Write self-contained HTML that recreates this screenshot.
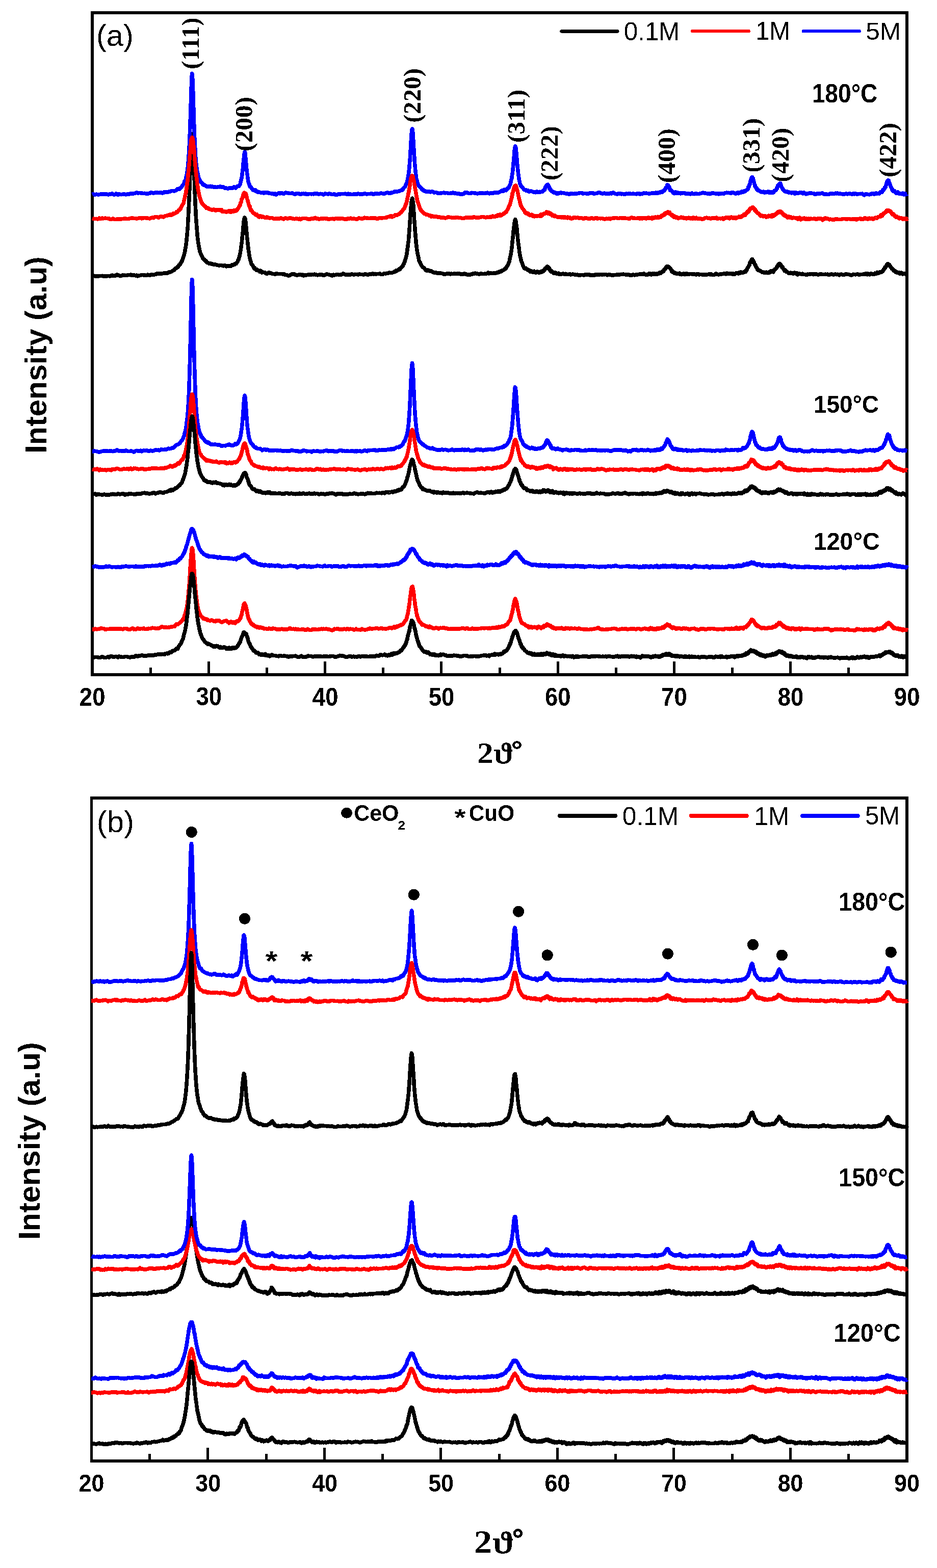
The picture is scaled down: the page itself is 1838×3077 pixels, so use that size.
<!DOCTYPE html>
<html><head><meta charset="utf-8"><title>XRD</title>
<style>html,body{margin:0;padding:0;background:#fff;}svg{display:block;}</style>
</head><body>
<svg width="1838" height="3077" viewBox="0 0 1838 3077" shape-rendering="crispEdges">
<defs><filter id="bin" x="0" y="0" width="100%" height="100%" filterUnits="userSpaceOnUse"><feComponentTransfer><feFuncA type="discrete" tableValues="0 1"/></feComponentTransfer></filter></defs>
<rect width="1838" height="3077" fill="#fff"/>
<rect x="181.0" y="25.0" width="1598.0" height="1298.5" fill="none" stroke="#000" stroke-width="6.0"/>
<line x1="181.0" y1="1323.5" x2="181.0" y2="1297.5" stroke="#000" stroke-width="5"/>
<line x1="295.1" y1="1323.5" x2="295.1" y2="1309.5" stroke="#000" stroke-width="5"/>
<line x1="409.3" y1="1323.5" x2="409.3" y2="1297.5" stroke="#000" stroke-width="5"/>
<line x1="523.4" y1="1323.5" x2="523.4" y2="1309.5" stroke="#000" stroke-width="5"/>
<line x1="637.6" y1="1323.5" x2="637.6" y2="1297.5" stroke="#000" stroke-width="5"/>
<line x1="751.7" y1="1323.5" x2="751.7" y2="1309.5" stroke="#000" stroke-width="5"/>
<line x1="865.9" y1="1323.5" x2="865.9" y2="1297.5" stroke="#000" stroke-width="5"/>
<line x1="980.0" y1="1323.5" x2="980.0" y2="1309.5" stroke="#000" stroke-width="5"/>
<line x1="1094.1" y1="1323.5" x2="1094.1" y2="1297.5" stroke="#000" stroke-width="5"/>
<line x1="1208.3" y1="1323.5" x2="1208.3" y2="1309.5" stroke="#000" stroke-width="5"/>
<line x1="1322.4" y1="1323.5" x2="1322.4" y2="1297.5" stroke="#000" stroke-width="5"/>
<line x1="1436.6" y1="1323.5" x2="1436.6" y2="1309.5" stroke="#000" stroke-width="5"/>
<line x1="1550.7" y1="1323.5" x2="1550.7" y2="1297.5" stroke="#000" stroke-width="5"/>
<line x1="1664.9" y1="1323.5" x2="1664.9" y2="1309.5" stroke="#000" stroke-width="5"/>
<line x1="1779.0" y1="1323.5" x2="1779.0" y2="1297.5" stroke="#000" stroke-width="5"/>
<rect x="179.3" y="1565.8" width="1599.6" height="1301.0" fill="none" stroke="#000" stroke-width="5.6"/>
<line x1="179.3" y1="2866.8" x2="179.3" y2="2840.8" stroke="#000" stroke-width="5"/>
<line x1="293.6" y1="2866.8" x2="293.6" y2="2852.8" stroke="#000" stroke-width="5"/>
<line x1="407.8" y1="2866.8" x2="407.8" y2="2840.8" stroke="#000" stroke-width="5"/>
<line x1="522.1" y1="2866.8" x2="522.1" y2="2852.8" stroke="#000" stroke-width="5"/>
<line x1="636.3" y1="2866.8" x2="636.3" y2="2840.8" stroke="#000" stroke-width="5"/>
<line x1="750.6" y1="2866.8" x2="750.6" y2="2852.8" stroke="#000" stroke-width="5"/>
<line x1="864.8" y1="2866.8" x2="864.8" y2="2840.8" stroke="#000" stroke-width="5"/>
<line x1="979.1" y1="2866.8" x2="979.1" y2="2852.8" stroke="#000" stroke-width="5"/>
<line x1="1093.4" y1="2866.8" x2="1093.4" y2="2840.8" stroke="#000" stroke-width="5"/>
<line x1="1207.6" y1="2866.8" x2="1207.6" y2="2852.8" stroke="#000" stroke-width="5"/>
<line x1="1321.9" y1="2866.8" x2="1321.9" y2="2840.8" stroke="#000" stroke-width="5"/>
<line x1="1436.1" y1="2866.8" x2="1436.1" y2="2852.8" stroke="#000" stroke-width="5"/>
<line x1="1550.4" y1="2866.8" x2="1550.4" y2="2840.8" stroke="#000" stroke-width="5"/>
<line x1="1664.6" y1="2866.8" x2="1664.6" y2="2852.8" stroke="#000" stroke-width="5"/>
<line x1="1778.9" y1="2866.8" x2="1778.9" y2="2840.8" stroke="#000" stroke-width="5"/>
<polyline fill="none" stroke="#000000" stroke-width="7.6" stroke-linejoin="round" stroke-linecap="butt" points="365.2,478.6 366,470.8 366.8,462.6 367.6,453.4 368,449 368.4,444.3 368.7,436.7 369.1,429.9 369.4,424.2 369.8,417.1 370.2,409.4 370.5,400.9 370.9,392.3 371.3,385.5 371.6,376.4 372,367.2 372.4,357.1 372.7,344.7 373.1,335.8 373.5,325.8 373.8,316.6 374.2,307.4 374.6,296.9 374.9,287.3 375.3,279.5 375.7,272.2 376,268.1 376.4,264.4 376.8,263.2 377.1,262.9 377.5,264.4 377.9,268.9 378.2,275.2 378.6,281.3 378.9,289.7 379.3,297.1 379.7,306.4 380,316.7 380.4,328.6 380.8,338.9 381.1,348.7 381.5,358.1 381.9,369.1 382.2,378.5 382.6,387.1 383,395.9 383.3,403.7 383.7,411 384.1,419.4 384.4,425.1 384.8,430.8 385.2,435.6 385.5,441.2 385.9,445.2 386.3,450.4 386.6,454.8 387.4,464.8 388.2,470.9 389,476.9 389.8,481.8"/>
<polyline fill="none" stroke="#0000ff" stroke-width="7.6" stroke-linejoin="round" stroke-linecap="butt" points="181,381.9 182.9,380.9 184.9,381.8 186.8,382.1 188.8,381.1 190.7,381.6 192.6,381.9 194.6,381.7 196.5,381.4 198.5,380.9 200.4,380.8 202.3,381.2 204.3,381.1 206.2,380.8 208.2,380.9 210.1,381.2 212,382 214,381.5 215.9,380.3 217.9,381 219.8,379.8 221.7,381.1 223.7,382.2 225.6,381.7 227.6,380.1 229.5,380.7 231.5,382.4 233.4,380.9 235.3,381.2 237.3,381.8 239.2,381.4 241.2,381.1 243.1,381.2 245,381.1 247,381.9 248.9,381.2 250.9,380.3 252.8,381.3 254.7,380.2 256.7,379.9 258.6,379.7 260.6,380.3 262.5,379.7 264.4,379.3 266.4,378.4 268.3,378 270.3,379.1 272.2,378.9 274.1,378.4 276.1,379 278,379 280,379.7 281.9,379.5 283.8,379.3 285.8,379.7 287.7,380.1 289.7,380 291.6,379.7 293.5,379.6 295.5,377.8 297.4,378 299.4,378.6 301.3,379.3 303.2,378.3 305.2,377.8 307.1,378 309.1,377.8 311,378.4 312.9,378.3 314.9,377.4 316.8,378 318.8,379.1 320.7,378.3 322.7,376.5 324.6,377.2 326.5,376.8 328.5,377.6 330.4,376.3 332.4,375.6 334.3,375.9 336.2,374.8 338.2,374.4 340.1,374.7 342.1,374.8 344,374.5 345.9,373.1 347.9,370.9 349.8,371.3 351.8,371.4 352.6,369.8 353.4,370.1 354.2,369 355,367.9 355.8,367.3 356.6,366.2 357.4,364.7 358.1,363.9 358.9,363 359.7,361.6 360.5,360.5 361.3,358.4 362.1,355.6 362.9,354.6 363.7,353.2 364.5,350.8 365.3,346.7 366.1,343.3 366.9,339.4 367.7,333.5 368.5,326.2 369.3,317.2 370.1,306.5 370.5,301.4 370.9,295.7 371.2,288.8 371.6,280.3 372,271.6 372.3,263.2 372.7,253.7 373.1,241.8 373.4,230.1 373.8,219.5 374.2,208.6 374.5,195.6 374.9,185 375.2,172.8 375.6,162.9 376,153.8 376.3,148.4 376.7,144.3 377.1,145.4 377.4,148.6 377.8,155.2 378.2,162.9 378.5,172.8 378.9,184.7 379.3,197.1 379.6,207.9 380,220.5 380.4,233.3 380.7,243.8 381.1,254.1 381.5,264.4 381.8,272.5 382.2,280.6 382.6,287.7 382.9,293.2 383.3,299.7 383.6,306.8 384.4,318.2 385.2,324.7 386,330.4 386.8,335.4 387.6,338.9 388.4,343.3 389.2,347.1 390,349.2 390.8,351.4 391.6,352.4 392.4,355.4 393.2,356.9 394,357.2 394.8,357.8 395.6,358.5 396.4,359.3 397.2,361.1 398,361.2 398.8,362.8 399.6,363.1 400.4,362.5 401.2,362.7 402,363.6 402.8,364.1 404.8,365.9 406.7,365.9 408.6,366.3 410.6,366.2 412.5,365.3 414.5,366.7 416.4,366 418.3,367 420.3,367.7 422.2,366.8 424.2,367.4 426.1,367.2 428.1,366.5 430,366.8 431.9,365.9 433.9,367.4 435.8,366.8 437.8,366.5 439.7,368.1 441.6,369.4 443.6,368.9 445.5,369.8 447.5,370 449.4,369.1 451.3,369.1 453.3,368.4 455.2,369.6 456,369 456.8,368.4 457.6,368.3 458.4,367.6 459.2,366.8 460,368.2 460.8,367.9 461.6,368.2 462.4,368.8 463.2,367.4 464,367 464.8,365.8 465.6,366.1 466.4,365.7 467.2,365.2 468,365.7 468.8,365.4 469.6,363.7 470.4,362 471.2,361.7 472,356.6 472.8,354.1 473.6,350.2 474,350.1 474.3,347.2 474.7,344.8 475.1,341.2 475.4,338.5 475.8,335.3 476.2,332.3 476.5,328.9 476.9,324.6 477.2,320.2 477.6,316.8 478,313.8 478.3,309.9 478.7,306.3 479.1,303.9 479.4,300.8 479.8,299.6 480.2,297.6 480.5,299.5 480.9,300.2 481.3,304.1 481.6,308.4 482,311.3 482.4,316.2 482.7,320.7 483.1,323.9 483.5,327.2 483.8,332.1 484.2,336 484.6,338.9 484.9,342 485.3,343.4 485.6,346.8 486,349.8 486.4,352.5 486.7,354.3 487.1,356.7 487.9,359.2 488.7,360.8 489.5,364 490.3,366.4 491.1,366.4 491.9,366.6 492.7,368.2 493.5,369.3 494.3,370.2 495.1,370.6 495.9,372.7 496.7,373.2 497.5,372.8 498.3,373.2 499.1,373.1 499.9,373.6 500.7,374.6 501.5,373.1 502.3,373.8 503.1,375.7 503.9,376.4 504.7,376 505.5,377 506.3,376.3 508.2,376.7 510.2,377.6 512.1,378.4 514,378.4 516,377.8 517.9,379 519.9,378 521.8,378.1 523.7,378 525.7,377.9 527.6,379.4 529.6,379.3 531.5,379.8 533.5,379.8 535.4,379.9 537.3,380.9 539.3,379.9 541.2,382 543.2,381 545.1,379.3 547,378.9 549,379.8 550.9,378.9 552.9,378.7 554.8,379.3 556.7,380.6 558.7,378.8 560.6,378 562.6,378.8 564.5,378.4 566.4,379.5 568.4,379.3 570.3,379.7 572.3,379.2 574.2,379.2 576.1,380.4 578.1,381.5 580,380.7 582,379.4 583.9,379.7 585.8,379.9 587.8,380.6 589.7,381.6 591.7,380.2 593.6,380.7 595.5,380.1 597.5,380.7 599.4,380 601.4,381.6 603.3,381 605.2,380.8 607.2,380.4 609.1,380.3 611.1,380.8 613,380.4 614.9,380.9 616.9,380 618.8,380.3 620.8,380.1 622.7,380.1 624.7,381.2 626.6,380.8 628.5,380.3 630.5,380.4 632.4,380.9 634.4,382 636.3,381.4 638.2,379.8 640.2,380.5 642.1,380.7 644.1,381 646,379.6 647.9,380.5 649.9,381.4 651.8,381.6 653.8,381.5 655.7,380.5 657.6,382.2 659.6,382.7 661.5,382 663.5,381 665.4,380.7 667.3,380.8 669.3,380.7 671.2,380.4 673.2,380.6 675.1,380.5 677,380.2 679,380.5 680.9,381.6 682.9,380.2 684.8,381.5 686.7,380.5 688.7,381.4 690.6,381.6 692.6,381.2 694.5,381.4 696.4,380.9 698.4,380.4 700.3,381.4 702.3,379.9 704.2,380.4 706.1,381.2 708.1,381 710,380.7 712,380.8 713.9,380.4 715.9,379.6 717.8,380.4 719.7,381.1 721.7,380.3 723.6,380.4 725.6,380.7 727.5,379.9 729.4,379.7 731.4,380.9 733.3,381.2 735.3,380.2 737.2,379.9 739.1,379.6 741.1,380.2 743,380.5 745,379.8 746.9,379.1 748.8,379.3 750.8,379.8 752.7,380.2 754.7,380 756.6,379 758.5,378.2 760.5,378.1 762.4,379 764.4,378.9 766.3,379 768.2,377.4 770.2,377.8 772.1,377.3 774.1,375.7 776,376.3 777.9,376.3 779.9,375.9 781.8,375.2 782.6,375.3 783.4,374.9 784.2,374.4 785,374.5 785.8,373.7 786.6,373.4 787.4,373.6 788.2,372.8 789,372.4 789.8,372.9 790.6,370.5 791.4,370.4 792.2,368.2 793,367.4 793.8,367 794.6,366.1 795.4,364.2 796.2,361.7 797,360.4 797.8,359.4 798.6,356.1 799.4,353 800.2,349.4 801,344.5 801.8,338.9 802.2,336.1 802.5,332.3 802.9,328.9 803.3,323.1 803.6,318.7 804,314.1 804.4,310.4 804.7,304.3 805.1,297.3 805.5,292.1 805.8,284.6 806.2,278.6 806.5,272.5 806.9,265.2 807.3,261.2 807.6,256.9 808,253.8 808.4,253.7 808.7,252.9 809.1,254.3 809.5,256 809.8,259.8 810.2,265.5 810.6,271 810.9,278.6 811.3,284.8 811.7,291.1 812,296.9 812.4,303 812.8,308 813.1,314 813.5,320 813.9,323.3 814.2,326.8 814.6,331.7 814.9,336 815.3,339.1 815.7,341.9 816,345.2 816.8,351.2 817.6,353 818.4,356.8 819.2,358.5 820,361.8 820.8,363.5 821.6,364.7 822.4,365.2 823.2,365.7 824,367 824.8,368 825.6,369.1 826.4,369.5 827.2,370.9 828,372.4 828.8,372.8 829.6,371.8 830.4,373 831.2,374.2 832,374.9 832.8,375.1 833.6,374.7 834.4,375.6 835.2,375.9 836,375.6 838,376.5 839.9,375.6 841.8,375.8 843.8,376.9 845.7,376.2 847.7,376.2 849.6,376.3 851.5,378 853.5,377.4 855.4,377.7 857.4,378.7 859.3,379.1 861.2,379.6 863.2,379.2 865.1,379 867.1,378.7 869,378.3 870.9,378.1 872.9,378.8 874.8,378.5 876.8,378.3 878.7,379 880.7,379.7 882.6,379.4 884.5,378.4 886.5,379.3 888.4,378 890.4,378.6 892.3,379.8 894.2,379.2 896.2,379.9 898.1,379.8 900.1,380 902,381 903.9,381.5 905.9,380.9 907.8,380.9 909.8,380.3 911.7,377.7 913.6,378.4 915.6,377.7 917.5,378.5 919.5,379.6 921.4,379.4 923.3,379.4 925.3,378.3 927.2,378.6 929.2,378.6 931.1,379.4 933,379.2 935,379.7 936.9,379.9 938.9,379.6 940.8,378.7 942.7,378.7 944.7,378.9 946.6,378.8 948.6,379.6 950.5,379.2 952.4,379.3 954.4,378.8 956.3,378.2 958.3,379.6 960.2,379.8 962.1,378.9 964.1,379.2 966,379.7 968,378.4 969.9,378 971.9,377.8 973.8,377.8 975.7,377.8 977.7,377.9 979.6,376.9 981.6,375.8 983.5,374.3 984.3,374.6 985.1,374.1 985.9,375.2 986.7,373.7 987.5,375.3 988.3,374.4 989.1,372.3 989.9,373 990.7,372.9 991.5,372.9 992.3,373 993.1,373.6 993.9,372.4 994.7,370 995.5,369.7 996.3,369.6 997.1,369.5 997.9,368.6 998.7,366.6 999.5,364.4 1000.3,363.2 1001.1,361.1 1001.9,358.2 1002.7,353.5 1003.5,351.8 1003.8,349.9 1004.2,346.2 1004.6,344 1004.9,341.7 1005.3,339.4 1005.7,336 1006,332.4 1006.4,327.9 1006.8,324 1007.1,319.9 1007.5,317 1007.9,312 1008.2,308.3 1008.6,304.1 1008.9,299.1 1009.3,294 1009.7,292 1010,290 1010.4,288.5 1010.8,286.8 1011.1,287.6 1011.5,289.5 1011.9,289.9 1012.2,293.3 1012.6,297.4 1013,301.7 1013.3,307 1013.7,310.5 1014.1,315.4 1014.4,319.1 1014.8,323.5 1015.2,327.6 1015.5,330.1 1015.9,333.4 1016.3,338 1016.6,340.4 1017,343.1 1017.3,346.1 1017.7,348.7 1018.1,351.2 1018.4,354.1 1019.2,356.3 1020,360.5 1020.8,361.7 1021.6,364.6 1022.4,366.1 1023.2,365.9 1024,366.8 1024.8,367.7 1025.6,368.7 1026.4,369.8 1027.2,371.3 1028,372.5 1028.8,372.3 1029.6,372.7 1030.4,372.8 1031.2,372.6 1032,373 1032.8,374.5 1033.6,374.2 1034.4,374.6 1035.2,374.8 1036,373.9 1036.8,374.8 1037.6,376.3 1038.4,376.3 1039.2,375.5 1041.2,375.1 1043.1,375.5 1045,376.3 1047,377.4 1047.8,377.3 1048.6,377.4 1049.4,376.6 1050.2,377.8 1051,377.7 1051.8,377.4 1052.6,377.1 1053.4,375.8 1054.2,376.3 1055,377.1 1055.8,377.4 1056.6,377.4 1057.4,376.9 1058.2,376.3 1059,376.9 1059.8,377.1 1060.6,376.7 1061.4,376.5 1062.2,376.5 1063,375.5 1063.8,375.7 1064.6,376 1065.4,374.6 1066.2,373.9 1067,372.9 1067.3,373.5 1067.7,372.1 1068,371.6 1068.4,372.5 1068.8,370.9 1069.1,369.5 1069.5,368.7 1069.9,367 1070.2,366.7 1070.6,366.2 1071,366.3 1071.3,365.2 1071.7,364.3 1072.1,364.8 1072.4,363.3 1072.8,363.5 1073.2,363 1073.5,363.2 1073.9,363.1 1074.3,362.6 1074.6,362.3 1075,364.2 1075.4,364.6 1075.7,364 1076.1,364.6 1076.5,365.7 1076.8,366.6 1077.2,368.6 1077.5,369.3 1077.9,368.1 1078.3,370.2 1078.6,370.1 1079,370.7 1079.4,371.5 1079.7,373 1080.1,372.5 1080.5,372.7 1080.8,373.8 1081.2,373.6 1081.6,374.8 1082.4,375.5 1083.2,375.3 1084,376.3 1084.8,377.2 1085.6,376.6 1086.4,377.8 1087.2,378.1 1088,377.5 1088.8,377.5 1089.6,377.9 1090.4,378.2 1091.2,379.6 1092,380.2 1092.8,379.9 1093.5,378.7 1094.3,380.4 1095.1,378.5 1095.9,378.8 1096.7,379.5 1097.5,378.9 1098.3,378.3 1099.1,378.2 1099.9,378.2 1100.7,378.1 1101.5,378.9 1102.3,378.7 1104.3,378.6 1106.2,378.9 1108.2,379.4 1110.1,380 1112,380.3 1114,380 1115.9,381.3 1117.9,380.9 1119.8,379.5 1121.7,379.6 1123.7,380.4 1125.6,380.3 1127.6,380.1 1129.5,379.6 1131.4,380 1133.4,379.6 1135.3,379 1137.3,378.9 1139.2,378.3 1141.1,378.4 1143.1,379.9 1145,379.7 1147,379.5 1148.9,379.3 1150.8,380 1152.8,379.9 1154.7,379.9 1156.7,379.1 1158.6,378.5 1160.6,378.8 1162.5,378.6 1164.4,379.9 1166.4,379.7 1168.3,379.7 1170.3,379.3 1172.2,378.9 1174.1,377.9 1176.1,377.9 1178,378.8 1180,379.4 1181.9,380.4 1183.8,379.7 1185.8,378.9 1187.7,380.1 1189.7,380.3 1191.6,380.2 1193.5,380.2 1195.5,380 1197.4,378.9 1199.4,379.9 1201.3,378.7 1203.2,377.7 1205.2,379.4 1207.1,380.4 1209.1,380.7 1211,380.9 1212.9,380 1214.9,379.9 1216.8,379.9 1218.8,380.8 1220.7,380.3 1222.6,380.6 1224.6,381.3 1226.5,381 1228.5,380.1 1230.4,380.6 1232.3,380 1234.3,380.1 1236.2,379.7 1238.2,380.5 1240.1,380.3 1242,380.2 1244,380.3 1245.9,380.3 1247.9,380.9 1249.8,379.8 1251.8,380.6 1253.7,379.8 1255.6,381.2 1257.6,380.2 1259.5,380.8 1261.5,379.2 1263.4,378.9 1265.3,379.5 1267.3,379.1 1269.2,379.4 1271.2,379.7 1273.1,379.9 1275,379.9 1277,379.3 1278.9,378.8 1280.9,378.3 1281.7,379.3 1282.5,378.8 1283.3,378.5 1284.1,379.4 1284.9,379.5 1285.7,378.8 1286.5,378.2 1287.2,379.4 1288,378.9 1288.8,378.6 1289.6,378.3 1290.4,379 1291.2,377.9 1292,378 1292.8,377.6 1293.6,378 1294.4,377.9 1295.2,377.7 1296,376.3 1296.8,376.2 1297.6,376.8 1298.4,377.5 1299.2,377.5 1300,376.6 1300.8,375.5 1301.6,374.1 1302.4,373.4 1302.8,374.3 1303.2,373.1 1303.5,372.8 1303.9,372.9 1304.3,371.8 1304.6,372 1305,370.6 1305.4,369.6 1305.7,370.5 1306.1,368.3 1306.4,369.2 1306.8,368.5 1307.2,367.8 1307.5,368 1307.9,366.6 1308.3,365.5 1308.6,363.6 1309,362.8 1309.4,363.2 1309.7,363.5 1310.1,364.4 1310.5,363.6 1310.8,364.1 1311.2,365.9 1311.6,366.1 1311.9,366.3 1312.3,367.5 1312.7,366.9 1313,367.8 1313.4,368.2 1313.8,370.1 1314.1,371.3 1314.5,373.3 1314.8,372.9 1315.2,372.2 1315.6,373.7 1315.9,373.9 1316.3,373.9 1316.7,373.2 1317,374.2 1317.4,374.7 1317.8,375.2 1318.6,375.1 1319.4,375.8 1320.2,378.5 1321,378.7 1321.8,378.6 1322.6,379.7 1323.4,378.7 1324.2,378.1 1325,376.6 1325.8,377.3 1326.6,379 1327.4,378.8 1328.2,378.1 1329,377.7 1329.8,379.5 1330.6,378.8 1331.4,379.5 1332.2,379.2 1333,378.7 1333.8,378.4 1334.6,378.6 1335.3,379.9 1336.1,378.7 1336.9,378.9 1337.7,379.3 1338.5,378.4 1339.3,378.4 1340.1,378.4 1342.1,378.4 1344,379.8 1346,380.1 1347.9,379.9 1349.8,380 1351.8,379.9 1353.7,380.9 1355.7,379.7 1357.6,379.1 1359.5,380.5 1361.5,380.8 1363.4,379.9 1365.4,379.9 1367.3,380.2 1369.2,380.6 1371.2,380.5 1373.1,379.5 1375.1,379.3 1377,378.8 1379,378.2 1380.9,378.9 1382.8,378.7 1384.8,379.4 1386.7,379.8 1388.7,380.2 1390.6,379.8 1392.5,380.8 1394.5,380.1 1396.4,378.9 1398.4,378.5 1400.3,379.7 1402.2,379.4 1404.2,380.5 1406.1,379.9 1408.1,379.5 1410,380.8 1411.9,379.9 1413.9,380.2 1415.8,379.5 1417.8,379.4 1419.7,380.6 1421.6,378.8 1423.6,378.5 1425.5,377.9 1427.5,378.5 1429.4,378.3 1431.3,378.6 1433.3,379.6 1435.2,377.4 1437.2,377.3 1439.1,378.5 1441,379.5 1443,380.1 1444.9,378.8 1445.7,379.2 1446.5,379.1 1447.3,377.7 1448.1,378.6 1448.9,379.6 1449.7,377.7 1450.5,377.4 1451.3,378 1452.1,378 1452.9,378.3 1453.7,377.1 1454.5,377 1455.3,375.6 1456.1,375.8 1456.9,377.1 1457.7,376.1 1458.5,375.6 1459.3,375.2 1460.1,376.1 1460.9,376 1461.7,374.7 1462.5,374.5 1463.3,373.7 1464.1,373.3 1464.9,372.9 1465.7,372.6 1466.5,372.1 1467.3,370.8 1467.7,369.5 1468,366.7 1468.4,367.1 1468.8,367.2 1469.1,366.1 1469.5,365.2 1469.9,363.1 1470.2,363.1 1470.6,362.5 1471,361.2 1471.3,359.5 1471.7,358 1472,356.7 1472.4,353.9 1472.8,353.4 1473.1,353.4 1473.5,352.5 1473.9,350 1474.2,349.6 1474.6,348.1 1475,348 1475.3,348.1 1475.7,347.9 1476.1,348.9 1476.4,350.5 1476.8,349.2 1477.2,349.9 1477.5,351.4 1477.9,352.8 1478.3,355.8 1478.6,356.9 1479,357.4 1479.4,358.4 1479.7,360.1 1480.1,361.4 1480.4,362.8 1480.8,364.8 1481.2,364.2 1481.5,366.5 1481.9,367.3 1482.3,367.6 1482.6,367.8 1483,368.7 1483.4,369.3 1483.7,370.3 1484.5,369.6 1485.3,371.8 1486.1,373.2 1486.9,372.6 1487.7,374.2 1488.5,373.9 1489.3,374 1490.1,375.1 1490.9,375.2 1491.7,375.6 1492.5,376.4 1493.3,376.8 1494.1,376.4 1494.9,376.5 1495.7,376.9 1496.5,376.2 1497.3,376 1498.1,376.5 1498.9,377.9 1499.7,378.1 1500.5,377 1501.3,376.9 1502.1,377.8 1502.9,377.7 1503.7,376.7 1504.5,377.3 1505.3,376.3 1506.1,376 1506.9,376.6 1507.7,377.4 1508.5,378.3 1509.3,378 1510.1,376.4 1510.9,377 1511.7,377.8 1512.5,377.5 1513.3,376.8 1514.1,378 1514.9,377.2 1515.7,378.1 1516.5,377.2 1517.3,377.6 1518.1,375.7 1518.9,374.4 1519.7,375 1520.5,374 1521.3,373.6 1521.7,373.4 1522,373 1522.4,372.8 1522.7,372.6 1523.1,370.9 1523.5,370.3 1523.8,369.2 1524.2,370.3 1524.6,367.4 1524.9,367.6 1525.3,365.9 1525.7,365.9 1526,363.9 1526.4,364.3 1526.8,363.3 1527.1,362.7 1527.5,363.3 1527.9,361.6 1528.2,361.3 1528.6,361.1 1529,360.9 1529.3,361.3 1529.7,360.1 1530.1,359.5 1530.4,360.3 1530.8,360 1531.2,361 1531.5,362.7 1531.9,362.8 1532.2,364.4 1532.6,364.9 1533,367 1533.3,367.6 1533.7,367.7 1534.1,369 1534.4,370 1534.8,370.5 1535.2,371 1535.5,371.4 1535.9,371.1 1536.3,372.4 1536.6,372.7 1537,373.7 1537.4,373.7 1537.7,374.4 1538.1,374.5 1538.9,375.5 1539.7,375 1540.5,375.4 1541.3,376.3 1542.1,375.8 1542.9,375.9 1543.7,375.8 1544.5,377.1 1545.3,376.5 1546.1,376.3 1546.9,377.1 1547.7,377.9 1548.5,377.4 1549.3,377.5 1550.1,377.6 1550.9,377.8 1551.7,377.9 1552.5,379.1 1553.3,378.5 1554.1,377.8 1554.9,377.4 1555.7,377.4 1556.5,378.5 1557.3,378.2 1558.1,379.4 1558.9,380 1559.7,377.9 1560.5,378.1 1561.3,377.9 1563.2,378.9 1565.1,379.7 1567.1,378.7 1569,378 1571,378.1 1572.9,378.1 1574.8,379.8 1576.8,377.8 1578.7,379 1580.7,380.8 1582.6,379.8 1584.5,379.9 1586.5,379.2 1588.4,379.3 1590.4,378.7 1592.3,379.4 1594.2,379.6 1596.2,379.3 1598.1,381.2 1600.1,381.2 1602,380.5 1604,379.3 1605.9,380 1607.8,380.1 1609.8,379.7 1611.7,379.3 1613.7,379.1 1615.6,380.9 1617.5,380.9 1619.5,381 1621.4,381.1 1623.4,381.5 1625.3,381.6 1627.2,380.5 1629.2,379.7 1631.1,380.1 1633.1,379.8 1635,380.4 1636.9,380.6 1638.9,379.2 1640.8,379.9 1642.8,379 1644.7,380.3 1646.6,380.3 1648.6,380 1650.5,380.5 1652.5,381 1654.4,381 1656.3,380.9 1658.3,380.5 1660.2,379.7 1662.2,380.9 1664.1,380.5 1666,379.5 1668,380.3 1669.9,380.6 1671.9,381.5 1673.8,379.6 1675.7,380.8 1677.7,379.8 1679.6,380.7 1681.6,381.3 1683.5,380.5 1685.4,380.4 1687.4,380.3 1689.3,380.7 1691.3,380 1693.2,381.3 1695.2,382.9 1697.1,381.1 1699,380.3 1701,381.1 1702.9,381.6 1704.9,381.8 1706.8,381.1 1708.7,380.9 1709.5,380.2 1710.3,379.8 1711.1,380.2 1711.9,379.9 1712.7,379.8 1713.5,380.7 1714.3,379.8 1715.1,381 1715.9,380.1 1716.7,379.6 1717.5,379.2 1718.3,379.1 1719.1,379.1 1719.9,380.1 1720.7,379.5 1721.5,379.6 1722.3,379.4 1723.1,379.7 1723.9,379.3 1724.7,380.1 1725.5,378.9 1726.3,377.4 1727.1,377.1 1727.9,376.4 1728.7,376.5 1729.5,376 1730.3,376.8 1731.1,375.1 1731.9,372.4 1732.7,372.2 1733.5,372.1 1733.9,372.3 1734.2,370.3 1734.6,370.1 1735,370.6 1735.3,368.3 1735.7,368.4 1736.1,367.7 1736.4,368.2 1736.8,367.5 1737.2,366.6 1737.5,365.2 1737.9,363.9 1738.3,362.5 1738.6,360.6 1739,359.5 1739.3,359.1 1739.7,357.2 1740.1,356.8 1740.4,356.8 1740.8,356.1 1741.2,354.3 1741.5,354.2 1741.9,354 1742.3,354 1742.6,355.5 1743,355.7 1743.4,354.4 1743.7,357 1744.1,357.3 1744.5,358.2 1744.8,359.3 1745.2,359.9 1745.6,360.3 1745.9,361.9 1746.3,363 1746.7,364 1747,365.5 1747.4,367 1747.7,366.8 1748.1,367.8 1748.5,368.7 1748.8,369.2 1749.2,370.5 1749.6,371.1 1749.9,372.3 1750.3,372.6 1750.7,371.8 1751,374.1 1751.4,374.6 1752.2,375.3 1753,375.1 1753.8,375.6 1754.6,374.6 1755.4,376.1 1756.2,377.4 1757,378.6 1757.8,379 1758.6,379 1759.4,377.7 1760.2,377.7 1761,377 1761.8,378.1 1762.6,379.8 1763.4,380 1764.2,380.1 1765,380.7 1765.8,380.6 1766.6,379.8 1767.4,380.3 1768.2,380.7 1769,380.1 1769.8,379.5 1770.6,379.2 1771.4,380.8 1772.2,380.1 1773,381.8 1773.8,380.6 1774.6,380.8 1775.4,380.2 1776.2,381.8 1777,381.1 1778.9,381.1 1779,380.9"/>
<polyline fill="none" stroke="#ff0000" stroke-width="7.6" stroke-linejoin="round" stroke-linecap="butt" points="181,428.5 182.9,429.1 184.9,429.4 186.8,429.6 188.8,429.3 190.7,429.8 192.6,429.8 194.6,427.8 196.5,429.1 198.5,429.2 200.4,428 202.3,428.8 204.3,428.4 206.2,428.2 208.2,428.3 210.1,428.5 212,428.8 214,428.3 215.9,430.4 217.9,430.6 219.8,429.6 221.7,429 223.7,430 225.6,430.6 227.6,430.4 229.5,430.2 231.5,429.5 233.4,430.1 235.3,429.9 237.3,430 239.2,429.4 241.2,429.4 243.1,429.2 245,428.5 247,429.5 248.9,429.3 250.9,429.4 252.8,429.2 254.7,428.3 256.7,428.3 258.6,427.8 260.6,428.1 262.5,428.6 264.4,428.4 266.4,428.8 268.3,429 270.3,428.5 272.2,428 274.1,427.3 276.1,427.9 278,428.8 280,427.8 281.9,427.8 283.8,427.3 285.8,427.3 287.7,428.4 289.7,428.2 291.6,428.6 293.5,428.9 295.5,428.2 297.4,427.3 299.4,426.7 301.3,427.7 303.2,426.2 305.2,425.4 307.1,425.3 309.1,426.5 311,427.4 312.9,425.7 314.9,424.8 316.8,424.5 318.8,425.4 320.7,426 322.7,424.5 324.6,423.6 326.5,423.3 328.5,423.1 330.4,422.1 331.2,421.8 332,421.5 332.8,422.3 333.6,420.8 334.4,421 335.2,421.2 336,422 336.8,420.9 337.6,420.4 338.4,419.9 339.2,420.6 340,418.9 340.8,418.7 341.6,418.8 342.4,419.3 343.2,418.9 344,418.1 344.8,417.9 345.6,416.9 346.4,415.6 347.2,415.8 348,416.2 348.8,415.2 349.6,414 350.4,412.4 351.2,412.5 352,412.1 352.8,410.4 353.6,410.2 354.4,409.5 355.2,407.4 356,405.8 356.8,404.1 357.6,401.6 358.4,401.3 359.2,399.9 360,398.6 360.8,394.6 361.6,390.8 362.4,387.8 363.2,384.4 364,380.6 364.8,377.9 365.1,374.9 365.5,372.8 365.9,370.2 366.2,366.8 366.6,364.9 367,362.2 367.3,358.8 367.7,356.6 368.1,352.9 368.4,351.4 368.8,346.7 369.2,341.6 369.5,338.3 369.9,335.1 370.2,332.1 370.6,327.6 371,322.9 371.3,319.7 371.7,313.8 372.1,308.5 372.4,305 372.8,300.6 373.2,296.8 373.5,292.2 373.9,287.3 374.3,283.4 374.6,279.1 375,275.5 375.4,273 375.7,272.3 376.1,272.2 376.5,270.8 376.8,269.6 377.2,271.5 377.6,270.8 377.9,272.2 378.3,273.8 378.6,276.6 379,278 379.4,282.5 379.7,284.9 380.1,287.6 380.5,292.6 380.8,295.8 381.2,301.7 381.6,306.9 381.9,311.4 382.3,315.4 382.7,318.7 383,323 383.4,328.1 383.8,333 384.1,336.1 384.5,339.2 384.9,341.3 385.2,345.6 385.6,349.4 386,351.2 386.3,354.4 386.7,358.6 387.1,362.3 387.4,364.9 387.8,366 388.1,369.2 388.5,371.3 388.9,373.1 389.2,375.5 389.6,376.9 390,378.5 390.8,383.2 391.6,386.8 392.4,388.9 393.2,390.7 394,393.1 394.8,395.7 395.6,397.7 396.4,399.3 397.2,399.5 398,401 398.8,401.8 399.6,402.8 400.4,404 401.2,404.2 402,404.9 402.8,404.9 403.6,406.3 404.4,408.1 405.2,407.6 406,407.8 406.8,408.4 407.6,407.9 408.3,408.2 409.1,409.8 409.9,410.6 410.7,410.5 411.5,410.4 412.3,410.5 413.1,411.7 413.9,411.5 414.7,411.6 415.5,412.1 416.3,412.2 417.1,411.7 417.9,411.2 418.7,411.4 419.5,410.9 420.3,411.5 421.1,412.7 421.9,412.9 422.7,412.5 423.5,413.2 424.3,412.2 425.1,412.5 427.1,411.8 429,411.9 431,412.2 432.9,412.2 433.7,413.6 434.5,411.5 435.3,412.8 436.1,415.1 436.9,414.6 437.7,415.1 438.5,414.8 439.3,414.5 440.1,414.8 440.9,415.1 441.7,415 442.5,415.7 443.3,415.7 444.1,416.3 444.9,415.5 445.7,414.9 446.5,414.7 447.3,414.4 448.1,415.3 448.9,415.1 449.7,413.7 450.5,414.3 451.3,415.8 452.1,413.7 452.9,414.6 453.7,415.9 454.5,415.1 455.3,415.2 456.1,413.8 456.9,414.5 457.7,413.9 458.5,415.2 459.3,412.9 460.1,414.2 460.9,414.1 461.7,413.4 462.5,413.7 463.3,413.8 464.1,411.5 464.9,411.2 465.6,411.3 466.4,409.8 467.2,409.2 467.6,408.3 468,407.9 468.3,407.3 468.7,405.9 469.1,405.6 469.4,404.2 469.8,404.8 470.2,403.7 470.5,402.4 470.9,402.5 471.3,400.2 471.6,398.6 472,397.7 472.4,397.3 472.7,397.1 473.1,396.1 473.5,393.9 473.8,391.5 474.2,391.5 474.6,390.5 474.9,390.1 475.3,389.4 475.6,388.7 476,386.8 476.4,384.6 476.7,384.7 477.1,382.6 477.5,380.6 477.8,380.2 478.2,380 478.6,379.3 478.9,378.2 479.3,378.8 479.7,378.7 480,379.6 480.4,378.9 480.8,379.8 481.1,380.4 481.5,381.3 481.9,380.4 482.2,380.1 482.6,381.2 483,382.5 483.3,384.8 483.7,385.3 484,387 484.4,389 484.8,390.5 485.1,391.2 485.5,392.1 485.9,393.5 486.2,395.5 486.6,396.1 487,397.5 487.3,397.9 487.7,400.7 488.1,402.2 488.4,402.4 488.8,404.2 489.2,404.6 489.5,405 489.9,404.3 490.3,407.3 490.6,409.1 491,409.7 491.4,410.8 491.7,411.2 492.1,412.7 492.5,411.6 492.8,412.8 493.2,413.5 494,414.1 494.8,415.2 495.6,417 496.4,417 497.2,418.4 498,418.3 498.8,418.5 499.6,419.3 500.4,420.5 501.2,420.4 502,421.9 502.8,421.5 503.6,420.8 504.4,421.8 505.2,423.5 506,424.2 506.8,425 507.6,423.9 508.4,425.9 509.2,424.2 510,424.4 510.8,424.1 511.6,424.1 512.4,425.1 513.2,425.9 514,424.8 514.8,425.6 515.6,425 516.4,425.8 517.2,425.9 517.9,426.4 518.7,426.5 519.5,427.3 520.3,427 521.1,427.3 521.9,426.7 522.7,427.2 523.5,426.1 524.3,426.4 525.1,426.8 525.9,427.4 526.7,427.1 527.5,427.8 528.3,427.9 529.1,428 531.1,427.7 533,427.3 535,428.5 536.9,429 538.8,429.7 540.8,428.8 542.7,429 544.7,429.3 546.6,428.7 548.5,429 550.5,427.9 552.4,428.2 554.4,429.3 556.3,430.1 558.2,428.6 560.2,427.9 562.1,428.6 564.1,429.4 566,428.6 567.9,428 569.9,427.7 571.8,428.7 573.8,428.7 575.7,429.3 577.6,429.8 579.6,429.2 581.5,428.8 583.5,429.3 585.4,430.1 587.3,429 589.3,430.7 591.2,429.3 593.2,428.8 595.1,428.6 597.1,428.3 599,428.3 600.9,428.7 602.9,429.6 604.8,430 606.8,429.6 608.7,429.9 610.6,428.7 612.6,428.5 614.5,429.5 616.5,428.1 618.4,427.3 620.3,428.9 622.3,428.7 624.2,429.4 626.2,430.4 628.1,429.4 630,428.8 632,428.5 633.9,429.6 635.9,428.3 637.8,428.5 639.7,429.6 641.7,429 643.6,430.3 645.6,430.1 647.5,429.7 649.4,429.3 651.4,429.6 653.3,429.2 655.3,430 657.2,429.1 659.1,428.4 661.1,428.3 663,429.7 665,429.3 666.9,428.6 668.8,428.9 670.8,428.4 672.7,429 674.7,429.6 676.6,430.2 678.5,429.6 680.5,430 682.4,428.5 684.4,429 686.3,428.8 688.3,428.2 690.2,429.2 692.1,429.5 694.1,428.8 696,429.3 698,429.8 699.9,430 701.8,429.6 703.8,427.9 705.7,428.6 707.7,428.8 709.6,429.6 711.5,429 713.5,428.3 715.4,427.2 717.4,427.8 719.3,428.2 721.2,427.9 723.2,428.4 725.1,428.5 727.1,427.9 729,427.7 730.9,428.1 732.9,427.9 734.8,428 736.8,428 738.7,429.2 740.6,429.4 742.6,428.4 744.5,427.4 746.5,427.6 748.4,428.3 750.3,427.8 752.3,427.4 754.2,427.7 756.2,427.2 758.1,427.4 758.9,426.4 759.7,426 760.5,425.8 761.3,425.4 762.1,425.6 762.9,425.3 763.7,424.9 764.5,425.3 765.3,424.1 766.1,424.8 766.9,424.3 767.7,423.9 768.5,424.1 769.3,425.9 770.1,425.1 770.9,424.9 771.7,424.3 772.5,424.5 773.3,423.8 774.1,423.3 774.9,422.8 775.7,421.5 776.5,421.7 777.3,422.1 778.1,422.6 778.9,422.4 779.7,421.5 780.5,420.9 781.3,420.7 782.1,420.7 782.9,420 783.7,419.2 784.5,418.9 785.3,417.8 786.1,416.9 786.9,417 787.7,415.4 788.5,414.7 789.3,413.8 790.1,411.9 790.9,410.9 791.7,410.6 792.5,410.1 793.3,408.8 794.1,406.4 794.9,404.4 795.7,401 796,400.5 796.4,400.6 796.8,400 797.1,398.3 797.5,396.7 797.9,396 798.2,393.9 798.6,392.7 798.9,390.2 799.3,388.8 799.7,386.9 800,385.8 800.4,383.8 800.8,381.2 801.1,379.6 801.5,377.5 801.9,376.4 802.2,373.7 802.6,371.2 803,370.4 803.3,368 803.7,365.5 804.1,362.8 804.4,359.8 804.8,357.6 805.2,355.1 805.5,353.5 805.9,350.9 806.3,349.7 806.6,348.1 807,347.3 807.3,346.6 807.7,346.7 808.1,345.4 808.4,344.8 808.8,345.8 809.2,345.4 809.5,345.4 809.9,346 810.3,348.5 810.6,350.1 811,351.7 811.4,353.1 811.7,354.4 812.1,356.3 812.5,357.7 812.8,361.3 813.2,363.3 813.6,364.5 813.9,368.3 814.3,369.9 814.7,371.4 815,373.1 815.4,374.9 815.7,376.9 816.1,379.5 816.5,382.5 816.8,383.4 817.2,385.7 817.6,387.6 817.9,389.6 818.3,392.4 818.7,393.8 819,395.4 819.4,396.2 819.8,396.6 820.1,397.4 820.5,398.7 820.9,400.2 821.2,401.2 821.6,402.6 822,402.8 822.3,404.8 823.1,406.3 823.9,409.3 824.7,410.8 825.5,411.6 826.3,414 827.1,414 827.9,414.6 828.7,415.9 829.5,416.7 830.3,416.7 831.1,418.1 831.9,418.7 832.7,419.5 833.5,419.6 834.3,419.9 835.1,420.5 835.9,421.3 836.7,421.1 837.5,421.3 838.3,421.2 839.1,421.6 839.9,421.6 840.7,422.2 841.5,422.9 842.3,423.5 843.1,423 843.9,422.6 844.7,424 845.5,424 846.3,425.2 847.1,423.8 847.9,424.6 848.7,424.1 849.5,424.5 850.3,424.6 851.1,425.1 851.9,425.4 852.7,425.7 853.5,425 854.3,424.4 855.1,424.3 855.9,425 856.7,425.5 857.5,425.4 858.3,425.6 859.1,426.2 859.9,426.1 861.8,425.5 863.8,426.8 865.7,426.7 867.6,427 869.6,426.5 871.5,427.5 873.5,428.1 875.4,427.4 877.3,426.4 879.3,425.8 881.2,426.2 883.2,426.5 885.1,426.9 887,427.5 889,427.2 890.9,427.5 892.9,427.1 894.8,426.8 896.7,426.6 898.7,426.9 900.6,427.6 902.6,427.3 904.5,427.7 906.4,428.4 908.4,428.5 910.3,428.2 912.3,427.6 914.2,426.9 916.1,427 918.1,426.7 920,427 922,427.7 923.9,426.3 925.9,427 927.8,427 929.7,425.6 931.7,426.5 933.6,427.2 935.6,426.8 937.5,426.9 939.4,427 941.4,426.6 943.3,425.9 945.3,425.4 947.2,425.4 949.1,426 951.1,426.3 953,426.9 955,426.1 956.9,426.4 958.8,426.6 959.6,425.8 960.4,426.4 961.2,425.4 962,426.3 962.8,426.4 963.6,426 964.4,424.9 965.2,424.7 966,424.1 966.8,424.2 967.6,424.9 968.4,425.3 969.2,424.9 970,425.3 970.8,424.7 971.6,425 972.4,424.3 973.2,424.3 974,423.2 974.8,422.8 975.6,424.1 976.4,423.1 977.2,422 978,423.3 978.8,422.5 979.6,422 980.4,422.5 981.2,420.9 982,423.6 982.8,422.9 983.6,422.4 984.4,421.9 985.2,421.3 986,420.8 986.8,419.7 987.6,419.6 988.4,418.6 989.2,419.2 990,417.6 990.8,416.7 991.6,417.2 992.4,416.5 993.2,415.7 994,413.5 994.8,412.5 995.6,411.7 996.4,409.9 997.2,408.1 997.6,407 997.9,405.7 998.3,405.3 998.7,404.5 999,403.4 999.4,402.7 999.7,401.9 1000.1,402.1 1000.5,401 1000.8,399.1 1001.2,398.1 1001.6,397.1 1001.9,394.2 1002.3,393.7 1002.7,392 1003,391 1003.4,388.7 1003.8,388.5 1004.1,385.6 1004.5,384.5 1004.9,382.5 1005.2,379.3 1005.6,378.5 1006,377.9 1006.3,376.7 1006.7,375.7 1007.1,373.4 1007.4,371.1 1007.8,370.9 1008.1,369 1008.5,368.3 1008.9,367 1009.2,365.7 1009.6,365.7 1010,364.6 1010.3,364.4 1010.7,364.6 1011.1,365.7 1011.4,364.9 1011.8,363.9 1012.2,366.2 1012.5,367.7 1012.9,368.4 1013.3,368.3 1013.6,371.4 1014,371.4 1014.4,372.4 1014.7,373.6 1015.1,374.7 1015.5,376.5 1015.8,378.6 1016.2,380.4 1016.5,382 1016.9,383.8 1017.3,384.9 1017.6,386.8 1018,389 1018.4,390.5 1018.7,392.2 1019.1,392.7 1019.5,393.4 1019.8,396.8 1020.2,396.8 1020.6,398.2 1020.9,400.1 1021.3,402.1 1021.7,403.5 1022,403.7 1022.4,404.2 1022.8,405.2 1023.1,405.1 1023.5,406.9 1023.9,407.6 1024.2,408.3 1024.6,408.7 1024.9,409.2 1025.7,410.3 1026.5,410.7 1027.3,412.4 1028.1,412.5 1028.9,414.4 1029.7,416.6 1030.5,417.1 1031.3,418.2 1032.1,418.9 1032.9,417.8 1033.7,418.8 1034.5,419.6 1035.3,419.8 1036.1,419.1 1036.9,420.1 1037.7,421.8 1038.5,421.3 1039.3,422.6 1040.1,422.1 1040.9,421.8 1041.7,421.5 1042.5,422.2 1043.3,421.3 1044.1,422.8 1044.9,424.1 1045.7,423.4 1046.5,423 1047.3,423.8 1048.1,424.9 1048.9,424.4 1049.7,423.5 1050.5,423.9 1051.3,423.7 1052.1,423.8 1052.9,424.2 1053.7,423.8 1054.5,423.9 1055.3,423.8 1056.1,423.5 1056.9,423.5 1057.7,423.3 1058.5,423.9 1059.3,424.3 1060.1,423 1060.5,421.9 1060.8,421.1 1061.2,422.2 1061.6,422.1 1061.9,424 1062.3,422.9 1062.7,423.2 1063,421.5 1063.4,422.4 1063.8,421.4 1064.1,421 1064.5,421.8 1064.9,421.7 1065.2,421.4 1065.6,420.7 1065.9,420.3 1066.3,420.3 1066.7,419.2 1067,419.5 1067.4,419.5 1067.8,419.2 1068.1,418.5 1068.5,419.2 1068.9,418.9 1069.2,419.5 1069.6,418.4 1070,418.2 1070.3,418.6 1070.7,418.7 1071.1,417.5 1071.4,417.1 1071.8,417.5 1072.2,415.9 1072.5,416.5 1072.9,417.3 1073.3,416.9 1073.6,417.9 1074,417.3 1074.4,417.3 1074.7,416.6 1075.1,417.4 1075.4,419.1 1075.8,417.6 1076.2,417 1076.5,417.2 1076.9,418 1077.3,417.6 1077.6,417.6 1078,419.1 1078.4,419.8 1078.7,419.8 1079.1,419.4 1079.5,418.6 1079.8,418.7 1080.2,419.9 1080.6,421.3 1080.9,421.5 1081.3,420.8 1081.7,421.8 1082,421.6 1082.4,420.6 1082.8,420.8 1083.1,421.1 1083.5,422.7 1083.8,423.6 1084.2,423.3 1084.6,422.8 1084.9,422.8 1085.3,422.6 1085.7,422.7 1086,423.5 1086.4,422.6 1086.8,423.8 1087.1,424.1 1087.5,424.5 1087.9,424 1088.2,423.6 1089,423.3 1089.8,424.6 1090.6,424.7 1091.4,425.1 1092.2,425.6 1093,425.6 1093.8,425.8 1094.6,426.6 1095.4,426.6 1096.2,425.7 1097,425.6 1097.8,426.5 1098.6,426.4 1099.4,425.7 1100.2,426.2 1101,426.8 1101.8,425.5 1102.6,426.2 1103.4,426.1 1104.2,426.8 1105,427.2 1105.8,425.5 1106.6,426 1107.4,425.5 1108.2,425.8 1109,427.1 1109.8,427.3 1110.6,427.5 1111.4,427.3 1112.2,426.7 1113,427.7 1113.8,426 1114.6,426.8 1115.4,427.2 1116.2,427.1 1117,427.7 1117.8,426.7 1118.6,427.6 1119.4,428.6 1120.2,428.4 1121,429.5 1121.8,428.3 1122.6,428.3 1123.4,428.3 1124.2,428.2 1125,426.8 1125.8,427.4 1126.6,427.3 1127.4,426.6 1129.3,427.8 1131.3,427.5 1133.2,426.9 1135.1,428 1137.1,428 1139,427.4 1141,427.7 1142.9,428.8 1144.8,429.6 1146.8,427.9 1148.7,428.1 1150.7,428.2 1152.6,428.5 1154.5,429.2 1156.5,429.3 1158.4,428.4 1160.4,427.5 1162.3,428.4 1164.2,429.5 1166.2,428.9 1168.1,427.9 1170.1,427.3 1172,429.1 1174,428.7 1175.9,428.5 1177.8,428.9 1179.8,428.6 1181.7,428.4 1183.7,429.6 1185.6,429.8 1187.5,429.8 1189.5,428.9 1191.4,429.6 1193.4,428.9 1195.3,428.6 1197.2,429.8 1199.2,428.5 1201.1,428.6 1203.1,427.4 1205,428.1 1206.9,427.3 1208.9,427.5 1210.8,428.3 1212.8,428.6 1214.7,428.4 1216.6,427.8 1218.6,427.5 1220.5,428.6 1222.5,427.7 1224.4,428.5 1226.3,427.8 1228.3,428.5 1230.2,428.7 1232.2,428.6 1234.1,429.7 1236,428.2 1238,427.2 1239.9,427.2 1241.9,428.3 1243.8,427.8 1245.7,428.6 1247.7,428.6 1249.6,428.3 1251.6,427.6 1253.5,427.9 1254.3,428.7 1255.1,429.4 1255.9,429.1 1256.7,427.8 1257.5,427.9 1258.3,428.1 1259.1,428.7 1259.9,427.7 1260.7,428.7 1261.5,428.2 1262.3,427.4 1263.1,427.4 1263.9,428 1264.7,427.7 1265.5,428.4 1266.3,428.3 1267.1,428.9 1267.9,428 1268.7,428.5 1269.5,428.4 1270.3,428.3 1271.1,427.7 1271.9,427 1272.7,427.2 1273.5,428.1 1274.3,427.7 1275.1,428 1275.9,427.5 1276.7,428.1 1277.5,427.8 1278.3,427.3 1279.1,429.2 1279.9,427.3 1280.7,428 1281.5,427.2 1282.3,428.1 1283.1,427.6 1283.9,427 1284.7,426.6 1285.5,426.1 1286.3,426.6 1287.1,427.6 1287.9,427.6 1288.7,426.6 1289.5,426.7 1290.3,425.4 1291.1,426.7 1291.9,426.1 1292.7,426.8 1293.5,425.9 1294.3,425.9 1295.1,426.2 1295.4,425.6 1295.8,425.1 1296.2,424.5 1296.5,425.9 1296.9,425.4 1297.2,424.8 1297.6,423 1298,423.3 1298.3,422.9 1298.7,423.4 1299.1,423.6 1299.4,422.7 1299.8,422.6 1300.2,423.5 1300.5,422.7 1300.9,422.8 1301.3,422.6 1301.6,422.1 1302,422.1 1302.4,421.2 1302.7,420.3 1303.1,420.9 1303.5,421.6 1303.8,420.8 1304.2,419.8 1304.6,419.7 1304.9,418.3 1305.3,419.8 1305.6,418.4 1306,419.6 1306.4,419 1306.7,417.9 1307.1,418.3 1307.5,417.7 1307.8,417.2 1308.2,418.1 1308.6,417.4 1308.9,417.4 1309.3,418.1 1309.7,417.2 1310,415.9 1310.4,416.5 1310.8,417.7 1311.1,417.6 1311.5,417.1 1311.9,418.1 1312.2,418.7 1312.6,417 1313,416.9 1313.3,416.5 1313.7,418 1314.1,419.4 1314.4,419.3 1314.8,420.2 1315.1,419.9 1315.5,420.9 1315.9,420.6 1316.2,420.1 1316.6,420.6 1317,421 1317.3,420.8 1317.7,420.9 1318.1,422.2 1318.4,423.3 1318.8,423.9 1319.2,424 1319.5,422.9 1319.9,423.8 1320.3,423.5 1320.6,423.5 1321,423.1 1321.4,423.8 1321.7,424.1 1322.1,424.5 1322.5,426.1 1322.8,425.9 1323.2,425.3 1323.5,425.7 1323.9,425.1 1324.3,425 1324.6,425.9 1325,425.7 1325.8,427.2 1326.6,425.7 1327.4,426.6 1328.2,426.7 1329,426.6 1329.8,428 1330.6,428.6 1331.4,427.7 1332.2,427.6 1333,427.5 1333.8,427.1 1334.6,427.3 1335.4,427.6 1336.2,426.1 1337,426.9 1337.8,427.1 1338.6,426.7 1339.4,426.4 1340.2,428 1341,428.1 1341.8,428.6 1342.6,427.9 1343.4,427.5 1344.2,427.6 1345,427.9 1345.8,428.5 1346.6,429 1347.4,428.6 1348.2,428.6 1349,427.5 1349.8,427.8 1350.6,427.2 1351.4,427.4 1352.2,427.5 1353,427.8 1353.8,428.8 1354.6,428.8 1355.4,428.5 1356.2,427.8 1357,428.4 1357.8,429.1 1358.6,429.3 1359.4,427.8 1360.2,426.7 1361,428.2 1361.8,428.5 1362.6,428.2 1363.4,428.9 1364.2,428.6 1365,427.7 1365.8,427.3 1366.6,428.9 1368.5,428.9 1370.4,429.2 1372.4,428.7 1374.3,428.7 1376.3,429.9 1378.2,430.1 1380.1,429.6 1382.1,428.1 1384,427.4 1386,427.2 1387.9,427.8 1389.8,428.6 1391.8,428.1 1393.7,429.2 1395.7,428.3 1397.6,428.1 1399.5,428.4 1401.5,427.7 1403.4,428.1 1405.4,427.1 1407.3,429.4 1409.2,428.5 1411.2,428.4 1413.1,429 1415.1,428.7 1417,428.2 1417.8,427.9 1418.6,428.3 1419.4,430.2 1420.2,429 1421,428.9 1421.8,428.3 1422.6,428.4 1423.4,426.8 1424.2,426.4 1425,427.5 1425.8,426.9 1426.6,427.2 1427.4,426.6 1428.2,427.7 1429,426.9 1429.8,428 1430.6,428.8 1431.4,428.7 1432.2,428.3 1433,426.4 1433.8,426.7 1434.6,426.1 1435.4,427.3 1436.2,427.2 1437,426.7 1437.8,428 1438.6,426.9 1439.4,427.3 1440.2,428 1441,427.2 1441.8,427.1 1442.6,427.7 1443.4,428.6 1444.2,427.9 1445,426.9 1445.8,426.8 1446.6,427.1 1447.4,426.4 1448.2,426.3 1449,425.8 1449.8,425.1 1450.6,426.4 1451.4,425.7 1452.2,425.6 1453,426.2 1453.8,426 1454.6,425.1 1455.4,423.8 1456.2,423.3 1457,423.6 1457.8,423.1 1458.6,422 1459.4,420.7 1460.2,421.2 1460.5,421.2 1460.9,421.6 1461.2,422.2 1461.6,420.7 1462,422.2 1462.3,420.4 1462.7,420.7 1463.1,420.4 1463.4,419.4 1463.8,418.1 1464.2,418 1464.5,418.2 1464.9,418.8 1465.3,417.7 1465.6,417.4 1466,415.6 1466.4,416.4 1466.7,416.7 1467.1,415.2 1467.5,415.4 1467.8,415.5 1468.2,415.5 1468.6,414.1 1468.9,414.2 1469.3,414.4 1469.7,411.9 1470,412 1470.4,411.6 1470.7,410.4 1471.1,411 1471.5,410.6 1471.8,409.8 1472.2,408.8 1472.6,408.6 1472.9,408.6 1473.3,408.4 1473.7,409.2 1474,408.1 1474.4,408.2 1474.8,408.2 1475.1,408.2 1475.5,407.9 1475.9,406.9 1476.2,406.4 1476.6,407.6 1477,406.9 1477.3,408.1 1477.7,407.7 1478.1,408.1 1478.4,409 1478.8,409.1 1479.1,409.2 1479.5,410.3 1479.9,410.2 1480.2,411.5 1480.6,412.1 1481,413.1 1481.3,412.3 1481.7,411.3 1482.1,412.4 1482.4,413.1 1482.8,413.4 1483.2,414.1 1483.5,415.6 1483.9,415.9 1484.3,415.6 1484.6,416.2 1485,416.7 1485.4,417.5 1485.7,417.2 1486.1,418 1486.5,418.6 1486.8,418.5 1487.2,418.2 1487.5,418.5 1487.9,418.6 1488.3,419.4 1488.6,420.1 1489,420.6 1489.4,420.5 1489.7,420.4 1490.1,421.9 1490.5,421.5 1490.8,421.4 1491.2,422.4 1492,423.7 1492.8,422.5 1493.6,422.6 1494.4,423.3 1495.2,424 1496,423.9 1496.8,424.9 1497.6,424.7 1498.4,424.1 1499.2,423.7 1500,424.5 1500.8,423.9 1501.6,425.1 1502.4,425.8 1503.2,426.2 1504,425 1504.8,425.6 1505.6,425.3 1506.4,425.5 1507.2,424.9 1508,423.2 1508.8,424.7 1509.6,424.6 1510.4,424.6 1511.2,424.5 1512,424.8 1512.8,424.8 1513.6,424.4 1513.9,422.2 1514.3,423.6 1514.7,425.2 1515,424.5 1515.4,423.3 1515.8,423 1516.1,422.9 1516.5,423 1516.9,421.9 1517.2,423.2 1517.6,424 1518,422.8 1518.3,423.1 1518.7,422.2 1519.1,421.5 1519.4,422.3 1519.8,422.4 1520.1,420.4 1520.5,420.3 1520.9,420.8 1521.2,421.2 1521.6,420 1522,419.9 1522.3,419.8 1522.7,419.4 1523.1,419.3 1523.4,419.8 1523.8,418.6 1524.2,417.8 1524.5,418.4 1524.9,418.1 1525.3,417.8 1525.6,416.4 1526,415.6 1526.4,416.3 1526.7,417.3 1527.1,416 1527.5,416.2 1527.8,415.6 1528.2,415.2 1528.5,414.8 1528.9,414.6 1529.3,415.4 1529.6,415.9 1530,415.7 1530.4,416.7 1530.7,415.3 1531.1,414.8 1531.5,416.4 1531.8,416.7 1532.2,416.3 1532.6,417.6 1532.9,417.1 1533.3,417.2 1533.7,416.7 1534,417.2 1534.4,418.6 1534.8,419.1 1535.1,419.7 1535.5,420.1 1535.9,420.7 1536.2,421.3 1536.6,421.3 1536.9,421.4 1537.3,420.1 1537.7,420.1 1538,420.7 1538.4,421.6 1538.8,423 1539.1,422.9 1539.5,423.1 1539.9,422.7 1540.2,423 1540.6,422.8 1541,424.1 1541.3,424.5 1541.7,424 1542.1,424.1 1542.4,424.5 1542.8,424.6 1543.2,425.1 1543.5,424.5 1543.9,424.4 1544.3,425.2 1544.6,424.8 1545,425.7 1545.3,427.1 1546.1,425.9 1546.9,424.6 1547.7,425.8 1548.5,426.3 1549.3,427 1550.1,426.9 1550.9,425.6 1551.7,426.8 1552.5,426.8 1553.3,428 1554.1,428.5 1554.9,427.4 1555.7,427.7 1556.5,427 1557.3,427.3 1558.1,427.3 1558.9,427.3 1559.7,427.5 1560.5,427.9 1561.3,427.5 1562.1,427.8 1562.9,428.1 1563.7,428.3 1564.5,427.8 1565.3,430.2 1566.1,429.3 1566.9,429.1 1567.7,428.3 1568.5,427.1 1569.3,428.2 1570.1,429.3 1570.9,430.9 1571.7,430.4 1572.5,429.1 1573.3,428.9 1574.1,428.6 1574.9,428.9 1575.7,428.9 1576.5,428.4 1577.3,427.9 1578.1,429.1 1578.9,429.6 1579.7,430.2 1580.5,429.7 1581.3,429.1 1582.1,429 1582.9,429.4 1583.7,429.9 1584.5,430.3 1585.3,430 1586.1,429.1 1586.9,429.9 1587.7,430.2 1588.5,430.1 1589.3,429.5 1590.1,429.2 1592,429.3 1594,429.7 1595.9,429.3 1597.9,428.7 1599.8,430 1601.7,430.3 1603.7,428.7 1605.6,428.7 1607.6,429.4 1609.5,428.5 1611.4,429.3 1613.4,431.9 1615.3,430.6 1617.3,428.2 1619.2,427.9 1621.1,429.5 1623.1,429 1625,429.9 1627,431 1628.9,430.2 1630.8,430.6 1632.8,431.2 1634.7,431 1636.7,430.8 1638.6,430.1 1640.5,430 1642.5,430.1 1644.4,430.4 1646.4,430.7 1648.3,430.4 1650.2,430.3 1652.2,429.8 1654.1,429.4 1656.1,429.4 1658,429.3 1659.9,430.2 1661.9,430.3 1663.8,429.5 1665.8,429.7 1667.7,430 1669.7,430.5 1671.6,430.1 1673.5,430.3 1675.5,430.1 1677.4,429.7 1679.4,429.8 1680.2,431.2 1681,430 1681.8,430.4 1682.5,430.1 1683.3,429.8 1684.1,429.5 1684.9,429.6 1685.7,429.3 1686.5,429.2 1687.3,429 1688.1,429.8 1688.9,429.2 1689.7,430.3 1690.5,430.7 1691.3,430.4 1692.1,429.6 1692.9,430.5 1693.7,429.9 1694.5,429.5 1695.3,428.2 1696.1,427.7 1696.9,428.8 1697.7,428.4 1698.5,428.2 1699.3,428.9 1700.1,429.6 1700.9,429.5 1701.7,430.2 1702.5,428.8 1703.3,429.2 1704.1,428.4 1704.9,428.2 1705.7,429.2 1706.5,429.1 1707.3,428.8 1708.1,429.1 1708.9,429.3 1709.7,428.7 1710.5,428.3 1711.3,429.6 1712.1,428.6 1712.9,429.9 1713.7,429.4 1714.5,429.3 1715.3,427.9 1716.1,427.5 1716.9,427.1 1717.7,427.4 1718.5,427.5 1719.3,427.5 1720.1,428.5 1720.9,427.5 1721.7,426.3 1722.5,425.3 1723.3,425.3 1724.1,425.4 1724.9,425.2 1725.7,425.1 1726.1,425.2 1726.4,425.5 1726.8,425.4 1727.2,424.8 1727.5,423 1727.9,422.1 1728.3,422.8 1728.6,422.5 1729,424.3 1729.3,422.9 1729.7,422.7 1730.1,422.9 1730.4,423.7 1730.8,421.9 1731.2,420.2 1731.5,420 1731.9,420.8 1732.3,420.6 1732.6,419.6 1733,419.4 1733.4,418.8 1733.7,419.3 1734.1,419.4 1734.5,418.9 1734.8,418.6 1735.2,417.7 1735.6,417.3 1735.9,416.7 1736.3,416.5 1736.7,416.6 1737,415.6 1737.4,416.7 1737.7,415.2 1738.1,415.4 1738.5,413.8 1738.8,413.5 1739.2,413 1739.6,413.1 1739.9,413.1 1740.3,414.1 1740.7,413.4 1741,412.6 1741.4,412.3 1741.8,412.3 1742.1,413.4 1742.5,413.1 1742.9,414.1 1743.2,413.5 1743.6,413.8 1744,413.1 1744.3,413.8 1744.7,413.8 1745.1,413.9 1745.4,414.9 1745.8,414.8 1746.1,414.7 1746.5,414.9 1746.9,414.6 1747.2,414.7 1747.6,415 1748,416 1748.3,417.7 1748.7,417.8 1749.1,418.5 1749.4,418.9 1749.8,419.7 1750.2,420.5 1750.5,419.5 1750.9,420.7 1751.3,421 1751.6,421.5 1752,421.1 1752.4,420.7 1752.7,419.9 1753.1,420.5 1753.5,421.6 1753.8,422.2 1754.2,422.3 1754.6,422.1 1754.9,422.5 1755.3,423.5 1755.6,424.4 1756,424.7 1756.4,424.7 1756.7,425.2 1757.1,424.4 1757.5,424.9 1757.8,426.3 1758.2,425.7 1758.6,425.6 1758.9,425 1759.3,425.7 1759.7,425.1 1760.5,426.1 1761.3,427.1 1762.1,427.3 1762.9,427 1763.7,428.8 1764.5,428.7 1765.3,428.6 1766.1,428.1 1766.9,428.3 1767.7,427.8 1768.5,428.2 1769.3,428.7 1770.1,429.7 1770.9,429.2 1771.6,429.7 1772.4,429.8 1773.2,428.4 1774,429.4 1774.8,429.2 1775.6,429 1776.4,430.4 1777.2,429.8 1778,428.9 1778.8,430.3 1779,429.5"/>
<polyline fill="none" stroke="#000000" stroke-width="7.6" stroke-linejoin="round" stroke-linecap="butt" points="181,541.8 182.9,540.8 184.9,541.7 186.8,541.9 188.8,541.7 190.7,542.2 192.6,542.2 194.6,541.7 196.5,541.4 198.5,541.7 200.4,541.3 202.3,542 204.3,541.7 206.2,542.2 208.2,541.9 210.1,541.8 212,541.5 214,541.6 215.9,542 217.9,541 219.8,540.1 221.7,541.5 223.7,541.2 225.6,541.2 227.6,540.4 229.5,539 231.5,540.4 233.4,540.2 235.3,541.8 237.3,541.4 239.2,540.4 241.2,540 243.1,540.4 245,540.2 247,540.4 248.9,540.2 250.9,539.8 252.8,539.6 254.7,539.8 256.7,539.1 258.6,540.7 260.6,540.2 262.5,540.2 264.4,540.3 266.4,541.1 268.3,540.2 270.3,541.8 272.2,540.9 274.1,540.7 276.1,540 278,539.3 280,539.3 281.9,540.5 283.8,539.9 285.8,540.5 287.7,540.6 289.7,539.1 291.6,539.8 293.5,540.2 295.5,539.8 297.4,538.6 299.4,539.3 301.3,539.6 303.2,538.4 305.2,538.6 307.1,537 309.1,537.6 311,536.7 312.9,536.8 314.9,537.2 316.8,536.8 318.8,536.7 320.7,536.4 322.7,535.7 324.6,535.7 326.5,535.7 328.5,536.3 330.4,534.5 332.4,533.9 334.3,533.8 336.2,533.2 338.2,531.4 340.1,530.8 342.1,529.7 342.9,527.4 343.7,527.1 344.5,526.9 345.3,526.2 346.1,526.1 346.8,525.7 347.6,524.2 348.4,524.7 349.2,524.1 350,522.9 350.8,520.4 351.6,520.2 352.4,519.5 353.2,518.8 354,516.9 354.8,516.4 355.6,514.3 356.4,512.1 357.2,512.5 358,509.2 358.8,507.2 359.6,505.1 360.4,502.3 361.2,499.6 362,496.4 362.8,492.9 363.6,488 364.4,483.8 365.2,478.6"/>
<polyline fill="none" stroke="#000000" stroke-width="7.6" stroke-linejoin="round" stroke-linecap="butt" points="389.8,481.8 390.6,485.9 391.4,489.8 392.2,493.8 393,496 393.8,497.8 394.6,499.6 395.4,501.1 396.2,503 397,504.7 397.8,506.8 398.6,507.7 399.4,508.1 400.2,509 401,509 401.8,510.9 402.6,511.9 403.4,512.3 404.2,511.9 405,513.7 405.8,515 406.6,515.3 407.4,515.4 408.2,516.1 409,516.2 409.8,517.3 410.6,516.7 411.4,516.9 412.2,516.4 413,516.7 414.9,518.3 416.9,518.1 418.8,519.4 420.7,519.1 422.7,519.2 424.6,519.8 426.6,520.4 428.5,520.7 430.4,521 432.4,520.3 434.3,520.3 436.3,521.6 438.2,521.8 440.1,520.7 442.1,521 444,522.9 446,521.6 446.8,522.5 447.6,522.4 448.4,522.6 449.2,522.3 450,521.8 450.8,521.5 451.6,521.9 452.4,522.4 453.2,521.3 454,521.1 454.8,520.5 455.6,519.6 456.4,520 457.2,520.3 458,519.3 458.8,519 459.6,519.3 460.4,518 461.2,518.2 462,517.9 462.8,517.3 463.5,517.3 464.3,515.7 465.1,514.5 465.9,513.4 466.7,511.6 467.5,509.8 468.3,509 469.1,504.8 469.9,503 470.7,498.8 471.1,497.6 471.5,494.8 471.8,492.5 472.2,490.7 472.6,487.5 472.9,486 473.3,482.6 473.7,479.2 474,477.6 474.4,474.3 474.8,470 475.1,465.5 475.5,463 475.9,459.4 476.2,455.9 476.6,451.8 476.9,448.3 477.3,443.6 477.7,439.7 478,434.9 478.4,433.2 478.8,429.5 479.1,428.8 479.5,427.9 479.9,427.1 480.2,427.8 480.6,428.4 481,429.2 481.3,431.4 481.7,434 482.1,436.6 482.4,440.3 482.8,445 483.2,448.4 483.5,453.2 483.9,457.1 484.3,461.4 484.6,465.9 485,467 485.4,471.4 485.7,475.2 486.1,479.1 486.4,481.9 486.8,485.1 487.2,489.1 487.5,491.5 487.9,493.5 488.3,495.7 488.6,498.7 489,501.8 489.4,503.2 489.7,505.3 490.5,508.7 491.3,511.6 492.1,514.1 492.9,516.9 493.7,518.8 494.5,519 495.3,520.4 496.1,522.1 496.9,522.9 497.7,524.5 498.5,526.8 499.3,525.1 500.1,526.5 500.9,527.6 501.7,529 502.5,529.9 503.3,528.5 504.1,528.7 504.9,529.4 505.7,529.9 506.5,531 507.3,531.5 508.1,531.7 508.9,531.8 509.7,533.5 510.5,532.6 511.3,531.3 512.1,532.8 512.9,533.8 513.7,535.1 514.5,534.4 515.3,533.9 516.1,534.5 518,534.4 520,534.9 521.9,537 523.9,537.4 525.8,536 527.7,534.5 529.7,536.2 531.6,536 533.6,537.1 535.5,537.7 537.4,537.6 539.4,538.6 541.3,537.2 543.3,536.8 545.2,537.4 547.1,537.6 549.1,537.5 551,537.3 553,537.4 554.9,538.3 556.8,537.7 558.8,539 560.7,539.3 562.7,539.4 564.6,540.7 566.6,541 568.5,540.4 570.4,539 572.4,537.9 574.3,538.7 576.3,537.6 578.2,538.5 580.1,539.7 582.1,540.2 584,539.9 586,539.2 587.9,539 589.8,538.8 591.8,539.9 593.7,539.2 595.7,540.9 597.6,539.5 599.5,540.3 601.5,539.6 603.4,539.6 605.4,538.7 607.3,539.1 609.2,538.7 611.2,539.3 613.1,538.4 615.1,538.8 617,538.1 618.9,539.5 620.9,539.2 622.8,539.8 624.8,539.5 626.7,538.8 628.6,539.7 630.6,538.9 632.5,539.3 634.5,540.4 636.4,540 638.3,539 640.3,538.1 642.2,538.1 644.2,538.7 646.1,539.3 648,539.8 650,539.7 651.9,541 653.9,539.2 655.8,539.8 657.8,539.6 659.7,538.8 661.6,538.4 663.6,539.2 665.5,539.6 667.5,538.9 669.4,538.9 671.3,538.2 673.3,536.7 675.2,537.8 677.2,538.9 679.1,539 681,539.3 683,539.1 684.9,539 686.9,539.5 688.8,538.2 690.7,538.2 692.7,538.9 694.6,539 696.6,538.3 698.5,538.7 700.4,538.2 702.4,539 704.3,538.1 706.3,538.3 708.2,538.6 710.1,538.3 712.1,538.9 714,538.8 716,537.9 717.9,538.2 719.8,538.4 721.8,539.5 723.7,538.3 725.7,537.7 727.6,538.5 729.5,537.3 731.5,537 733.4,538.3 735.4,537.3 737.3,538.1 739.2,537.3 741.2,537.4 743.1,537.4 745.1,536.9 747,538.1 749,538.5 750.9,538.6 752.8,536.9 754.8,536.4 756.7,536.9 758.7,536.3 760.6,536.6 762.5,535.2 764.5,535 766.4,535.7 768.4,535.4 770.3,534.8 772.2,534.3 773,533.5 773.8,532.7 774.6,532.8 775.4,533.3 776.2,532.2 777,531.1 777.8,531.9 778.6,531.7 779.4,530.6 780.2,530.3 781,529.6 781.8,529 782.6,528 783.4,528 784.2,528.7 785,527 785.8,526.7 786.6,525.7 787.4,524.6 788.2,523.5 789,522.6 789.8,522.8 790.6,521.2 791.4,518.8 792.2,518.3 793,515.4 793.8,513.9 794.6,510.9 795.4,509 796.2,505.8 797,502.7 797.8,498.8 798.6,492.8 799,491.1 799.3,487.8 799.7,485.5 800.1,482.2 800.4,479.3 800.8,476.5 801.2,474.4 801.5,470.4 801.9,465.9 802.3,460.4 802.6,455.2 803,452.2 803.4,445.8 803.7,440.5 804.1,436.2 804.4,430.9 804.8,424.6 805.2,419.3 805.5,413.1 805.9,408.9 806.3,404.9 806.6,400.8 807,396.9 807.4,394.7 807.7,392.9 808.1,391.6 808.5,389.4 808.8,389.2 809.2,391.2 809.6,393.4 809.9,394.9 810.3,399.2 810.7,401.4 811,406.2 811.4,411.7 811.8,416.9 812.1,423 812.5,427.9 812.8,433.7 813.2,437.8 813.6,442.3 813.9,449.2 814.3,454 814.7,458 815,461.4 815.4,466.9 815.8,471.1 816.1,476.1 816.5,478.4 816.9,481.3 817.2,485.4 817.6,488.4 818,490.5 818.3,492.3 818.7,495.5 819.5,499.5 820.3,502.5 821.1,506.3 821.9,511.1 822.7,513 823.5,514.6 824.3,515.5 825.1,517.4 825.9,518.9 826.7,520.6 827.5,522.1 828.3,523.4 829.1,524.1 829.9,524.6 830.7,525 831.5,525.9 832.3,526.3 833.1,527.4 833.9,528.4 834.7,529.8 835.5,529.3 836.3,530 837.1,531.5 837.9,530.2 838.7,530.2 839.5,531 840.3,530.3 841.1,531.1 841.9,530.5 842.7,531.2 843.5,531.6 844.3,532.4 845.1,531.6 845.9,531.8 846.7,532.7 848.6,534 850.5,534.2 852.5,535.5 854.4,534.6 856.4,535.8 858.3,536 860.2,535.9 862.2,536.1 864.1,535.9 866.1,536.6 868,536.6 869.9,537.7 871.9,538.3 873.8,538 875.8,537.1 877.7,536.9 879.6,537.2 881.6,536.8 883.5,537.9 885.5,537.1 887.4,537.6 889.3,537.5 891.3,536.5 893.2,537.3 895.2,537.7 897.1,536.4 899,537.1 901,536.6 902.9,537.9 904.9,538 906.8,537.7 908.8,538 910.7,536.7 912.6,538.3 914.6,538.1 916.5,538.9 918.5,538.8 920.4,538.7 922.3,539 924.3,537.9 926.2,538.3 928.2,536.5 930.1,537.2 932,536 934,536.8 935.9,537 937.9,537.4 939.8,538.4 941.7,537.3 943.7,537 945.6,537.3 947.6,537.3 949.5,537.5 951.4,537.2 953.4,537.6 955.3,536.9 957.3,535.2 959.2,536.8 961.1,536 963.1,535.8 965,536.6 967,536.2 968.9,535.7 970.8,535.9 972.8,536.1 973.6,535.7 974.4,535.1 975.2,535.7 976,535.5 976.8,534.8 977.6,534 978.4,533.3 979.2,533.9 980,532.5 980.8,532.8 981.6,533.3 982.4,533.2 983.2,532.7 984,531.2 984.8,531.5 985.6,530.4 986.4,530.3 987.2,530.4 988,529.8 988.8,529.4 989.6,528 990.4,527.5 991.2,526.5 992,527.2 992.8,526.3 993.6,524.4 994.4,522.5 995.2,521.2 996,521 996.8,518.8 997.6,516.6 998.4,514.9 999.2,512.7 1000,508.4 1000.8,504.1 1001.1,503 1001.5,501.4 1001.8,499.9 1002.2,497.8 1002.6,496.1 1002.9,493.8 1003.3,491.2 1003.7,487.9 1004,485.4 1004.4,482.3 1004.8,476.3 1005.1,473.6 1005.5,470.6 1005.9,467.8 1006.2,464.2 1006.6,460.8 1007,456.6 1007.3,452.6 1007.7,449.1 1008.1,446 1008.4,443.1 1008.8,439.4 1009.2,437 1009.5,435.2 1009.9,432.3 1010.2,431.7 1010.6,430.7 1011,430.8 1011.3,432 1011.7,433 1012.1,434.7 1012.4,438.2 1012.8,440.8 1013.2,443.3 1013.5,445.8 1013.9,449.1 1014.3,453.8 1014.6,456.9 1015,461.3 1015.4,464.9 1015.7,469.3 1016.1,471.6 1016.5,474.9 1016.8,477.8 1017.2,480.6 1017.6,483.4 1017.9,486.1 1018.3,488.7 1018.6,492.5 1019,495.2 1019.4,497.7 1019.7,498.8 1020.1,501.4 1020.5,503.4 1020.8,505.3 1021.2,506.4 1021.6,508.4 1022.4,511.7 1023.2,514.1 1024,515.9 1024.8,518.4 1025.6,520.7 1026.4,522.2 1027.2,524.4 1028,525.7 1028.8,526.9 1029.6,526.9 1030.4,527.1 1031.2,527 1032,526.4 1032.8,528.2 1033.6,528.6 1034.4,528.9 1035.2,529.9 1036,530 1036.8,529.3 1037.6,529.9 1038.3,530.5 1039.1,531.7 1039.9,533 1040.7,532.6 1041.5,533.1 1042.3,532.9 1043.1,532.3 1043.9,533.4 1044.7,534 1045.5,533.7 1046.3,534.4 1047.1,532.9 1047.9,532.3 1048.7,533.7 1049.5,534.1 1050.3,534.5 1051.1,535.1 1051.9,534.1 1052.7,533.3 1053.5,533.6 1054.3,533.2 1055.1,533.1 1055.9,533.8 1056.7,534.9 1057.5,535.2 1058.3,535 1059.1,534.8 1059.9,533.3 1060.7,534.4 1061.5,533.3 1062.3,534.1 1063.1,533.8 1063.9,532.7 1064.3,532.3 1064.6,531.6 1065,532.5 1065.4,531.3 1065.7,531.2 1066.1,531.8 1066.5,532 1066.8,530.1 1067.2,529.7 1067.6,530.3 1067.9,529.7 1068.3,529.7 1068.7,529.3 1069,528.6 1069.4,526.8 1069.8,527.5 1070.1,527.6 1070.5,526.9 1070.9,525.5 1071.2,525.4 1071.6,525.4 1072,525.2 1072.3,524.5 1072.7,524.6 1073,523.2 1073.4,523.1 1073.8,523.2 1074.1,524.3 1074.5,523.8 1074.9,524.5 1075.2,524.6 1075.6,525.4 1076,526.4 1076.3,527.5 1076.7,527.1 1077.1,525.4 1077.4,527 1077.8,528 1078.2,529 1078.5,528.6 1078.9,529.3 1079.3,530.9 1079.6,532.1 1080,531.2 1080.4,531.9 1080.7,532.9 1081.1,531.3 1081.5,531.9 1081.8,532.3 1082.2,531.7 1082.5,532 1082.9,532.7 1083.3,532.9 1083.6,533.4 1084,534.5 1084.4,535 1084.7,534.5 1085.5,534.3 1086.3,536.5 1087.1,534.6 1087.9,534.5 1088.7,535.7 1089.5,535.1 1090.3,536.3 1091.1,536.9 1091.9,537.4 1092.7,536.4 1093.5,537.2 1094.3,536.8 1095.1,536.5 1095.9,536.2 1096.7,537.3 1097.5,538.4 1098.3,538.5 1099.1,538.7 1099.9,537.7 1100.7,537.5 1101.5,537.7 1102.3,537.8 1103.1,537.6 1103.9,537.4 1104.7,537.1 1105.5,537.7 1106.3,538.1 1107.1,538.3 1107.9,537.8 1108.7,537.8 1109.5,537.3 1110.3,537.5 1111.1,538.5 1111.9,538.1 1112.7,538.4 1113.5,538.4 1115.4,538.3 1117.4,537.6 1119.3,538.9 1121.3,538.4 1123.2,538.1 1125.1,538.4 1127.1,538.9 1129,539.2 1131,539.5 1132.9,539 1134.8,540.2 1136.8,540.4 1138.7,539.8 1140.7,539.5 1142.6,539.5 1144.5,540 1146.5,539.7 1148.4,538.7 1150.4,538.7 1152.3,538.9 1154.3,539.4 1156.2,538.8 1158.1,540.5 1160.1,539.7 1162,540.1 1164,540.4 1165.9,540.1 1167.8,539 1169.8,538.9 1171.7,538.8 1173.7,539.1 1175.6,539.6 1177.5,538.5 1179.5,538.8 1181.4,538.9 1183.4,538.6 1185.3,538.8 1187.2,538.6 1189.2,538.9 1191.1,539.9 1193.1,539.3 1195,538.5 1196.9,539.1 1198.9,539.9 1200.8,540.1 1202.8,540 1204.7,539.6 1206.6,539.6 1208.6,539.5 1210.5,538.4 1212.5,539.4 1214.4,539.1 1216.3,538.8 1218.3,538.3 1220.2,538.5 1222.2,538.1 1224.1,538.5 1226,538.3 1228,539.5 1229.9,538.8 1231.9,539.2 1233.8,539 1235.7,540.1 1237.7,539.5 1239.6,540 1241.6,538.8 1243.5,539.6 1245.5,539.8 1247.4,539 1249.3,538.7 1251.3,538.8 1253.2,538.3 1255.2,538.2 1257.1,538 1259,538.2 1261,538.5 1262.9,536.9 1264.9,538.6 1266.8,539.3 1268.7,538.5 1269.5,539.1 1270.3,539.3 1271.1,538.1 1271.9,537.7 1272.7,536.7 1273.5,537.4 1274.3,538.4 1275.1,538 1275.9,537.2 1276.7,538.3 1277.5,539 1278.3,538.7 1279.1,537.8 1279.9,536.6 1280.7,536.9 1281.5,538 1282.3,537.2 1283.1,538.5 1283.9,537.1 1284.7,537 1285.5,537.8 1286.3,537.6 1287.1,538.1 1287.9,537.9 1288.7,538.3 1289.5,536.8 1290.3,537.5 1291.1,537.3 1291.9,537.2 1292.7,536.9 1293.5,535.1 1294.3,536.2 1295.1,534.8 1295.9,536.3 1296.7,535.9 1297.5,535.2 1298.3,533.9 1299.1,533.7 1299.5,533.7 1299.8,532.3 1300.2,532.4 1300.6,532.3 1300.9,532.8 1301.3,531.8 1301.7,532.4 1302,532 1302.4,530.1 1302.8,529.2 1303.1,529.9 1303.5,528.9 1303.8,528.3 1304.2,527.3 1304.6,527.9 1304.9,528 1305.3,527.1 1305.7,527.6 1306,525.3 1306.4,525.4 1306.8,525.4 1307.1,524.8 1307.5,524.7 1307.9,522.9 1308.2,523.2 1308.6,523.1 1309,522.8 1309.3,522.6 1309.7,522.8 1310.1,522.7 1310.4,523.6 1310.8,523 1311.2,523.6 1311.5,524.4 1311.9,524.4 1312.2,523.5 1312.6,524.6 1313,525.3 1313.3,525.9 1313.7,526.1 1314.1,526.5 1314.4,526.7 1314.8,526.3 1315.2,527.3 1315.5,527.8 1315.9,528.4 1316.3,529.2 1316.6,529.7 1317,530.7 1317.4,530.3 1317.7,532.6 1318.1,533.6 1318.5,533.4 1318.8,533 1319.2,533.5 1319.6,532.5 1319.9,533.6 1320.3,534.5 1320.6,534.5 1321,533.8 1321.8,534.3 1322.6,536.1 1323.4,535 1324.2,536 1325,535.8 1325.8,536.3 1326.6,537.3 1327.4,536.9 1328.2,536.9 1329,537.2 1329.8,537 1330.6,537.4 1331.4,537 1332.2,537.6 1333,536.3 1333.8,537.3 1334.6,538 1335.4,538.1 1336.2,538.7 1337,538.2 1337.8,537.9 1338.6,537.9 1339.4,538 1340.2,537.2 1341,536.9 1341.8,537.6 1342.6,538.5 1343.4,538.8 1344.2,538.1 1345,537.3 1345.8,537.5 1346.6,536.6 1347.4,537.8 1348.2,538.3 1349,538.6 1349.8,538.2 1350.6,538.6 1351.4,538.4 1352.2,537.7 1354.1,537.5 1356.1,537.7 1358,538.2 1359.9,538.3 1361.9,537.9 1363.8,538.7 1365.8,538.9 1367.7,537.5 1369.6,537.4 1371.6,538.9 1373.5,538.5 1375.5,538.7 1377.4,538.7 1379.3,538.8 1381.3,539.1 1383.2,538.9 1385.2,539 1387.1,538.9 1389,538.4 1391,537.7 1392.9,538.8 1394.9,537.8 1396.8,539.1 1398.7,539.5 1400.7,539.7 1402.6,538.2 1404.6,537 1406.5,538.2 1408.4,538.7 1410.4,538.8 1412.3,537.9 1414.3,538.2 1416.2,537.8 1418.1,537.3 1420.1,537.1 1422,537.1 1424,537.8 1425.9,536.1 1427.9,537.1 1429.8,537 1431.7,537.4 1432.5,537.2 1433.3,536.6 1434.1,536.9 1434.9,537.5 1435.7,537 1436.5,538.2 1437.3,538 1438.1,537.6 1438.9,537.1 1439.7,537.7 1440.5,538.2 1441.3,538.1 1442.1,537.2 1442.9,536.6 1443.7,536 1444.5,536.5 1445.3,536 1446.1,536.1 1446.9,536.1 1447.7,536.5 1448.5,537.1 1449.3,536.2 1450.1,535.1 1450.9,536.1 1451.7,536.1 1452.5,534.8 1453.3,533.6 1454.1,534.5 1454.9,535.4 1455.7,535 1456.5,535.4 1457.3,534.7 1458.1,534.6 1458.9,534.4 1459.7,533.5 1460.5,532.8 1461.3,533.7 1462.1,532.6 1462.9,533 1463.7,530.1 1464.1,529.6 1464.4,530.2 1464.8,530.5 1465.2,529.2 1465.5,527.4 1465.9,526.1 1466.2,526.4 1466.6,525.9 1467,525.4 1467.3,524.4 1467.7,523.5 1468.1,523.4 1468.4,522.5 1468.8,521.6 1469.2,521.2 1469.5,520.5 1469.9,520.2 1470.3,519.5 1470.6,516.8 1471,515.2 1471.4,514.1 1471.7,514.7 1472.1,514.1 1472.5,514.3 1472.8,512.6 1473.2,511.5 1473.6,512.1 1473.9,512.2 1474.3,510.7 1474.6,509.4 1475,509 1475.4,508.5 1475.7,509.5 1476.1,510.2 1476.5,510.8 1476.8,511.9 1477.2,510.5 1477.6,511.6 1477.9,512.4 1478.3,515 1478.7,513.6 1479,514.8 1479.4,515.7 1479.8,516.7 1480.1,517.5 1480.5,518.2 1480.9,518.7 1481.2,519.2 1481.6,520.6 1482,520.9 1482.3,521 1482.7,522.9 1483.1,523.6 1483.4,523.7 1483.8,524.7 1484.1,525.2 1484.5,525.7 1484.9,526.3 1485.2,526.9 1485.6,528.2 1486,529.4 1486.3,528.5 1486.7,529.4 1487.1,530.2 1487.4,530 1488.2,529.7 1489,530.8 1489.8,531 1490.6,530.9 1491.4,531.2 1492.2,531.6 1493,532.8 1493.8,533.3 1494.6,534.1 1495.4,533.7 1496.2,533.5 1497,534.7 1497.8,534.8 1498.6,535.1 1499.4,534.2 1500.2,534.4 1501,535.2 1501.8,535.3 1502.6,534.2 1503.4,534.2 1504.2,534.9 1505,534.7 1505.8,535.2 1506.6,535.8 1507.4,535.4 1508.2,534.4 1509,534.7 1509.8,533.2 1510.6,534.7 1511.4,533.1 1512.2,531.7 1513,533.6 1513.8,533.1 1514.6,532.3 1515.4,533.4 1516.2,533.3 1517,533.8 1517.8,532 1518.2,530.3 1518.5,531 1518.9,529.6 1519.3,529.4 1519.6,528.7 1520,529.4 1520.4,528.6 1520.7,528.4 1521.1,528.1 1521.4,527.9 1521.8,527.2 1522.2,527.4 1522.5,526.7 1522.9,526.5 1523.3,524.9 1523.6,523.8 1524,523.6 1524.4,522.7 1524.7,521.9 1525.1,522.6 1525.5,521.6 1525.8,522.5 1526.2,521.7 1526.6,519.1 1526.9,519.7 1527.3,518.8 1527.7,518.9 1528,518 1528.4,517.6 1528.8,518.3 1529.1,517.7 1529.5,517.4 1529.8,518.6 1530.2,517.9 1530.6,518.9 1530.9,519.3 1531.3,519.4 1531.7,519.7 1532,519.9 1532.4,521.2 1532.8,521.6 1533.1,522.6 1533.5,523.9 1533.9,523.6 1534.2,524.8 1534.6,524.9 1535,523.4 1535.3,524.4 1535.7,525.9 1536.1,526.5 1536.4,527.8 1536.8,527.5 1537.2,528.7 1537.5,528.4 1537.9,529.6 1538.2,529.5 1538.6,530.2 1539,531.5 1539.3,531.4 1539.7,529.5 1540.1,530 1540.4,530.9 1540.8,532.3 1541.2,532.9 1541.5,532.7 1542.3,532.4 1543.1,533.4 1543.9,533.8 1544.7,534.4 1545.5,534.4 1546.3,535.6 1547.1,536.4 1547.9,536 1548.7,535.5 1549.5,535.9 1550.3,535.8 1551.1,535.3 1551.9,536.4 1552.7,535.8 1553.5,535.7 1554.3,535.9 1555.1,536.3 1555.9,537.2 1556.7,536 1557.5,535.5 1558.3,534.9 1559.1,535.2 1559.9,535.9 1560.7,536.1 1561.5,537.2 1562.3,537.9 1563.1,535.9 1563.9,536.9 1564.7,539 1565.5,538.2 1566.3,537.8 1567.1,537.1 1567.9,536.4 1568.7,537 1569.5,537.5 1570.3,537.8 1571.1,537.5 1571.9,537.5 1572.7,538.3 1573.5,538.5 1574.3,537.2 1576.2,538.4 1578.2,538.5 1580.1,538.5 1582.1,539.6 1584,538.1 1585.9,538.7 1587.9,537.9 1589.8,537.8 1591.8,537.3 1593.7,538.2 1595.6,538.8 1597.6,537.5 1599.5,537.9 1601.5,537.8 1603.4,538.6 1605.3,539.1 1607.3,538.6 1609.2,537.9 1611.2,537.8 1613.1,538.5 1615,538.5 1617,538.6 1618.9,538.2 1620.9,538.6 1622.8,538.2 1624.7,539.3 1626.7,539.4 1628.6,538.8 1630.6,537.8 1632.5,538.6 1634.4,539 1636.4,538.7 1638.3,538.1 1640.3,538.8 1642.2,538.3 1644.2,538.7 1646.1,540 1648,538.5 1650,538.1 1651.9,538.9 1653.9,539.4 1655.8,539.6 1657.7,538.1 1659.7,537.6 1661.6,538.5 1663.6,538.3 1665.5,538.5 1667.4,539.2 1669.4,540 1671.3,539.8 1673.3,538.3 1675.2,538.6 1677.1,538.7 1679.1,538.7 1681,538.1 1683,538 1684.9,539.5 1686.8,538.9 1688.8,538.4 1690.7,538.7 1692.7,538.3 1694.6,537.4 1695.4,537.8 1696.2,538.4 1697,538.3 1697.8,536.8 1698.6,536.5 1699.4,538.1 1700.2,538.7 1701,538 1701.8,536.7 1702.6,538.8 1703.4,538.4 1704.2,537.8 1705,537.9 1705.8,538.7 1706.6,537.5 1707.4,537.1 1708.2,537.8 1709,537.7 1709.8,537.2 1710.6,537.5 1711.4,538 1712.2,538.2 1713,537.6 1713.8,537.3 1714.6,537.5 1715.4,538 1716.2,536.2 1717,536.8 1717.8,536.4 1718.6,536.5 1719.4,536.9 1720.2,536.3 1721,534.4 1721.8,535.9 1722.6,535.6 1723.4,536.2 1724.2,536 1725,534.2 1725.8,535 1726.6,533.9 1727.4,533.8 1728.2,534.2 1729,534.2 1729.8,533.3 1730.1,533.6 1730.5,532.6 1730.9,532.1 1731.2,532.6 1731.6,532.4 1732,531.2 1732.3,530.4 1732.7,529.7 1733,530.3 1733.4,529.2 1733.8,528.3 1734.1,527.7 1734.5,527.6 1734.9,527 1735.2,526.1 1735.6,526.4 1736,524.6 1736.3,525.3 1736.7,525.3 1737.1,524.3 1737.4,523.8 1737.8,523.6 1738.2,522.3 1738.5,522.7 1738.9,521 1739.3,519.9 1739.6,519.2 1740,519.7 1740.4,518.3 1740.7,518.2 1741.1,518.7 1741.4,517.6 1741.8,517.6 1742.2,518.1 1742.5,518.1 1742.9,519.6 1743.3,518.8 1743.6,519.7 1744,519.4 1744.4,520 1744.7,519.6 1745.1,520.7 1745.5,521.1 1745.8,522.3 1746.2,522.9 1746.6,522.3 1746.9,523.9 1747.3,523.8 1747.7,524.1 1748,524.4 1748.4,525.3 1748.8,526.6 1749.1,526.1 1749.5,526.8 1749.8,527.1 1750.2,528.1 1750.6,528.1 1750.9,527.5 1751.3,528.3 1751.7,529.2 1752,529.4 1752.4,529.8 1752.8,531 1753.1,530.5 1753.5,530.6 1753.9,531.4 1754.2,532 1754.6,532.1 1755,531.2 1755.3,532.1 1756.1,533.6 1756.9,534.3 1757.7,533.3 1758.5,534.6 1759.3,535 1760.1,534.3 1760.9,534.5 1761.7,534.5 1762.5,534.6 1763.3,534.5 1764.1,536.2 1764.9,537.1 1765.7,536.9 1766.5,536.2 1767.3,536.4 1768.1,535.2 1768.9,536.7 1769.7,537.4 1770.5,537.9 1771.3,537.6 1772.1,537.2 1772.9,537.2 1773.7,536.4 1774.5,536.7 1775.3,536.7 1776.1,537.5 1776.9,538.4 1777.7,537.6 1778.5,537.8 1779,537.4"/>
<polyline fill="none" stroke="#0000ff" stroke-width="7.6" stroke-linejoin="round" stroke-linecap="butt" points="181,886 182.9,885.9 184.9,884.9 186.8,885.4 188.8,885.5 190.7,886.2 192.6,886.8 194.6,886.8 196.5,886.8 198.5,885.8 200.4,885.5 202.3,885.2 204.3,884.7 206.2,885.3 208.2,884.9 210.1,884.7 212,885.6 214,885.1 215.9,884.7 217.9,885 219.8,885.5 221.7,885.8 223.7,884.9 225.6,885 227.6,884.5 229.5,882.8 231.5,884.1 233.4,885 235.3,884.4 237.3,885.1 239.2,885.5 241.2,884.6 243.1,885.1 245,885.1 247,883.8 248.9,884.8 250.9,885.6 252.8,885.4 254.7,885.5 256.7,885 258.6,885.4 260.6,885.9 262.5,886.9 264.4,886.1 266.4,884.4 268.3,884.3 270.3,884.8 272.2,884.8 274.1,885 276.1,884.2 278,885.8 280,885 281.9,883.9 283.8,884.7 285.8,884.3 287.7,883.4 289.7,884.5 291.6,885.5 293.5,884.9 295.5,884.1 297.4,884.8 299.4,884.9 301.3,884.6 303.2,883.6 305.2,882.6 307.1,883.2 309.1,883.7 311,883 312.9,884 314.9,883 316.8,881.5 318.8,882.7 320.7,882.6 322.7,881.9 324.6,881.7 326.5,881.9 328.5,880.8 330.4,879.9 332.4,880.8 334.3,880.3 336.2,879.8 338.2,878.6 340.1,878.8 342.1,876.8 344,875.2 345.9,873.3 347.9,872.4 349.8,871.9 351.8,870.4 352.6,870.2 353.4,868.7 354.2,867.5 355,866.3 355.8,865.7 356.6,864.2 357.4,863.5 358.1,862.2 358.9,860.9 359.7,858.2 360.5,857 361.3,854.3 362.1,850.6 362.9,847.7 363.7,845.4 364.5,841.2 365.3,836 366.1,829.3 366.9,823.4 367.7,816.6 368.5,807 369.3,794.7 370.1,780 370.5,771.7 370.9,763.5 371.2,751.9 371.6,740.5 372,728.6 372.3,715.5 372.7,702.1 373.1,688 373.4,670.1 373.8,654.4 374.2,635.8 374.5,618.8 374.9,601.7 375.2,584.7 375.6,570.8 376,560.9 376.3,552.7 376.7,548.7 377.1,550.1 377.4,554.4 377.8,562.6 378.2,574.9 378.5,588.2 378.9,603.7 379.3,620.8 379.6,637.5 380,655.3 380.4,671.7 380.7,687.1 381.1,702.9 381.5,716.8 381.8,729.3 382.2,740.5 382.6,753.1 382.9,762.4 383.3,770.4 383.6,778.2 384,786.7 384.8,799.9 385.6,811.1 386.4,819.5 387.2,827.5 388,832.1 388.8,836.1 389.6,840.6 390.4,844.4 391.2,847 392,849.4 392.8,851 393.6,852.8 394.4,855.2 395.2,857.6 396,857.7 396.8,858 397.6,860.4 398.4,860.7 399.2,861.8 400,862.5 400.8,862.9 401.6,864.7 402.4,865.4 403.2,866.9 405.1,867 407.1,868.9 409,868.2 411,870.2 412.9,871.8 414.8,872.1 416.8,872.1 418.7,872.4 420.7,872 422.6,872 424.5,872.4 426.5,873.2 428.4,873.3 430.4,873 432.3,873.7 434.2,875.4 436.2,875.1 438.1,874.7 440.1,874.3 442,874.8 443.9,873.9 445.9,873.1 447.8,873.1 449.8,871.9 451.7,873.5 453.6,873.9 455.6,873.8 456.4,873.7 457.2,874.3 458,873.8 458.8,873.2 459.6,872.7 460.4,872.4 461.2,871 462,872 462.8,872.6 463.6,872.2 464.4,871.8 465.2,871 466,870 466.8,869.2 467.6,867 468.4,866.1 469.2,863.8 470,862.6 470.8,860.2 471.6,857.5 472.4,853.1 473.2,846.7 473.5,844.8 473.9,843.1 474.3,840 474.6,837.1 475,832.8 475.4,830.1 475.7,824.9 476.1,820.9 476.4,817.1 476.8,810.9 477.2,805.5 477.5,801.1 477.9,795.3 478.3,790 478.6,785.5 479,781.5 479.4,778.5 479.7,776.6 480.1,776.2 480.5,777.3 480.8,779.2 481.2,783.2 481.6,786.8 481.9,791.3 482.3,796.4 482.7,802 483,807.2 483.4,812.8 483.8,818 484.1,822.4 484.5,827 484.8,831.9 485.2,835.7 485.6,840.4 485.9,841.8 486.3,843.3 486.7,847.2 487,850.3 487.4,851.7 488.2,857.3 489,860.6 489.8,863.4 490.6,865.4 491.4,867 492.2,868.7 493,870 493.8,871.3 494.6,872.1 495.4,872.3 496.2,873.1 497,875.3 497.8,875.7 498.6,876 499.4,877.7 500.2,877.4 501,878 501.8,877.8 502.6,879.5 503.4,879.7 504.2,879.6 505,880.6 505.8,880.3 506.6,880.3 508.5,880.5 510.5,880.3 512.4,882 514.3,883.8 516.3,882.7 518.2,881.7 520.2,881.9 522.1,883.3 524,882.2 526,882.4 527.9,884.1 529.9,884.1 531.8,884 533.7,883.7 535.7,883.8 537.6,884.1 539.6,883.4 541.5,883.4 543.4,884.6 545.4,884.1 547.3,884.7 549.3,883.9 551.2,884.1 553.2,885.1 555.1,884.8 557,885.2 559,884.6 560.9,884.8 562.9,885.3 564.8,885.1 566.7,884.5 568.7,885 570.6,884.1 572.6,883.3 574.5,883.9 576.4,884.5 578.4,884.8 580.3,885.1 582.3,884.9 584.2,884.8 586.1,886.6 588.1,885.9 590,886.1 592,885.7 593.9,884.4 595.8,883.5 597.8,884.4 599.7,884.5 601.7,885.9 603.6,885.2 605.5,885.7 607.5,885.6 609.4,885.6 611.4,887 613.3,885.3 615.2,884.8 617.2,885.7 619.1,885.6 621.1,885.1 623,884.9 624.9,885.6 626.9,886.3 628.8,886.4 630.8,885.6 632.7,885.6 634.6,885.8 636.6,884.4 638.5,884.4 640.5,883.5 642.4,884.9 644.4,885.8 646.3,884.8 648.2,884.7 650.2,885 652.1,884.8 654.1,884.9 656,886.2 657.9,886 659.9,885.6 661.8,885.9 663.8,885.1 665.7,883.6 667.6,883.4 669.6,883.7 671.5,885 673.5,884.4 675.4,885 677.3,885.4 679.3,885.2 681.2,884.3 683.2,885.4 685.1,885.4 687,885.3 689,885 690.9,884.5 692.9,885.2 694.8,885.8 696.7,884.8 698.7,886.4 700.6,884.8 702.6,885.3 704.5,885.3 706.4,885.1 708.4,886.2 710.3,885.9 712.3,885.2 714.2,884.1 716.1,883.9 718.1,884.6 720,885.7 722,883.7 723.9,884.6 725.8,883.5 727.8,883.3 729.7,883.7 731.7,883.2 733.6,883.4 735.6,883 737.5,884.5 739.4,884 741.4,884.3 743.3,882.9 745.3,883.3 747.2,883.4 749.1,883.1 751.1,883 753,883.3 755,883.2 756.9,883.1 758.8,882.6 760.8,881.9 762.7,882 764.7,882.7 766.6,881.1 768.5,881.9 770.5,880.5 772.4,881.7 774.4,879.5 776.3,879.2 778.2,877.6 780.2,877.6 782.1,877.8 782.9,877.8 783.7,877 784.5,875.7 785.3,876.2 786.1,875.5 786.9,875.1 787.7,875 788.5,873.4 789.3,873.2 790.1,872 790.9,870.1 791.7,868.3 792.5,866.5 793.3,866.3 794.1,865.6 794.9,863.3 795.7,860.4 796.5,858 797.3,855.9 798.1,853.5 798.9,850.1 799.7,845.6 800.5,839.7 801.3,833.5 801.7,829.6 802,822.7 802.4,819.2 802.8,815.1 803.1,809.6 803.5,803.8 803.9,796.6 804.2,789.2 804.6,781.1 805,773.3 805.3,765.5 805.7,756.6 806,749.8 806.4,740.8 806.8,732.8 807.1,726.8 807.5,720.4 807.9,716.5 808.2,714.6 808.6,712.6 809,715.2 809.3,718.4 809.7,722.5 810.1,728.7 810.4,735.3 810.8,744.3 811.2,751.7 811.5,760.8 811.9,767.8 812.3,776.9 812.6,784.1 813,791.3 813.4,797.1 813.7,805.3 814.1,810.8 814.4,815.9 814.8,820.2 815.2,825.6 815.5,829.8 815.9,831.9 816.7,840.6 817.5,847.1 818.3,850.5 819.1,854.3 819.9,857.8 820.7,861 821.5,863.1 822.3,865 823.1,865.7 823.9,867.2 824.7,867.7 825.5,868.4 826.3,869.1 827.1,869.9 827.9,871.4 828.7,872.1 829.5,872.4 830.3,872 831.1,873.4 831.9,873.9 832.7,874.9 833.5,874.9 834.3,875.4 835.1,875.6 835.9,876.5 836.7,877.1 838.6,878.4 840.6,878.7 842.5,879.3 844.4,880.7 846.4,880.3 848.3,878.9 850.3,880.8 852.2,881.2 854.1,882 856.1,882.5 858,883.3 860,882.6 861.9,883 863.8,883 865.8,882.1 867.7,882 869.7,883.1 871.6,882.4 873.6,882.3 875.5,882.6 877.4,883.3 879.4,883.9 881.3,883.5 883.3,883.4 885.2,882.9 887.1,881.7 889.1,883.2 891,883.8 893,882.5 894.9,883.1 896.8,883 898.8,882.6 900.7,883.3 902.7,883.1 904.6,883.5 906.5,881.7 908.5,882.3 910.4,883.7 912.4,882.2 914.3,882.9 916.2,883 918.2,882 920.1,882.6 922.1,884.5 924,884.3 925.9,883.8 927.9,883.8 929.8,884.6 931.8,883.1 933.7,882.1 935.6,882 937.6,882.3 939.5,882.1 941.5,883.1 943.4,881.9 945.3,882.9 947.3,884.1 949.2,883.2 951.2,883.1 953.1,882.1 955,882.8 957,882 958.9,881.9 960.9,881.5 962.8,881.9 964.8,881.4 966.7,882.6 968.6,882.3 970.6,881.4 972.5,880.7 974.5,880.1 976.4,879.8 978.3,879.8 980.3,878.6 982.2,878.7 983,878 983.8,877.7 984.6,878.4 985.4,876.8 986.2,876.7 987,876.8 987.8,877.4 988.6,876 989.4,874.6 990.2,875.5 991,875 991.8,873.9 992.6,873.5 993.4,873.2 994.2,872.6 995,871.2 995.8,869.9 996.6,868.5 997.4,868.2 998.2,866.1 999,863.6 999.8,861.6 1000.6,861.1 1001.4,858.2 1002.2,854.3 1003,847.6 1003.8,842.1 1004.2,839.1 1004.5,835.8 1004.9,833 1005.2,828.5 1005.6,824.8 1006,819.4 1006.3,814.3 1006.7,810 1007.1,803.6 1007.4,798.8 1007.8,793.4 1008.2,786.6 1008.5,781.1 1008.9,775.2 1009.3,770.5 1009.6,766.3 1010,762.6 1010.4,759.7 1010.7,760.6 1011.1,760.7 1011.5,761.8 1011.8,766 1012.2,770.3 1012.6,774.6 1012.9,779.6 1013.3,784.8 1013.6,790.8 1014,795.9 1014.4,801.6 1014.7,806.5 1015.1,812 1015.5,816.7 1015.8,820.9 1016.2,825.8 1016.6,830.6 1016.9,833.8 1017.3,837.1 1017.7,841.1 1018,844.2 1018.4,846.9 1018.8,849.7 1019.6,854.9 1020.4,857.8 1021.2,861.3 1022,862.3 1022.8,863.8 1023.6,864.5 1024.4,866.1 1025.2,868.4 1026,870.1 1026.8,871.7 1027.6,872.3 1028.4,873.9 1029.1,873.2 1029.9,873.9 1030.7,875.4 1031.5,874.9 1032.3,876.7 1033.1,875.5 1033.9,876.3 1034.7,877.6 1035.5,878.2 1036.3,877.9 1037.1,878.6 1037.9,878.6 1038.7,879.6 1039.5,879.9 1041.5,879.7 1043.4,878.2 1045.4,879.2 1046.2,880.1 1047,879.6 1047.8,880.7 1048.6,881.1 1049.4,880.1 1050.2,880.9 1051,880.9 1051.8,880.7 1052.5,881.5 1053.3,881.2 1054.1,880.7 1054.9,880.3 1055.7,879.6 1056.5,879.4 1057.3,880 1058.1,879.7 1058.9,880.4 1059.7,879.5 1060.5,878.8 1061.3,879 1062.1,879.5 1062.9,878.6 1063.7,878.3 1064.5,877.7 1065.3,878 1066.1,876.6 1066.5,877 1066.9,874.7 1067.2,874.7 1067.6,874.6 1068,873.7 1068.3,873.7 1068.7,873 1069.1,872.1 1069.4,872.1 1069.8,872.2 1070.2,870.9 1070.5,869.2 1070.9,868.7 1071.2,867.4 1071.6,866 1072,865.7 1072.3,864.6 1072.7,864.1 1073.1,863.6 1073.4,863.8 1073.8,863.9 1074.2,864.1 1074.5,865.1 1074.9,865.4 1075.3,865.5 1075.6,867.1 1076,867.6 1076.4,868 1076.7,868.2 1077.1,868.4 1077.5,870.5 1077.8,870.8 1078.2,871.2 1078.6,872.3 1078.9,873.4 1079.3,873.4 1079.6,874.5 1080,874.6 1080.4,874.6 1080.7,877.1 1081.1,878.4 1081.5,878.9 1081.8,877.9 1082.6,879 1083.4,880.4 1084.2,880.3 1085,879.7 1085.8,879.8 1086.6,879.5 1087.4,880.2 1088.2,880.8 1089,881 1089.8,881.7 1090.6,880.9 1091.4,881.1 1092.2,880.8 1093,880.1 1093.8,879.9 1094.6,880.9 1095.4,881.4 1096.2,881.4 1097,881.3 1097.8,882.3 1098.6,881.6 1099.4,882.4 1100.2,882.5 1101,882.5 1101.8,883.5 1102.6,882.9 1103.4,883.9 1105.4,882.4 1107.3,882.5 1109.2,882.7 1111.2,881.8 1113.1,882.5 1115.1,883.6 1117,884.4 1118.9,884.5 1120.9,882.9 1122.8,883.6 1124.8,883.4 1126.7,882.9 1128.6,882.6 1130.6,882.6 1132.5,883.2 1134.5,883 1136.4,882.8 1138.3,884.4 1140.3,884.2 1142.2,884.6 1144.2,884.7 1146.1,884.2 1148,883 1150,884.1 1151.9,883.5 1153.9,883.2 1155.8,882.9 1157.7,883.4 1159.7,883.3 1161.6,883.1 1163.6,883 1165.5,883.4 1167.4,883.2 1169.4,882.9 1171.3,883.9 1173.3,883.8 1175.2,883.6 1177.1,884.2 1179.1,883.5 1181,884.5 1183,883.4 1184.9,883.4 1186.8,884.6 1188.8,883.3 1190.7,883.3 1192.7,884.1 1194.6,884.2 1196.6,885.2 1198.5,885.7 1200.4,884.6 1202.4,883.5 1204.3,883.1 1206.3,882.6 1208.2,883 1210.1,883.2 1212.1,883.2 1214,883.3 1216,883.1 1217.9,882.9 1219.8,883.5 1221.8,884.1 1223.7,883.5 1225.7,884.4 1227.6,883.3 1229.5,884.6 1231.5,885.9 1233.4,885.5 1235.4,884.5 1237.3,886.3 1239.2,884.2 1241.2,882.8 1243.1,882.8 1245.1,882.4 1247,883 1248.9,882.3 1250.9,884.5 1252.8,884.3 1254.8,883.5 1256.7,882.8 1258.6,882.6 1260.6,883.2 1262.5,884 1264.5,883.2 1266.4,883.8 1268.3,883.6 1270.3,882.3 1272.2,882.9 1274.2,883.6 1276.1,885 1278,883.9 1280,884.6 1280.8,884 1281.6,884.2 1282.4,883.9 1283.2,884.2 1284,882.6 1284.8,882.7 1285.6,883 1286.4,883.9 1287.2,883.6 1288,883.1 1288.8,881.7 1289.6,882.1 1290.4,882.7 1291.2,881.5 1292,883.2 1292.8,882.3 1293.6,883 1294.4,883.2 1295.2,882.5 1296,881.2 1296.8,879.6 1297.6,879.4 1298.4,879.9 1299.2,880.9 1300,879.9 1300.8,877.8 1301.6,877 1301.9,877.2 1302.3,877 1302.7,876.7 1303,875.4 1303.4,875 1303.8,874.3 1304.1,873.8 1304.5,874 1304.9,872.4 1305.2,871.5 1305.6,869.6 1305.9,869.9 1306.3,868.1 1306.7,867.7 1307,867.2 1307.4,865.9 1307.8,864.5 1308.1,865.1 1308.5,864.9 1308.9,863.1 1309.2,862 1309.6,862.3 1310,863.1 1310.3,863.5 1310.7,864.2 1311.1,864.1 1311.4,864.1 1311.8,865.2 1312.2,865.7 1312.5,866.5 1312.9,867.1 1313.3,867.6 1313.6,868.7 1314,870.3 1314.3,871.3 1314.7,872.9 1315.1,874 1315.4,874 1315.8,875.1 1316.2,875.5 1316.5,875.5 1316.9,876.2 1317.3,876.2 1317.6,877.1 1318,878.1 1318.8,879.6 1319.6,879.6 1320.4,881.6 1321.2,881.4 1322,881.8 1322.8,881.2 1323.6,880.4 1324.4,880.3 1325.2,880.8 1326,881.8 1326.8,881.5 1327.6,880.9 1328.4,881.6 1329.2,883.1 1330,882.4 1330.8,881.9 1331.6,882.1 1332.4,883 1333.2,882.7 1334,883 1334.8,882.5 1335.6,882.2 1336.4,883.2 1337.2,883.1 1338,883.5 1338.8,883.2 1339.6,884.3 1340.4,884.6 1342.3,883.4 1344.3,883.4 1346.2,882.9 1348.1,885.1 1350.1,883.6 1352,883.8 1354,884.3 1355.9,884.9 1357.8,883.8 1359.8,884.2 1361.7,884.5 1363.7,884.6 1365.6,884.6 1367.5,883.7 1369.5,883.9 1371.4,883.7 1373.4,882.7 1375.3,883.3 1377.2,883.4 1379.2,883.5 1381.1,883.2 1383.1,883.8 1385,883.6 1386.9,884.1 1388.9,883.4 1390.8,883.9 1392.8,883.9 1394.7,884 1396.6,885 1398.6,884.3 1400.5,884.4 1402.5,885.2 1404.4,884.2 1406.3,883.4 1408.3,883.5 1410.2,883.9 1412.2,885 1414.1,884.1 1416,883.9 1418,883.8 1419.9,884.6 1421.9,884.3 1423.8,881.9 1425.8,882.9 1427.7,883.5 1429.6,883.3 1431.6,883.8 1433.5,883 1435.5,882.5 1437.4,883.5 1439.3,883.5 1441.3,882.4 1443.2,882.5 1445.2,882.5 1446,883.1 1446.8,884.4 1447.6,883.5 1448.4,882.4 1449.1,883.4 1449.9,883.2 1450.7,883.1 1451.5,883.2 1452.3,883 1453.1,882.8 1453.9,883 1454.7,881.7 1455.5,881.9 1456.3,881.2 1457.1,879 1457.9,880.5 1458.7,880.3 1459.5,879.5 1460.3,879.2 1461.1,879.6 1461.9,879.4 1462.7,878.3 1463.5,877.3 1464.3,877.4 1465.1,876.2 1465.9,874.9 1466.7,873.4 1467.5,871.6 1467.9,871 1468.3,870 1468.6,870.2 1469,869.4 1469.4,867.6 1469.7,866.8 1470.1,865.2 1470.4,863.6 1470.8,863.7 1471.2,862.4 1471.5,859.7 1471.9,857.5 1472.3,856 1472.6,854.4 1473,853.2 1473.4,852.1 1473.7,849.5 1474.1,849.4 1474.5,849.1 1474.8,847.8 1475.2,847.1 1475.6,847.9 1475.9,847.6 1476.3,847.9 1476.7,848.2 1477,849.6 1477.4,851.2 1477.8,852.5 1478.1,853.5 1478.5,855 1478.8,857.7 1479.2,859.6 1479.6,861.5 1479.9,862.4 1480.3,864.4 1480.7,865.8 1481,867.1 1481.4,866.9 1481.8,868.8 1482.1,869 1482.5,870.7 1482.9,872.4 1483.2,873.5 1483.6,872.5 1484,872.7 1484.8,874.3 1485.6,874.6 1486.4,876.9 1487.2,877.8 1488,877.1 1488.8,877.3 1489.6,877.5 1490.4,879.7 1491.2,879.9 1492,879.4 1492.8,880.5 1493.6,881 1494.4,880.6 1495.1,880.7 1495.9,880.8 1496.7,880.8 1497.5,881.6 1498.3,881.3 1499.1,881.5 1499.9,881.8 1500.7,881.8 1501.5,881.6 1502.3,881.6 1503.1,882 1503.9,881.4 1504.7,882.3 1505.5,880.9 1506.3,881.1 1507.1,880.5 1507.9,880.4 1508.7,880 1509.5,881.5 1510.3,880.9 1511.1,880.3 1511.9,880.7 1512.7,879.7 1513.5,881.6 1514.3,880.3 1515.1,878.6 1515.9,878.3 1516.7,880 1517.5,878.8 1518.3,879.4 1519.1,878.6 1519.9,877.2 1520.7,876.1 1521.1,875.9 1521.4,874.4 1521.8,873.9 1522.2,873.7 1522.5,874 1522.9,873.1 1523.3,872.4 1523.6,871 1524,871 1524.4,869.5 1524.7,868.9 1525.1,868.5 1525.5,866.7 1525.8,865.5 1526.2,864.7 1526.6,863 1526.9,861.5 1527.3,860.5 1527.7,859.5 1528,858.8 1528.4,859.1 1528.8,858.9 1529.1,858.4 1529.5,858.7 1529.8,858.2 1530.2,858.5 1530.6,858.4 1530.9,860.4 1531.3,861.3 1531.7,861.7 1532,863.8 1532.4,865.5 1532.8,866.4 1533.1,867.3 1533.5,868.4 1533.9,869.3 1534.2,870.8 1534.6,870.7 1535,871.3 1535.3,873.5 1535.7,874.8 1536.1,875.2 1536.4,875.7 1536.8,876.4 1537.2,875.8 1537.5,875.5 1537.9,877 1538.2,876.6 1539,877.6 1539.8,878.6 1540.6,878.8 1541.4,880.1 1542.2,880.4 1543,881.6 1543.8,881.5 1544.6,881.4 1545.4,881.3 1546.2,882.3 1547,882.2 1547.8,882.2 1548.6,882.7 1549.4,883.3 1550.2,882.3 1551,882.6 1551.8,882.6 1552.6,883.4 1553.4,883.4 1554.2,882.6 1555,882.8 1555.8,883.8 1556.6,884.7 1557.4,884 1558.2,884.3 1559,883.4 1559.8,882.5 1560.6,883.5 1561.4,884.2 1562.2,884.9 1564.2,884.5 1566.1,883.1 1568,882.7 1570,883.2 1571.9,883.8 1573.9,885.7 1575.8,885.6 1577.7,886.4 1579.7,885.4 1581.6,885.4 1583.6,886.1 1585.5,885.5 1587.4,885.9 1589.4,884.9 1591.3,884.3 1593.3,883.2 1595.2,883.8 1597.1,885 1599.1,884.7 1601,884.1 1603,884.6 1604.9,885.5 1606.8,884.8 1608.8,885.3 1610.7,884.3 1612.7,884.3 1614.6,886.1 1616.6,885.1 1618.5,885.2 1620.4,884.4 1622.4,884.2 1624.3,884.6 1626.3,884 1628.2,884.1 1630.1,885 1632.1,884.8 1634,885.1 1636,885.2 1637.9,884.8 1639.8,883.4 1641.8,884.1 1643.7,883.5 1645.7,883.4 1647.6,884.1 1649.5,884 1651.5,885.3 1653.4,886.3 1655.4,885.7 1657.3,885.9 1659.2,886.1 1661.2,885.5 1663.1,885.7 1665.1,884.3 1667,884.4 1668.9,883.3 1670.9,885.1 1672.8,884.9 1674.8,885.4 1676.7,885.2 1678.6,886.3 1680.6,886.2 1682.5,886.5 1684.5,887 1686.4,885.7 1688.3,886 1690.3,886 1692.2,885.9 1694.2,884.2 1696.1,884.2 1698,883.1 1700,883.8 1701.9,884 1703.9,883.4 1705.8,883.2 1707.8,882.9 1708.6,883.4 1709.4,884.1 1710.1,884.1 1710.9,883.9 1711.7,883.9 1712.5,883.7 1713.3,882.8 1714.1,883.8 1714.9,884.2 1715.7,885 1716.5,884.5 1717.3,884.4 1718.1,882.4 1718.9,883.1 1719.7,882.6 1720.5,883.6 1721.3,883.5 1722.1,883.6 1722.9,882 1723.7,881.8 1724.5,881.6 1725.3,879.9 1726.1,879.7 1726.9,879.2 1727.7,879.2 1728.5,879.4 1729.3,879.3 1730.1,878.9 1730.9,877.8 1731.7,876.7 1732.5,876.1 1733.3,873.7 1733.7,873.9 1734.1,873.2 1734.4,871.9 1734.8,871.9 1735.1,871.8 1735.5,870.2 1735.9,869 1736.2,868.2 1736.6,867.7 1737,866.1 1737.3,865.7 1737.7,864.3 1738.1,862.4 1738.4,862.1 1738.8,860.6 1739.2,859.6 1739.5,857.9 1739.9,856.6 1740.3,855.6 1740.6,855.2 1741,853.3 1741.4,852.5 1741.7,852.3 1742.1,853.2 1742.5,853.2 1742.8,853.3 1743.2,853.8 1743.5,853.9 1743.9,854.7 1744.3,854.4 1744.6,855.9 1745,856.1 1745.4,857.9 1745.7,860.9 1746.1,862.4 1746.5,863.3 1746.8,864.3 1747.2,865.5 1747.6,866.5 1747.9,866.8 1748.3,867.6 1748.7,869.6 1749,871 1749.4,870.9 1749.8,871.7 1750.1,872.9 1750.5,873.3 1750.9,874.4 1751.2,875 1751.6,874.7 1751.9,876 1752.7,877.7 1753.5,878.4 1754.3,877.6 1755.1,879.4 1755.9,881.3 1756.7,880.5 1757.5,880.6 1758.3,881.4 1759.1,881.3 1759.9,882 1760.7,883.5 1761.5,883.2 1762.3,883.5 1763.1,883.5 1763.9,883.8 1764.7,883.8 1765.5,883.2 1766.3,883.6 1767.1,883.7 1767.9,883.3 1768.7,883.6 1769.5,884.2 1770.3,884.7 1771.1,884.3 1771.9,883.8 1772.7,883.6 1773.5,884.5 1774.3,884.5 1775.1,883.1 1775.9,884.7 1776.7,884.7 1777.5,884.1 1779,885.2"/>
<polyline fill="none" stroke="#ff0000" stroke-width="7.6" stroke-linejoin="round" stroke-linecap="butt" points="181,921.2 182.9,921.6 184.9,921 186.8,921.3 188.8,921.2 190.7,919.9 192.6,921.1 194.6,923.2 196.5,921 198.5,922 200.4,921.4 202.3,922.5 204.3,922.4 206.2,922 208.2,923 210.1,922.2 212,921.3 214,922 215.9,921.9 217.9,922.9 219.8,920.7 221.7,921.1 223.7,920.4 225.6,921 227.6,919.8 229.5,919.3 231.5,919.8 233.4,920.6 235.3,921.4 237.3,921.6 239.2,921.1 241.2,920.4 243.1,919.8 245,920.7 247,920.5 248.9,919.9 250.9,919.9 252.8,921 254.7,920 256.7,919.1 258.6,920.9 260.6,920.4 262.5,919.1 264.4,919.6 266.4,919.2 268.3,919.9 270.3,920.3 272.2,920.8 274.1,920.5 276.1,920.1 278,919.5 280,919.9 281.9,920.3 283.8,921.5 285.8,921.3 287.7,920.7 289.7,920.5 291.6,920.1 293.5,920.1 295.5,919.8 297.4,918.9 299.4,919 301.3,919.1 303.2,918.9 305.2,918.8 307.1,919 309.1,919.5 311,919.4 312.9,919.3 314.9,919.2 316.8,919.1 318.8,918.7 320.7,919.1 322.7,919.1 324.6,917.6 326.5,918 328.5,916.8 330.4,916.7 332.4,915.7 334.3,913.8 336.2,914.9 337,915.8 337.8,916.2 338.6,915.8 339.4,915.7 340.2,914.5 341,913.8 341.8,913.3 342.6,914 343.4,913 344.2,913.7 345,913 345.8,911.9 346.6,911.5 347.4,910.5 348.2,910.6 349,909 349.8,910.3 350.6,910.3 351.4,908.9 352.2,909.1 353,907.4 353.8,905.6 354.6,904.8 355.4,903.4 356.2,902.2 357,902.7 357.8,902.7 358.6,900.9 359.4,899.3 360.2,897.3 361,894 361.8,892.8 362.6,890.7 363.4,889.7 364.2,884.7 365,881.5 365.8,877.2 366.6,873.1 367,870.7 367.3,868.2 367.7,865.8 368.1,862.3 368.4,859.8 368.8,855.9 369.2,852.5 369.5,848.5 369.9,845.9 370.2,842 370.6,836.5 371,831 371.3,827.7 371.7,823.3 372.1,818.8 372.4,814 372.8,810.3 373.2,805.4 373.5,800.5 373.9,794.9 374.3,789.7 374.6,784.2 375,781.8 375.4,779.1 375.7,777.6 376.1,775.8 376.5,774 376.8,774.1 377.2,773.9 377.6,775.2 377.9,775.9 378.3,779.7 378.6,781 379,783.6 379.4,788.6 379.7,792.4 380.1,796.5 380.5,802.3 380.8,805.9 381.2,809.7 381.6,815.7 381.9,820 382.3,824.8 382.7,830.3 383,834.2 383.4,838.6 383.8,842.7 384.1,846.6 384.5,849.6 384.9,852.9 385.2,855.6 385.6,859.2 386,861 386.3,864.6 386.7,865.2 387.1,869.2 387.4,871 387.8,872.1 388.1,874.1 388.9,877 389.7,881.7 390.5,884.5 391.3,887.4 392.1,889.5 392.9,890.5 393.7,891.3 394.5,893 395.3,894.8 396.1,895.5 396.9,896 397.7,897.4 398.5,897.9 399.3,898.2 400.1,899.2 400.9,900 401.7,900.1 402.5,901.5 403.3,901.2 404.1,901.7 404.9,904 405.7,903.2 406.5,902.7 407.3,903 408.1,904.1 408.9,903.7 409.7,904 410.5,903.6 411.3,904.2 412.1,904.3 412.9,905 413.7,904.8 414.5,904.5 415.3,905.3 416.1,905.7 416.9,906.2 417.7,906.6 418.5,906 420.4,906.3 422.4,906.6 424.3,905.2 426.3,907.1 428.2,907.6 430.2,908.4 432.1,906.4 434,907.1 436,907.2 437.9,907.6 439.9,906.9 440.7,907.8 441.5,908.4 442.3,908.1 443,907.3 443.8,908.4 444.6,909.7 445.4,909.5 446.2,909.4 447,909.4 447.8,908.5 448.6,908.5 449.4,908.3 450.2,907.2 451,907.5 451.8,908 452.6,909 453.4,909.1 454.2,907.9 455,907.9 455.8,908.8 456.6,908.2 457.4,907.8 458.2,907.1 459,906.5 459.8,907.1 460.6,907.2 461.4,907.5 462.2,907.9 463,907.5 463.8,905.9 464.6,906.7 465.4,906.3 466.2,904.3 467,903.2 467.8,902.8 468.6,901 469.4,899.8 469.8,900.4 470.1,898.9 470.5,897.7 470.9,897 471.2,895.9 471.6,896.1 472,895.1 472.3,893.5 472.7,892 473.1,892.3 473.4,890.3 473.8,889.1 474.2,887.3 474.5,885.8 474.9,884.9 475.3,883.9 475.6,882.4 476,879.8 476.4,878.3 476.7,876.8 477.1,875.6 477.5,873.7 477.8,873 478.2,873.1 478.5,871.4 478.9,871.2 479.3,870 479.6,870 480,869.7 480.4,870.4 480.7,870.2 481.1,871.1 481.5,871.9 481.8,874.7 482.2,874.4 482.6,875.5 482.9,878.1 483.3,878.1 483.7,878.9 484,880.3 484.4,883.1 484.8,884.1 485.1,886.5 485.5,887.4 485.9,890.7 486.2,891.9 486.6,892.7 486.9,893.5 487.3,894.7 487.7,896 488,896.8 488.4,898.4 488.8,899.7 489.1,900.2 489.5,900.7 489.9,902.3 490.2,903.4 490.6,904.1 491,904.2 491.3,904.1 492.1,905.1 492.9,907 493.7,908.3 494.5,910.2 495.3,910.9 496.1,911.1 496.9,912 497.7,912.9 498.5,912.6 499.3,913.6 500.1,914 500.9,914.7 501.7,914.3 502.5,914.5 503.3,915 504.1,915.3 504.9,915.7 505.7,916.2 506.5,916.3 507.3,916.1 508.1,915.8 508.9,917.1 509.7,917.3 510.5,917.7 511.3,917.3 512.1,917.4 512.9,918.3 513.7,918.7 514.5,918.5 515.3,918.9 516.1,917.2 516.9,918.7 517.7,919.1 518.5,918.7 519.3,918.5 520.1,918.7 520.9,918.8 521.7,918.8 523.6,918.3 525.6,919 527.5,920.9 529.5,919 531.4,920.2 533.3,920.8 535.3,920.5 537.2,921 539.2,919.8 541.1,918.7 543,920.4 545,920.7 546.9,920.8 548.9,920.1 550.8,920.9 552.7,921.1 554.7,921.4 556.6,920.9 558.6,920.6 560.5,920.6 562.4,919.7 564.4,919.2 566.3,920.8 568.3,922.3 570.2,920.8 572.1,920.7 574.1,921 576,920.5 578,921.2 579.9,921.4 581.8,922.5 583.8,922 585.7,921.7 587.7,921.2 589.6,920.8 591.5,921.9 593.5,921.8 595.4,921.7 597.4,921.5 599.3,921 601.3,920.9 603.2,921.4 605.1,922.1 607.1,920.5 609,921 611,921.4 612.9,922.6 614.8,922.5 616.8,922.4 618.7,921.7 620.7,920 622.6,919.8 624.5,920.7 626.5,921.2 628.4,920.3 630.4,922.1 632.3,921.8 634.2,921.2 636.2,922.3 638.1,921.7 640.1,922.1 642,921.3 643.9,921.9 645.9,921.1 647.8,921 649.8,920.8 651.7,920.5 653.6,920.7 655.6,919.6 657.5,920.7 659.5,921.1 661.4,921 663.3,920.8 665.3,920.6 667.2,921.2 669.2,921.3 671.1,921.5 673,921.2 675,921.4 676.9,921.3 678.9,922.2 680.8,920.7 682.7,919.5 684.7,920.3 686.6,920.6 688.6,920.9 690.5,921 692.5,921.7 694.4,921.6 696.3,922.5 698.3,921.9 700.2,921.3 702.2,921.2 704.1,922.1 706,922.9 708,923 709.9,921.5 711.9,921.7 713.8,921.1 715.7,920.8 717.7,921.8 719.6,922.7 721.6,921.7 723.5,920.9 725.4,921.5 727.4,921 729.3,921.3 731.3,920 733.2,920.5 735.1,921.2 737.1,920.9 739,920 741,919.9 742.9,920.4 744.8,921.1 746.8,919.7 748.7,919.9 750.7,920.8 752.6,921 754.5,919.9 756.5,918.3 758.4,918.9 760.4,918.2 762.3,918.9 764.2,918.1 766.2,917.9 767,917.6 767.8,919.5 768.6,917.2 769.4,917.2 770.2,918.5 771,918.3 771.8,918.7 772.6,917.9 773.4,917.7 774.2,917.1 775,917.6 775.8,918.2 776.6,917.8 777.4,917.4 778.2,916.2 779,915.8 779.8,915.6 780.6,914.9 781.4,914.7 782.2,914.8 783,914.4 783.8,914.8 784.6,914.4 785.4,914.8 786.2,913.9 787,914.2 787.8,913.4 788.6,911.7 789.4,910.5 790.2,909.8 791,908.7 791.8,907.4 792.6,907.2 793.4,905 794.2,903 795,902.8 795.8,901 796.5,898.8 797.3,896.6 797.7,897.2 798.1,896.4 798.4,894.4 798.8,892.6 799.2,890.6 799.5,889.4 799.9,888.2 800.3,886.6 800.6,883.6 801,882.3 801.4,881.7 801.7,879.4 802.1,876.7 802.5,875 802.8,872.1 803.2,869.7 803.6,866.9 803.9,865.1 804.3,862.6 804.7,858.7 805,856.8 805.4,854.7 805.7,852.5 806.1,850.8 806.5,848.1 806.8,847.4 807.2,845.9 807.6,845.1 807.9,844.8 808.3,844.8 808.7,843.3 809,844.5 809.4,844.9 809.8,845.9 810.1,847 810.5,847.8 810.9,849.9 811.2,851.1 811.6,853.9 812,856.3 812.3,858.2 812.7,861 813.1,864 813.4,866.9 813.8,869.4 814.2,870.1 814.5,872.8 814.9,875.6 815.2,877.2 815.6,879.1 816,881.9 816.3,884.6 816.7,886 817.1,887.5 817.4,887.7 817.8,890.3 818.2,891.6 818.5,892.4 818.9,893.6 819.3,895.5 819.6,897.6 820,897.9 820.4,898.8 821.2,901.1 822,902.9 822.8,904.4 823.6,906.7 824.4,907.2 825.2,908.4 826,909.1 826.8,910.1 827.6,911.1 828.3,911.8 829.1,912.5 829.9,912.9 830.7,911.5 831.5,911.6 832.3,913.2 833.1,913.3 833.9,913.6 834.7,914.5 835.5,913.6 836.3,914.7 837.1,915 837.9,914.6 838.7,915.1 839.5,915.8 840.3,916.5 841.1,915.4 841.9,915.2 842.7,916.1 843.5,915.7 844.3,916.1 845.1,917.1 845.9,917.1 846.7,917.4 847.5,917.6 848.3,918 849.1,917.2 849.9,918.8 850.7,919.3 851.5,919.4 852.3,918.9 854.3,919.2 856.2,919.2 858.1,918.8 860.1,918.4 862,919.7 864,919.2 865.9,920.3 867.8,919.7 869.8,919.4 871.7,918.5 873.7,919.2 875.6,919.3 877.5,920.3 879.5,920 881.4,920.6 883.4,920.8 885.3,921.1 887.2,921.6 889.2,921.7 891.1,920.7 893.1,921.1 895,921.8 896.9,921.1 898.9,920.4 900.8,921.1 902.8,920.4 904.7,920.3 906.7,921.3 908.6,921.1 910.5,921.8 912.5,920.7 914.4,921.2 916.4,920.8 918.3,921.1 920.2,921.5 922.2,921.4 924.1,921.6 926.1,920.3 928,921.3 929.9,921.7 931.9,920.4 933.8,921.7 935.8,920.4 937.7,920.2 939.6,919.9 941.6,919.9 943.5,918.8 945.5,919 947.4,920.4 949.3,920.4 951.3,920.8 953.2,919.5 955.2,918.3 957.1,919.5 959,918.6 961,919.6 962.9,919.7 964.9,920.1 966.8,919.8 967.6,919.4 968.4,917.5 969.2,918 970,918.2 970.8,918.2 971.6,918.5 972.4,917.9 973.2,918.8 974,918.6 974.8,918 975.6,916.9 976.4,917.5 977.2,917.5 978,917.7 978.8,917.2 979.6,917.6 980.4,917.8 981.2,917.7 982,916.6 982.8,915.2 983.6,916 984.4,916.4 985.2,916.3 986,915 986.8,914.5 987.6,914.7 988.4,914.5 989.2,914.2 990,913.6 990.8,913.4 991.6,911.8 992.4,910.9 993.2,910.4 994,909.8 994.8,909.9 995.6,908.3 996.4,907.4 997.2,906.8 998,905.5 998.8,904.5 999.6,902.9 999.9,901.6 1000.3,900.7 1000.7,898.9 1001,899.1 1001.4,898.1 1001.8,896.5 1002.1,894.9 1002.5,895.6 1002.9,893.7 1003.2,891.9 1003.6,890 1003.9,889.7 1004.3,886.9 1004.7,885.5 1005,883.5 1005.4,882.1 1005.8,880.4 1006.1,878.6 1006.5,876.6 1006.9,875 1007.2,874.2 1007.6,872.7 1008,870.6 1008.3,869.4 1008.7,866.8 1009.1,865.3 1009.4,866.1 1009.8,864.6 1010.2,863.4 1010.5,864.4 1010.9,864.4 1011.3,862.9 1011.6,864 1012,865.6 1012.3,865.8 1012.7,866.1 1013.1,869.5 1013.4,870.6 1013.8,871.6 1014.2,872.7 1014.5,873.9 1014.9,875.5 1015.3,877 1015.6,879.1 1016,881.2 1016.4,884.1 1016.7,885.1 1017.1,885.7 1017.5,888.5 1017.8,889.3 1018.2,890.4 1018.6,891.3 1018.9,893.4 1019.3,894.6 1019.7,896.6 1020,897.4 1020.4,899.1 1020.7,898.3 1021.1,901.1 1021.5,903.4 1021.8,903.2 1022.2,902.5 1022.6,903.1 1022.9,903.2 1023.7,905.8 1024.5,906.5 1025.3,908.2 1026.1,908.9 1026.9,909.1 1027.7,910.4 1028.5,911.7 1029.3,913.2 1030.1,913.8 1030.9,913.3 1031.7,914.7 1032.5,914.9 1033.3,916 1034.1,916.6 1034.9,916 1035.7,915.9 1036.5,914.8 1037.3,916.2 1038.1,917 1038.9,917.1 1039.7,917.6 1040.5,918.2 1041.3,917.2 1042.1,916 1042.9,915.5 1043.7,915.7 1044.5,916.5 1045.3,916.9 1046.1,917 1046.9,916.8 1047.7,917.8 1048.5,918 1049.3,917.6 1050.1,918.8 1050.9,918.2 1051.7,919.9 1052.5,918.8 1053.3,918.3 1054.1,920.1 1054.9,920 1055.7,919.7 1056.5,918.5 1057.3,918 1058.1,917.7 1058.9,919.3 1059.7,919.3 1060.5,918.4 1061.3,917.6 1062.1,917.1 1062.5,917.4 1062.8,916.7 1063.2,918.2 1063.6,917.5 1063.9,917.1 1064.3,917.1 1064.6,917.7 1065,917.6 1065.4,918.1 1065.7,917.5 1066.1,916.7 1066.5,916.9 1066.8,916 1067.2,916.9 1067.6,916.3 1067.9,915.9 1068.3,916.1 1068.7,916.3 1069,916.4 1069.4,916 1069.8,915.6 1070.1,914.5 1070.5,915.4 1070.9,915.7 1071.2,914.9 1071.6,915 1072,915.7 1072.3,915.2 1072.7,915.3 1073,914.3 1073.4,914.6 1073.8,915 1074.1,914.6 1074.5,914.5 1074.9,915.2 1075.2,913.6 1075.6,914.8 1076,914.4 1076.3,916.1 1076.7,916.4 1077.1,915.3 1077.4,914.5 1077.8,915.7 1078.2,916 1078.5,916 1078.9,916.2 1079.3,917.3 1079.6,916.4 1080,916.4 1080.4,915.2 1080.7,916.8 1081.1,916.5 1081.5,917.1 1081.8,917.4 1082.2,917.2 1082.5,917 1082.9,916.7 1083.3,917.2 1083.6,917.5 1084,918.2 1084.4,918.2 1084.7,917.7 1085.1,919.5 1085.5,921.3 1085.8,920.4 1086.2,918.9 1087,919.8 1087.8,919.7 1088.6,919.4 1089.4,919.5 1090.2,919.5 1091,918.3 1091.8,919.9 1092.6,919.7 1093.4,921.1 1094.2,921.3 1095,921.1 1095.8,922.2 1096.6,921.9 1097.4,921.8 1098.2,920.6 1099,920.2 1099.8,921.2 1100.6,920.8 1101.4,920.9 1102.2,920.9 1103,921.7 1103.8,922 1104.6,921.9 1105.4,920.5 1106.2,920.6 1107,919.7 1107.8,919.5 1108.6,919.7 1109.4,920.6 1110.2,921.4 1111,922.1 1111.8,921.7 1112.6,922 1113.4,920.4 1114.2,921.4 1115,922.2 1115.8,921.3 1116.6,920.5 1117.4,920.4 1118.2,920.6 1119,920.9 1119.8,920.8 1121.7,920.7 1123.6,920.9 1125.6,922 1127.5,922.3 1129.5,922.2 1131.4,921 1133.3,921.4 1135.3,921.3 1137.2,921.1 1139.2,922 1141.1,921.9 1143,921.7 1145,920.7 1146.9,920.5 1148.9,922.1 1150.8,920.5 1152.7,920.7 1154.7,921 1156.6,920.8 1158.6,920.3 1160.5,922.3 1162.4,922.1 1164.4,922.1 1166.3,922.1 1168.3,922.2 1170.2,921.1 1172.1,919.8 1174.1,920.8 1176,920.9 1178,920.6 1179.9,919.9 1181.9,920.5 1183.8,920.7 1185.7,921.8 1187.7,922.9 1189.6,922.9 1191.6,922 1193.5,922.3 1195.4,921.2 1197.4,921.4 1199.3,921.5 1201.3,921.5 1203.2,921.1 1205.1,922.1 1207.1,922.5 1209,921.7 1211,921.7 1212.9,921.7 1214.8,921.7 1216.8,920.8 1218.7,920.8 1220.7,921.7 1222.6,922.2 1224.5,920.8 1226.5,920.5 1228.4,920.8 1230.4,921.3 1232.3,921.8 1234.2,922.3 1236.2,921.2 1238.1,921.7 1240.1,920.9 1242,921.4 1243.9,921.5 1245.9,921.3 1247.8,922.1 1249.8,922.7 1251.7,922.6 1253.6,923 1255.6,922.7 1257.5,921.3 1259.5,921.4 1261.4,921.2 1262.2,921.6 1263,921.9 1263.8,921.6 1264.6,922.1 1265.4,920.6 1266.2,920.9 1267,922.1 1267.8,921.3 1268.6,922.3 1269.4,921.3 1270.2,920.4 1271,920.6 1271.8,922 1272.6,922.3 1273.4,922.6 1274.2,922.8 1275,922.6 1275.8,922.6 1276.6,921.6 1277.4,921.3 1278.2,921.7 1279,921.5 1279.8,921 1280.6,920.9 1281.4,921.8 1282.2,923.9 1283,922.7 1283.8,922.1 1284.6,922.5 1285.4,921.8 1286.2,923 1287,921.7 1287.8,920.5 1288.6,921.7 1289.4,920 1290.2,919.7 1291,920 1291.8,920.5 1292.6,920.7 1293.4,919.9 1294.2,920 1295,921.4 1295.8,919.5 1296.6,918.9 1297.4,920.1 1297.7,919.3 1298.1,919.1 1298.5,918.5 1298.8,917.9 1299.2,917.9 1299.6,918.4 1299.9,919 1300.3,918.5 1300.7,918.5 1301,917.4 1301.4,916.6 1301.7,917.1 1302.1,917.2 1302.5,918 1302.8,916.6 1303.2,916.8 1303.6,917.5 1303.9,916.9 1304.3,918 1304.7,916.6 1305,915.7 1305.4,915.6 1305.8,913.8 1306.1,913.9 1306.5,915.2 1306.9,915.7 1307.2,915.6 1307.6,915.4 1308,914.3 1308.3,914.5 1308.7,914.5 1309.1,913.7 1309.4,913.8 1309.8,913.7 1310.1,914.5 1310.5,913.9 1310.9,914.9 1311.2,913.6 1311.6,914 1312,914.3 1312.3,914.5 1312.7,914.8 1313.1,915 1313.4,916.6 1313.8,917.3 1314.2,917.5 1314.5,916.1 1314.9,916.3 1315.3,915.8 1315.6,916.1 1316,917 1316.4,918.8 1316.7,916.9 1317.1,917.6 1317.5,918.1 1317.8,918.9 1318.2,919.4 1318.5,919.5 1318.9,918 1319.3,918.6 1319.6,917.6 1320,918.8 1320.4,918.9 1320.7,919.2 1321.1,919.2 1321.5,919.9 1321.8,919.1 1322.2,919.3 1322.6,919.1 1323.4,919.8 1324.2,919.9 1325,920.1 1325.8,920 1326.6,920 1327.4,920 1328.2,919.1 1329,921.2 1329.8,920.5 1330.6,920.1 1331.4,920 1332.2,920.5 1333,921.9 1333.8,921.7 1334.6,922.2 1335.3,921.6 1336.1,921.4 1336.9,922.2 1337.7,922.3 1338.5,922.2 1339.3,921.8 1340.1,921.9 1340.9,921.4 1341.7,921.6 1342.5,921.1 1343.3,921.3 1344.1,922.2 1344.9,922.4 1345.7,922.2 1346.5,921.8 1347.3,921.1 1348.1,921.6 1348.9,920.8 1349.7,921.8 1350.5,922.5 1351.3,922.4 1352.1,922 1352.9,922.7 1353.7,922.9 1354.5,922.2 1355.3,922.8 1356.1,921.9 1356.9,921.8 1357.7,922.7 1358.5,922.3 1360.5,923 1362.4,922.5 1364.3,922.7 1366.3,921.9 1368.2,921.2 1370.2,921.9 1372.1,920.8 1374,920.9 1376,921.1 1377.9,922 1379.9,922.9 1381.8,922.4 1383.7,923 1385.7,922.9 1387.6,923.2 1389.6,922.5 1391.5,922.2 1393.4,921.9 1395.4,921.5 1397.3,922.1 1399.3,921.1 1401.2,921.4 1403.2,921 1405.1,922.2 1407,921.6 1409,921.6 1410.9,920.8 1412.9,921.2 1414.8,923.1 1416.7,921.9 1418.7,921.1 1420.6,921.6 1422.6,921.6 1424.5,921.4 1426.4,921.4 1427.2,920.2 1428,921.2 1428.8,919.8 1429.6,920.3 1430.4,920.7 1431.2,920.3 1432,921.6 1432.8,921.6 1433.6,921.7 1434.4,921.3 1435.2,921 1436,921.3 1436.8,921.2 1437.6,922 1438.4,921.2 1439.2,921 1440,920.9 1440.8,919.8 1441.6,920 1442.4,919.6 1443.2,920 1444,920.3 1444.8,919.5 1445.6,918.9 1446.4,919.5 1447.2,920.2 1448,919.2 1448.8,920 1449.6,919 1450.4,919.9 1451.2,919.8 1452,919 1452.8,919.3 1453.6,919.6 1454.4,918.9 1455.2,917.8 1456,917.8 1456.8,918.6 1457.6,918.3 1458.4,917.9 1459.2,917.9 1460,916.8 1460.8,915 1461.6,916.2 1462.4,915.2 1462.8,914.3 1463.1,914.2 1463.5,915.2 1463.9,914.7 1464.2,915.2 1464.6,915.1 1464.9,914.9 1465.3,915.9 1465.7,914.8 1466,914 1466.4,914.5 1466.8,913.1 1467.1,912.7 1467.5,911.8 1467.9,911.8 1468.2,910.4 1468.6,910.1 1469,908.2 1469.3,908.9 1469.7,908.6 1470.1,908.4 1470.4,907.5 1470.8,906.9 1471.2,906.3 1471.5,905.8 1471.9,905.8 1472.3,905.2 1472.6,904.9 1473,903.6 1473.3,902.8 1473.7,901.8 1474.1,902.5 1474.4,902.8 1474.8,903.2 1475.2,903.1 1475.5,903 1475.9,903.1 1476.3,903.6 1476.6,905.2 1477,904 1477.4,903.8 1477.7,904.5 1478.1,903.2 1478.5,904.9 1478.8,904.1 1479.2,905.9 1479.6,907.3 1479.9,906.8 1480.3,906.3 1480.7,908.3 1481,908.9 1481.4,908.8 1481.7,908.1 1482.1,908.8 1482.5,909.9 1482.8,911.8 1483.2,911 1483.6,911.4 1483.9,911 1484.3,911.6 1484.7,911.1 1485,912 1485.4,913.5 1485.8,913.5 1486.1,912.4 1486.5,913.3 1486.9,914.6 1487.2,913 1487.6,914.8 1488,915.2 1488.3,914.4 1488.7,914.7 1489.1,915.9 1489.9,915.3 1490.7,916.6 1491.5,916.1 1492.3,916.6 1493,916.9 1493.8,917.1 1494.6,918.6 1495.4,918.5 1496.2,919.3 1497,918.7 1497.8,918 1498.6,918.9 1499.4,918.4 1500.2,918.3 1501,918.5 1501.8,919.6 1502.6,919.9 1503.4,919.6 1504.2,919.8 1505,918.5 1505.8,919.1 1506.6,918.2 1507.4,919.1 1508.2,918.7 1509,918.9 1509.8,918.7 1510.6,919.4 1511.4,918.6 1512.2,918.4 1513,917.8 1513.8,918 1514.6,917.3 1515.4,917 1516.2,917.3 1516.6,917.5 1517,917 1517.3,916.4 1517.7,916.8 1518,915.9 1518.4,916.3 1518.8,916.2 1519.1,915.8 1519.5,914.9 1519.9,915.3 1520.2,914.7 1520.6,915.2 1521,916.2 1521.3,915.6 1521.7,914.7 1522.1,913 1522.4,913.2 1522.8,913.4 1523.2,913.4 1523.5,912.3 1523.9,911.4 1524.3,911 1524.6,909.4 1525,908.9 1525.4,910.2 1525.7,909.5 1526.1,909 1526.4,909.3 1526.8,908.8 1527.2,909 1527.5,909.2 1527.9,908.5 1528.3,907 1528.6,908 1529,908.6 1529.4,908.5 1529.7,908.5 1530.1,909.1 1530.5,907.9 1530.8,908.4 1531.2,908.1 1531.6,908.3 1531.9,909.2 1532.3,908.8 1532.7,908.7 1533,911.1 1533.4,911.6 1533.8,910.3 1534.1,911.7 1534.5,911.4 1534.8,911.5 1535.2,911.2 1535.6,911.4 1535.9,913.2 1536.3,914.5 1536.7,914.1 1537,914.7 1537.4,915.7 1537.8,915.7 1538.1,915.5 1538.5,917.1 1538.9,916.3 1539.2,916.5 1539.6,916.7 1540,916.1 1540.3,916.1 1540.7,917.1 1541.1,918.5 1541.4,918.5 1541.8,919.2 1542.2,918.9 1542.5,918.3 1542.9,918.8 1543.2,918.6 1544,919.1 1544.8,918.7 1545.6,919.8 1546.4,920.1 1547.2,919.1 1548,919 1548.8,918.8 1549.6,919.1 1550.4,919.3 1551.2,921.5 1552,921.6 1552.8,921.7 1553.6,920.5 1554.4,920.6 1555.2,921 1556,920.9 1556.8,921.3 1557.6,922 1558.4,921.2 1559.2,920.9 1560,921.7 1560.8,920.9 1561.6,921.3 1562.4,922 1563.2,922.4 1564,923.3 1564.8,922.7 1565.6,921.4 1566.4,922 1567.2,922.5 1568,923.1 1568.8,922.4 1569.6,921.9 1570.4,921.6 1571.2,922.3 1572,922 1572.8,921 1573.6,921.4 1574.4,922 1575.2,922.3 1576,922.1 1576.8,923 1577.6,923.1 1578.4,922 1579.2,921.7 1580,922.5 1580.8,922.5 1581.6,922.1 1583.5,923 1585.5,922.4 1587.4,923.4 1589.4,923.4 1591.3,923 1593.2,922.6 1595.2,922.5 1597.1,921.8 1599.1,922.2 1601,921.4 1602.9,922 1604.9,921.9 1606.8,922.2 1608.8,921.9 1610.7,922.1 1612.6,922.8 1614.6,922.2 1616.5,921.3 1618.5,921.4 1620.4,920.3 1622.4,920.9 1624.3,921 1626.2,922.1 1628.2,922.1 1630.1,921.9 1632.1,922.6 1634,922.2 1635.9,923 1637.9,922.3 1639.8,923.3 1641.8,923.2 1643.7,923.4 1645.6,923 1647.6,924.1 1649.5,922.5 1651.5,922.7 1653.4,922.9 1655.3,924.5 1657.3,923.6 1659.2,922.7 1661.2,922.4 1663.1,923 1665,922.4 1667,922.6 1668.9,922.8 1670.9,923.2 1672.8,921.5 1674.7,922.2 1676.7,924 1678.6,923.5 1680.6,922.4 1682.5,922.7 1684.4,923.7 1686.4,921.7 1688.3,922 1689.1,921.9 1689.9,922.3 1690.7,923.1 1691.5,922.5 1692.3,923 1693.1,922.3 1693.9,922.6 1694.7,923 1695.5,922.1 1696.3,922.9 1697.1,922.6 1697.9,922.8 1698.7,923.2 1699.5,923.3 1700.3,923.2 1701.1,922.8 1701.9,922.6 1702.7,922.2 1703.5,922.5 1704.3,923.3 1705.1,920.5 1705.9,921.2 1706.7,922.1 1707.5,922.3 1708.3,920.7 1709.1,921.5 1709.9,922.9 1710.7,922.7 1711.5,922.1 1712.3,922.1 1713.1,921.4 1713.9,921.5 1714.7,922.3 1715.5,921.3 1716.3,920.8 1717.1,920.2 1717.9,919.7 1718.7,921.2 1719.5,922.3 1720.3,922.5 1721.1,922.4 1721.9,921.4 1722.7,920.2 1723.5,919.5 1724.3,920.9 1725.1,920.4 1725.9,920 1726.7,919.6 1727.5,919.2 1727.8,918.3 1728.2,917.9 1728.6,917.9 1728.9,919.2 1729.3,918.8 1729.7,917.6 1730,916.7 1730.4,916.4 1730.8,916.6 1731.1,915.4 1731.5,915.2 1731.9,915.5 1732.2,914.8 1732.6,914.8 1733,914.6 1733.3,914.3 1733.7,913.7 1734.1,912.7 1734.4,911.8 1734.8,910.3 1735.1,911 1735.5,912.1 1735.9,910.2 1736.2,909.7 1736.6,908.2 1737,907.8 1737.3,907.9 1737.7,907.9 1738.1,906.8 1738.4,907 1738.8,908.1 1739.2,907.4 1739.5,907.3 1739.9,907.1 1740.3,906.1 1740.6,907.1 1741,905.7 1741.4,905.6 1741.7,906.1 1742.1,905.8 1742.5,905.5 1742.8,905.6 1743.2,905.3 1743.5,905.9 1743.9,906.2 1744.3,905.9 1744.6,905.4 1745,907.1 1745.4,907.6 1745.7,908.2 1746.1,908.1 1746.5,908.7 1746.8,909.7 1747.2,910.1 1747.6,910 1747.9,909.7 1748.3,910.7 1748.7,911.1 1749,913.2 1749.4,912.6 1749.8,912.8 1750.1,913.7 1750.5,912.7 1750.9,913.9 1751.2,914.5 1751.6,914.4 1751.9,915.3 1752.3,914.3 1752.7,914.7 1753,916 1753.4,916 1753.8,917.2 1754.1,917.9 1754.5,917.7 1754.9,915.9 1755.2,917.4 1755.6,918.2 1756,918 1756.3,918.1 1756.7,917 1757.1,916.5 1757.9,917.7 1758.7,918.1 1759.5,919.2 1760.3,920.1 1761.1,919.4 1761.9,919.7 1762.7,920.5 1763.5,919.6 1764.3,921.1 1765.1,921.4 1765.9,920.8 1766.6,922.1 1767.4,921.3 1768.2,921.7 1769,922.3 1769.8,922.1 1770.6,923.1 1771.4,922.7 1772.2,924 1773,923.2 1773.8,922.6 1774.6,923 1775.4,922.9 1776.2,922.3 1777,921.9 1777.8,921.7 1778.6,922.9 1779,922.8"/>
<polyline fill="none" stroke="#000000" stroke-width="7.6" stroke-linejoin="round" stroke-linecap="butt" points="181,969.9 182.9,969.4 184.9,969.4 186.8,969.1 188.8,971.5 190.7,970.1 192.6,970 194.6,970.1 196.5,970.4 198.5,970.6 200.4,971.2 202.3,970.8 204.3,970.1 206.2,970.4 208.2,971.1 210.1,971.4 212,970.8 214,971 215.9,970.6 217.9,969.7 219.8,970 221.7,969.3 223.7,969.9 225.6,970.2 227.6,970.5 229.5,970 231.5,968.7 233.4,969.8 235.3,970 237.3,969.6 239.2,969 241.2,968.3 243.1,969.5 245,971.2 247,969.8 248.9,970.2 250.9,970.7 252.8,969 254.7,968.8 256.7,968.7 258.6,969.4 260.6,969.4 262.5,969.9 264.4,970.3 266.4,970.2 268.3,968.8 270.3,969.3 272.2,968.8 274.1,968.7 276.1,969.1 278,968.5 280,967.5 281.9,967.4 283.8,966.9 285.8,968.3 287.7,968.2 289.7,967.9 291.6,968.7 293.5,969 295.5,968.5 297.4,968.2 299.4,967.7 301.3,966.5 303.2,968.1 305.2,968.8 307.1,967.7 309.1,967.6 311,966.4 312.9,965.8 314.9,966.1 316.8,966.4 318.8,967.2 320.7,967.4 322.7,966.1 324.6,965.4 326.5,965.3 328.5,964.3 330.4,963.4 331.2,963.1 332,963.1 332.8,961.7 333.6,962.9 334.4,963.1 335.2,961.8 336,962.8 336.8,960.6 337.6,961.3 338.4,961.6 339.2,962.1 340,960.6 340.8,960.9 341.6,960.6 342.4,960 343.2,959.2 344,957.8 344.8,958.1 345.6,958.1 346.4,957.7 347.2,957.1 348,955.7 348.8,955.3 349.6,954.9 350.4,952.9 351.2,953.1 352,953 352.8,952.1 353.6,950.4 354.4,949.3 355.2,949.4 356,948.3 356.8,947.1 357.6,944.4 358.4,941.8 359.2,941 360,938.5 360.8,936.1 361.6,933.9 362.4,932 363.2,928.9 364,924 364.8,919.6 365.1,918 365.5,915.6 365.9,913.3 366.2,911.2 366.6,907.9 367,905.5 367.3,902.9 367.7,900.2 368.1,896.6 368.4,892.2 368.8,887.6 369.2,885.3 369.5,882.8 369.9,879.3 370.2,874.6 370.6,870.7 371,867.8 371.3,862.5 371.7,858.5 372.1,854.6 372.4,849.5 372.8,846 373.2,843 373.5,838.3 373.9,833.2 374.3,831.8 374.6,828.3 375,824.9 375.4,822.8 375.7,820.2 376.1,818.9 376.5,817.9 376.8,817 377.2,817.1 377.6,818.4 377.9,818.9 378.3,820 378.6,822 379,826.9 379.4,830 379.7,832.2 380.1,834.9 380.5,839 380.8,843.1 381.2,846.8 381.6,849.6 381.9,854.7 382.3,858.8 382.7,862.9 383,867.3 383.4,871.4 383.8,875.5 384.1,878.7 384.5,882.4 384.9,885.6 385.2,889.8 385.6,892.9 386,894.5 386.3,897.6 386.7,900.6 387.1,902.7 387.4,906.4 387.8,907.3 388.1,909.4 388.5,912.2 388.9,914 389.2,915.9 389.6,917.3 390,919.4 390.8,922 391.6,925.3 392.4,928.4 393.2,930.1 394,931.4 394.8,933.3 395.6,935 396.4,935.7 397.2,937.3 398,937.9 398.8,938.7 399.6,940.6 400.4,942.7 401.2,942.1 402,942.4 402.8,942.4 403.6,943.3 404.4,944.6 405.2,943.8 406,945.3 406.8,946.4 407.6,945.3 408.3,946 409.1,945.4 409.9,946.1 410.7,945.7 411.5,946.3 412.3,946.7 413.1,946.2 413.9,947.6 414.7,947.6 415.5,947.5 416.3,948.2 417.1,947.9 417.9,947 418.7,946.6 419.5,946.3 420.3,947.4 421.1,946.9 421.9,947 422.7,947.2 423.5,946.2 424.3,947 425.1,947.8 427.1,948.2 429,948.3 431,948.9 432.9,949.5 433.7,949.5 434.5,949.8 435.3,950.5 436.1,951.1 436.9,951.9 437.7,950.9 438.5,951 439.3,951.8 440.1,952.9 440.9,951.9 441.7,952.1 442.5,950.4 443.3,950.5 444.1,950.7 444.9,951 445.7,952.1 446.5,951.4 447.3,951.4 448.1,951.1 448.9,951.8 449.7,950.4 450.5,951.4 451.3,951.5 452.1,950.9 452.9,952 453.7,951.2 454.5,952.5 455.3,952.5 456.1,953 456.9,953.4 457.7,952.3 458.5,953.4 459.3,952.7 460.1,953 460.9,953.1 461.7,951.6 462.5,952.2 463.3,952 464.1,951.6 464.9,951.4 465.6,950.3 466.4,950.2 467.2,949.7 467.6,948.8 468,947.9 468.3,947.8 468.7,947 469.1,946.9 469.4,945.7 469.8,946.9 470.2,945.3 470.5,945.4 470.9,945.4 471.3,943.3 471.6,942.6 472,941.6 472.4,941.7 472.7,940.8 473.1,940.5 473.5,939.7 473.8,938.6 474.2,937.5 474.6,936.2 474.9,935.6 475.3,935.5 475.6,935.2 476,933.3 476.4,933.3 476.7,932.7 477.1,931.9 477.5,931.3 477.8,930.6 478.2,929.2 478.6,929.5 478.9,929.7 479.3,929.4 479.7,928 480,928.8 480.4,928.8 480.8,929.1 481.1,927.9 481.5,928.5 481.9,929.2 482.2,929.6 482.6,930.9 483,931.1 483.3,932.6 483.7,935.1 484,936 484.4,937.2 484.8,937.8 485.1,939.1 485.5,939.8 485.9,939.8 486.2,941.1 486.6,942.8 487,943.4 487.3,945.3 487.7,945.5 488.1,947.7 488.4,949.8 488.8,949.7 489.2,950.6 489.5,950.7 489.9,951.9 490.3,952.8 490.6,953 491,953.1 491.4,954.1 491.7,954.1 492.1,954.4 492.5,954.3 492.8,955.1 493.2,955.9 494,957.1 494.8,959.4 495.6,959.5 496.4,960.1 497.2,959.5 498,959.6 498.8,959.5 499.6,960.4 500.4,961.9 501.2,962.8 502,962.6 502.8,963.9 503.6,963.4 504.4,963.9 505.2,963.2 506,964.4 506.8,964.8 507.6,964 508.4,965 509.2,964.4 510,963.7 510.8,964.3 511.6,964.7 512.4,965.7 513.2,966.5 514,966.3 514.8,966.2 515.6,967.6 516.4,967.3 517.2,966.4 517.9,966.6 518.7,967.5 519.5,967.4 520.3,966.6 521.1,967.9 521.9,967.5 522.7,967.1 523.5,967.4 524.3,966.9 525.1,965.7 525.9,966 526.7,967.4 527.5,966.7 528.3,967.5 529.1,965.8 531.1,968.1 533,967.7 535,967.8 536.9,968.1 538.8,968.2 540.8,968.1 542.7,968.4 544.7,968.4 546.6,968.1 548.5,967.6 550.5,968.2 552.4,969 554.4,969.2 556.3,969.2 558.2,969.1 560.2,967.7 562.1,967.4 564.1,967.9 566,969 567.9,969.3 569.9,968.3 571.8,968.2 573.8,968.9 575.7,968.4 577.6,969.4 579.6,969.8 581.5,968.5 583.5,969.5 585.4,968.9 587.3,968.1 589.3,969.5 591.2,969.1 593.2,968.8 595.1,967.8 597.1,969 599,969.7 600.9,969.1 602.9,969.4 604.8,968.3 606.8,968.1 608.7,969 610.6,968.7 612.6,969.4 614.5,969.2 616.5,968 618.4,969.2 620.3,968.5 622.3,968.7 624.2,969.5 626.2,970.3 628.1,969.6 630,968.6 632,969.5 633.9,969.2 635.9,969.6 637.8,970.5 639.7,969.7 641.7,968.5 643.6,969.3 645.6,968.2 647.5,968.5 649.4,968.1 651.4,967.8 653.3,968.2 655.3,969.1 657.2,970.1 659.1,970.8 661.1,969.1 663,969.4 665,969 666.9,969.2 668.8,968.8 670.8,968.7 672.7,970.1 674.7,970.3 676.6,969.4 678.5,970.2 680.5,969.9 682.4,970.3 684.4,969.2 686.3,969 688.3,969.5 690.2,969.7 692.1,969.4 694.1,968.1 696,968 698,969.4 699.9,969.2 701.8,969.9 703.8,969.7 705.7,969.6 707.7,969.1 709.6,969.1 711.5,968.8 713.5,969.3 715.4,970.2 717.4,969.2 719.3,968.7 721.2,967.3 723.2,967.9 725.1,968 727.1,967.4 729,968.3 730.9,968.3 732.9,968.7 734.8,968.6 736.8,967.9 738.7,967.1 740.6,967.4 742.6,967.6 744.5,967.3 746.5,967.6 748.4,968 750.3,966.7 752.3,967.1 754.2,968.1 756.2,966 758.1,966.6 758.9,966.4 759.7,965.5 760.5,965.7 761.3,966.3 762.1,966.5 762.9,966.8 763.7,965.9 764.5,966.5 765.3,966.1 766.1,965.8 766.9,965.6 767.7,965.6 768.5,965.7 769.3,964.8 770.1,966 770.9,965.9 771.7,965.7 772.5,964.2 773.3,964.4 774.1,964.6 774.9,963.7 775.7,964.6 776.5,964 777.3,964.1 778.1,963.1 778.9,963.3 779.7,962.2 780.5,963.3 781.3,962.1 782.1,961.2 782.9,961.6 783.7,960.9 784.5,961.7 785.3,960.7 786.1,961.1 786.9,960.4 787.7,960.5 788.5,958.6 789.3,957.4 790.1,955.8 790.9,955.5 791.7,955.2 792.5,954.4 793.3,952.7 794.1,951.1 794.9,949.4 795.7,947.6 796,946.6 796.4,945.6 796.8,944.8 797.1,943.4 797.5,942.5 797.9,941.2 798.2,940.9 798.6,938.8 798.9,937.7 799.3,935.9 799.7,935.1 800,934.5 800.4,934 800.8,930.7 801.1,930 801.5,928.9 801.9,927.2 802.2,925.4 802.6,923.2 803,922 803.3,919.3 803.7,916 804.1,915.8 804.4,914.5 804.8,913.1 805.2,911.1 805.5,910.3 805.9,908.4 806.3,907.6 806.6,905.9 807,905 807.3,904.2 807.7,902.6 808.1,902 808.4,901.7 808.8,902.1 809.2,903 809.5,903 809.9,903.5 810.3,904.9 810.6,906.6 811,907.7 811.4,908.8 811.7,911.3 812.1,912.5 812.5,913.7 812.8,915.1 813.2,916.2 813.6,918.6 813.9,921.2 814.3,922.1 814.7,923.1 815,925.6 815.4,927.2 815.7,928.5 816.1,930.2 816.5,931.6 816.8,933.3 817.2,934.9 817.6,936.7 817.9,938.9 818.3,939 818.7,941.3 819,941.2 819.4,942.5 819.8,943.4 820.1,944.7 820.5,946 820.9,946 821.2,946.7 821.6,947.5 822,948.5 822.3,949.6 823.1,952.3 823.9,953.3 824.7,953.8 825.5,955.2 826.3,956.4 827.1,956.8 827.9,958.1 828.7,957.8 829.5,960.4 830.3,960.2 831.1,960.1 831.9,960 832.7,961.2 833.5,960.9 834.3,961.8 835.1,961.8 835.9,962.1 836.7,962.3 837.5,962.7 838.3,963.4 839.1,963 839.9,962.6 840.7,963.6 841.5,963.5 842.3,963.5 843.1,962.9 843.9,963.6 844.7,964.3 845.5,964.7 846.3,965.1 847.1,964.5 847.9,964.3 848.7,964.7 849.5,964.4 850.3,965.8 851.1,966.9 851.9,965.8 852.7,965.3 853.5,966.2 854.3,965.8 855.1,966 855.9,966.7 856.7,967.2 857.5,967 858.3,966.1 859.1,965.7 859.9,966.6 861.8,967.3 863.8,967 865.7,966.4 867.6,967.9 869.6,966.1 871.5,966.9 873.5,967.1 875.4,967.2 877.3,967.1 879.3,966.7 881.2,967.9 883.2,967.7 885.1,967.7 887,968.1 889,967.2 890.9,968.6 892.9,968.4 894.8,967.5 896.7,967.8 898.7,967.5 900.6,967.9 902.6,968.3 904.5,967.9 906.4,967.6 908.4,966.6 910.3,968 912.3,967.6 914.2,967.6 916.1,966.9 918.1,967.5 920,967.7 922,968 923.9,968 925.9,968.6 927.8,968.6 929.7,968.9 931.7,967.1 933.6,966.7 935.6,966.1 937.5,966.3 939.4,967.6 941.4,967.4 943.3,966.7 945.3,967.6 947.2,967.3 949.1,967.9 951.1,968.5 953,967.4 955,966 956.9,966.7 958.8,966 959.6,966.7 960.4,967 961.2,966.1 962,966.4 962.8,966.3 963.6,965.2 964.4,966.6 965.2,966.5 966,967.1 966.8,965.6 967.6,966.3 968.4,966.4 969.2,966.3 970,966.4 970.8,965.4 971.6,964.8 972.4,964.3 973.2,965.2 974,964.5 974.8,964.8 975.6,965 976.4,964.6 977.2,963.8 978,964 978.8,965.3 979.6,964.5 980.4,964 981.2,964.9 982,964.1 982.8,963.1 983.6,963.3 984.4,963.5 985.2,962.7 986,961.9 986.8,962.1 987.6,960.7 988.4,960.5 989.2,960 990,961.2 990.8,960.4 991.6,959.2 992.4,959.6 993.2,959.6 994,958.5 994.8,957.5 995.6,956.7 996.4,955.2 997.2,953.1 997.6,952.1 997.9,952.5 998.3,952 998.7,951.1 999,950.3 999.4,949.1 999.7,948.8 1000.1,947.4 1000.5,947 1000.8,946.4 1001.2,946.1 1001.6,945.2 1001.9,943.9 1002.3,942 1002.7,942.1 1003,941.9 1003.4,939.1 1003.8,937.7 1004.1,937.2 1004.5,935.3 1004.9,934.6 1005.2,933.2 1005.6,932.6 1006,930.9 1006.3,929.7 1006.7,928.1 1007.1,927.5 1007.4,926.1 1007.8,926.3 1008.1,924 1008.5,922.5 1008.9,923.4 1009.2,923.5 1009.6,922.1 1010,921.2 1010.3,920.5 1010.7,919.5 1011.1,920.5 1011.4,921.2 1011.8,921.7 1012.2,921.2 1012.5,921.9 1012.9,922.7 1013.3,923.5 1013.6,925.9 1014,926.9 1014.4,928.5 1014.7,928.8 1015.1,930.4 1015.5,931.9 1015.8,931.7 1016.2,933.5 1016.5,934.3 1016.9,935 1017.3,936.3 1017.6,937.6 1018,939.3 1018.4,940.2 1018.7,942.5 1019.1,940.9 1019.5,943 1019.8,944.4 1020.2,946.1 1020.6,946.2 1020.9,946.8 1021.3,947.5 1021.7,948.2 1022,950.4 1022.4,951.1 1022.8,950.8 1023.1,951.8 1023.5,951.6 1023.9,952.6 1024.2,953.2 1024.6,953.9 1024.9,952.9 1025.7,954.3 1026.5,956.3 1027.3,957.5 1028.1,958.2 1028.9,958 1029.7,958.4 1030.5,958 1031.3,958.2 1032.1,958.3 1032.9,959.7 1033.7,961.9 1034.5,962.2 1035.3,961.8 1036.1,961.8 1036.9,962 1037.7,962.3 1038.5,962.7 1039.3,963 1040.1,964.1 1040.9,963.7 1041.7,963.8 1042.5,963.8 1043.3,963.2 1044.1,964.5 1044.9,964.8 1045.7,963.4 1046.5,964.5 1047.3,965.5 1048.1,965 1048.9,965.3 1049.7,965.7 1050.5,964.5 1051.3,964.1 1052.1,965.2 1052.9,964.9 1053.7,963.9 1054.5,964.3 1055.3,964.7 1056.1,965.9 1056.9,965 1057.7,965.3 1058.5,964.2 1059.3,964.6 1060.1,964.5 1060.5,966.3 1060.8,965.7 1061.2,965.2 1061.6,963.9 1061.9,964.1 1062.3,964.5 1062.7,964.4 1063,963.9 1063.4,965.2 1063.8,965.5 1064.1,964.8 1064.5,964.5 1064.9,964.7 1065.2,964.6 1065.6,963.4 1065.9,961.4 1066.3,963.5 1066.7,963.4 1067,963.9 1067.4,963.4 1067.8,962.2 1068.1,963.6 1068.5,963.4 1068.9,963.3 1069.2,963.6 1069.6,964.5 1070,964.8 1070.3,964.6 1070.7,964.8 1071.1,963.9 1071.4,964.8 1071.8,964.1 1072.2,962.8 1072.5,962.7 1072.9,963.1 1073.3,962.7 1073.6,964 1074,964.2 1074.4,962.3 1074.7,962.1 1075.1,961.9 1075.4,962.5 1075.8,962.7 1076.2,962.9 1076.5,964.4 1076.9,964.1 1077.3,963.6 1077.6,963.3 1078,965.2 1078.4,965.7 1078.7,964.8 1079.1,964 1079.5,963.7 1079.8,964.7 1080.2,965.2 1080.6,965 1080.9,964.9 1081.3,966.2 1081.7,964.9 1082,966.2 1082.4,964.8 1082.8,966.5 1083.1,966.5 1083.5,965 1083.8,963.3 1084.2,963.9 1084.6,965.4 1084.9,965 1085.3,966.9 1085.7,967.4 1086,967.4 1086.4,966.4 1086.8,966.2 1087.1,966.3 1087.5,966.6 1087.9,966.9 1088.2,966.6 1089,965.6 1089.8,965.8 1090.6,965.3 1091.4,966.4 1092.2,966.3 1093,967.1 1093.8,967 1094.6,966.5 1095.4,967.2 1096.2,967.8 1097,967.1 1097.8,967.6 1098.6,967.2 1099.4,966.4 1100.2,967 1101,967.3 1101.8,967 1102.6,966.9 1103.4,968.1 1104.2,968.8 1105,967.6 1105.8,966.4 1106.6,968.3 1107.4,969.8 1108.2,969.3 1109,968.8 1109.8,968.1 1110.6,967.2 1111.4,966.8 1112.2,968.2 1113,968.1 1113.8,967.7 1114.6,967.5 1115.4,968.3 1116.2,967.9 1117,967.9 1117.8,969 1118.6,968.5 1119.4,968.6 1120.2,968.2 1121,968.8 1121.8,968 1122.6,969.5 1123.4,968.4 1124.2,968.3 1125,967.8 1125.8,967.9 1126.6,967.6 1127.4,968.5 1129.3,968.4 1131.3,968.9 1133.2,969.2 1135.1,968.5 1137.1,967.7 1139,968.8 1141,968.4 1142.9,968.4 1144.8,969.5 1146.8,968.8 1148.7,968.9 1150.7,968.3 1152.6,967.6 1154.5,967.8 1156.5,968.4 1158.4,968 1160.4,969.3 1162.3,968.6 1164.2,968.9 1166.2,969.3 1168.1,968.4 1170.1,967 1172,968.3 1174,968.4 1175.9,968.9 1177.8,968.1 1179.8,968.5 1181.7,968.4 1183.7,968.3 1185.6,969 1187.5,970.1 1189.5,970 1191.4,970 1193.4,969.8 1195.3,969.8 1197.2,969.5 1199.2,969.2 1201.1,968.2 1203.1,968.2 1205,968.6 1206.9,969.1 1208.9,968.7 1210.8,968 1212.8,967.8 1214.7,969.3 1216.6,969.2 1218.6,968.7 1220.5,968.9 1222.5,967.9 1224.4,967.8 1226.3,966.8 1228.3,968.2 1230.2,968.4 1232.2,969.8 1234.1,969.9 1236,968.7 1238,968.9 1239.9,968.6 1241.9,969 1243.8,968.4 1245.7,968.4 1247.7,969.3 1249.6,969.4 1251.6,969.2 1253.5,969.7 1254.3,969.7 1255.1,969.3 1255.9,969.3 1256.7,968.5 1257.5,969.1 1258.3,969.2 1259.1,969.2 1259.9,969.7 1260.7,967.7 1261.5,968.5 1262.3,969.1 1263.1,968.1 1263.9,969.5 1264.7,968.9 1265.5,968.6 1266.3,968.8 1267.1,968.5 1267.9,969.2 1268.7,969.1 1269.5,968.1 1270.3,968 1271.1,967.9 1271.9,968.2 1272.7,968.6 1273.5,968.8 1274.3,969.4 1275.1,968.5 1275.9,969.3 1276.7,968.9 1277.5,969 1278.3,969.1 1279.1,968.8 1279.9,968.9 1280.7,969.3 1281.5,969.8 1282.3,969.2 1283.1,969 1283.9,968.5 1284.7,968.3 1285.5,968.1 1286.3,967.5 1287.1,969.5 1287.9,968.9 1288.7,968.8 1289.5,967.6 1290.3,968.3 1291.1,968.1 1291.9,968.5 1292.7,967.8 1293.5,966.8 1294.3,966.9 1295.1,967.4 1295.4,967.8 1295.8,967.8 1296.2,966.6 1296.5,966.7 1296.9,967.1 1297.2,967 1297.6,967.7 1298,966.9 1298.3,966.2 1298.7,966.4 1299.1,966.8 1299.4,966.4 1299.8,966.8 1300.2,965.8 1300.5,965.2 1300.9,965 1301.3,965.5 1301.6,965.1 1302,965.3 1302.4,964.3 1302.7,963.3 1303.1,965.4 1303.5,964.9 1303.8,965.1 1304.2,963.9 1304.6,964.2 1304.9,965.1 1305.3,965.2 1305.6,964.5 1306,965.1 1306.4,965 1306.7,964.5 1307.1,964.1 1307.5,963.6 1307.8,964 1308.2,962.6 1308.6,963.2 1308.9,964.5 1309.3,964.6 1309.7,963.7 1310,963.3 1310.4,964.6 1310.8,964.2 1311.1,963.7 1311.5,964.2 1311.9,964.6 1312.2,964.9 1312.6,964.9 1313,964.6 1313.3,964.7 1313.7,965.7 1314.1,966.1 1314.4,966 1314.8,965.8 1315.1,966.1 1315.5,965.4 1315.9,965.3 1316.2,965.2 1316.6,965.4 1317,964.8 1317.3,965.6 1317.7,965.9 1318.1,967 1318.4,967.1 1318.8,966.9 1319.2,967.1 1319.5,966.7 1319.9,967.1 1320.3,967.2 1320.6,967.8 1321,967.2 1321.4,967.6 1321.7,967.4 1322.1,967.3 1322.5,966.8 1322.8,967.3 1323.2,968 1323.5,968.9 1323.9,967.3 1324.3,968.1 1324.6,967.8 1325,967 1325.8,967.7 1326.6,968.9 1327.4,968.6 1328.2,967.9 1329,967.6 1329.8,968.5 1330.6,969 1331.4,969.5 1332.2,969.3 1333,970.4 1333.8,969.2 1334.6,969.8 1335.4,968.1 1336.2,967.9 1337,969.8 1337.8,968 1338.6,967.9 1339.4,967.9 1340.2,969.2 1341,969.5 1341.8,969.6 1342.6,969.8 1343.4,969.8 1344.2,969.9 1345,969.2 1345.8,969.5 1346.6,969.3 1347.4,968.9 1348.2,968.9 1349,968.2 1349.8,969.1 1350.6,968.6 1351.4,969.5 1352.2,971.6 1353,970.3 1353.8,968.5 1354.6,969 1355.4,968.4 1356.2,968.2 1357,968.7 1357.8,968 1358.6,969.8 1359.4,969.8 1360.2,969.7 1361,969.4 1361.8,968.5 1362.6,968.3 1363.4,969.5 1364.2,969.6 1365,970.3 1365.8,969.1 1366.6,969 1368.5,968.5 1370.4,968.6 1372.4,968.1 1374.3,968.4 1376.3,969.3 1378.2,969.6 1380.1,969.8 1382.1,970.3 1384,969.3 1386,969.5 1387.9,970.6 1389.8,970.9 1391.8,970.3 1393.7,970.7 1395.7,969.4 1397.6,969.7 1399.5,970.1 1401.5,971 1403.4,970.5 1405.4,970.7 1407.3,970.5 1409.2,970.1 1411.2,970.2 1413.1,969.7 1415.1,969 1417,969.2 1417.8,969 1418.6,969.3 1419.4,970.7 1420.2,969.8 1421,969.6 1421.8,969.8 1422.6,969 1423.4,968.5 1424.2,968.9 1425,968.8 1425.8,969.1 1426.6,967.9 1427.4,968.1 1428.2,968.6 1429,968.7 1429.8,969.2 1430.6,969 1431.4,968.8 1432.2,969.4 1433,968.9 1433.8,969.2 1434.6,970 1435.4,969.6 1436.2,968.4 1437,969 1437.8,968.3 1438.6,968.8 1439.4,969 1440.2,968.1 1441,969.2 1441.8,969.2 1442.6,968.8 1443.4,969.4 1444.2,969.2 1445,969.3 1445.8,968.8 1446.6,968.7 1447.4,968.2 1448.2,967.3 1449,967 1449.8,967.7 1450.6,967.8 1451.4,967.8 1452.2,967.3 1453,967.4 1453.8,967.4 1454.6,968.4 1455.4,966.4 1456.2,966.4 1457,966.3 1457.8,965.7 1458.6,966.5 1459.4,964.7 1460.2,965 1460.5,965.2 1460.9,963.3 1461.2,962.9 1461.6,962.3 1462,963.7 1462.3,964.3 1462.7,964 1463.1,964.6 1463.4,964.2 1463.8,963.6 1464.2,962.6 1464.5,962.1 1464.9,962.6 1465.3,962.7 1465.6,962.3 1466,962.7 1466.4,962.8 1466.7,962.9 1467.1,962.1 1467.5,961.1 1467.8,960.6 1468.2,960.7 1468.6,959.7 1468.9,959.9 1469.3,959.5 1469.7,959.5 1470,959 1470.4,958 1470.7,957 1471.1,957.2 1471.5,957.3 1471.8,956.7 1472.2,955.9 1472.6,956.3 1472.9,954.6 1473.3,954.8 1473.7,954.9 1474,955.4 1474.4,954.9 1474.8,954.3 1475.1,956 1475.5,956.2 1475.9,956.6 1476.2,956.6 1476.6,955.1 1477,955.3 1477.3,955.8 1477.7,956.3 1478.1,956.8 1478.4,955.9 1478.8,956 1479.1,957.7 1479.5,958.2 1479.9,956.7 1480.2,958 1480.6,956.8 1481,957.6 1481.3,958.5 1481.7,959.3 1482.1,959.3 1482.4,960.2 1482.8,960.8 1483.2,959.7 1483.5,959.7 1483.9,960.5 1484.3,962 1484.6,962.7 1485,963 1485.4,963.2 1485.7,962.8 1486.1,962.4 1486.5,963.6 1486.8,963 1487.2,962.7 1487.5,964 1487.9,964.5 1488.3,964.6 1488.6,964.2 1489,964.3 1489.4,964.5 1489.7,964.4 1490.1,963.8 1490.5,965.3 1490.8,965.2 1491.2,964.9 1492,966.7 1492.8,967.4 1493.6,967.7 1494.4,968.1 1495.2,967.3 1496,966.3 1496.8,967.3 1497.6,966.3 1498.4,966.8 1499.2,966.8 1500,966.6 1500.8,966.9 1501.6,965.6 1502.4,965.8 1503.2,967.6 1504,967.3 1504.8,966.5 1505.6,967.3 1506.4,967.4 1507.2,968.3 1508,968.4 1508.8,966.8 1509.6,966.9 1510.4,966.8 1511.2,966.6 1512,965.6 1512.8,965.8 1513.6,965.5 1513.9,965.9 1514.3,966.7 1514.7,965.9 1515,966.1 1515.4,966.4 1515.8,966.4 1516.1,965.9 1516.5,966.5 1516.9,966.4 1517.2,966.4 1517.6,967.2 1518,965 1518.3,965.2 1518.7,965.3 1519.1,965.7 1519.4,965 1519.8,964.7 1520.1,965.1 1520.5,964.4 1520.9,964.8 1521.2,964.8 1521.6,964.4 1522,964.2 1522.3,964.6 1522.7,963.9 1523.1,963.7 1523.4,964.4 1523.8,963.5 1524.2,963 1524.5,963.1 1524.9,961.6 1525.3,962.6 1525.6,961 1526,961.4 1526.4,961.1 1526.7,961.2 1527.1,960.2 1527.5,961 1527.8,961.7 1528.2,961.4 1528.5,961.2 1528.9,961.7 1529.3,960.7 1529.6,960.8 1530,960.8 1530.4,960.3 1530.7,960.4 1531.1,962.5 1531.5,962.4 1531.8,962.1 1532.2,962.1 1532.6,961.9 1532.9,962.2 1533.3,962.4 1533.7,962.4 1534,962.4 1534.4,963.3 1534.8,963 1535.1,963.6 1535.5,964.1 1535.9,963.5 1536.2,963.6 1536.6,964.3 1536.9,964.8 1537.3,964.3 1537.7,964.7 1538,964 1538.4,965.1 1538.8,965.4 1539.1,965.2 1539.5,966.2 1539.9,966.4 1540.2,967.1 1540.6,966 1541,965.3 1541.3,965.4 1541.7,966.5 1542.1,965.7 1542.4,965.7 1542.8,967.5 1543.2,965.5 1543.5,967 1543.9,967 1544.3,967.5 1544.6,967.3 1545,967.4 1545.3,968.2 1546.1,969.3 1546.9,969.2 1547.7,968.7 1548.5,969.1 1549.3,968.4 1550.1,968.6 1550.9,968.7 1551.7,968 1552.5,968.2 1553.3,968.3 1554.1,968.1 1554.9,969.3 1555.7,968.5 1556.5,970.2 1557.3,969.4 1558.1,968.7 1558.9,968.3 1559.7,968.5 1560.5,969.3 1561.3,969.9 1562.1,968.7 1562.9,968.5 1563.7,968.8 1564.5,970.1 1565.3,969.4 1566.1,969.1 1566.9,968.4 1567.7,968.6 1568.5,969.3 1569.3,968.6 1570.1,969.3 1570.9,969.1 1571.7,969.6 1572.5,969.5 1573.3,969.1 1574.1,969 1574.9,968.6 1575.7,968.8 1576.5,969.9 1577.3,969.2 1578.1,968.1 1578.9,969.6 1579.7,970 1580.5,970.4 1581.3,969.8 1582.1,970.7 1582.9,971 1583.7,971.1 1584.5,969.2 1585.3,971.2 1586.1,971.5 1586.9,970.1 1587.7,970 1588.5,970.2 1589.3,971.5 1590.1,970.2 1592,968.9 1594,969.8 1595.9,970.6 1597.9,969.7 1599.8,970.5 1601.7,970.8 1603.7,971 1605.6,971.4 1607.6,969.9 1609.5,969.1 1611.4,970.7 1613.4,969.9 1615.3,970.8 1617.3,970.4 1619.2,970.8 1621.1,969.8 1623.1,969.7 1625,970.1 1627,971 1628.9,971.2 1630.8,971.3 1632.8,970.7 1634.7,971.5 1636.7,970.4 1638.6,970.5 1640.5,969.3 1642.5,970.5 1644.4,971.5 1646.4,971.2 1648.3,970.4 1650.2,970.7 1652.2,970.5 1654.1,969.6 1656.1,970.3 1658,970.1 1659.9,969.9 1661.9,968.9 1663.8,970.4 1665.8,969.8 1667.7,971.5 1669.7,970.7 1671.6,969.6 1673.5,969.6 1675.5,969.5 1677.4,970 1679.4,971.4 1680.2,970.8 1681,970.9 1681.8,971 1682.5,969.9 1683.3,971.6 1684.1,970.4 1684.9,970.6 1685.7,969.9 1686.5,970.4 1687.3,970.2 1688.1,971.3 1688.9,970.1 1689.7,971 1690.5,970.8 1691.3,970.5 1692.1,969.8 1692.9,970.7 1693.7,970.4 1694.5,970.2 1695.3,970.1 1696.1,970.2 1696.9,969.4 1697.7,969.1 1698.5,970.3 1699.3,971.6 1700.1,970.5 1700.9,970.2 1701.7,969.9 1702.5,970.9 1703.3,970.9 1704.1,970.6 1704.9,970.9 1705.7,971.1 1706.5,970.7 1707.3,970.3 1708.1,970.2 1708.9,971.2 1709.7,971 1710.5,971 1711.3,971.6 1712.1,971.1 1712.9,970.4 1713.7,969.8 1714.5,970.2 1715.3,970 1716.1,969.5 1716.9,970.8 1717.7,970.6 1718.5,969.4 1719.3,968.5 1720.1,968.3 1720.9,970.9 1721.7,969.9 1722.5,968.8 1723.3,968.1 1724.1,967.8 1724.9,965.4 1725.7,967.4 1726.1,967.5 1726.4,967.4 1726.8,966.9 1727.2,966.6 1727.5,967 1727.9,966.3 1728.3,967 1728.6,965.8 1729,964.3 1729.3,965.8 1729.7,966.5 1730.1,965 1730.4,965.7 1730.8,965.1 1731.2,965.1 1731.5,964.6 1731.9,964.9 1732.3,964.9 1732.6,964.2 1733,963.1 1733.4,963.2 1733.7,962.6 1734.1,962.2 1734.5,962.8 1734.8,963.3 1735.2,963.4 1735.6,963.1 1735.9,962 1736.3,961.1 1736.7,961.9 1737,961.6 1737.4,961.6 1737.7,961.9 1738.1,960.7 1738.5,960.6 1738.8,959.5 1739.2,958.2 1739.6,958.9 1739.9,959.9 1740.3,959.2 1740.7,958.9 1741,958 1741.4,958.1 1741.8,959.2 1742.1,957.8 1742.5,958 1742.9,958.5 1743.2,958.2 1743.6,958.3 1744,959.9 1744.3,959.6 1744.7,961.3 1745.1,959.4 1745.4,958.5 1745.8,959.7 1746.1,958.9 1746.5,960.2 1746.9,960.4 1747.2,960.7 1747.6,961.8 1748,962 1748.3,962 1748.7,963.3 1749.1,963.5 1749.4,963 1749.8,962.5 1750.2,961.7 1750.5,962.3 1750.9,963.4 1751.3,963 1751.6,964.2 1752,964.2 1752.4,964.4 1752.7,965.1 1753.1,964.6 1753.5,966 1753.8,965.3 1754.2,966.7 1754.6,966.9 1754.9,965.4 1755.3,965.9 1755.6,967 1756,966.9 1756.4,966.4 1756.7,965.7 1757.1,965.7 1757.5,967 1757.8,967.5 1758.2,968.5 1758.6,969.5 1758.9,968.3 1759.3,967.7 1759.7,967.9 1760.5,969 1761.3,969.8 1762.1,970.3 1762.9,969.3 1763.7,969.1 1764.5,969 1765.3,969.8 1766.1,969.7 1766.9,970.3 1767.7,970.8 1768.5,970.2 1769.3,969.3 1770.1,968.9 1770.9,967.8 1771.6,968.9 1772.4,968.3 1773.2,968.6 1774,969.9 1774.8,970.1 1775.6,970.9 1776.4,971.8 1777.2,971.2 1778,971.4 1778.8,971.8 1779,971.4"/>
<polyline fill="none" stroke="#0000ff" stroke-width="7.6" stroke-linejoin="round" stroke-linecap="butt" points="181,1112.5 182.9,1112.1 184.9,1111.8 186.8,1110.9 188.8,1111.8 190.7,1111.4 192.6,1112.6 194.6,1113.5 196.5,1112.7 198.5,1113.5 200.4,1112.9 202.3,1113.6 204.3,1112.4 206.2,1112.5 208.2,1111.1 210.1,1111.7 212,1112.4 214,1111.2 215.9,1111.7 217.9,1112.3 219.8,1113.4 221.7,1112.4 223.7,1112.4 225.6,1112.6 227.6,1113.3 229.5,1112.9 231.5,1112.3 233.4,1113.1 235.3,1112.8 237.3,1113.2 239.2,1111.5 241.2,1112.4 243.1,1111.6 245,1111.5 247,1110.9 248.9,1111.4 250.9,1111.9 252.8,1111.9 254.7,1111.9 256.7,1111.5 258.6,1111.4 260.6,1111.5 262.5,1112 264.4,1112.1 266.4,1111 268.3,1112.4 270.3,1112 272.2,1111.3 274.1,1112.3 276.1,1112.2 278,1111.4 280,1112.6 281.9,1112.1 283.8,1111 285.8,1111.3 287.7,1110.4 289.7,1110.5 291.6,1111 293.5,1110.6 295.5,1111 297.4,1110.5 299.4,1109.8 301.3,1110.5 303.2,1110.3 305.2,1109.7 307.1,1110 309.1,1109.6 309.9,1109.8 310.7,1109.8 311.5,1109.1 312.3,1108.7 313.1,1109.1 313.9,1108.1 314.7,1109 315.5,1109.4 316.3,1110.1 317.1,1110.3 317.9,1109.4 318.7,1108.3 319.5,1108.5 320.3,1109.3 321.1,1109.3 321.9,1107.8 322.7,1107.7 323.5,1108 324.2,1108.3 325,1107.5 325.8,1107.4 326.6,1106 327.4,1107.1 328.2,1107.3 329,1106.8 329.8,1106.5 330.6,1105.9 331.4,1106.2 332.2,1106 333,1106.7 333.8,1105.9 334.6,1105.2 335.4,1104.6 336.2,1105.1 337,1105 337.8,1104.5 338.6,1104.7 339.4,1104.6 340.2,1104.2 341,1104.6 341.8,1103.9 342.6,1103.2 343.4,1102.9 344.2,1103.9 345,1104.2 345.8,1102.7 346.6,1102.8 347.4,1101.9 348.2,1099.8 349,1099.3 349.8,1099.2 350.6,1099.4 351.4,1098.3 352.2,1095.8 353,1095.6 353.8,1096.3 354.6,1095.1 355.4,1093.9 356.2,1093.5 357,1092.4 357.8,1091.5 358.6,1089.5 359.4,1087.5 359.8,1086.9 360.1,1086.2 360.5,1085.8 360.9,1086.2 361.2,1085.6 361.6,1084.7 362,1082.8 362.3,1083 362.7,1080.6 363.1,1080.7 363.4,1079.5 363.8,1078.2 364.2,1077.2 364.5,1075.9 364.9,1075.3 365.2,1073.3 365.6,1071.2 366,1071.1 366.3,1070.1 366.7,1068.9 367.1,1068.8 367.4,1067.2 367.8,1065 368.2,1064.8 368.5,1063.2 368.9,1060.5 369.3,1059.6 369.6,1059 370,1057 370.4,1055.4 370.7,1054 371.1,1053.2 371.5,1052.4 371.8,1050.4 372.2,1048.6 372.6,1046.8 372.9,1046.3 373.3,1045.5 373.7,1044.4 374,1043.7 374.4,1041.5 374.7,1041.4 375.1,1039.2 375.5,1038.4 375.8,1039.8 376.2,1038.4 376.6,1039.3 376.9,1037.6 377.3,1038 377.7,1038.2 378,1039.6 378.4,1038.8 378.8,1039.4 379.1,1039.8 379.5,1040.5 379.9,1042 380.2,1043.2 380.6,1043.4 381,1045.1 381.3,1046 381.7,1047.8 382.1,1048.4 382.4,1050.4 382.8,1052.2 383.1,1052.6 383.5,1054.5 383.9,1055.3 384.2,1056.8 384.6,1058.2 385,1059.1 385.3,1059.9 385.7,1060.3 386.1,1061.7 386.4,1062.7 386.8,1064.4 387.2,1065.3 387.5,1066.4 387.9,1067.7 388.3,1068.9 388.6,1070.7 389,1070.3 389.4,1071.4 389.7,1072.5 390.1,1073.7 390.5,1075.6 390.8,1075.9 391.2,1076.9 391.5,1077.5 391.9,1077.6 392.3,1078.2 392.6,1079 393,1079.4 393.4,1079.8 393.7,1080.1 394.1,1081.4 394.5,1081.5 394.8,1082.5 395.2,1083 396,1084.5 396.8,1084.1 397.6,1084.7 398.4,1085.7 399.2,1087.1 400,1087.6 400.8,1088 401.6,1088.7 402.4,1088.3 403.2,1088.5 404,1089.6 404.8,1090.5 405.6,1091 406.4,1091.5 407.2,1089.7 408,1090 408.8,1091.5 409.6,1092.7 410.4,1091.5 411.2,1092.2 412,1092.3 412.8,1092.3 413.6,1091.8 414.4,1091.8 415.2,1092.5 416,1092 416.8,1091.5 417.6,1092.2 418.4,1092.3 419.2,1093.2 420,1092.1 420.8,1092.5 421.6,1092.2 422.4,1093.3 423.2,1093.2 424,1092.9 424.8,1092.6 425.6,1093 426.4,1094.6 427.2,1095.1 428,1094.4 428.8,1093.9 429.6,1093.3 430.4,1093.6 431.2,1092.7 432,1094.2 432.8,1094.8 433.6,1094.2 434.4,1094.3 435.2,1094.6 435.9,1095.6 436.7,1095.3 437.5,1095.1 438.3,1094.9 439.1,1094.4 439.9,1095.1 440.7,1095.2 441.5,1095.3 442.3,1094.7 443.1,1095.6 443.9,1095 444.7,1095.6 445.5,1095.5 446.3,1095.1 447.1,1094.6 447.9,1096.3 448.7,1095.7 449.5,1095 450.3,1095.5 451.1,1096 451.9,1096.5 452.7,1096.5 453.5,1096.5 454.3,1096.3 455.1,1095.8 455.9,1096.1 456.7,1096.7 457.5,1097.2 458.3,1096.5 459.1,1096.8 459.9,1096.8 460.7,1095.7 461.5,1095.4 462.3,1096.3 462.7,1096 463,1097.3 463.4,1098 463.8,1097.2 464.1,1096.1 464.5,1095.4 464.9,1095.8 465.2,1094.5 465.6,1095.6 466,1094.4 466.3,1094.4 466.7,1094 467.1,1095 467.4,1095.1 467.8,1094.9 468.2,1094.2 468.5,1095.5 468.9,1095.3 469.3,1093.8 469.6,1094.5 470,1094.6 470.4,1094.7 470.7,1094.5 471.1,1093.9 471.4,1093.6 471.8,1093 472.2,1092.5 472.5,1092.2 472.9,1091.2 473.3,1091.4 473.6,1090.8 474,1090.4 474.4,1090.6 474.7,1092 475.1,1090.1 475.5,1091.3 475.8,1090.8 476.2,1090.4 476.6,1089.2 476.9,1089.1 477.3,1088.9 477.7,1089.4 478,1088.9 478.4,1088.3 478.8,1087.6 479.1,1088.2 479.5,1089.1 479.8,1088.2 480.2,1088.9 480.6,1089.1 480.9,1088.9 481.3,1089.4 481.7,1089.5 482,1090.7 482.4,1090.2 482.8,1090.2 483.1,1090.5 483.5,1090.3 483.9,1091.9 484.2,1091.3 484.6,1091.9 485,1091.8 485.3,1092.1 485.7,1092.5 486.1,1092.9 486.4,1092.4 486.8,1094.1 487.2,1094.7 487.5,1096.2 487.9,1096.6 488.2,1096.4 488.6,1096.9 489,1096.3 489.3,1097.7 489.7,1096.6 490.1,1098.5 490.4,1099 490.8,1099 491.2,1099.6 491.5,1099.7 491.9,1099.5 492.3,1099.7 492.6,1100.6 493,1101.3 493.4,1101.1 493.7,1100.4 494.1,1100.8 494.5,1100.8 494.8,1101 495.2,1103.2 495.6,1102.8 495.9,1102 496.3,1102.8 496.7,1103.3 497,1104.2 497.4,1102 497.7,1101.9 498.1,1103.8 498.5,1104.3 498.8,1103.6 499.6,1104 500.4,1104.1 501.2,1103.8 502,1103.9 502.8,1104.5 503.6,1105.5 504.4,1106.1 505.2,1107.1 506,1107.4 506.8,1106.9 507.6,1107.1 508.4,1107.8 509.2,1107.3 510,1106.9 510.8,1108.4 511.6,1108.8 512.4,1109.5 513.2,1109.3 514,1107.8 514.8,1107.9 515.6,1109 516.4,1108.6 517.2,1109.1 518,1110.1 518.8,1109.8 519.6,1109.9 520.4,1108.3 521.2,1109 522,1109.5 522.8,1109.1 523.6,1109.4 524.4,1109.4 525.2,1110.1 526,1109.8 526.8,1109.7 527.6,1108.7 528.4,1109.2 529.2,1110.7 530,1110.2 530.8,1110.4 531.6,1109.4 532.4,1108.8 533.2,1109.2 534,1109.9 534.8,1110.1 535.6,1110.6 536.4,1110.5 537.2,1109.8 538,1110.2 538.8,1110.8 539.6,1111.2 540.4,1110.3 541.2,1110.5 542,1110 542.8,1109.4 543.6,1109.5 544.4,1109.3 545.2,1109.1 546,1109.8 546.8,1110.6 547.6,1109.8 548.4,1111.4 549.2,1110.3 550,1110.5 551.9,1111.9 553.9,1111.7 555.8,1111.1 557.7,1111.5 559.7,1111.7 561.6,1111.6 563.6,1111.4 565.5,1110.7 567.4,1110.3 569.4,1110 571.3,1110.1 573.3,1110.4 575.2,1110.8 577.1,1111.5 579.1,1110.4 581,1111.9 583,1113.8 584.9,1112.4 586.8,1112.2 588.8,1111.2 590.7,1111.4 592.7,1110.4 594.6,1110.9 596.5,1109.9 598.5,1111.4 600.4,1110.8 602.4,1112.3 604.3,1111.9 606.3,1110.7 608.2,1112.3 610.1,1112.9 612.1,1111.6 614,1112.1 616,1111.7 617.9,1111.4 619.8,1111.2 621.8,1110.2 623.7,1110.3 625.7,1110.4 627.6,1110.9 629.5,1111.5 631.5,1111.5 633.4,1111.8 635.4,1110.3 637.3,1109.8 639.2,1111.5 641.2,1111.4 643.1,1111.4 645.1,1110.5 647,1110.4 648.9,1110.8 650.9,1112.5 652.8,1111.6 654.8,1111 656.7,1111.4 658.6,1111.2 660.6,1111.2 662.5,1110.4 664.5,1111.9 666.4,1112.5 668.3,1112.1 670.3,1111.7 672.2,1110.5 674.2,1110.8 676.1,1112.1 678,1112.6 680,1112.2 681.9,1111 683.9,1109.7 685.8,1110.4 687.7,1110.8 689.7,1110.6 691.6,1110.4 693.6,1110.8 695.5,1111.5 697.5,1110.9 699.4,1110.9 701.3,1110.8 703.3,1110.1 705.2,1111.4 707.2,1110.9 709.1,1111.4 711,1110.9 713,1110 714.9,1109.4 716.9,1110.3 718.8,1111 720.7,1109.6 722.7,1110.3 724.6,1109.9 726.6,1110.1 728.5,1110 730.4,1110.6 732.4,1110.1 734.3,1109.7 736.3,1108.7 737.1,1109.4 737.9,1110.1 738.7,1109.9 739.5,1108.8 740.3,1110.5 741.1,1111.1 741.9,1110.2 742.7,1111.3 743.5,1110.3 744.2,1110.1 745,1111 745.8,1109.9 746.6,1109.7 747.4,1109.8 748.2,1109.4 749,1110.3 749.8,1110.1 750.6,1110.4 751.4,1110.1 752.2,1109.9 753,1109.4 753.8,1109.8 754.6,1109.9 755.4,1109.4 756.2,1108.9 757,1108.6 757.8,1109.1 758.6,1108.7 759.4,1108.5 760.2,1109.5 761,1110.2 761.8,1110.4 762.6,1110.4 763.4,1109.3 764.2,1109.5 765,1109 765.8,1108.3 766.6,1107.9 767.4,1108 768.2,1108.3 769,1108.7 769.8,1107.5 770.6,1107.2 771.4,1107.7 772.2,1108.4 773,1107.4 773.8,1107.1 774.6,1107.4 775.4,1107.2 776.2,1106.8 777,1106.8 777.8,1106.8 778.6,1106.1 779.4,1105.8 780.2,1106.8 781,1107 781.8,1106.3 782.6,1105.6 783.4,1105.2 784.2,1104.5 785,1104.6 785.8,1103.9 786.6,1102.6 787.4,1102.6 788.2,1102.3 789,1101.2 789.8,1101.1 790.2,1100.5 790.5,1099.2 790.9,1099.2 791.3,1099 791.6,1099.9 792,1098.4 792.3,1099.4 792.7,1099.6 793.1,1099.1 793.4,1097.7 793.8,1097.7 794.2,1097.6 794.5,1096.4 794.9,1097 795.3,1096.6 795.6,1095.4 796,1094.9 796.4,1093.4 796.7,1092.8 797.1,1094 797.5,1093.7 797.8,1093.3 798.2,1091.3 798.6,1089.5 798.9,1089.6 799.3,1088.7 799.7,1088.5 800,1087.8 800.4,1086.2 800.8,1086.5 801.1,1087.4 801.5,1086.6 801.8,1085.6 802.2,1084.2 802.6,1084.1 802.9,1084.4 803.3,1082.9 803.7,1083.2 804,1083.1 804.4,1080.9 804.8,1079.9 805.1,1078.4 805.5,1078.9 805.9,1078.8 806.2,1078.6 806.6,1078.4 807,1077.7 807.3,1078.7 807.7,1077.6 808.1,1076.4 808.4,1077.1 808.8,1078 809.2,1077.8 809.5,1077.6 809.9,1077.2 810.2,1077.2 810.6,1078.3 811,1079 811.3,1078 811.7,1079.5 812.1,1080.4 812.4,1079.4 812.8,1079.6 813.2,1080.6 813.5,1081.5 813.9,1082.5 814.3,1083 814.6,1083.8 815,1085 815.4,1084.8 815.7,1086.7 816.1,1085.6 816.5,1086.7 816.8,1087.6 817.2,1088.1 817.6,1087.6 817.9,1089.4 818.3,1089.7 818.6,1090.6 819,1091.5 819.4,1092.4 819.7,1092.6 820.1,1093.1 820.5,1093.3 820.8,1093.7 821.2,1093.8 821.6,1094.4 821.9,1094.7 822.3,1095.3 822.7,1095.7 823,1097.3 823.4,1098.4 823.8,1097.4 824.1,1098.1 824.5,1099 824.9,1099.2 825.2,1098.9 825.6,1099.1 826,1100.4 826.3,1100.4 826.7,1101.3 827,1101.5 827.4,1100.9 827.8,1101.3 828.1,1101.3 828.9,1103 829.7,1103.5 830.5,1103.7 831.3,1103.7 832.1,1104.9 832.9,1105.1 833.7,1104.2 834.5,1104.4 835.3,1104.6 836.1,1105 836.9,1106.3 837.7,1107.2 838.5,1106.9 839.3,1108 840.1,1108.5 840.9,1106.7 841.7,1107 842.5,1106.5 843.3,1105.4 844.1,1107.5 844.9,1107.7 845.7,1107.9 846.5,1106.9 847.3,1106.7 848.1,1108 848.9,1108.9 849.7,1109.6 850.5,1108.4 851.3,1110.1 852.1,1110 852.9,1109 853.7,1108.2 854.5,1108.1 855.3,1108.3 856.1,1108.3 856.9,1107.9 857.7,1108.9 858.5,1109 859.3,1108.6 860.1,1108.4 860.9,1108.1 861.7,1108.7 862.5,1108.9 863.3,1109.2 864.1,1109.8 864.9,1109.4 865.7,1109 866.5,1109.3 867.3,1109.6 868.1,1108.5 868.9,1110.5 869.7,1110.4 870.5,1109.1 871.3,1109.4 872.1,1109.6 872.9,1110.4 873.7,1110.4 874.5,1111.2 875.3,1109.8 876.1,1111.9 876.9,1109.9 877.7,1108.9 878.5,1109.4 879.3,1110.6 880.1,1109.5 880.9,1110.3 881.7,1110.3 883.6,1110.1 885.6,1110.8 887.5,1110.8 889.4,1110.1 891.4,1109.7 893.3,1108.9 895.3,1108.6 897.2,1109.3 899.1,1110.7 901.1,1109.7 903,1110.3 905,1109.9 906.9,1110 908.8,1111 910.8,1110.4 912.7,1110.9 914.7,1111.2 916.6,1110.5 918.5,1111.6 920.5,1111.1 922.4,1111.2 924.4,1111.3 926.3,1110.5 928.2,1110.2 930.2,1110.6 932.1,1109.7 934.1,1110.1 936,1110 936.8,1110.4 937.6,1109.3 938.4,1109.1 939.2,1108 940,1110 940.8,1110.4 941.6,1110 942.4,1110 943.2,1110.6 944,1110.9 944.8,1110.9 945.6,1109.9 946.4,1108.9 947.2,1109.5 948,1110.6 948.8,1111.7 949.6,1110.5 950.4,1110.9 951.2,1110.5 952,1109.5 952.8,1109.7 953.6,1109.6 954.4,1109.2 955.2,1110.5 956,1108.2 956.8,1109.5 957.6,1108.6 958.4,1108.9 959.2,1108.8 960,1108.9 960.8,1108.4 961.6,1107.9 962.4,1108 963.2,1108.4 964,1108.4 964.8,1108.7 965.6,1108 966.4,1108.8 967.2,1109.5 968,1109.4 968.8,1109.7 969.6,1109.5 970.4,1108.7 971.2,1108.3 972,1108.4 972.8,1106.9 973.6,1108.7 974.4,1108.5 975.2,1108.5 976,1109 976.8,1109.5 977.6,1109.4 978.4,1108.8 979.2,1109.1 980,1108.2 980.8,1108.3 981.6,1107.3 982.4,1107.5 983.2,1106.2 983.9,1105.1 984.7,1105.7 985.5,1105.6 986.3,1105.5 987.1,1105.9 987.9,1105.6 988.7,1103.4 989.5,1102.8 990.3,1103.9 991.1,1103.9 991.5,1104.7 991.9,1102.9 992.2,1102.1 992.6,1101.8 993,1102 993.3,1101.7 993.7,1101.1 994.1,1100.4 994.4,1101.5 994.8,1099.9 995.2,1099.6 995.5,1100 995.9,1100.7 996.3,1099.6 996.6,1099.6 997,1098.4 997.3,1098.8 997.7,1098.3 998.1,1097.4 998.4,1097.2 998.8,1095.9 999.2,1094.9 999.5,1094.5 999.9,1095.1 1000.3,1094.3 1000.6,1093.2 1001,1093.3 1001.4,1093.4 1001.7,1092.6 1002.1,1092.7 1002.5,1091.5 1002.8,1090.4 1003.2,1091.4 1003.6,1090.6 1003.9,1090 1004.3,1090.1 1004.7,1090.8 1005,1089.8 1005.4,1089.1 1005.8,1088.8 1006.1,1088.7 1006.5,1086.9 1006.8,1085.7 1007.2,1085.4 1007.6,1086.3 1007.9,1085 1008.3,1085.1 1008.7,1084.9 1009,1085.1 1009.4,1083.8 1009.8,1084.5 1010.1,1083.7 1010.5,1084.7 1010.9,1084.7 1011.2,1086.2 1011.6,1085.5 1012,1084.4 1012.3,1083.8 1012.7,1082.8 1013.1,1084.4 1013.4,1085.1 1013.8,1085.8 1014.2,1086.1 1014.5,1086.9 1014.9,1085.3 1015.2,1086.2 1015.6,1086.2 1016,1086.3 1016.3,1088 1016.7,1088.3 1017.1,1088.2 1017.4,1088.7 1017.8,1088.9 1018.2,1090.3 1018.5,1090.6 1018.9,1091.8 1019.3,1092.3 1019.6,1092.6 1020,1093.6 1020.4,1094.4 1020.7,1093.2 1021.1,1092.5 1021.5,1093.3 1021.8,1094.5 1022.2,1095.7 1022.6,1095.9 1022.9,1096.4 1023.3,1097.4 1023.6,1096.9 1024,1096.3 1024.4,1098.6 1024.7,1097.8 1025.1,1098.5 1025.5,1099.2 1025.8,1099 1026.2,1099 1026.6,1100.2 1026.9,1100.2 1027.3,1101.8 1027.7,1102.6 1028,1102.3 1028.4,1102.5 1028.8,1103.3 1029.1,1103.3 1029.5,1102.7 1029.9,1104.3 1030.2,1102.8 1030.6,1103.2 1031,1103.8 1031.8,1103.5 1032.6,1103.3 1033.4,1104.3 1034.1,1104.6 1034.9,1104.9 1035.7,1104.7 1036.5,1105.1 1037.3,1106.3 1038.1,1106.3 1038.9,1106.1 1039.7,1106.6 1040.5,1107.4 1041.3,1108 1042.1,1107.5 1042.9,1107.6 1043.7,1108 1044.5,1109.3 1045.3,1109.1 1046.1,1107.9 1046.9,1107.7 1047.7,1108.1 1048.5,1108.4 1049.3,1108.2 1050.1,1108.6 1050.9,1107.9 1051.7,1109.2 1052.5,1109.7 1053.3,1108.8 1054.1,1108.7 1054.5,1109 1054.9,1108.5 1055.2,1109.2 1055.6,1109.2 1056,1109.7 1056.3,1109.7 1056.7,1110.3 1057,1110.5 1057.4,1108.9 1057.8,1109.2 1058.1,1109.3 1058.5,1110 1058.9,1109.5 1059.2,1108.8 1059.6,1108.4 1060,1108.6 1060.3,1108.2 1060.7,1108.7 1061.1,1110.2 1061.4,1109.8 1061.8,1109.2 1062.2,1109.3 1062.5,1108.9 1062.9,1109.5 1063.3,1108.9 1063.6,1109.1 1064,1108.5 1064.4,1109.9 1064.7,1108.8 1065.1,1110.3 1065.4,1110 1065.8,1110.5 1066.2,1109.9 1066.5,1110.6 1066.9,1109.9 1067.3,1109.4 1067.6,1110.2 1068,1109.1 1068.4,1110.4 1068.7,1109.4 1069.1,1110.7 1069.5,1109.9 1069.8,1109.6 1070.2,1109.4 1070.6,1108.9 1070.9,1109 1071.3,1109.6 1071.7,1109.3 1072,1109.7 1072.4,1109.6 1072.8,1110.4 1073.1,1109.8 1073.5,1109.6 1073.8,1109.8 1074.2,1110.8 1074.6,1110.6 1074.9,1111 1075.3,1109.7 1075.7,1110 1076,1109.5 1076.4,1110.6 1076.8,1112.1 1077.1,1111.4 1077.5,1108.9 1077.9,1110.4 1078.2,1109 1078.6,1110 1079,1110 1079.3,1109.6 1079.7,1110.5 1080.1,1110.4 1080.4,1109.7 1080.8,1110.6 1081.2,1110.8 1081.5,1109.9 1081.9,1110.9 1082.2,1110.8 1082.6,1110.4 1083,1110.2 1083.3,1111.1 1083.7,1111 1084.1,1110.4 1084.4,1110.6 1084.8,1111.2 1085.2,1110.8 1085.5,1110.3 1085.9,1110.1 1086.3,1109.5 1086.6,1109.6 1087,1110.8 1087.4,1110.7 1087.7,1111 1088.1,1110.7 1088.5,1110.4 1088.8,1110.5 1089.2,1109.9 1089.6,1110.1 1089.9,1111.2 1090.3,1111 1090.7,1109.9 1091,1110.1 1091.4,1110.5 1091.7,1110.9 1092.1,1111.7 1092.5,1111 1092.8,1110.9 1093.2,1110.9 1093.6,1110.6 1093.9,1110.1 1094.3,1109.9 1095.1,1110.2 1095.9,1111.4 1096.7,1109.9 1097.5,1109.4 1098.3,1109.8 1099.1,1110.2 1099.9,1111.2 1100.7,1110.8 1101.5,1111.1 1102.3,1109.7 1103.1,1110 1103.9,1110.3 1104.7,1110 1105.5,1109.8 1106.3,1109.8 1107.1,1111 1107.9,1111.7 1108.7,1111.5 1109.5,1111.9 1110.3,1110.7 1111.1,1111.8 1111.9,1111.4 1112.7,1110.8 1113.5,1110.6 1114.3,1111.4 1115.1,1111.7 1115.9,1110.8 1116.7,1111.1 1117.5,1111 1118.3,1111.1 1119.1,1111.2 1119.9,1111.9 1120.7,1110.9 1121.5,1111 1122.3,1111 1123.1,1111.8 1123.9,1112 1124.7,1111.9 1125.5,1110.6 1126.3,1111.9 1127.1,1110.5 1127.9,1110.3 1128.7,1109.9 1129.5,1110.7 1130.3,1110.5 1131.1,1111.4 1131.9,1111.5 1132.7,1110.4 1133.5,1110.2 1134.3,1111 1135.1,1110.7 1135.9,1111.2 1136.6,1111.9 1137.4,1112 1138.2,1112.2 1139,1112.1 1139.8,1110.5 1140.6,1111.8 1141.4,1111.6 1142.2,1112.1 1143,1111.2 1143.8,1111.2 1144.6,1111.1 1145.4,1112.1 1146.2,1113 1147,1112.9 1147.8,1112.1 1148.6,1111.6 1149.4,1111.4 1150.2,1111.7 1152.2,1111.7 1154.1,1111 1156.1,1111.1 1158,1110.9 1159.9,1111.3 1161.9,1111.6 1163.8,1111.1 1165.8,1112.1 1167.7,1111.3 1169.6,1111.3 1171.6,1112.7 1173.5,1112.2 1175.5,1113 1177.4,1111.7 1179.3,1112.1 1181.3,1112.1 1183.2,1111.6 1185.2,1111.3 1187.1,1112.8 1189,1112.1 1191,1111.3 1192.9,1110.9 1194.9,1111.7 1196.8,1111.2 1198.7,1112 1200.7,1111.1 1202.6,1111.2 1204.6,1111.3 1206.5,1109.9 1208.4,1110.1 1210.4,1111 1212.3,1111.4 1214.3,1111.5 1216.2,1112.3 1218.1,1112.6 1220.1,1111.9 1222,1111.7 1224,1111.3 1225.9,1111.6 1227.8,1111.2 1229.8,1110.5 1230.6,1111.4 1231.4,1110.7 1232.2,1111.6 1233,1112 1233.8,1111.7 1234.6,1110.8 1235.4,1112 1236.2,1112.5 1237,1112.5 1237.8,1112.2 1238.6,1112.2 1239.4,1112.1 1240.2,1112.1 1241,1112.5 1241.8,1112.6 1242.6,1112.4 1243.4,1111.6 1244.2,1110.9 1245,1112.1 1245.8,1112.1 1246.6,1112.1 1247.4,1112.5 1248.2,1111.4 1249,1111.6 1249.8,1111.3 1250.6,1112.1 1251.4,1112.5 1252.2,1112.6 1253,1112.4 1253.8,1113.6 1254.6,1113.2 1255.4,1112 1256.2,1112.4 1257,1113.2 1257.8,1112.5 1258.6,1112.4 1259.4,1112.9 1260.2,1112.4 1261,1112.2 1261.8,1111 1262.5,1111.7 1263.3,1112.8 1264.1,1113.5 1264.9,1111.2 1265.7,1111 1266.5,1110.9 1267.3,1111 1268.1,1112 1268.9,1112 1269.7,1111.8 1270.5,1111.3 1271.3,1112.2 1272.1,1112.7 1272.9,1113.1 1273.7,1112.5 1274.5,1112.9 1275.3,1112.1 1276.1,1110.9 1276.9,1110.5 1277.7,1112.1 1278.5,1112.2 1279.3,1112.5 1280.1,1112 1280.9,1111.8 1281.7,1113 1282.5,1112.3 1283.3,1111.6 1284.1,1112 1284.9,1111 1285.7,1111.3 1286.5,1112.2 1287.3,1110.9 1288.1,1110.8 1288.5,1110 1288.8,1111.7 1289.2,1111.1 1289.6,1110.5 1289.9,1111.8 1290.3,1112 1290.7,1112.9 1291,1113.3 1291.4,1113.2 1291.8,1113.2 1292.1,1112.7 1292.5,1113.1 1292.9,1112.5 1293.2,1112.7 1293.6,1113.4 1294,1112.5 1294.3,1111.6 1294.7,1111.9 1295.1,1111.4 1295.4,1111 1295.8,1111.5 1296.2,1111.5 1296.5,1111.4 1296.9,1111.1 1297.2,1111.7 1297.6,1110.9 1298,1111.9 1298.3,1111.2 1298.7,1111.7 1299.1,1110.9 1299.4,1111 1299.8,1110.8 1300.2,1110.2 1300.5,1110.6 1300.9,1110.1 1301.3,1110.8 1301.6,1111.9 1302,1110.9 1302.4,1111.2 1302.7,1110.9 1303.1,1111.6 1303.5,1112.4 1303.8,1111.1 1304.2,1110.4 1304.6,1110.3 1304.9,1109.9 1305.3,1110.6 1305.6,1111 1306,1110.4 1306.4,1111.8 1306.7,1111.4 1307.1,1110.8 1307.5,1112.7 1307.8,1112.6 1308.2,1111.1 1308.6,1111.7 1308.9,1111.5 1309.3,1111.3 1309.7,1111.5 1310,1110.6 1310.4,1111.9 1310.8,1110.4 1311.1,1111.2 1311.5,1111.8 1311.9,1112.1 1312.2,1112.4 1312.6,1110.9 1313,1112.3 1313.3,1111.9 1313.7,1112 1314.1,1112 1314.4,1111.6 1314.8,1110.8 1315.1,1112 1315.5,1112 1315.9,1112 1316.2,1112 1316.6,1110.8 1317,1111 1317.3,1110.1 1317.7,1111.6 1318.1,1110.5 1318.4,1110.8 1318.8,1111.6 1319.2,1111.7 1319.5,1111.5 1319.9,1111.2 1320.3,1111.7 1320.6,1111.3 1321,1111.1 1321.4,1110.1 1321.7,1111.6 1322.1,1111.3 1322.5,1112.4 1322.8,1112.5 1323.2,1112.1 1323.5,1111.6 1323.9,1111.7 1324.3,1110.8 1324.6,1111 1325,1109.8 1325.4,1111 1325.7,1111 1326.1,1111.7 1326.5,1112.1 1326.8,1112 1327.2,1112.1 1327.6,1112.7 1327.9,1112.5 1328.3,1113.1 1328.7,1112.2 1329,1112.6 1329.4,1111.7 1329.8,1113.1 1330.1,1111.8 1330.5,1111 1330.9,1110.8 1331.2,1112.1 1332,1111.6 1332.8,1112.3 1333.6,1112.5 1334.4,1112.7 1335.2,1111.3 1336,1110.5 1336.8,1111.2 1337.6,1111.4 1338.4,1111.9 1339.2,1110.8 1340,1111.1 1340.8,1111.3 1341.6,1111.1 1342.4,1110.7 1343.2,1112 1344,1112.8 1344.8,1112.2 1345.6,1112.9 1346.4,1112.4 1347.2,1112.4 1348,1113.2 1348.8,1111.7 1349.6,1112.4 1350.4,1110.7 1351.2,1110.9 1352,1112 1352.8,1113.1 1353.6,1113.8 1354.4,1114.1 1355.2,1113.3 1356,1112.9 1356.8,1114 1357.6,1113.1 1358.4,1112 1359.2,1112.1 1360,1111.2 1360.8,1110.8 1361.6,1111.5 1362.4,1111.5 1363.2,1110.3 1364,1111 1364.8,1110.9 1365.6,1112.1 1366.4,1112.6 1367.2,1112.7 1368,1111.4 1368.8,1112.5 1369.6,1112.3 1370.4,1112.8 1371.2,1112.7 1372,1111.5 1372.8,1112.6 1373.6,1112.4 1374.4,1111.7 1375.2,1112.3 1376,1112.3 1376.8,1112.7 1377.6,1112.8 1378.4,1112.6 1379.2,1112.1 1380,1112.5 1380.8,1113.3 1381.6,1112.3 1382.4,1112.1 1383.2,1112.6 1384,1111.8 1384.8,1111.8 1385.5,1111.8 1386.3,1110.9 1387.1,1112.1 1387.9,1112.5 1388.7,1112.1 1389.5,1112.2 1390.3,1112.2 1391.1,1113.8 1391.9,1113.2 1392.7,1114.2 1393.5,1113.2 1394.3,1112 1395.1,1111.9 1395.9,1112.2 1396.7,1111.6 1397.5,1111 1398.3,1112 1399.1,1113.5 1399.9,1112.1 1400.7,1112 1401.5,1112.4 1402.3,1112.6 1403.1,1113 1403.9,1111.8 1404.7,1112.9 1405.5,1113 1406.3,1113.5 1407.1,1111.8 1407.9,1112.5 1408.7,1113 1409.5,1113.1 1410.3,1111.8 1411.1,1112 1411.9,1112.5 1412.7,1113.6 1413.5,1113.4 1414.3,1112.8 1415.1,1113 1415.9,1112.6 1416.7,1111.9 1417.5,1112.5 1418.3,1112.9 1419.1,1112.7 1419.9,1112.9 1420.7,1112.4 1421.5,1112.9 1422.3,1113.4 1423.1,1112.4 1423.9,1112 1424.7,1112.8 1425.5,1112.6 1426.3,1113 1427.1,1112.3 1427.9,1111.8 1428.7,1111.8 1429.5,1110.3 1430.3,1110.6 1431.1,1110.5 1431.9,1111.2 1432.7,1111.7 1433.5,1111.3 1434.3,1111.1 1435.1,1111.9 1435.9,1112.1 1436.7,1111.3 1437.5,1111 1438.3,1111.8 1439.1,1112.9 1439.9,1112.3 1440.7,1111.9 1441.5,1111.5 1442.3,1110.9 1443.1,1111.7 1443.9,1111.9 1444.7,1110 1445.5,1110.6 1446.3,1111.4 1447.1,1111.1 1447.9,1109.5 1448.7,1109.2 1449.5,1109.6 1450.3,1110.3 1451.1,1111.2 1451.9,1110.3 1452.7,1110.9 1453.5,1110.4 1453.8,1109.9 1454.2,1110.1 1454.6,1110.8 1454.9,1110.3 1455.3,1109.6 1455.7,1110.5 1456,1109.7 1456.4,1109.8 1456.8,1109.9 1457.1,1109.8 1457.5,1110 1457.8,1109.7 1458.2,1108.7 1458.6,1108.8 1458.9,1108.8 1459.3,1107.1 1459.7,1107.5 1460,1107.4 1460.4,1109 1460.8,1108.3 1461.1,1108.1 1461.5,1108 1461.9,1108.1 1462.2,1107.6 1462.6,1107.9 1463,1108.2 1463.3,1107.8 1463.7,1108.1 1464.1,1107.2 1464.4,1106.2 1464.8,1106.7 1465.2,1106.4 1465.5,1107.5 1465.9,1107.3 1466.2,1107.1 1466.6,1107 1467,1106.4 1467.3,1108.1 1467.7,1107.5 1468.1,1107.7 1468.4,1107.4 1468.8,1105.5 1469.2,1105.7 1469.5,1105.8 1469.9,1106.1 1470.3,1105.7 1470.6,1105.4 1471,1104.6 1471.4,1104.6 1471.7,1104.8 1472.1,1105.3 1472.5,1105.8 1472.8,1104.3 1473.2,1104 1473.6,1104.4 1473.9,1104.7 1474.3,1103.2 1474.6,1104.2 1475,1105.5 1475.4,1105.6 1475.7,1104.7 1476.1,1104.5 1476.5,1104.6 1476.8,1105.7 1477.2,1105.9 1477.6,1105.9 1477.9,1104.2 1478.3,1103.8 1478.7,1104 1479,1103.8 1479.4,1104.7 1479.8,1105 1480.1,1104.9 1480.5,1105.3 1480.9,1106.3 1481.2,1106.5 1481.6,1106.6 1482,1107.3 1482.3,1107 1482.7,1107.1 1483.1,1108 1483.4,1108 1483.8,1108.1 1484.1,1108.6 1484.5,1108.3 1484.9,1108.3 1485.2,1109 1485.6,1108.4 1486,1108.1 1486.3,1107 1486.7,1108.2 1487.1,1107.5 1487.4,1107.8 1487.8,1107.8 1488.2,1106.5 1488.5,1106.9 1488.9,1107.2 1489.3,1107.3 1489.6,1107.1 1490,1107.9 1490.4,1107.1 1490.7,1107.6 1491.1,1108.1 1491.5,1108.3 1491.8,1108.5 1492.2,1109.3 1492.5,1109.6 1492.9,1109.2 1493.3,1109.5 1493.6,1109.8 1494,1109.5 1494.4,1110 1494.7,1109.7 1495.1,1110.9 1495.5,1109.8 1495.8,1108.6 1496.2,1108.8 1496.6,1108.5 1496.9,1109.4 1497.3,1108.3 1497.7,1108.7 1498,1108.8 1498.8,1109.2 1499.6,1109.6 1500.4,1109.4 1501.2,1109.9 1502,1109.9 1502.8,1110.7 1503.6,1110.4 1504.4,1108.9 1505.2,1110 1506,1108.7 1506.8,1108.9 1507.2,1109.6 1507.5,1110 1507.9,1111.2 1508.3,1109.9 1508.6,1109.3 1509,1108.7 1509.4,1110.4 1509.7,1109.6 1510.1,1110.5 1510.5,1110.9 1510.8,1110.7 1511.2,1110.7 1511.6,1110.4 1511.9,1111.3 1512.3,1111.2 1512.7,1109.8 1513,1110.4 1513.4,1109.7 1513.8,1109.8 1514.1,1110.3 1514.5,1110.1 1514.9,1110.5 1515.2,1109.5 1515.6,1110.4 1515.9,1110.1 1516.3,1108.6 1516.7,1108.8 1517,1109.8 1517.4,1110.1 1517.8,1109.8 1518.1,1111.3 1518.5,1110.6 1518.9,1109.8 1519.2,1109.4 1519.6,1110.7 1520,1110.1 1520.3,1111 1520.7,1110.1 1521.1,1109.8 1521.4,1110.3 1521.8,1110.1 1522.2,1109.3 1522.5,1109.2 1522.9,1109.1 1523.3,1109.7 1523.6,1109.1 1524,1109.3 1524.3,1108.4 1524.7,1109.8 1525.1,1109 1525.4,1109.5 1525.8,1110.3 1526.2,1110 1526.5,1108.8 1526.9,1108.1 1527.3,1108.1 1527.6,1108 1528,1108.4 1528.4,1108.3 1528.7,1108.2 1529.1,1109.7 1529.5,1109.2 1529.8,1110.6 1530.2,1110 1530.6,1110.5 1530.9,1110 1531.3,1110.2 1531.7,1109.3 1532,1108.6 1532.4,1108.5 1532.7,1108.4 1533.1,1109.3 1533.5,1109.4 1533.8,1109.7 1534.2,1108.8 1534.6,1108.8 1534.9,1109.3 1535.3,1109.9 1535.7,1109.1 1536,1109.6 1536.4,1108.8 1536.8,1109.8 1537.1,1110.6 1537.5,1111.3 1537.9,1111.6 1538.2,1109.7 1538.6,1107.4 1539,1109.7 1539.3,1110.2 1539.7,1111.2 1540.1,1109.9 1540.4,1109.9 1540.8,1111.2 1541.1,1109.6 1541.5,1110.3 1541.9,1111.3 1542.2,1110.8 1542.6,1111.2 1543,1111 1543.3,1111.3 1543.7,1111.1 1544.1,1110.7 1544.4,1110.3 1544.8,1111.6 1545.2,1111.4 1545.5,1111.7 1545.9,1111.4 1546.3,1110.9 1546.6,1111.6 1547,1111.9 1547.4,1110.8 1547.7,1110.5 1548.1,1111.5 1548.5,1110.9 1548.8,1111 1549.2,1110.3 1549.6,1111 1549.9,1112.2 1550.3,1111.7 1550.6,1111.8 1551,1112.5 1551.4,1111.7 1551.7,1112.5 1552.1,1112 1552.5,1113.7 1553.3,1112.7 1554.1,1111.6 1554.9,1111.9 1555.7,1111.4 1556.5,1112.2 1557.3,1111.5 1558.1,1111 1558.9,1110.7 1559.7,1111.2 1560.5,1112.2 1561.3,1112.6 1562.1,1113 1562.9,1113 1563.7,1112.1 1564.5,1111.6 1565.3,1112.9 1566.1,1112.6 1566.9,1112 1567.7,1113 1568.5,1112.3 1569.3,1112.5 1570.1,1112.5 1570.8,1112.7 1571.6,1113.3 1572.4,1113.2 1573.2,1113.5 1574,1113.2 1574.8,1113.2 1575.6,1113.2 1576.4,1113.1 1577.2,1113.7 1578,1113.2 1578.8,1112.1 1579.6,1112.8 1580.4,1112.8 1581.2,1112.9 1582,1111.9 1582.8,1112 1583.6,1111.6 1584.4,1111.9 1585.2,1112.9 1586,1112 1586.8,1111.5 1587.6,1111.9 1588.4,1112.6 1589.2,1113.5 1590,1112.8 1590.8,1112.8 1591.6,1113 1592.4,1112.6 1593.2,1112.5 1594,1112.3 1594.8,1112.6 1595.6,1112.9 1596.4,1113 1597.2,1112.9 1598,1113.7 1598.8,1112.7 1599.6,1113.5 1600.4,1114.2 1601.2,1113.3 1602,1112.9 1602.8,1112.8 1603.6,1113 1604.4,1113.1 1605.2,1112.5 1606,1113.4 1606.8,1113.5 1607.6,1113.9 1608.4,1113.6 1609.2,1113.6 1610,1113.7 1610.8,1114.4 1611.6,1113.1 1612.4,1113.1 1613.2,1113.8 1614,1113.7 1614.8,1113.6 1615.6,1113.3 1617.5,1113.5 1619.5,1113.2 1621.4,1114.5 1623.4,1114.3 1625.3,1114 1627.2,1113.8 1629.2,1113.6 1631.1,1113.1 1633.1,1113.6 1635,1113.4 1636.9,1113.1 1638.9,1114.3 1640.8,1113.9 1642.8,1113.9 1644.7,1113.1 1646.6,1112.9 1648.6,1112.5 1650.5,1111.9 1651.3,1113 1652.1,1113.7 1652.9,1113.9 1653.7,1114.2 1654.5,1114.7 1655.3,1113.2 1656.1,1113.9 1656.9,1114.1 1657.7,1114.3 1658.5,1115.1 1659.3,1113.3 1660.1,1112.5 1660.9,1112.4 1661.7,1113.4 1662.5,1113.4 1663.3,1113.1 1664.1,1113.7 1664.9,1113.3 1665.7,1113.5 1666.5,1113.8 1667.3,1113.2 1668.1,1113.2 1668.9,1112.5 1669.7,1112.9 1670.5,1113.2 1671.3,1112.5 1672.1,1113.4 1672.9,1113.9 1673.7,1113.6 1674.5,1113.2 1675.3,1113.7 1676.1,1113.8 1676.9,1114.1 1677.7,1114.3 1678.5,1113.8 1679.3,1113.3 1680.1,1113.2 1680.9,1112.2 1681.7,1111.4 1682.5,1112.6 1683.3,1114.4 1684.1,1112.9 1684.9,1112.9 1685.7,1112.8 1686.5,1112.6 1687.3,1112.5 1688.1,1111.7 1688.9,1112.7 1689.7,1113.5 1690.5,1112 1691.3,1111.8 1692.1,1112.7 1692.9,1112.9 1693.7,1113 1694.5,1112.5 1695.3,1113 1696.1,1112.4 1696.9,1113.3 1697.7,1112.3 1698.5,1112.8 1699.3,1113.4 1700.1,1113.2 1700.9,1112.6 1701.7,1112.1 1702.5,1111.8 1703.3,1113.4 1704.1,1112.4 1704.9,1112.6 1705.7,1113.7 1706.5,1113.5 1707.2,1113.7 1708,1113 1708.8,1112.7 1709.6,1112.6 1710.4,1112.2 1711.2,1112.8 1712,1112.1 1712.8,1112.2 1713.6,1112.5 1714.4,1113 1715.2,1112.7 1716,1112.3 1716.8,1111.2 1717.6,1111.8 1718,1112.5 1718.4,1111.5 1718.7,1111.1 1719.1,1111.3 1719.5,1110.5 1719.8,1111.3 1720.2,1110.4 1720.6,1110.3 1720.9,1111.4 1721.3,1111.7 1721.7,1110.3 1722,1110.6 1722.4,1110.5 1722.8,1110.3 1723.1,1109.5 1723.5,1110.6 1723.8,1110.4 1724.2,1110.5 1724.6,1111.3 1724.9,1111.2 1725.3,1111.1 1725.7,1111.6 1726,1112 1726.4,1111 1726.8,1110.5 1727.1,1111.4 1727.5,1110.2 1727.9,1110.1 1728.2,1110.6 1728.6,1110.2 1729,1110.1 1729.3,1111.4 1729.7,1111 1730.1,1110.8 1730.4,1110.8 1730.8,1110.5 1731.2,1109.3 1731.5,1109.6 1731.9,1109.2 1732.2,1109.5 1732.6,1108.7 1733,1110 1733.3,1109.1 1733.7,1109.9 1734.1,1110.2 1734.4,1109.2 1734.8,1108.8 1735.2,1108.3 1735.5,1108.4 1735.9,1109.6 1736.3,1109.2 1736.6,1110 1737,1109.6 1737.4,1108.5 1737.7,1108.5 1738.1,1108.2 1738.5,1108.2 1738.8,1108.6 1739.2,1109.3 1739.6,1108.5 1739.9,1109.1 1740.3,1109.3 1740.6,1107.9 1741,1108.3 1741.4,1108.3 1741.7,1108.6 1742.1,1107.5 1742.5,1109.5 1742.8,1108.1 1743.2,1108.7 1743.6,1108.2 1743.9,1106.9 1744.3,1108 1744.7,1107.4 1745,1107.6 1745.4,1108 1745.8,1109 1746.1,1108.9 1746.5,1108 1746.9,1107.8 1747.2,1108.8 1747.6,1107.8 1748,1108.5 1748.3,1108.7 1748.7,1110.4 1749,1108.8 1749.4,1108.4 1749.8,1109.2 1750.1,1109.5 1750.5,1109.4 1750.9,1109.9 1751.2,1109.1 1751.6,1109.8 1752,1110.3 1752.3,1110.3 1752.7,1110.4 1753.1,1110.7 1753.4,1110.2 1753.8,1109.8 1754.2,1109.8 1754.5,1110.4 1754.9,1111.3 1755.3,1110.7 1755.6,1111.6 1756,1110.5 1756.4,1111.2 1756.7,1110.6 1757.1,1111.2 1757.4,1109.7 1757.8,1110.4 1758.2,1110.2 1758.5,1110.3 1758.9,1110.8 1759.3,1110.5 1759.6,1111.7 1760,1111.7 1760.4,1112.2 1760.7,1112 1761.1,1112 1761.5,1111.8 1761.8,1111.6 1762.2,1111.7 1762.6,1110.5 1762.9,1111.1 1763.3,1111.2 1763.7,1111.6 1764,1112 1764.4,1110.6 1764.8,1110.4 1765.1,1111 1765.5,1111.7 1765.9,1111.8 1766.2,1111.9 1766.6,1112.2 1766.9,1112.4 1767.7,1112.5 1768.5,1113.3 1769.3,1112.8 1770.1,1111.5 1770.9,1111.9 1771.7,1112 1772.5,1112.7 1773.3,1113.6 1774.1,1113 1774.9,1112.5 1775.7,1112.9 1776.5,1114 1777.3,1113.4 1778.1,1113.2 1778.9,1112.7 1779,1113.7"/>
<polyline fill="none" stroke="#ff0000" stroke-width="7.6" stroke-linejoin="round" stroke-linecap="butt" points="181,1235 182.9,1234.9 184.9,1235.3 186.8,1233.9 188.8,1234.7 190.7,1234.7 192.6,1234.3 194.6,1234.4 196.5,1233.3 198.5,1232.7 200.4,1233.6 202.3,1233.4 204.3,1234 206.2,1235.7 208.2,1235.3 210.1,1234.4 212,1234.7 214,1234.4 215.9,1234.1 217.9,1234.4 219.8,1234.1 221.7,1234.1 223.7,1234.2 225.6,1233.6 227.6,1233.8 229.5,1234 231.5,1233.8 233.4,1234.3 235.3,1234.2 237.3,1233.9 239.2,1234.5 241.2,1234.8 243.1,1233.6 245,1233.4 247,1233.5 248.9,1234.1 250.9,1234.4 252.8,1235.6 254.7,1235.2 256.7,1234.6 258.6,1233.4 260.6,1232.9 262.5,1234.9 264.4,1234.5 266.4,1234.9 268.3,1233.9 270.3,1232.6 272.2,1234 274.1,1233.8 276.1,1233.8 278,1233.4 280,1233.8 281.9,1232.7 283.8,1234.4 285.8,1234.5 287.7,1234.2 289.7,1234.3 291.6,1233.3 293.5,1233.5 295.5,1233.2 297.4,1232.6 299.4,1232.2 301.3,1232.7 303.2,1232.6 305.2,1233.5 307.1,1233.7 309.1,1232.8 311,1233.5 312.9,1232.2 314.9,1231.5 316.8,1229.6 318.8,1230.2 320.7,1230.9 322.7,1231.1 324.6,1230.6 326.5,1231 328.5,1231.5 330.4,1231.2 332.4,1230.9 334.3,1230.3 336.2,1229.9 338.2,1229.8 340.1,1229.5 342.1,1228.6 342.9,1229 343.7,1227.7 344.5,1226.3 345.3,1226.1 346.1,1224.6 346.8,1224.8 347.6,1224.7 348.4,1224.8 349.2,1225.1 350,1224.1 350.8,1223.7 351.6,1222.9 352.4,1222.6 353.2,1222.1 354,1221.6 354.8,1220 355.6,1218.7 356.4,1218.4 357.2,1217.8 358,1217.3 358.8,1215.3 359.6,1214.2 360.4,1212.5 361.2,1211.5 362,1207.7 362.8,1206.1 363.6,1204.2 364.4,1200 365.2,1197.3 366,1193.8 366.8,1189.1 367.6,1183.9 368,1181.1 368.4,1177 368.7,1174.9 369.1,1171.5 369.4,1166.8 369.8,1162.1 370.2,1158.2 370.5,1154.9 370.9,1150.9 371.3,1146 371.6,1140.6 372,1135.3 372.4,1128.8 372.7,1122.2 373.1,1115.6 373.5,1109.5 373.8,1104.6 374.2,1098.1 374.6,1093.4 374.9,1089.7 375.3,1085.3 375.7,1081.5 376,1078.3 376.4,1076.2 376.8,1075.2 377.1,1075.8 377.5,1076.3 377.9,1078 378.2,1081.3 378.6,1085.1 378.9,1088.6 379.3,1094.6 379.7,1099 380,1105.4 380.4,1110.8 380.8,1118.7 381.1,1123.7 381.5,1129.7 381.9,1134.9 382.2,1139.8 382.6,1144.8 383,1149.8 383.3,1154.8 383.7,1158.1 384.1,1162.1 384.4,1166.6 384.8,1168.9 385.2,1172.6 385.5,1174.9 385.9,1178.1 386.3,1181.1 386.6,1183.5 387.4,1189 388.2,1192.4 389,1197.4 389.8,1199.3 390.6,1202.8 391.4,1202.9 392.2,1204.9 393,1207 393.8,1208 394.6,1209.1 395.4,1209.7 396.2,1211 397,1211 397.8,1212.4 398.6,1214.1 399.4,1212.7 400.2,1213.3 401,1213.9 401.8,1214.5 402.6,1215.1 403.4,1215.5 404.2,1215.2 405,1214.6 405.8,1216.2 406.6,1215.9 407.4,1217.4 408.2,1217.3 409,1217.2 409.8,1217.7 410.6,1217.7 411.4,1218.2 412.2,1217.4 413,1217.8 414.9,1217 416.9,1217.4 418.8,1218.8 420.7,1218.9 422.7,1219.7 424.6,1217.6 426.6,1218 428.5,1218.2 430.4,1218 432.4,1219.9 434.3,1220.8 436.3,1220.8 438.2,1219.4 440.1,1218.6 442.1,1218.7 444,1218 446,1219.9 446.8,1220.5 447.6,1220.3 448.4,1221.5 449.2,1222.7 450,1220.9 450.8,1221.3 451.6,1221.5 452.4,1221.1 453.2,1219.8 454,1220.6 454.8,1221.8 455.6,1222.2 456.4,1222 457.2,1220.6 458,1220.5 458.8,1221.1 459.6,1221.7 460.4,1222.4 461.2,1223 462,1222.4 462.8,1221.2 463.5,1219.6 464.3,1219 465.1,1219.5 465.9,1218.9 466.7,1219.3 467.5,1218.9 468.3,1217.9 469.1,1216.9 469.9,1215.8 470.7,1213.8 471.1,1213.2 471.5,1212.8 471.8,1213.1 472.2,1211.2 472.6,1209.5 472.9,1208.3 473.3,1208 473.7,1207.4 474,1206.2 474.4,1204.5 474.8,1201.4 475.1,1200.7 475.5,1199 475.9,1196.9 476.2,1195.6 476.6,1194.7 476.9,1193.1 477.3,1190.7 477.7,1188.6 478,1187.1 478.4,1185.7 478.8,1185.7 479.1,1185 479.5,1184.6 479.9,1183.9 480.2,1184.9 480.6,1185.4 481,1186.3 481.3,1186.7 481.7,1187.9 482.1,1189.5 482.4,1191.4 482.8,1192.3 483.2,1193 483.5,1194.3 483.9,1195.8 484.3,1199.8 484.6,1201.3 485,1202.8 485.4,1205.2 485.7,1206.9 486.1,1208.4 486.4,1208.6 486.8,1210.8 487.2,1212.9 487.5,1213.8 487.9,1215.2 488.3,1215.8 488.6,1215.8 489,1215.8 489.4,1217.5 489.7,1218.6 490.5,1219.5 491.3,1221.2 492.1,1222.8 492.9,1224 493.7,1223.5 494.5,1223.7 495.3,1226 496.1,1226.3 496.9,1226 497.7,1227 498.5,1228.3 499.3,1228.6 500.1,1229.6 500.9,1229.1 501.7,1229.7 502.5,1229.3 503.3,1230.9 504.1,1230.5 504.9,1230.5 505.7,1230.1 506.5,1231.4 507.3,1231.2 508.1,1231.9 508.9,1231.8 509.7,1230.9 510.5,1231.1 511.3,1231.1 512.1,1231.3 512.9,1232.1 513.7,1231.9 514.5,1231.8 515.3,1232.2 516.1,1232.1 518,1233.8 520,1233.3 521.9,1233.8 523.9,1234.4 525.8,1234.5 527.7,1233.1 529.7,1233.7 531.6,1234.3 533.6,1234.3 535.5,1232.9 537.4,1233.7 539.4,1233.4 541.3,1234.6 543.3,1235.1 545.2,1235.3 547.1,1234.9 549.1,1235.1 551,1234.4 553,1234.2 554.9,1234.8 556.8,1234.9 558.8,1235.3 560.7,1235.2 562.7,1234.7 564.6,1234.7 566.6,1233.9 568.5,1232.7 570.4,1234 572.4,1234.3 574.3,1234.5 576.3,1234.2 578.2,1234.9 580.1,1234.2 582.1,1235.3 584,1234.7 586,1235.1 587.9,1235.5 589.8,1235.6 591.8,1234.8 593.7,1235.6 595.7,1234.9 597.6,1236.3 599.5,1235.5 601.5,1235.9 603.4,1234.3 605.4,1235.5 607.3,1236.2 609.2,1236.7 611.2,1236.4 613.1,1234.6 615.1,1235.7 617,1234.7 618.9,1234.7 620.9,1235.4 622.8,1235.4 624.8,1235.1 626.7,1234.4 628.6,1234.8 630.6,1233.9 632.5,1234.8 634.5,1234.1 636.4,1234.6 638.3,1234.7 640.3,1233.8 642.2,1234.7 644.2,1234.8 646.1,1235.3 648,1235.8 650,1236.7 651.9,1236.8 653.9,1236.3 655.8,1234.1 657.8,1234.5 659.7,1234.3 661.6,1233.9 663.6,1234.1 665.5,1235 667.5,1235 669.4,1235.3 671.3,1235.2 673.3,1234.7 675.2,1234.1 677.2,1234.7 679.1,1235.1 681,1233.6 683,1234 684.9,1235 686.9,1234.2 688.8,1234.6 690.7,1234.6 692.7,1234.9 694.6,1236.1 696.6,1235.5 698.5,1234.1 700.4,1235.4 702.4,1235.8 704.3,1235.4 706.3,1236 708.2,1235.8 710.1,1234.2 712.1,1235.3 714,1235.6 716,1236.2 717.9,1235.7 719.8,1235.2 721.8,1234.2 723.7,1234.5 725.7,1233.1 727.6,1233.6 729.5,1234.2 731.5,1233.7 733.4,1233.6 735.4,1233.4 737.3,1232.5 739.2,1232.6 741.2,1233.1 743.1,1233.8 745.1,1233.4 747,1233.1 749,1232.8 750.9,1233.9 752.8,1233.4 754.8,1233.6 756.7,1234.4 758.7,1233.5 760.6,1233.4 762.5,1232.2 764.5,1232.3 766.4,1232.1 768.4,1233 770.3,1231.8 772.2,1231.3 773,1229.8 773.8,1230.5 774.6,1231.8 775.4,1230.4 776.2,1231.1 777,1230.8 777.8,1229.7 778.6,1229 779.4,1229.1 780.2,1229.6 781,1228.5 781.8,1228.2 782.6,1228.4 783.4,1227.5 784.2,1227.4 785,1226.7 785.8,1226.6 786.6,1226.1 787.4,1226.8 788.2,1226.2 789,1225.9 789.8,1225.1 790.6,1224 791.4,1223.5 792.2,1221.8 793,1220.4 793.8,1220.2 794.6,1218.2 795.4,1217.9 796.2,1216.7 797,1215.6 797.8,1213 798.6,1209.2 799,1207.1 799.3,1207.5 799.7,1206.1 800.1,1203.1 800.4,1202.1 800.8,1198.7 801.2,1196.8 801.5,1194.2 801.9,1192.3 802.3,1189.5 802.6,1188.1 803,1185.3 803.4,1182.3 803.7,1178.8 804.1,1176 804.4,1173.5 804.8,1170.4 805.2,1168.2 805.5,1164.9 805.9,1163 806.3,1159.3 806.6,1156.6 807,1154.5 807.4,1152.7 807.7,1153 808.1,1151.8 808.5,1151.9 808.8,1151.4 809.2,1151.1 809.6,1152.4 809.9,1154.5 810.3,1156.6 810.7,1157.8 811,1160 811.4,1163 811.8,1166.1 812.1,1169.4 812.5,1171.9 812.8,1176.1 813.2,1178.3 813.6,1180.1 813.9,1183.1 814.3,1187.3 814.7,1189.2 815,1191.1 815.4,1193.6 815.8,1195 816.1,1196.9 816.5,1200.4 816.9,1203.2 817.2,1203.9 817.6,1205 818,1207.4 818.3,1209.1 818.7,1209.1 819.5,1212.2 820.3,1214.9 821.1,1216.1 821.9,1218.4 822.7,1219.6 823.5,1220.8 824.3,1220.9 825.1,1221.1 825.9,1223.3 826.7,1224.2 827.5,1226 828.3,1225 829.1,1225.9 829.9,1225.6 830.7,1226.5 831.5,1226.5 832.3,1226.9 833.1,1227 833.9,1228.3 834.7,1228.3 835.5,1229.6 836.3,1229.4 837.1,1228.5 837.9,1229.3 838.7,1229.6 839.5,1230.4 840.3,1230 841.1,1231.2 841.9,1229.1 842.7,1229 843.5,1229.2 844.3,1230.4 845.1,1231.4 845.9,1231.4 846.7,1230.9 848.6,1232.8 850.5,1233 852.5,1233.3 854.4,1231.8 856.4,1231.8 858.3,1232.9 860.2,1234 862.2,1232.8 864.1,1232.1 866.1,1232.7 868,1232.3 869.9,1231.4 871.9,1232.2 873.8,1233 875.8,1232.9 877.7,1233.7 879.6,1234.1 881.6,1234.4 883.5,1234.1 885.5,1234.3 887.4,1233.9 889.3,1234.1 891.3,1234.1 893.2,1234 895.2,1234.3 897.1,1233.7 899,1233.9 901,1234.1 902.9,1233.6 904.9,1233.5 906.8,1232.4 908.8,1232.8 910.7,1233.3 912.6,1233.9 914.6,1232.9 916.5,1232.5 918.5,1234.2 920.4,1234.5 922.3,1234.5 924.3,1234.1 926.2,1233 928.2,1234 930.1,1233.6 932,1234.3 934,1234.2 935.9,1233.7 937.9,1233.8 939.8,1233.5 941.7,1233.5 943.7,1233 945.6,1232.8 947.6,1232.4 949.5,1233.2 951.4,1232.6 953.4,1232.7 955.3,1232.6 957.3,1233.2 959.2,1232.3 961.1,1233.5 963.1,1232.7 965,1232.1 967,1232 968.9,1232 970.8,1232.4 972.8,1232.2 973.6,1231.5 974.4,1230.5 975.2,1231.4 976,1232.2 976.8,1231.7 977.6,1230.9 978.4,1230.2 979.2,1231.2 980,1231.1 980.8,1230.8 981.6,1230.4 982.4,1230.2 983.2,1230.1 984,1230 984.8,1229.1 985.6,1228.7 986.4,1229.6 987.2,1228.5 988,1228.4 988.8,1229.3 989.6,1228.8 990.4,1227.4 991.2,1226.8 992,1226.5 992.8,1225.5 993.6,1226 994.4,1225.9 995.2,1224.5 996,1223.8 996.8,1221.5 997.6,1220.8 998.4,1219.4 999.2,1218.6 1000,1218.1 1000.8,1216.8 1001.1,1215.6 1001.5,1214.2 1001.8,1213.3 1002.2,1211.3 1002.6,1209.8 1002.9,1208.1 1003.3,1207.2 1003.7,1204.8 1004,1204.6 1004.4,1203.7 1004.8,1202 1005.1,1199.9 1005.5,1197.5 1005.9,1196.5 1006.2,1194.9 1006.6,1192.6 1007,1190.4 1007.3,1187.1 1007.7,1185.5 1008.1,1184.8 1008.4,1183 1008.8,1180.1 1009.2,1178.5 1009.5,1177.5 1009.9,1176.9 1010.2,1175.7 1010.6,1175 1011,1175.2 1011.3,1176.4 1011.7,1177.2 1012.1,1178.4 1012.4,1180.2 1012.8,1180.2 1013.2,1181.4 1013.5,1182.6 1013.9,1184.4 1014.3,1186.3 1014.6,1188.8 1015,1191.7 1015.4,1194.4 1015.7,1195.6 1016.1,1197.2 1016.5,1199.8 1016.8,1200.3 1017.2,1201.5 1017.6,1202.8 1017.9,1205.2 1018.3,1208 1018.6,1208.8 1019,1210.9 1019.4,1212.1 1019.7,1212.8 1020.1,1213.7 1020.5,1214 1020.8,1215.8 1021.2,1216.6 1021.6,1217.9 1022.4,1220.3 1023.2,1222.2 1024,1222.2 1024.8,1222.8 1025.6,1223.7 1026.4,1223.9 1027.2,1224.5 1028,1224.4 1028.8,1224.7 1029.6,1225.6 1030.4,1226.4 1031.2,1227 1032,1227.9 1032.8,1228 1033.6,1228.8 1034.4,1229.1 1035.2,1229.5 1036,1228.4 1036.8,1231 1037.6,1231.7 1038.3,1231.1 1039.1,1231.1 1039.9,1230.9 1040.7,1229.5 1041.5,1229.6 1042.3,1230.6 1043.1,1230.9 1043.9,1231.8 1044.7,1231.8 1045.5,1231.1 1046.3,1230.4 1047.1,1230.7 1047.9,1230.3 1048.7,1230.2 1049.5,1231.3 1050.3,1231.2 1051.1,1230.8 1051.9,1231.9 1052.7,1231.7 1053.5,1232.9 1054.3,1232.3 1055.1,1231.4 1055.9,1231.1 1056.7,1229.3 1057.5,1230.8 1058.3,1230.3 1059.1,1231.2 1059.9,1231.9 1060.7,1232 1061.5,1232.9 1062.3,1231.6 1063.1,1230.9 1063.9,1231.1 1064.3,1230.8 1064.6,1230.3 1065,1229.8 1065.4,1230.4 1065.7,1230 1066.1,1231.6 1066.5,1229.4 1066.8,1228.1 1067.2,1228.4 1067.6,1228.8 1067.9,1229.7 1068.3,1228.5 1068.7,1228.5 1069,1228.8 1069.4,1227.8 1069.8,1227.9 1070.1,1228.1 1070.5,1227.7 1070.9,1227 1071.2,1227.7 1071.6,1227.9 1072,1227.5 1072.3,1227.3 1072.7,1227.2 1073,1226.3 1073.4,1224.7 1073.8,1226.1 1074.1,1226 1074.5,1226.5 1074.9,1225.6 1075.2,1225.8 1075.6,1227.6 1076,1226.1 1076.3,1226.1 1076.7,1226.9 1077.1,1227.1 1077.4,1227.8 1077.8,1227.8 1078.2,1228.6 1078.5,1228.4 1078.9,1227.8 1079.3,1227.6 1079.6,1228.3 1080,1228.1 1080.4,1229.3 1080.7,1230.1 1081.1,1230.2 1081.5,1229.7 1081.8,1229.5 1082.2,1230.2 1082.5,1230.8 1082.9,1231.3 1083.3,1231.7 1083.6,1231.5 1084,1231.6 1084.4,1232.3 1084.7,1231.3 1085.5,1231 1086.3,1232.7 1087.1,1232.3 1087.9,1233.7 1088.7,1233.5 1089.5,1233.4 1090.3,1233.9 1091.1,1232.9 1091.9,1232.5 1092.7,1233.5 1093.5,1233.3 1094.3,1233.5 1095.1,1233.2 1095.9,1232.9 1096.7,1232.8 1097.5,1232.6 1098.3,1233.1 1099.1,1232.9 1099.9,1233.4 1100.7,1232.7 1101.5,1232 1102.3,1232.4 1103.1,1232.9 1103.9,1233.5 1104.7,1234.1 1105.5,1234.2 1106.3,1233.6 1107.1,1233.9 1107.9,1233.5 1108.7,1233.8 1109.5,1232.3 1110.3,1232.7 1111.1,1233 1111.9,1232.9 1112.7,1232.7 1113.5,1233.3 1115.4,1232.8 1117.4,1233.9 1119.3,1232.9 1121.3,1232.9 1123.2,1233.7 1125.1,1233.5 1127.1,1233.1 1129,1233.4 1131,1233.8 1132.9,1234.4 1134.8,1233.1 1136.8,1233.3 1138.7,1233.9 1140.7,1234.6 1142.6,1234.6 1144.5,1234.8 1146.5,1234.7 1148.4,1235.2 1150.4,1235.1 1152.3,1235.3 1154.3,1235.5 1156.2,1235.3 1158.1,1234.6 1160.1,1234.8 1162,1234.7 1164,1234.5 1165.9,1233.8 1167.8,1233.7 1169.8,1233.2 1171.7,1232.2 1173.7,1231.8 1175.6,1233.6 1177.5,1234.4 1179.5,1235.1 1181.4,1234.9 1183.4,1235.2 1185.3,1235.5 1187.2,1235.5 1189.2,1234.7 1191.1,1234.7 1193.1,1234.8 1195,1234.6 1196.9,1234.4 1198.9,1234.2 1200.8,1233.6 1202.8,1233.7 1204.7,1233.3 1206.6,1233.5 1208.6,1233.8 1210.5,1235.2 1212.5,1235.4 1214.4,1235.3 1216.3,1234.6 1218.3,1234.4 1220.2,1233.6 1222.2,1234.6 1224.1,1234.7 1226,1233.5 1228,1233.4 1229.9,1234.8 1231.9,1234.8 1233.8,1234.6 1235.7,1234.2 1237.7,1234 1239.6,1234.2 1241.6,1234.2 1243.5,1233.8 1245.5,1234.5 1247.4,1235 1249.3,1234.3 1251.3,1233.4 1253.2,1233.5 1255.2,1234.6 1257.1,1235.2 1259,1234.9 1261,1234.3 1262.9,1233.5 1264.9,1233.2 1266.8,1234.3 1268.7,1234 1269.5,1234.4 1270.3,1234.5 1271.1,1235 1271.9,1235.2 1272.7,1234.5 1273.5,1233.3 1274.3,1234.8 1275.1,1233.7 1275.9,1232.2 1276.7,1232.9 1277.5,1234 1278.3,1234.4 1279.1,1232.9 1279.9,1234.7 1280.7,1234.5 1281.5,1234.6 1282.3,1234.6 1283.1,1235.1 1283.9,1233.7 1284.7,1234.1 1285.5,1234.4 1286.3,1234.7 1287.1,1235.2 1287.9,1233.9 1288.7,1232.9 1289.5,1233.6 1290.3,1233.4 1291.1,1233.1 1291.9,1234.5 1292.7,1232.9 1293.5,1233.4 1294.3,1233.6 1295.1,1232.9 1295.9,1232.7 1296.7,1233.5 1297.5,1232 1298.3,1231.6 1299.1,1232.1 1299.5,1230.7 1299.8,1231.8 1300.2,1231.8 1300.6,1231.7 1300.9,1231 1301.3,1230.2 1301.7,1230 1302,1231.1 1302.4,1231.9 1302.8,1231.1 1303.1,1230.7 1303.5,1230.4 1303.8,1230 1304.2,1228.5 1304.6,1228.2 1304.9,1228.9 1305.3,1228.7 1305.7,1228.9 1306,1227.9 1306.4,1226.7 1306.8,1226.6 1307.1,1227.4 1307.5,1226.7 1307.9,1227.3 1308.2,1226.3 1308.6,1226.8 1309,1226.8 1309.3,1225 1309.7,1226.3 1310.1,1227.4 1310.4,1226.6 1310.8,1226.3 1311.2,1226.8 1311.5,1226.2 1311.9,1227 1312.2,1226.4 1312.6,1226.5 1313,1226.7 1313.3,1226.6 1313.7,1228.4 1314.1,1229.2 1314.4,1229 1314.8,1229.1 1315.2,1229.8 1315.5,1229.6 1315.9,1229.8 1316.3,1230.5 1316.6,1230.6 1317,1230.7 1317.4,1231.4 1317.7,1231 1318.1,1231 1318.5,1230.5 1318.8,1231.3 1319.2,1232.8 1319.6,1232.2 1319.9,1232.4 1320.3,1231.9 1320.6,1231.9 1321,1231.6 1321.8,1231.2 1322.6,1232.3 1323.4,1232.1 1324.2,1232.5 1325,1232.9 1325.8,1233.9 1326.6,1233.1 1327.4,1234.2 1328.2,1233.6 1329,1233.5 1329.8,1233.1 1330.6,1232.6 1331.4,1233.3 1332.2,1232.4 1333,1232.9 1333.8,1233.2 1334.6,1233.7 1335.4,1233.8 1336.2,1233.6 1337,1234.1 1337.8,1233.6 1338.6,1233.9 1339.4,1233.8 1340.2,1232.7 1341,1233.6 1341.8,1233.4 1342.6,1233 1343.4,1233.3 1344.2,1233.8 1345,1233.6 1345.8,1233.2 1346.6,1233.3 1347.4,1233.7 1348.2,1234 1349,1233.8 1349.8,1234.4 1350.6,1234.6 1351.4,1235.2 1352.2,1235 1354.1,1234.8 1356.1,1233.6 1358,1233.6 1359.9,1233.5 1361.9,1233.2 1363.8,1234 1365.8,1235.1 1367.7,1234.9 1369.6,1236.3 1371.6,1235.4 1373.5,1234.3 1375.5,1233.9 1377.4,1234.2 1379.3,1234.2 1381.3,1234.2 1383.2,1235.6 1385.2,1234.9 1387.1,1234.6 1389,1233.6 1391,1233.6 1392.9,1234.1 1394.9,1233.6 1396.8,1233.5 1398.7,1233.8 1400.7,1233.6 1402.6,1234.4 1404.6,1234.5 1406.5,1235.1 1408.4,1235.5 1410.4,1234.7 1412.3,1234.4 1414.3,1234.4 1416.2,1235 1418.1,1235.4 1420.1,1235.1 1422,1233.5 1424,1233.3 1425.9,1233.6 1427.9,1234.1 1429.8,1234.1 1431.7,1234.8 1432.5,1233.8 1433.3,1234.2 1434.1,1234.3 1434.9,1233.3 1435.7,1234.6 1436.5,1234.6 1437.3,1233.8 1438.1,1234.2 1438.9,1234.5 1439.7,1233.6 1440.5,1233.8 1441.3,1233.2 1442.1,1233.8 1442.9,1232.2 1443.7,1232.1 1444.5,1231.4 1445.3,1233.6 1446.1,1234.7 1446.9,1234.6 1447.7,1234 1448.5,1232.7 1449.3,1234.4 1450.1,1234.3 1450.9,1233.8 1451.7,1233.4 1452.5,1231.4 1453.3,1231.5 1454.1,1231.4 1454.9,1231.5 1455.7,1231.4 1456.5,1231.4 1457.3,1231.5 1458.1,1233.8 1458.9,1232.2 1459.7,1231 1460.5,1231.2 1461.3,1230.4 1462.1,1230.7 1462.9,1229.9 1463.7,1230.7 1464.1,1229.5 1464.4,1228.3 1464.8,1228.9 1465.2,1228.6 1465.5,1227.4 1465.9,1227.8 1466.2,1227.5 1466.6,1227.6 1467,1225.8 1467.3,1225.5 1467.7,1225.5 1468.1,1226.1 1468.4,1224.7 1468.8,1224.9 1469.2,1224 1469.5,1223.6 1469.9,1223 1470.3,1222 1470.6,1221.9 1471,1221.6 1471.4,1221.2 1471.7,1220.7 1472.1,1220.7 1472.5,1218.7 1472.8,1218 1473.2,1218.8 1473.6,1218.8 1473.9,1216.9 1474.3,1215.8 1474.6,1216 1475,1215.8 1475.4,1215.8 1475.7,1217 1476.1,1216.3 1476.5,1217.5 1476.8,1218.2 1477.2,1218 1477.6,1219 1477.9,1217.8 1478.3,1218 1478.7,1218.6 1479,1220.7 1479.4,1220.9 1479.8,1221.2 1480.1,1221.3 1480.5,1222.4 1480.9,1222.8 1481.2,1223.4 1481.6,1223.6 1482,1225.3 1482.3,1224.5 1482.7,1226.1 1483.1,1224.5 1483.4,1227.1 1483.8,1226.2 1484.1,1226.4 1484.5,1227.7 1484.9,1227.8 1485.2,1227.4 1485.6,1226.8 1486,1228.5 1486.3,1228.4 1486.7,1229.4 1487.1,1229.2 1487.4,1228.3 1488.2,1229.6 1489,1230 1489.8,1230.3 1490.6,1231.1 1491.4,1230.9 1492.2,1231.4 1493,1232.2 1493.8,1233.2 1494.6,1232.2 1495.4,1231.9 1496.2,1231.8 1497,1231.8 1497.8,1231.8 1498.6,1232.8 1499.4,1233.1 1500.2,1232.3 1501,1233.5 1501.8,1233.1 1502.6,1232.8 1503.4,1232.9 1504.2,1233.5 1505,1233.3 1505.8,1232.7 1506.6,1231.9 1507.4,1232.5 1508.2,1231.4 1509,1232.1 1509.8,1232.5 1510.6,1232.1 1511.4,1232 1512.2,1232.3 1513,1232.2 1513.8,1232.6 1514.6,1232.1 1515.4,1231.1 1516.2,1229.7 1517,1230.8 1517.8,1230.5 1518.2,1230 1518.5,1229.9 1518.9,1230.2 1519.3,1230.3 1519.6,1229.5 1520,1229.9 1520.4,1229.8 1520.7,1228.6 1521.1,1229.1 1521.4,1228.9 1521.8,1228.9 1522.2,1228.9 1522.5,1227.2 1522.9,1227.2 1523.3,1227.8 1523.6,1225.8 1524,1226.1 1524.4,1226.5 1524.7,1225.5 1525.1,1225.5 1525.5,1225.3 1525.8,1225.4 1526.2,1225.4 1526.6,1223.7 1526.9,1224.2 1527.3,1223.9 1527.7,1223.3 1528,1221.9 1528.4,1223 1528.8,1223.8 1529.1,1223.7 1529.5,1222.9 1529.8,1223.6 1530.2,1222.8 1530.6,1222.3 1530.9,1222.8 1531.3,1223.1 1531.7,1224.2 1532,1224.9 1532.4,1225.5 1532.8,1225 1533.1,1225.4 1533.5,1226.4 1533.9,1226.1 1534.2,1227.3 1534.6,1227.1 1535,1227.5 1535.3,1228.1 1535.7,1228.5 1536.1,1227.2 1536.4,1227.7 1536.8,1229.2 1537.2,1230.6 1537.5,1230.1 1537.9,1229.7 1538.2,1230 1538.6,1230.5 1539,1229.7 1539.3,1229.8 1539.7,1230.3 1540.1,1230 1540.4,1230.6 1540.8,1231.5 1541.2,1231.4 1541.5,1231.4 1542.3,1233 1543.1,1231.6 1543.9,1231.7 1544.7,1231.8 1545.5,1232.9 1546.3,1233.7 1547.1,1233.1 1547.9,1232.6 1548.7,1234.5 1549.5,1233.6 1550.3,1233.7 1551.1,1233.5 1551.9,1234.8 1552.7,1233 1553.5,1233.4 1554.3,1232.6 1555.1,1232.9 1555.9,1233.3 1556.7,1232.9 1557.5,1233.8 1558.3,1233.9 1559.1,1235.3 1559.9,1234.3 1560.7,1233.8 1561.5,1234.2 1562.3,1235 1563.1,1234.9 1563.9,1233.8 1564.7,1234.5 1565.5,1233.7 1566.3,1233.9 1567.1,1233.2 1567.9,1233.2 1568.7,1232.9 1569.5,1233.9 1570.3,1235.9 1571.1,1235.4 1571.9,1234.1 1572.7,1233.7 1573.5,1233.2 1574.3,1233.8 1576.2,1234.6 1578.2,1234.4 1580.1,1233.7 1582.1,1234.2 1584,1233.9 1585.9,1234.5 1587.9,1234.5 1589.8,1234.6 1591.8,1234.4 1593.7,1234.6 1595.6,1235 1597.6,1236.4 1599.5,1235 1601.5,1235 1603.4,1234.1 1605.3,1235.6 1607.3,1234.9 1609.2,1235.7 1611.2,1235.1 1613.1,1235.7 1615,1234.9 1617,1233.7 1618.9,1234.7 1620.9,1233.5 1622.8,1233.9 1624.7,1233.7 1626.7,1235.3 1628.6,1236 1630.6,1237.5 1632.5,1235.5 1634.4,1236.2 1636.4,1235.3 1638.3,1234.8 1640.3,1235.1 1642.2,1235.2 1644.2,1235.2 1646.1,1235.5 1648,1234.7 1650,1234.6 1651.9,1235.7 1653.9,1235.1 1655.8,1236.2 1657.7,1235.7 1659.7,1235.8 1661.6,1235 1663.6,1234.6 1665.5,1236.6 1667.4,1236.5 1669.4,1236.5 1671.3,1236.6 1673.3,1236.7 1675.2,1237 1677.1,1237 1679.1,1236.4 1681,1234.2 1683,1235.4 1684.9,1234.8 1686.8,1235.7 1688.8,1235.5 1690.7,1235.3 1692.7,1235.9 1694.6,1236.7 1695.4,1235.4 1696.2,1234.8 1697,1235 1697.8,1235.5 1698.6,1236 1699.4,1235.8 1700.2,1235.2 1701,1235.4 1701.8,1235.8 1702.6,1236.1 1703.4,1236.2 1704.2,1235.9 1705,1235 1705.8,1235 1706.6,1235.6 1707.4,1235.4 1708.2,1235.1 1709,1235.4 1709.8,1235.5 1710.6,1234.7 1711.4,1235.3 1712.2,1237.1 1713,1237.3 1713.8,1236.2 1714.6,1235.7 1715.4,1236.8 1716.2,1237 1717,1236.5 1717.8,1236.4 1718.6,1234.5 1719.4,1233.8 1720.2,1233.6 1721,1233.2 1721.8,1234.2 1722.6,1234.6 1723.4,1233.6 1724.2,1234.4 1725,1234.7 1725.8,1233.3 1726.6,1232.7 1727.4,1233.5 1728.2,1232.6 1729,1232.6 1729.8,1232.4 1730.1,1232.4 1730.5,1232.9 1730.9,1233.1 1731.2,1232.9 1731.6,1232.7 1732,1231.6 1732.3,1231.1 1732.7,1230.4 1733,1230.1 1733.4,1229.3 1733.8,1230.1 1734.1,1229.8 1734.5,1229.5 1734.9,1230.2 1735.2,1230.5 1735.6,1230.2 1736,1228 1736.3,1228.3 1736.7,1228.5 1737.1,1227 1737.4,1226 1737.8,1226 1738.2,1225.6 1738.5,1225.3 1738.9,1225.3 1739.3,1224.5 1739.6,1223.7 1740,1223.7 1740.4,1223.8 1740.7,1223.9 1741.1,1223.9 1741.4,1225 1741.8,1223.9 1742.2,1223 1742.5,1223.1 1742.9,1222.1 1743.3,1222.3 1743.6,1222.6 1744,1222.3 1744.4,1222.9 1744.7,1223.8 1745.1,1223.3 1745.5,1223.6 1745.8,1225.2 1746.2,1225.4 1746.6,1225.8 1746.9,1225.6 1747.3,1225.4 1747.7,1225.7 1748,1226 1748.4,1226.7 1748.8,1228.1 1749.1,1228.8 1749.5,1228.2 1749.8,1229.2 1750.2,1229.5 1750.6,1228.6 1750.9,1230.7 1751.3,1231.1 1751.7,1230.7 1752,1230.6 1752.4,1229.7 1752.8,1231.2 1753.1,1233.4 1753.5,1232.4 1753.9,1231.6 1754.2,1232.2 1754.6,1231.4 1755,1232.5 1755.3,1232.4 1756.1,1232.1 1756.9,1233.1 1757.7,1233.5 1758.5,1233.2 1759.3,1233.7 1760.1,1234.6 1760.9,1234.2 1761.7,1232.9 1762.5,1234.3 1763.3,1234.6 1764.1,1235.1 1764.9,1234.6 1765.7,1234.6 1766.5,1234 1767.3,1234.1 1768.1,1235.8 1768.9,1235.1 1769.7,1236.1 1770.5,1236.9 1771.3,1235.5 1772.1,1234.9 1772.9,1235.6 1773.7,1236.3 1774.5,1236.4 1775.3,1235.4 1776.1,1235.9 1776.9,1236.3 1777.7,1236.6 1778.5,1235.5 1779,1237"/>
<polyline fill="none" stroke="#000000" stroke-width="7.6" stroke-linejoin="round" stroke-linecap="butt" points="181,1289.8 182.9,1289.7 184.9,1290 186.8,1289.4 188.8,1289.6 190.7,1289.6 192.6,1290 194.6,1290.5 196.5,1290.5 198.5,1289.4 200.4,1288.4 202.3,1289.7 204.3,1290.5 206.2,1290.3 208.2,1290.3 210.1,1289.6 212,1289 214,1290.1 215.9,1288.1 217.9,1288 219.8,1288 221.7,1289.3 223.7,1289.1 225.6,1288.6 227.6,1288.3 229.5,1289.2 231.5,1289.9 233.4,1288.1 235.3,1288.8 237.3,1288.8 239.2,1289.3 241.2,1289.5 243.1,1289.4 245,1288.3 247,1288.4 248.9,1288.6 250.9,1289.2 252.8,1289.4 254.7,1290.2 256.7,1289.4 258.6,1288.8 260.6,1289.4 262.5,1289.2 264.4,1288.5 266.4,1286.6 268.3,1287.7 270.3,1288.4 272.2,1286.7 274.1,1286.7 276.1,1286.7 278,1285.7 280,1286 281.9,1287 283.8,1287.2 285.8,1286.4 287.7,1286.9 289.7,1286.3 291.6,1285.9 293.5,1285.7 295.5,1286.5 297.4,1286.2 299.4,1286.2 301.3,1286 303.2,1285 305.2,1284.9 307.1,1284.9 309.1,1284.3 311,1283.7 312.9,1283.7 314.9,1284.2 316.8,1284.4 318.8,1283.7 320.7,1283.6 322.7,1284.3 324.6,1282.4 325.4,1282.5 326.2,1282.3 327,1282.5 327.8,1281.6 328.6,1282.3 329.4,1282.8 330.2,1281.8 331,1282.1 331.8,1281.7 332.6,1281 333.4,1279.4 334.2,1279.4 335,1280.5 335.8,1280.3 336.6,1279.3 337.4,1277.9 338.2,1278.4 339,1277.8 339.8,1277 340.6,1277 341.4,1276.7 342.2,1276.7 343,1275.6 343.8,1274.6 344.6,1274.7 345.4,1272.8 346.2,1272.8 347,1273.3 347.8,1273.4 348.6,1273.6 349.4,1270.6 350.2,1269.5 351,1268 351.8,1267.4 352.6,1265.4 353.4,1263.9 354.2,1264 355,1263 355.8,1260.9 356.6,1257.8 357.4,1257 358.1,1255.4 358.9,1254 359.7,1250.9 360.5,1246.7 361.3,1243.4 362.1,1241 362.9,1237.8 363.3,1236 363.7,1233.6 364,1232.4 364.4,1229.7 364.8,1228.3 365.1,1226.1 365.5,1223.6 365.9,1220 366.2,1217.3 366.6,1214 367,1211.2 367.3,1208.6 367.7,1205.7 368.1,1201.1 368.4,1197.7 368.8,1194.1 369.2,1189.6 369.5,1185.7 369.9,1183.1 370.2,1178.6 370.6,1174.8 371,1171.4 371.3,1166.9 371.7,1163.1 372.1,1159.6 372.4,1154.6 372.8,1151.2 373.2,1148.6 373.5,1144.4 373.9,1140.9 374.3,1138.2 374.6,1135.5 375,1132.5 375.4,1129.7 375.7,1128.7 376.1,1125.9 376.5,1126 376.8,1126.1 377.2,1125.5 377.6,1126.7 377.9,1128.5 378.3,1127.8 378.6,1130 379,1131.6 379.4,1135.1 379.7,1137.9 380.1,1142 380.5,1145.1 380.8,1148.8 381.2,1152.7 381.6,1156.5 381.9,1160.4 382.3,1165.2 382.7,1168.7 383,1172.2 383.4,1175.5 383.8,1180 384.1,1182.6 384.5,1187.7 384.9,1191 385.2,1195.4 385.6,1197.9 386,1201.1 386.3,1204.2 386.7,1208.2 387.1,1211.3 387.4,1213.3 387.8,1215.2 388.1,1218.3 388.5,1219.6 388.9,1222 389.2,1225.3 389.6,1227.5 390,1228.8 390.3,1229.9 390.7,1232.1 391.1,1234.4 391.4,1235.4 392.2,1238.7 393,1242.6 393.8,1245.4 394.6,1245.9 395.4,1248.7 396.2,1250.5 397,1252.6 397.8,1254 398.6,1255.1 399.4,1255.4 400.2,1256.7 401,1258.4 401.8,1259.2 402.6,1260.3 403.4,1260.8 404.2,1260.9 405,1262.7 405.8,1262.6 406.6,1262.8 407.4,1264.1 408.2,1263.7 409,1263.1 409.8,1263.8 410.6,1264.2 411.4,1264.5 412.2,1264.9 413,1265.2 413.8,1265.9 414.6,1266.6 415.4,1267.2 416.2,1266.9 417,1267.9 417.8,1268.1 418.6,1268.6 419.4,1269.5 420.2,1268 421,1268.1 421.8,1269.4 422.6,1268.6 423.4,1267.9 424.2,1267.3 425,1267.9 425.8,1267.6 426.6,1267.5 427.4,1269.1 428.2,1269.2 429,1269.3 429.8,1270.1 430.6,1271.1 431.4,1270.7 432.2,1270.5 433,1269.4 433.8,1271.2 434.6,1271.3 435.4,1271 436.2,1270.9 437,1271.2 437.8,1270.3 438.6,1270.1 439.4,1270.4 440.2,1269.8 441,1270.3 441.8,1271 442.6,1271.3 443.4,1272.8 444.2,1272.4 445,1271.8 445.8,1273.1 446.6,1271.9 447.4,1272.4 448.2,1272.9 449,1272.1 449.8,1271 450.6,1271.5 451.4,1273 452.2,1273.1 453,1273.5 453.8,1273.2 454.6,1271.5 455.4,1272.2 456.2,1270.7 457,1270.9 457.8,1272 458.5,1271.2 459.3,1271.4 460.1,1272.3 460.9,1270.9 461.7,1270.5 462.5,1271.5 463.3,1270.5 464.1,1269.5 464.9,1269.2 465.7,1267.6 466.1,1268.3 466.5,1267.8 466.8,1266.9 467.2,1266.2 467.6,1265.7 467.9,1264.8 468.3,1263.9 468.7,1262.7 469,1263.1 469.4,1262 469.8,1260.8 470.1,1260.6 470.5,1260.2 470.9,1260.7 471.2,1259.1 471.6,1257.3 472,1256 472.3,1256.5 472.7,1255.4 473,1253.3 473.4,1252.3 473.8,1250.9 474.1,1250.5 474.5,1249.9 474.9,1248.8 475.2,1247.9 475.6,1247.3 476,1246.8 476.3,1246.4 476.7,1245.3 477.1,1243 477.4,1241.7 477.8,1241.5 478.2,1240.7 478.5,1242.1 478.9,1241.6 479.3,1241.1 479.6,1242.4 480,1241.6 480.4,1241.7 480.7,1242.7 481.1,1242.7 481.4,1243.1 481.8,1243.3 482.2,1243.2 482.5,1243.6 482.9,1243.9 483.3,1244.4 483.6,1246 484,1247.5 484.4,1247.8 484.7,1248.6 485.1,1250.3 485.5,1250.9 485.8,1252 486.2,1254.5 486.6,1256.5 486.9,1256.8 487.3,1257.7 487.7,1259.1 488,1260.1 488.4,1261.1 488.8,1261.9 489.1,1262.2 489.5,1263.2 489.8,1263.1 490.2,1265 490.6,1266 490.9,1266.1 491.3,1267.1 491.7,1268.8 492,1269.5 492.4,1269.8 492.8,1269.3 493.1,1269.6 493.5,1271 493.9,1272 494.2,1272.6 494.6,1272.8 495.4,1273.6 496.2,1275.2 497,1276.7 497.8,1277.1 498.6,1277 499.4,1277 500.2,1277.7 501,1279.2 501.8,1280.6 502.6,1281.2 503.4,1281.5 504.2,1281.5 505,1280.6 505.8,1280.9 506.6,1281 507.4,1282.5 508.2,1284.2 509,1283.4 509.8,1283.5 510.6,1283.7 511.4,1284.9 512.2,1284.3 513,1283.8 513.8,1284.8 514.6,1284 515.4,1285.1 516.2,1284.7 517,1285.5 517.8,1284.2 518.6,1285.6 519.4,1284.5 520.2,1283.4 521,1284.1 521.8,1284.7 522.6,1286.5 523.4,1285.4 524.2,1285.9 525,1286.7 525.8,1286.2 526.6,1285.6 527.4,1286.4 528.2,1286.2 529,1287.8 529.8,1287.6 530.6,1287 531.4,1286.9 532.1,1285.8 532.9,1285 533.7,1286.5 534.5,1285.3 536.5,1286.6 538.4,1286.6 540.4,1286.7 542.3,1287.5 544.2,1287.4 546.2,1288 548.1,1286.8 550.1,1286.4 552,1287.4 554,1287.5 555.9,1287.2 557.8,1286.6 559.8,1287.4 561.7,1287.8 563.7,1287.6 565.6,1289.3 567.5,1288.3 569.5,1288 571.4,1288.1 573.4,1288.1 575.3,1287.5 577.2,1287.7 579.2,1287.1 581.1,1287.5 583.1,1289 585,1289.7 586.9,1289.5 588.9,1288.1 590.8,1287.1 592.8,1288.3 594.7,1289.4 596.6,1289.7 598.6,1288.9 600.5,1289 602.5,1288.4 604.4,1287.1 606.3,1287.5 608.3,1287.6 610.2,1287.5 612.2,1288.5 614.1,1288.8 616,1288.2 618,1288.2 619.9,1287.9 621.9,1288.2 623.8,1288.3 625.7,1287.8 627.7,1288.5 629.6,1287.9 631.6,1288.6 633.5,1288.4 635.4,1287.7 637.4,1288.2 639.3,1288 641.3,1287.9 643.2,1288.5 645.2,1288.6 647.1,1287.6 649,1287.8 651,1287.6 652.9,1287.5 654.9,1288.3 656.8,1289.1 658.7,1288.8 660.7,1288.8 662.6,1288.1 664.6,1287.4 666.5,1286.2 668.4,1286.7 670.4,1287.2 672.3,1286.7 674.3,1287.6 676.2,1288.4 678.1,1289.4 680.1,1289.5 682,1288.8 684,1288.1 685.9,1287.4 687.8,1287.8 689.8,1289.1 691.7,1288.4 693.7,1287.9 695.6,1288.9 697.5,1288.5 699.5,1288.9 701.4,1288.7 703.4,1287.4 705.3,1288 707.2,1288.8 709.2,1288.2 711.1,1287.4 713.1,1287.8 715,1288.5 716.9,1287.7 718.9,1287.5 720.8,1288.5 722.8,1288.3 724.7,1288.5 726.6,1287.4 728.6,1287.9 730.5,1287.9 732.5,1287.8 734.4,1287.9 736.4,1288.1 738.3,1286.2 740.2,1286.7 742.2,1287.3 744.1,1286.7 746.1,1284.9 748,1285.1 749.9,1285.9 751.9,1285.6 753.8,1284.9 754.6,1284.1 755.4,1285.4 756.2,1285.4 757,1286.3 757.8,1285.9 758.6,1285.4 759.4,1286.6 760.2,1286.9 761,1286.3 761.8,1286.2 762.6,1285.3 763.4,1284.7 764.2,1286 765,1285.2 765.8,1284.3 766.6,1285.5 767.4,1284.4 768.2,1282.6 769,1284 769.8,1285 770.6,1283 771.4,1282.5 772.2,1281.7 773,1281.4 773.8,1281.7 774.6,1283 775.4,1281.9 776.2,1281.8 777,1281.6 777.8,1282 778.6,1281.8 779.4,1281.8 780.2,1281.2 781,1280.1 781.8,1280.3 782.6,1280.1 783.4,1279.4 784.2,1278.6 785,1278.5 785.8,1276.2 786.6,1276.9 787.4,1276.9 788.2,1275.2 789,1274.6 789.8,1272.7 790.6,1271.1 791.4,1270.8 792.2,1268.7 793,1268.8 793.8,1266.6 794.1,1266.1 794.5,1266.3 794.9,1265.4 795.2,1264.9 795.6,1265.1 796,1264 796.3,1261.5 796.7,1260.1 797.1,1259.4 797.4,1260 797.8,1257.3 798.1,1256.7 798.5,1255 798.9,1254.6 799.2,1252.2 799.6,1250.6 800,1247.9 800.3,1246.5 800.7,1246.2 801.1,1243.8 801.4,1243.4 801.8,1240.6 802.2,1240.6 802.5,1240.1 802.9,1238.3 803.3,1235.8 803.6,1234.2 804,1231.2 804.4,1228.7 804.7,1228.1 805.1,1226.9 805.5,1225.4 805.8,1224.5 806.2,1222.5 806.5,1220.9 806.9,1220.1 807.3,1219 807.6,1217.8 808,1219.4 808.4,1218.5 808.7,1218.2 809.1,1218.4 809.5,1220.2 809.8,1220.1 810.2,1221 810.6,1221.7 810.9,1222.6 811.3,1224.8 811.7,1226.3 812,1226.7 812.4,1228.9 812.8,1230.8 813.1,1232.3 813.5,1233 813.9,1234.1 814.2,1236 814.6,1236.8 814.9,1237.9 815.3,1241.1 815.7,1243 816,1245.1 816.4,1245.9 816.8,1247.8 817.1,1249.3 817.5,1250.8 817.9,1252.3 818.2,1253.3 818.6,1255.7 819,1255.8 819.3,1257.8 819.7,1257.9 820.1,1259.7 820.4,1260.8 820.8,1261.3 821.2,1263 821.5,1263.9 821.9,1264.6 822.3,1266.4 822.6,1267 823,1268.3 823.4,1268.7 823.7,1268.8 824.5,1270 825.3,1270.5 826.1,1271.9 826.9,1273.1 827.7,1273.9 828.5,1274.9 829.3,1276.7 830.1,1277 830.9,1277.6 831.7,1277.8 832.5,1279.3 833.3,1278.9 834.1,1279.4 834.9,1278.7 835.7,1280.4 836.5,1280.8 837.3,1281 838.1,1281.4 838.9,1280.4 839.7,1279.9 840.5,1281.2 841.3,1281.6 842.1,1282.3 842.9,1282.7 843.7,1284.5 844.5,1284.3 845.3,1283.4 846.1,1283.5 846.9,1283.8 847.7,1283.9 848.5,1285.4 849.3,1284.6 850.1,1284.3 850.9,1283.7 851.7,1283.6 852.5,1284.8 853.3,1284.9 854.1,1285.9 854.9,1285 855.7,1285.4 856.5,1285.7 857.3,1286.3 858.1,1286.5 858.9,1286.5 859.7,1286.6 860.5,1286.8 861.3,1286.1 862.1,1285.1 862.9,1285.2 863.7,1285.1 864.5,1284 865.3,1285.7 867.2,1284.4 869.1,1284.2 871.1,1284.9 873,1285.9 875,1285.8 876.9,1287 878.8,1287.7 880.8,1286.7 882.7,1286.8 884.7,1287.5 886.6,1286.7 888.5,1286.7 890.5,1286.1 892.4,1286.4 894.4,1286.3 896.3,1286.8 898.3,1286.8 900.2,1287.3 902.1,1288.5 904.1,1287.9 906,1288 908,1287 909.9,1286.5 911.8,1286.4 913.8,1286.8 915.7,1286.4 917.7,1287.8 919.6,1288.3 921.5,1288.3 923.5,1287.9 925.4,1287.9 927.4,1287.9 929.3,1287.4 931.2,1287.4 933.2,1288 935.1,1287.8 937.1,1287.7 939,1288.3 940.9,1287.4 942.9,1287.2 944.8,1286.4 946.8,1286.4 948.7,1286.1 950.6,1285.9 952.6,1286.2 953.4,1286.6 954.2,1286.2 955,1287 955.8,1286.7 956.6,1286.5 957.4,1286.3 958.2,1286.2 959,1286.4 959.8,1287.7 960.6,1287 961.4,1285.8 962.2,1285.9 963,1285.7 963.8,1285.2 964.6,1285 965.4,1285.2 966.2,1285.5 967,1285.1 967.8,1285.4 968.6,1284.5 969.4,1283.8 970.2,1283.1 971,1283.8 971.8,1284.9 972.6,1284.5 973.4,1283.7 974.2,1284.4 975,1283.8 975.8,1284.4 976.6,1284.7 977.4,1284.1 978.2,1284.7 978.9,1283.6 979.7,1283.6 980.5,1283.4 981.3,1282.9 982.1,1282.9 982.9,1284 983.7,1283.3 984.5,1283.3 985.3,1282.6 986.1,1281.4 986.9,1280.7 987.7,1280 988.5,1278.4 989.3,1279.6 990.1,1278.2 990.9,1278.5 991.7,1278 992.5,1277 993.3,1276.8 994.1,1275.9 994.9,1275 995.7,1272.8 996.1,1272.3 996.5,1272.1 996.8,1272.1 997.2,1271.1 997.6,1270.2 997.9,1269.6 998.3,1269.1 998.7,1268.8 999,1267.1 999.4,1265.5 999.7,1266.1 1000.1,1264.8 1000.5,1263.8 1000.8,1262.3 1001.2,1261.7 1001.6,1262.2 1001.9,1260.4 1002.3,1259.2 1002.7,1257.6 1003,1256.1 1003.4,1255.7 1003.8,1254.3 1004.1,1253.4 1004.5,1252.7 1004.9,1250.6 1005.2,1249 1005.6,1249 1006,1247.1 1006.3,1246.5 1006.7,1245 1007.1,1243.9 1007.4,1242.6 1007.8,1242.5 1008.1,1241 1008.5,1241.3 1008.9,1241.3 1009.2,1239.7 1009.6,1239.4 1010,1239.5 1010.3,1239.3 1010.7,1239.1 1011.1,1238.2 1011.4,1237.4 1011.8,1239.2 1012.2,1240.4 1012.5,1239.7 1012.9,1239.8 1013.3,1240.5 1013.6,1240.7 1014,1241.6 1014.4,1242.9 1014.7,1243.1 1015.1,1244.8 1015.5,1246.8 1015.8,1248 1016.2,1248.5 1016.5,1249.7 1016.9,1251.9 1017.3,1252.5 1017.6,1253.1 1018,1254.3 1018.4,1255.2 1018.7,1255.9 1019.1,1257.6 1019.5,1258.5 1019.8,1259.7 1020.2,1261.6 1020.6,1262.6 1020.9,1263.9 1021.3,1263.7 1021.7,1263.2 1022,1264.7 1022.4,1266.8 1022.8,1267.5 1023.1,1268.6 1023.5,1269.7 1023.9,1270.3 1024.2,1269.5 1024.6,1270.2 1024.9,1269.6 1025.3,1270.9 1025.7,1271.5 1026,1272.7 1026.4,1272.7 1026.8,1272.2 1027.6,1273.2 1028.4,1274.6 1029.2,1276.3 1030,1276.7 1030.8,1277.3 1031.6,1277.9 1032.4,1278.9 1033.2,1279.6 1034,1279.9 1034.8,1281.2 1035.6,1281.3 1036.4,1281.5 1037.2,1282 1038,1281.5 1038.8,1281.2 1039.6,1281.4 1040.4,1282.4 1041.2,1283.4 1042,1281.8 1042.8,1283 1043.6,1283.7 1044.4,1284.7 1045.2,1283.2 1046,1283.7 1046.8,1284.8 1047.5,1283.8 1048.3,1283.2 1049.1,1284.5 1049.9,1285.5 1050.7,1284.7 1051.5,1285.4 1052.3,1285.1 1053.1,1284.8 1053.9,1283.9 1054.7,1284.5 1055.5,1285.5 1056.3,1285.2 1057.1,1284.8 1057.9,1283.6 1058.7,1284.2 1059.1,1284.5 1059.5,1284.8 1059.8,1284.5 1060.2,1285.2 1060.6,1284.8 1060.9,1284.3 1061.3,1283.9 1061.7,1283.1 1062,1284.6 1062.4,1284.6 1062.8,1285.1 1063.1,1284.7 1063.5,1284.2 1063.8,1284.8 1064.2,1284.9 1064.6,1283.9 1064.9,1284.8 1065.3,1284.6 1065.7,1284.9 1066,1283.1 1066.4,1283.7 1066.8,1284 1067.1,1283.6 1067.5,1284.1 1067.9,1283.9 1068.2,1283.5 1068.6,1283.1 1069,1283.8 1069.3,1283.2 1069.7,1283.6 1070.1,1284.4 1070.4,1283.6 1070.8,1283.5 1071.2,1283.4 1071.5,1282.9 1071.9,1282.5 1072.3,1283 1072.6,1281.1 1073,1281.7 1073.3,1282.4 1073.7,1282 1074.1,1283 1074.4,1283.3 1074.8,1282.9 1075.2,1282.3 1075.5,1283.6 1075.9,1283 1076.3,1283.5 1076.6,1283.5 1077,1283.5 1077.4,1284.6 1077.7,1284.3 1078.1,1283.1 1078.5,1282.4 1078.8,1283.5 1079.2,1283.3 1079.6,1283.8 1079.9,1284.5 1080.3,1283.8 1080.7,1284.5 1081,1285.8 1081.4,1286 1081.7,1285.3 1082.1,1283.6 1082.5,1285.1 1082.8,1286.4 1083.2,1285.9 1083.6,1285.3 1083.9,1285.1 1084.3,1285.6 1084.7,1285.2 1085,1285.9 1085.4,1285.7 1085.8,1284.2 1086.1,1284.4 1086.5,1285.2 1086.9,1285 1087.2,1286 1087.6,1285.8 1088,1285.1 1088.3,1286.9 1088.7,1287.5 1089.1,1286.5 1089.4,1286.3 1089.8,1285.2 1090.6,1286 1091.4,1285.9 1092.2,1287.3 1093,1286.9 1093.8,1287.1 1094.6,1287.4 1095.4,1286.9 1096.2,1286.7 1097,1286.5 1097.8,1287.4 1098.6,1287.7 1099.4,1287.2 1100.2,1288.2 1101,1287.1 1101.8,1286.8 1102.6,1286.2 1103.4,1286.6 1104.2,1285.8 1105,1287.4 1105.8,1288.1 1106.6,1288.3 1107.4,1287.7 1108.2,1287.2 1109,1286.6 1109.8,1287.5 1110.6,1287.7 1111.4,1287.4 1112.2,1288.1 1113,1287.6 1113.8,1287.3 1114.6,1287.5 1115.4,1287.8 1116.1,1287.5 1116.9,1287.8 1117.7,1287.8 1118.5,1287.9 1119.3,1287.4 1120.1,1287.7 1120.9,1288.7 1121.7,1287.7 1122.5,1288 1123.3,1287.3 1124.1,1287.6 1124.9,1289.1 1125.7,1289.9 1126.5,1289.3 1127.3,1289 1128.1,1289.4 1128.9,1288.3 1129.7,1289.3 1130.5,1288.4 1131.3,1288.5 1132.1,1287.7 1132.9,1289.1 1133.7,1288 1135.7,1289.1 1137.6,1288.4 1139.5,1288.6 1141.5,1288.3 1143.4,1288 1145.4,1287.9 1147.3,1288.4 1149.3,1287.7 1151.2,1287.6 1153.1,1288.8 1155.1,1289 1157,1289.1 1159,1288.2 1160.9,1287.7 1162.8,1287.7 1164.8,1287.7 1166.7,1288.6 1168.7,1287.8 1170.6,1287.4 1172.5,1287.6 1174.5,1288.2 1176.4,1288.1 1178.4,1288.6 1180.3,1288.6 1182.2,1288.1 1184.2,1288.4 1186.1,1288.5 1188.1,1287.6 1190,1289 1191.9,1288.4 1193.9,1287.6 1195.8,1287.4 1197.8,1288.7 1199.7,1288.6 1201.6,1289 1203.6,1289.5 1205.5,1288.6 1207.5,1288 1209.4,1287.9 1211.3,1287.2 1213.3,1289 1215.2,1288.2 1217.2,1288.8 1219.1,1287.4 1221,1288.2 1223,1288.3 1224.9,1287.8 1226.9,1288.2 1228.8,1287.7 1230.7,1287.7 1232.7,1288 1234.6,1289.1 1236.6,1288.1 1238.5,1287.3 1240.5,1288.3 1242.4,1287.9 1244.3,1288.1 1246.3,1288.9 1248.2,1289.7 1249,1288 1249.8,1289.4 1250.6,1288.9 1251.4,1288.4 1252.2,1288.6 1253,1288.9 1253.8,1289.4 1254.6,1289.2 1255.4,1290 1256.2,1290.7 1257,1289.6 1257.8,1288.9 1258.6,1288.4 1259.4,1287 1260.2,1286.9 1261,1287.5 1261.8,1288.5 1262.6,1288.5 1263.4,1288.3 1264.2,1287.7 1265,1287.9 1265.8,1288.4 1266.6,1287.7 1267.4,1288.5 1268.2,1288.3 1269,1288.7 1269.8,1288.1 1270.6,1287.6 1271.4,1288.5 1272.2,1287.7 1273,1288.1 1273.8,1288.4 1274.6,1288.6 1275.4,1288.9 1276.2,1289.9 1277,1290.2 1277.8,1289.1 1278.6,1289.4 1279.4,1288.7 1280.2,1288.2 1281,1287.8 1281.8,1288.8 1282.6,1288.5 1283.4,1288.4 1284.2,1287.9 1285,1288.2 1285.8,1287.1 1286.6,1287.7 1287.4,1287.5 1288.2,1288.1 1289,1288.2 1289.8,1288.3 1290.6,1288.4 1291.4,1289.1 1292.2,1287.6 1293,1287.7 1293.3,1287.8 1293.7,1289.1 1294.1,1288.4 1294.4,1288.8 1294.8,1288.4 1295.1,1287.6 1295.5,1288 1295.9,1288.3 1296.2,1287.8 1296.6,1287.5 1297,1287 1297.3,1287.2 1297.7,1286.8 1298.1,1286.2 1298.4,1287.4 1298.8,1287.6 1299.2,1287.2 1299.5,1286.1 1299.9,1285.2 1300.3,1285.3 1300.6,1284.8 1301,1285.7 1301.4,1285 1301.7,1285.5 1302.1,1285.1 1302.5,1285 1302.8,1285.7 1303.2,1285.7 1303.5,1285 1303.9,1284.3 1304.3,1285.5 1304.6,1285 1305,1284.2 1305.4,1284.4 1305.7,1283.6 1306.1,1283.3 1306.5,1284 1306.8,1283.9 1307.2,1284.7 1307.6,1284.7 1307.9,1285.2 1308.3,1283.2 1308.7,1284.2 1309,1283.6 1309.4,1284.3 1309.8,1283.9 1310.1,1283.7 1310.5,1284.7 1310.9,1284.8 1311.2,1283.2 1311.6,1283.7 1312,1283.9 1312.3,1283.8 1312.7,1283.4 1313,1283 1313.4,1282.9 1313.8,1284.3 1314.1,1284.8 1314.5,1284.5 1314.9,1284.2 1315.2,1285.6 1315.6,1285.5 1316,1286.2 1316.3,1286 1316.7,1286.2 1317.1,1286.4 1317.4,1286.3 1317.8,1285.5 1318.2,1287.4 1318.5,1285.7 1318.9,1286.1 1319.3,1286.9 1319.6,1287.2 1320,1287.2 1320.4,1286.8 1320.7,1287 1321.1,1287.3 1321.4,1287.4 1321.8,1287.5 1322.2,1287.3 1322.5,1287.6 1322.9,1287.7 1323.3,1287.3 1323.6,1287.6 1324,1287.9 1324.4,1287.9 1324.7,1287 1325.1,1287.2 1325.5,1287.6 1325.8,1287.4 1326.2,1288.3 1326.6,1287.4 1327.4,1288.4 1328.2,1287.2 1329,1287.5 1329.8,1287 1330.6,1287.3 1331.4,1288.6 1332.2,1288.4 1333,1288.9 1333.8,1288.4 1334.6,1287.8 1335.3,1287.8 1336.1,1287.8 1336.9,1288 1337.7,1288 1338.5,1288.6 1339.3,1288.4 1340.1,1288.6 1340.9,1289.1 1341.7,1288.4 1342.5,1287.8 1343.3,1289.3 1344.1,1289 1344.9,1288.1 1345.7,1288.2 1346.5,1288.6 1347.3,1288.7 1348.1,1289.2 1348.9,1289 1349.7,1289.1 1350.5,1289.1 1351.3,1289 1352.1,1287.8 1352.9,1289.7 1353.7,1289.5 1354.5,1289 1355.3,1288.8 1356.1,1288.8 1356.9,1288.2 1357.7,1289.1 1358.5,1288.9 1359.3,1289.2 1360.1,1289.6 1360.9,1289.1 1361.7,1289.1 1362.5,1289.2 1363.3,1289 1364.1,1289.3 1364.9,1289.5 1365.7,1289.5 1366.5,1289.5 1367.3,1289.5 1368.1,1289.6 1368.9,1289.1 1369.7,1289.1 1370.5,1289.5 1371.3,1289.6 1372.1,1290.2 1372.9,1290.1 1374.8,1289.1 1376.8,1288.9 1378.7,1289.3 1380.7,1288.9 1382.6,1289.1 1384.5,1289.7 1386.5,1290.1 1388.4,1289.4 1390.4,1289.2 1392.3,1288.6 1394.2,1289.5 1396.2,1288.6 1398.1,1289.8 1400.1,1290.7 1402,1290 1403.9,1288.1 1405.9,1288.5 1407.8,1288.9 1409.8,1289.3 1410.6,1289.4 1411.4,1289.3 1412.2,1289.3 1413,1288.1 1413.8,1289.7 1414.6,1288.7 1415.4,1288.9 1416.2,1287.9 1417,1289.2 1417.8,1289.5 1418.6,1289.6 1419.4,1289.6 1420.2,1289.6 1421,1289.6 1421.8,1289.3 1422.6,1289.4 1423.4,1289.5 1424.2,1288.4 1425,1289.1 1425.8,1290.3 1426.5,1289.7 1427.3,1289 1428.1,1288.4 1428.9,1289.2 1429.7,1289.2 1430.5,1288.6 1431.3,1289 1432.1,1288.3 1432.9,1288.6 1433.7,1288.6 1434.5,1287.8 1435.3,1288.1 1436.1,1287.9 1436.9,1288 1437.7,1288.1 1438.5,1287.6 1439.3,1289.2 1440.1,1289.5 1440.9,1289.9 1441.7,1288.7 1442.5,1287.9 1443.3,1287.5 1444.1,1288.3 1444.9,1287.8 1445.7,1287 1446.5,1287.8 1447.3,1288.4 1448.1,1288 1448.9,1287.1 1449.7,1286.4 1450.5,1286.4 1451.3,1287.3 1452.1,1287.2 1452.9,1287.2 1453.7,1287.6 1454.5,1287 1455.3,1286.1 1456.1,1286.7 1456.9,1285.7 1457.7,1285.9 1458.5,1286.1 1458.9,1285.4 1459.2,1285.5 1459.6,1285.3 1460,1284.1 1460.3,1284.7 1460.7,1285.3 1461.1,1284.8 1461.4,1285.4 1461.8,1285.5 1462.2,1284.6 1462.5,1283.4 1462.9,1283.5 1463.3,1282.6 1463.6,1283.1 1464,1281.6 1464.4,1282.7 1464.7,1282.8 1465.1,1281.6 1465.4,1283.4 1465.8,1283.2 1466.2,1282.1 1466.5,1281.5 1466.9,1281.5 1467.3,1281.7 1467.6,1281.3 1468,1281.8 1468.4,1279.4 1468.7,1279 1469.1,1280.3 1469.5,1279.5 1469.8,1279 1470.2,1278.4 1470.6,1278.8 1470.9,1278.1 1471.3,1278.7 1471.7,1276.8 1472,1277 1472.4,1276.3 1472.8,1275.9 1473.1,1275.4 1473.5,1277.4 1473.9,1277.5 1474.2,1277.4 1474.6,1276.2 1474.9,1276.7 1475.3,1277 1475.7,1277 1476,1277.9 1476.4,1278.5 1476.8,1277.5 1477.1,1277.5 1477.5,1277.2 1477.9,1276.8 1478.2,1277.5 1478.6,1278.3 1479,1278.9 1479.3,1279.1 1479.7,1278.1 1480.1,1278.3 1480.4,1278.2 1480.8,1278.5 1481.2,1278.3 1481.5,1279.2 1481.9,1278.5 1482.3,1279.2 1482.6,1278.4 1483,1279 1483.3,1281.2 1483.7,1280.8 1484.1,1280.5 1484.4,1281 1484.8,1281.6 1485.2,1282.1 1485.5,1281 1485.9,1282 1486.3,1283.1 1486.6,1282.8 1487,1283.2 1487.4,1283.2 1487.7,1281.8 1488.1,1283.6 1488.5,1283.8 1488.8,1284.1 1489.2,1284.2 1489.6,1284.4 1489.9,1285.1 1490.3,1285.3 1490.7,1284.9 1491,1284.8 1491.4,1286 1491.7,1285.3 1492.1,1285.1 1492.5,1284.1 1492.8,1284.5 1493.2,1284.4 1494,1285.3 1494.8,1285.5 1495.6,1286.3 1496.4,1287.3 1497.2,1286.6 1498,1285.7 1498.8,1286.6 1499.6,1287.9 1500.4,1287 1501.2,1288.8 1502,1287.6 1502.8,1287 1503.6,1286.1 1504.4,1287.1 1505.2,1286.7 1506,1285.8 1506.8,1285.9 1507.6,1286.6 1508.4,1285.4 1509.2,1285.4 1510,1285.7 1510.8,1284.7 1511.6,1285.7 1512,1286.1 1512.3,1284.5 1512.7,1284.6 1513,1284.6 1513.4,1285 1513.8,1285 1514.1,1283.7 1514.5,1284.5 1514.9,1285.5 1515.2,1284.7 1515.6,1283.9 1516,1283.1 1516.3,1283.4 1516.7,1283.7 1517.1,1283.6 1517.4,1283.4 1517.8,1283.7 1518.2,1284.7 1518.5,1283.2 1518.9,1283.2 1519.3,1283.8 1519.6,1283.6 1520,1282.5 1520.4,1282.5 1520.7,1282.6 1521.1,1281.5 1521.4,1282 1521.8,1283.9 1522.2,1283.7 1522.5,1283.4 1522.9,1282.8 1523.3,1282 1523.6,1280.7 1524,1280.7 1524.4,1280.7 1524.7,1280.8 1525.1,1281.2 1525.5,1280.1 1525.8,1279.4 1526.2,1279.1 1526.6,1279.4 1526.9,1279.3 1527.3,1279.7 1527.7,1279.3 1528,1277.9 1528.4,1278.4 1528.8,1278 1529.1,1278 1529.5,1279 1529.8,1279.6 1530.2,1279.7 1530.6,1278.3 1530.9,1278.5 1531.3,1279.8 1531.7,1279.9 1532,1279.3 1532.4,1279.6 1532.8,1279.4 1533.1,1279.5 1533.5,1280.2 1533.9,1278.7 1534.2,1279.2 1534.6,1281.2 1535,1281.9 1535.3,1281.3 1535.7,1281.7 1536.1,1281.7 1536.4,1281.4 1536.8,1281.6 1537.2,1281.1 1537.5,1280.8 1537.9,1281.7 1538.2,1282.4 1538.6,1283.5 1539,1282.7 1539.3,1283.2 1539.7,1282.9 1540.1,1283.7 1540.4,1285.4 1540.8,1285.2 1541.2,1285.7 1541.5,1285 1541.9,1286.3 1542.3,1286 1542.6,1287.1 1543,1286 1543.4,1285.8 1543.7,1285.8 1544.1,1286.4 1544.5,1287.1 1544.8,1287.1 1545.2,1286.8 1545.6,1287 1545.9,1286.7 1546.3,1286.4 1546.7,1287.8 1547,1287.5 1547.4,1287.6 1548.2,1288 1549,1287.8 1549.8,1287.5 1550.6,1286.7 1551.4,1287.6 1552.2,1288.3 1553,1288.1 1553.8,1287.4 1554.6,1288.1 1555.4,1289.4 1556.2,1288.4 1557,1288.4 1557.8,1288.9 1558.6,1289 1559.4,1289.2 1560.2,1289.4 1561,1288.3 1561.8,1287.8 1562.6,1288.1 1563.4,1289.2 1564.2,1290.2 1565,1289.3 1565.8,1289.9 1566.6,1289.8 1567.4,1289.6 1568.2,1289.9 1569,1289.6 1569.8,1288.8 1570.6,1289.8 1571.4,1288.6 1572.2,1289 1572.9,1289 1573.7,1288.8 1574.5,1289.2 1575.3,1289.4 1576.1,1290.7 1576.9,1290.8 1577.7,1290 1578.5,1289.8 1579.3,1289.9 1580.1,1290.3 1580.9,1290.9 1581.7,1291.4 1582.5,1291.8 1583.3,1290.6 1584.1,1290.4 1584.9,1288.8 1585.7,1290.5 1586.5,1290.3 1587.3,1288.6 1588.1,1289.5 1588.9,1290.2 1589.7,1289.6 1590.5,1289.7 1591.3,1290 1592.1,1289.2 1592.9,1290.6 1593.7,1290.2 1594.5,1290.2 1595.3,1291.4 1596.1,1290.4 1596.9,1291.2 1598.9,1290.8 1600.8,1289.5 1602.7,1289.6 1604.7,1288.8 1606.6,1288.9 1608.6,1290 1610.5,1289.6 1612.4,1290.2 1614.4,1289.6 1616.3,1290.8 1618.3,1289.9 1620.2,1290 1622.1,1290.7 1624.1,1291 1626,1289.3 1628,1290.2 1629.9,1289.2 1631.8,1290.4 1633.8,1290.3 1635.7,1291 1637.7,1291.3 1639.6,1290.5 1641.5,1290.4 1643.5,1290.2 1645.4,1291 1647.4,1292.1 1649.3,1291.1 1651.3,1291.4 1653.2,1290.3 1655.1,1290.9 1657.1,1291.2 1659,1291.3 1661,1290.2 1662.9,1291.3 1664.8,1292.1 1666.8,1292 1668.7,1291.3 1670.7,1289.9 1671.5,1289.6 1672.3,1289.4 1673.1,1291.8 1673.9,1290 1674.7,1290.5 1675.4,1290.5 1676.2,1291.8 1677,1291.9 1677.8,1291.7 1678.6,1291.2 1679.4,1290.9 1680.2,1290.1 1681,1290 1681.8,1289.1 1682.6,1289.9 1683.4,1289.5 1684.2,1289.7 1685,1290.8 1685.8,1290.6 1686.6,1290.7 1687.4,1290.5 1688.2,1289.3 1689,1290.2 1689.8,1290.3 1690.6,1289.6 1691.4,1288.9 1692.2,1289.6 1693,1289.2 1693.8,1288.9 1694.6,1289.3 1695.4,1288.2 1696.2,1289.6 1697,1288.5 1697.8,1289.5 1698.6,1289.6 1699.4,1290.3 1700.2,1290.2 1701,1288.9 1701.8,1290 1702.6,1288.8 1703.4,1289.7 1704.2,1291.5 1705,1290.5 1705.8,1290.8 1706.6,1290.1 1707.4,1289.9 1708.2,1288.6 1709,1288.4 1709.8,1289.5 1710.6,1289.1 1711.4,1289.2 1712.2,1289.5 1713,1289 1713.8,1289.6 1714.6,1289.2 1715.4,1288.6 1716.2,1288.3 1717,1288.6 1717.8,1287.6 1718.6,1288.5 1719.4,1288.5 1720.2,1287.9 1721,1287.8 1721.8,1287.4 1722.6,1287.5 1723.4,1287.7 1723.8,1287.6 1724.1,1286.4 1724.5,1285.9 1724.9,1286 1725.2,1287.2 1725.6,1287.6 1725.9,1286.9 1726.3,1286.7 1726.7,1286.8 1727,1287.1 1727.4,1287.7 1727.8,1286.7 1728.1,1286 1728.5,1286.1 1728.9,1285.6 1729.2,1285.1 1729.6,1284.8 1730,1285.7 1730.3,1285.1 1730.7,1284.5 1731.1,1284.2 1731.4,1284.8 1731.8,1284.8 1732.2,1283.7 1732.5,1283.7 1732.9,1283.5 1733.3,1282.9 1733.6,1283.5 1734,1282.5 1734.3,1282.2 1734.7,1282.8 1735.1,1281.5 1735.4,1281.7 1735.8,1282.1 1736.2,1281.7 1736.5,1281.2 1736.9,1280.2 1737.3,1280.9 1737.6,1279.7 1738,1280.2 1738.4,1279.8 1738.7,1280.8 1739.1,1280.3 1739.5,1280.5 1739.8,1279.6 1740.2,1280.5 1740.6,1279.4 1740.9,1279.7 1741.3,1280 1741.7,1279.6 1742,1279.4 1742.4,1279.4 1742.7,1279.6 1743.1,1279.8 1743.5,1279.7 1743.8,1279.6 1744.2,1279 1744.6,1279.2 1744.9,1279.7 1745.3,1279.1 1745.7,1279 1746,1280.5 1746.4,1280.1 1746.8,1280.4 1747.1,1280.8 1747.5,1281.6 1747.9,1281.7 1748.2,1281.8 1748.6,1282 1749,1281.6 1749.3,1282.4 1749.7,1282.6 1750.1,1281.5 1750.4,1281 1750.8,1282.2 1751.1,1282.7 1751.5,1283.6 1751.9,1283.4 1752.2,1283.4 1752.6,1283.8 1753,1284.5 1753.3,1284.8 1753.7,1285.6 1754.1,1284.8 1754.4,1284.9 1754.8,1285.7 1755.2,1285.9 1755.5,1286.3 1755.9,1286.1 1756.3,1286.1 1756.6,1286.8 1757,1285.9 1757.4,1287.2 1757.7,1285.9 1758.1,1286 1758.5,1287.1 1758.8,1287.3 1759.2,1286.3 1759.6,1287.6 1759.9,1287.3 1760.3,1286.2 1760.6,1286.2 1761,1286.2 1761.4,1286.1 1761.7,1287 1762.5,1286.9 1763.3,1288.9 1764.1,1288.6 1764.9,1287.9 1765.7,1288.7 1766.5,1288.9 1767.3,1288.4 1768.1,1288 1768.9,1287.2 1769.7,1289.1 1770.5,1289.7 1771.3,1288.9 1772.1,1289.9 1772.9,1289.3 1773.7,1287.7 1774.5,1288.1 1775.3,1288.4 1776.1,1289.6 1776.9,1288.3 1777.7,1289.3 1778.5,1289 1779,1290"/>
<polyline fill="none" stroke="#0000ff" stroke-width="7.6" stroke-linejoin="round" stroke-linecap="butt" points="179.3,1926.7 181.2,1926.6 183.2,1927 185.1,1925.5 187.1,1926.3 189,1925 191,1925.5 192.9,1926.4 194.8,1926.3 196.8,1925 198.7,1925.8 200.7,1926.1 202.6,1925.2 204.6,1926.9 206.5,1926.1 208.4,1926.3 210.4,1924.9 212.3,1925.6 214.3,1927.4 216.2,1926.4 218.1,1927 220.1,1926 222,1925.5 224,1925 225.9,1924.8 227.9,1924.9 229.8,1925.1 231.7,1925.8 233.7,1925.2 235.6,1924.6 237.6,1925.1 239.5,1925.2 241.5,1926 243.4,1925.4 245.3,1925.1 247.3,1924.7 249.2,1924.1 251.2,1923.9 253.1,1924.9 255.1,1924.5 257,1925.5 258.9,1925.5 260.9,1925.2 262.8,1924.5 264.8,1924.9 266.7,1925.7 268.6,1925.9 270.6,1924.8 272.5,1925.4 274.5,1925.7 276.4,1925.9 278.4,1925.3 280.3,1925.5 282.2,1925.4 284.2,1924.5 286.1,1924.7 288.1,1924.7 290,1924.1 292,1924.3 293.9,1925.3 295.8,1925.5 297.8,1924.6 299.7,1923.4 301.7,1924.5 303.6,1924.5 305.6,1923.6 307.5,1923.4 309.4,1923.7 311.4,1923.5 313.3,1924.7 315.3,1923.9 317.2,1924.1 319.2,1923.7 321.1,1924.3 323,1923.3 325,1922.9 326.9,1923.2 328.9,1922.5 330.8,1921.6 332.7,1921.4 334.7,1921.4 336.6,1920.3 338.6,1919.8 340.5,1919.9 342.5,1918.4 344.4,1917.9 346.3,1917.2 348.3,1916.2 350.2,1915.2 351,1913.9 351.8,1912.8 352.6,1911.9 353.4,1911 354.2,1911 355,1910.1 355.8,1908 356.6,1906.6 357.4,1904.9 358.2,1903.6 359,1901.5 359.8,1900.9 360.6,1899.3 361.4,1896.4 362.2,1893.9 363,1891.4 363.8,1888.6 364.6,1883.6 365.4,1878.9 366.2,1872.9 367,1865 367.8,1855.3 368.6,1842 369,1836.4 369.4,1829.1 369.7,1822.1 370.1,1812.3 370.5,1802.2 370.8,1791.5 371.2,1780.1 371.5,1768.1 371.9,1755.6 372.3,1741.9 372.6,1727.6 373,1712.4 373.4,1698.5 373.7,1686.8 374.1,1674.8 374.5,1665.1 374.8,1660.1 375.2,1657 375.6,1655.4 375.9,1659.7 376.3,1667.2 376.7,1677.4 377,1688.2 377.4,1701.4 377.8,1715.1 378.1,1731 378.5,1743.7 378.9,1756.9 379.2,1769.9 379.6,1781.8 380,1792.5 380.3,1803.8 380.7,1812.9 381.1,1819.9 381.4,1828.4 381.8,1835.8 382.2,1840.9 383,1853.6 383.8,1863.3 384.6,1870.1 385.4,1875.1 386.2,1880.5 387,1884 387.8,1887 388.6,1889.3 389.4,1891.9 390.2,1895.1 390.9,1897.3 391.7,1898.7 392.5,1900.4 393.3,1900.4 394.1,1901.7 394.9,1900.9 395.7,1903.2 396.5,1904.6 397.3,1905.2 398.1,1905.5 398.9,1906.2 399.7,1906.6 400.5,1906.9 401.3,1908.1 403.3,1909 405.2,1909.9 407.2,1909.7 409.1,1911.3 411.1,1912 413,1911.4 414.9,1912.8 416.9,1912.3 418.8,1911.3 420.8,1910.3 422.7,1911.4 424.7,1913.4 426.6,1913.1 428.5,1912.7 430.5,1913 432.4,1913.1 434.4,1913.8 436.3,1913.6 438.3,1912.2 440.2,1912.9 442.1,1914.5 444.1,1915.1 446,1915.4 448,1914.1 449.9,1914.1 451.8,1915.4 453.8,1915 454.6,1913.9 455.4,1915.8 456.2,1915.1 457,1916.2 457.8,1915.1 458.6,1914.7 459.4,1914.9 460.2,1913.9 461,1912.7 461.8,1912.1 462.6,1912.1 463.4,1911.2 464.2,1912.2 465,1913 465.8,1911.7 466.6,1909.4 467.4,1908.7 468.2,1907.5 469,1905.6 469.8,1903 470.6,1901.4 471.4,1897.9 472.2,1894.1 472.6,1891.3 472.9,1888.8 473.3,1886.6 473.6,1882.7 474,1879.7 474.4,1876.6 474.7,1872.7 475.1,1869.1 475.5,1864.4 475.8,1858.9 476.2,1853.8 476.6,1849.5 476.9,1845.7 477.3,1842 477.7,1839.3 478,1836 478.4,1835.1 478.8,1835.9 479.1,1836.4 479.5,1839 479.9,1840.6 480.2,1845.8 480.6,1849.7 481,1854.6 481.3,1859.1 481.7,1863 482.1,1868.4 482.4,1871.9 482.8,1876.1 483.2,1880.4 483.5,1883.4 483.9,1885.8 484.3,1890.6 484.6,1891.8 485,1894.5 485.3,1896.1 485.7,1898.3 486.5,1901.6 487.3,1905.9 488.1,1907.8 488.9,1910 489.7,1912.4 490.5,1913.6 491.3,1914.9 492.1,1914.9 492.9,1915.1 493.7,1916 494.5,1916.7 495.3,1917.8 496.1,1918.6 496.9,1918.9 497.7,1919.2 498.5,1919 499.3,1920.2 500.1,1920.8 500.9,1920.9 501.7,1921.6 502.5,1921.5 503.3,1921.2 504.1,1921.8 504.9,1922 506.9,1922.8 508.8,1923.3 510.7,1923.4 512.7,1923.7 514.6,1923.8 515.4,1923.4 516.2,1923.1 517,1922.9 517.8,1922.7 518.6,1922.8 519.4,1923.1 520.2,1923.8 521,1923.8 521.8,1922.6 522.6,1923 523.4,1923.9 524.2,1924 525,1923.9 525.8,1924.1 526.6,1922.9 527.4,1922.9 528.2,1921.7 528.6,1922.7 528.9,1920.8 529.3,1921.1 529.7,1921 530,1920.1 530.4,1919.8 530.8,1918.2 531.1,1918.2 531.5,1918.5 531.9,1919 532.2,1918.1 532.6,1917.5 533,1917.1 533.3,1917.2 533.7,1917.3 534.1,1917.8 534.4,1918.5 534.8,1917.8 535.2,1918.6 535.5,1919.7 535.9,1920.2 536.3,1920.7 536.6,1921.2 537,1921.6 537.4,1920.9 537.7,1921.9 538.1,1921.6 538.5,1923.1 538.8,1923.3 539.2,1923.8 540,1925 540.8,1925.9 541.6,1924.9 542.4,1925.5 543.2,1925.1 544,1924.9 544.8,1923.9 545.6,1924.3 546.4,1923.4 547.2,1925.1 548,1924.4 548.8,1924.8 549.6,1925.1 550.4,1925.7 551.2,1925.6 552,1926.1 552.8,1925.5 553.6,1924.7 554.4,1925.7 556.3,1924.7 558.3,1925.3 560.2,1926.5 562.2,1926.2 564.1,1925.5 566,1925.2 568,1925.5 569.9,1926.4 571.9,1925.9 573.8,1926.3 575.7,1927.1 577.7,1926.5 579.6,1926 581.6,1925.9 583.5,1926.4 585.5,1926.6 587.4,1926.9 588.2,1926.5 589,1927.1 589.8,1925.7 590.6,1925.7 591.4,1925.5 592.2,1925.9 593,1924.9 593.8,1925.8 594.6,1924.9 595.4,1924.9 596.2,1923.9 597,1925.7 597.8,1925.2 598.6,1925.9 599.4,1925 600.2,1925.2 601,1925.1 601.8,1925.5 602.2,1924.5 602.5,1925.1 602.9,1924.1 603.3,1923.1 603.6,1923.3 604,1924.2 604.4,1923.5 604.7,1922 605.1,1922.1 605.5,1922.5 605.8,1922.5 606.2,1920.8 606.6,1921.4 606.9,1920.9 607.3,1921.9 607.7,1921.3 608,1921.9 608.4,1922.4 608.7,1921.9 609.1,1921.9 609.5,1922.7 609.8,1923.5 610.2,1922.7 610.6,1922.5 610.9,1921.8 611.3,1923.3 611.7,1924 612,1924.2 612.4,1924.5 612.8,1923.8 613.6,1923.8 614.4,1924.8 615.2,1926.6 616,1926.1 616.8,1925.6 617.6,1924.5 618.4,1925.4 619.2,1925 620,1924.8 620.8,1924.8 621.6,1925.3 622.4,1925.5 623.2,1925.8 624,1926.8 624.8,1926.2 625.6,1926.3 626.4,1926.6 627.2,1926.7 628,1925.6 629.9,1926.7 631.8,1926.2 633.8,1926.2 635.7,1925.8 637.7,1926.3 639.6,1925.9 641.6,1925.6 643.5,1924.8 645.4,1926.4 647.4,1924.6 649.3,1924.9 651.3,1925.7 653.2,1925.9 655.2,1925.8 657.1,1925.3 659,1926.7 661,1926.6 662.9,1925.4 664.9,1925.7 666.8,1925.9 668.8,1925.2 670.7,1924.9 672.6,1925.4 674.6,1926.2 676.5,1925 678.5,1925.5 680.4,1925.2 682.4,1926.7 684.3,1926 686.2,1926.2 688.2,1925.4 690.1,1925.1 692.1,1923.7 694,1925.2 695.9,1925.5 697.9,1924.6 699.8,1924.9 701.8,1926.5 703.7,1924.5 705.7,1926.3 707.6,1925.8 709.5,1926.4 711.5,1925.9 713.4,1925.5 715.4,1925.8 717.3,1925.6 719.3,1926.2 721.2,1925.5 723.1,1925.5 725.1,1925.2 727,1926.7 729,1926.6 730.9,1925.1 732.9,1924.9 734.8,1924.7 736.7,1924.4 738.7,1925.2 740.6,1925.1 742.6,1924.6 744.5,1924.1 746.4,1924.8 748.4,1925.2 750.3,1923.9 752.3,1926 754.2,1925.5 756.2,1924.5 758.1,1925 760,1924.6 762,1923.8 763.9,1922.8 765.9,1923.2 767.8,1923.1 769.8,1924.4 771.7,1922.1 773.6,1922.7 775.6,1921.1 777.5,1920.4 779.5,1920 781.4,1919.3 782.2,1919.7 783,1918.9 783.8,1918.5 784.6,1918.2 785.4,1918 786.2,1915.6 787,1915.2 787.8,1915.5 788.6,1915.9 789.4,1914.2 790.2,1914.5 791,1914.9 791.8,1912.6 792.6,1911.4 793.4,1910.2 794.2,1908.3 795,1908.1 795.8,1906.1 796.6,1903.9 797.4,1901.4 798.2,1898.5 799,1894.3 799.8,1889.3 800.6,1881.5 801,1878.9 801.3,1874.5 801.7,1870.5 802.1,1866.2 802.4,1862.3 802.8,1856.9 803.2,1851.1 803.5,1845.1 803.9,1839.4 804.3,1832.4 804.6,1825.2 805,1818.3 805.4,1812.3 805.7,1805.6 806.1,1800.1 806.5,1795.8 806.8,1791.9 807.2,1788.7 807.6,1787.1 807.9,1788.7 808.3,1792.7 808.7,1795.6 809,1800.9 809.4,1807.2 809.7,1813.4 810.1,1820 810.5,1826.6 810.8,1833.5 811.2,1840.3 811.6,1846.3 811.9,1853 812.3,1858.5 812.7,1862.8 813,1868.5 813.4,1872.3 813.8,1877 814.1,1878.4 814.5,1881.5 814.9,1884 815.7,1889.9 816.5,1894.9 817.3,1897.5 818.1,1901.8 818.9,1903.7 819.7,1906.1 820.5,1908.8 821.3,1909.1 822.1,1910.5 822.9,1912 823.7,1913 824.5,1914.8 825.3,1914.6 826.1,1915.5 826.9,1915.4 827.7,1916.3 828.5,1916.2 829.3,1917.6 830.1,1918.2 830.9,1918.2 831.7,1918.1 832.5,1919.3 833.3,1919.8 834.1,1918.9 834.9,1920.3 836.8,1921.2 838.7,1922.2 840.7,1921.4 842.6,1922.2 844.6,1922.4 846.5,1922.9 848.5,1922.6 850.4,1921.4 852.3,1923 854.3,1923.3 856.2,1923 858.2,1923.7 860.1,1923.7 862.1,1924.1 864,1923.9 865.9,1924 867.9,1923.9 869.8,1924.8 871.8,1923.8 873.7,1924 875.7,1924.7 877.6,1924.7 879.5,1924.1 881.5,1923.9 883.4,1923.9 885.4,1924.1 887.3,1924.1 889.2,1923.8 891.2,1923.9 893.1,1923.8 895.1,1922.9 897,1923.6 899,1923.1 900.9,1923.2 902.8,1924.6 904.8,1924 906.7,1922.7 908.7,1922.2 910.6,1922.8 912.6,1923.4 914.5,1923.7 916.4,1922.6 918.4,1923 920.3,1923 922.3,1923.2 924.2,1923.4 926.2,1924.4 928.1,1924.6 930,1924.5 932,1923.8 933.9,1923.4 935.9,1922.7 937.8,1924 939.7,1923.8 941.7,1924.1 943.6,1925.3 945.6,1924.9 947.5,1923.9 949.5,1924.1 951.4,1923.4 953.3,1922.7 955.3,1922.6 957.2,1923 959.2,1921.5 961.1,1922.8 963.1,1922.2 965,1922 966.9,1921.3 968.9,1921.6 970.8,1921.4 972.8,1920.6 974.7,1921.7 976.7,1920.4 978.6,1920.6 980.5,1920.3 982.5,1919.6 983.3,1919.9 984.1,1918.7 984.9,1919.2 985.7,1919.7 986.5,1919.7 987.3,1919.2 988.1,1918.4 988.9,1917.7 989.7,1915.9 990.5,1916.5 991.3,1916.1 992.1,1916.1 992.9,1914 993.7,1913.6 994.5,1912.4 995.3,1911.8 996.1,1909.9 996.9,1908.6 997.7,1908.2 998.5,1907.1 999.3,1904.2 1000.1,1903.2 1000.9,1900.4 1001.7,1897.7 1002.5,1893.7 1003.3,1888.6 1003.6,1886.6 1004,1884.2 1004.4,1879.8 1004.7,1875.4 1005.1,1871.8 1005.5,1868.1 1005.8,1864.2 1006.2,1859.3 1006.6,1853.4 1006.9,1848.7 1007.3,1844.6 1007.7,1839.9 1008,1834.9 1008.4,1830 1008.8,1825.8 1009.1,1823.6 1009.5,1821.1 1009.9,1820.4 1010.2,1820.6 1010.6,1823.1 1011,1825.2 1011.3,1827.8 1011.7,1831.9 1012.1,1836.5 1012.4,1842.3 1012.8,1846.3 1013.1,1851 1013.5,1856.7 1013.9,1860.4 1014.2,1866 1014.6,1870.2 1015,1872.3 1015.3,1876.7 1015.7,1879.4 1016.1,1883 1016.4,1886.3 1016.8,1887.7 1017.2,1891.1 1017.5,1893.1 1018.3,1897.2 1019.1,1901 1019.9,1905 1020.7,1906.9 1021.5,1908 1022.3,1910.1 1023.1,1910.7 1023.9,1911.5 1024.7,1913.4 1025.5,1914.5 1026.3,1915.4 1027.1,1914.8 1027.9,1915.9 1028.7,1915.2 1029.5,1915.7 1030.3,1916.4 1031.1,1917.3 1031.9,1917.8 1032.7,1917.2 1033.5,1917.2 1034.3,1918 1035.1,1916.8 1035.9,1918.8 1036.7,1918.2 1037.5,1919.3 1038.3,1919.1 1040.3,1919.9 1042.2,1919.7 1044.2,1921.6 1046.1,1921.4 1046.9,1921.2 1047.7,1921.2 1048.5,1921.6 1049.3,1921.3 1050.1,1919.8 1050.9,1922 1051.7,1923.2 1052.5,1923.3 1053.3,1923 1054.1,1923.8 1054.9,1921.8 1055.7,1921.9 1056.5,1921.1 1057.3,1921.2 1058.1,1919.5 1058.9,1920.3 1059.7,1921.5 1060.5,1921 1061.3,1920.4 1062.1,1921.3 1062.9,1918.6 1063.7,1919 1064.5,1919.2 1065.3,1919 1066.1,1918.1 1066.5,1917.9 1066.8,1917.7 1067.2,1916.3 1067.6,1916.6 1067.9,1915.3 1068.3,1915.7 1068.7,1915 1069,1914.4 1069.4,1914 1069.8,1913.1 1070.1,1912.2 1070.5,1913.9 1070.8,1913.1 1071.2,1911 1071.6,1909.7 1071.9,1909.9 1072.3,1909.8 1072.7,1910.5 1073,1910.1 1073.4,1909.5 1073.8,1909.8 1074.1,1910.1 1074.5,1911.4 1074.9,1911.9 1075.2,1912.6 1075.6,1913.2 1076,1912.8 1076.3,1913.5 1076.7,1914.5 1077.1,1915.7 1077.4,1916 1077.8,1916.5 1078.2,1915.4 1078.5,1916.6 1078.9,1917.5 1079.3,1917.3 1079.6,1918.9 1080,1918.7 1080.4,1919.5 1080.7,1920 1081.5,1920.1 1082.3,1921 1083.1,1920.4 1083.9,1921.8 1084.7,1921.2 1085.5,1922.6 1086.3,1920.6 1087.1,1922.2 1087.9,1921.3 1088.7,1921.3 1089.5,1922.4 1090.3,1922.1 1091.1,1922.3 1091.9,1921.8 1092.7,1922.5 1093.5,1922.9 1094.3,1923.2 1095.1,1923.8 1095.9,1923 1096.7,1923.3 1097.5,1922.3 1098.3,1922.2 1099.1,1921.8 1099.9,1922.2 1100.7,1923.1 1101.5,1922.8 1103.5,1922.5 1105.4,1922.4 1107.3,1922.5 1109.3,1923.2 1111.2,1922.9 1113.2,1922.9 1115.1,1922.7 1117.1,1922.4 1119,1922.9 1120.9,1922.3 1122.9,1923.4 1124.8,1922.9 1126.8,1923.9 1128.7,1923.4 1130.7,1923 1132.6,1923.8 1134.5,1923.5 1136.5,1924.4 1138.4,1924.4 1140.4,1923.4 1142.3,1924.7 1144.2,1924.7 1146.2,1924.1 1148.1,1924.5 1150.1,1924.4 1152,1923.2 1154,1924.4 1155.9,1924 1157.8,1923 1159.8,1922.5 1161.7,1923.7 1163.7,1923.7 1165.6,1924.4 1167.6,1924.3 1169.5,1924.1 1171.4,1924.3 1173.4,1924.6 1175.3,1923.1 1177.3,1923.8 1179.2,1922.6 1181.2,1923.5 1183.1,1924.2 1185,1923.8 1187,1924.3 1188.9,1924.7 1190.9,1924.2 1192.8,1924.2 1194.7,1925.1 1196.7,1925 1198.6,1923.9 1200.6,1924.3 1202.5,1923.9 1204.5,1925.2 1206.4,1924.8 1208.3,1924.9 1210.3,1923.2 1212.2,1923.4 1214.2,1922.7 1216.1,1924.1 1218.1,1923.9 1220,1924.9 1221.9,1924.3 1223.9,1924.2 1225.8,1924.4 1227.8,1924.2 1229.7,1924.8 1231.7,1923.2 1233.6,1923.7 1235.5,1923.3 1237.5,1924.2 1239.4,1924.5 1241.4,1924.2 1243.3,1924.2 1245.3,1923.7 1247.2,1922.9 1249.1,1924 1251.1,1925 1253,1923.5 1255,1924.2 1256.9,1924.3 1258.8,1924.5 1260.8,1923.8 1262.7,1923.5 1264.7,1924.5 1266.6,1924.5 1268.6,1924.1 1270.5,1924.9 1272.4,1924.7 1274.4,1924.7 1276.3,1923.9 1278.3,1923.8 1280.2,1924 1281,1923.8 1281.8,1923.1 1282.6,1924.3 1283.4,1924.8 1284.2,1923.9 1285,1923.5 1285.8,1923.8 1286.6,1924.1 1287.4,1922.8 1288.2,1922.6 1289,1923.3 1289.8,1923.7 1290.6,1923.4 1291.4,1922.9 1292.2,1923.3 1293,1923.4 1293.8,1922.8 1294.6,1922.9 1295.4,1923.4 1296.2,1923.6 1297,1923.1 1297.8,1922.6 1298.6,1921.4 1299.4,1921.8 1300.2,1921.5 1301,1919.9 1301.8,1920.6 1302.2,1919.7 1302.5,1919.6 1302.9,1919.9 1303.3,1919.9 1303.6,1918.6 1304,1918.4 1304.4,1917 1304.7,1915.8 1305.1,1915.6 1305.5,1914.1 1305.8,1914.4 1306.2,1914.6 1306.6,1914.5 1306.9,1912.9 1307.3,1912.6 1307.7,1911.9 1308,1911.4 1308.4,1911.3 1308.8,1910.5 1309.1,1912.1 1309.5,1911.7 1309.9,1911.6 1310.2,1912.4 1310.6,1912.2 1310.9,1912.2 1311.3,1913.7 1311.7,1914.4 1312,1914.6 1312.4,1914.6 1312.8,1915.7 1313.1,1915.5 1313.5,1916.3 1313.9,1917.5 1314.2,1916.6 1314.6,1918.1 1315,1917.7 1315.3,1918.1 1315.7,1918.9 1316.1,1919.9 1316.4,1920.7 1316.8,1920.2 1317.2,1920.4 1318,1921.2 1318.8,1921.6 1319.6,1921.6 1320.4,1920.5 1321.2,1921.6 1322,1921.2 1322.8,1921.7 1323.6,1922.8 1324.4,1923.3 1325.2,1923.7 1326,1923.1 1326.8,1923 1327.6,1923.6 1328.4,1923.8 1329.2,1924.2 1330,1924.2 1330.8,1924.3 1331.6,1924.3 1332.4,1924.3 1333.2,1923.2 1334,1922.7 1334.8,1923.4 1335.6,1923.3 1336.4,1923.7 1337.2,1923.7 1338,1923.4 1338.8,1923.4 1339.6,1924.2 1341.5,1924.5 1343.4,1924.9 1345.4,1925.2 1347.3,1925 1349.3,1924.4 1351.2,1923.8 1353.2,1924.1 1355.1,1924.6 1357,1924.4 1359,1923.5 1360.9,1925.4 1362.9,1924.9 1364.8,1924.6 1366.8,1925.6 1368.7,1925.5 1370.6,1925 1372.6,1925.2 1374.5,1923.6 1376.5,1923.8 1378.4,1924.7 1380.3,1925.2 1382.3,1925.2 1384.2,1925.9 1386.2,1925.3 1388.1,1925.2 1390.1,1925.8 1392,1925.7 1393.9,1925.6 1395.9,1925.1 1397.8,1924.7 1399.8,1924.1 1401.7,1924 1403.7,1923.7 1405.6,1924.7 1407.5,1924.9 1409.5,1924.5 1411.4,1925.6 1413.4,1925.5 1415.3,1927.1 1417.3,1926.6 1419.2,1925.7 1421.1,1925.9 1423.1,1925.1 1425,1924.4 1427,1924.1 1428.9,1925.7 1430.8,1925 1432.8,1925.8 1434.7,1925.4 1436.7,1925 1438.6,1924.5 1440.6,1924 1442.5,1923.8 1444.4,1923.1 1445.2,1924 1446,1923.8 1446.8,1925.4 1447.6,1925.1 1448.4,1924.8 1449.2,1924.2 1450,1922.9 1450.8,1923.2 1451.6,1923.2 1452.4,1922.6 1453.2,1923.2 1454,1924 1454.8,1922.7 1455.6,1922.4 1456.4,1921.7 1457.2,1921.6 1458,1922 1458.8,1921.2 1459.6,1920.9 1460.4,1920.9 1461.2,1921 1462,1920.7 1462.8,1918.7 1463.6,1918.9 1464.4,1917.3 1465.2,1916.2 1466,1915.5 1466.8,1915.4 1467.2,1915.2 1467.6,1914.7 1467.9,1912.5 1468.3,1911 1468.7,1910.6 1469,1910 1469.4,1908.9 1469.8,1907.9 1470.1,1906.6 1470.5,1905.6 1470.9,1903.1 1471.2,1901.5 1471.6,1900.9 1472,1900.5 1472.3,1898.8 1472.7,1896.5 1473.1,1895.6 1473.4,1893.7 1473.8,1892.9 1474.2,1892.5 1474.5,1892.8 1474.9,1891.7 1475.3,1890.9 1475.6,1892.1 1476,1891.4 1476.3,1893.1 1476.7,1894.9 1477.1,1895.8 1477.4,1898.3 1477.8,1900 1478.2,1901.2 1478.5,1901.9 1478.9,1902.6 1479.3,1905.3 1479.6,1905.8 1480,1907.1 1480.4,1908.7 1480.7,1909.8 1481.1,1911.6 1481.5,1911.4 1481.8,1911.9 1482.2,1913 1482.6,1913.4 1482.9,1913.7 1483.3,1914 1483.7,1915 1484.5,1916.3 1485.3,1916.6 1486.1,1918.7 1486.9,1919.8 1487.7,1920.1 1488.5,1920.5 1489.3,1920.7 1490.1,1921 1490.9,1923.3 1491.7,1922.6 1492.5,1920.5 1493.3,1921 1494.1,1921.5 1494.9,1922.2 1495.7,1921.5 1496.5,1922.2 1497.3,1922.1 1498.1,1922 1498.9,1922.1 1499.7,1924 1500.5,1923.5 1501.3,1922 1502.1,1921.7 1502.9,1921.2 1503.7,1921.3 1504.5,1922.2 1505.3,1921.4 1506.1,1922.2 1506.9,1923.1 1507.7,1922.4 1508.5,1922.9 1509.3,1922.7 1510.1,1923 1510.9,1922.1 1511.7,1922.8 1512.5,1922.2 1513.3,1922.5 1514.1,1921.9 1514.9,1921.8 1515.7,1921 1516.5,1921.8 1517.3,1919.9 1518.1,1919.7 1518.9,1919.5 1519.7,1918.1 1520.5,1916.5 1520.8,1916.9 1521.2,1916.8 1521.5,1917.3 1521.9,1917.9 1522.3,1918.1 1522.6,1916.4 1523,1917.1 1523.4,1914.1 1523.7,1914.1 1524.1,1913.3 1524.5,1911.2 1524.8,1910.2 1525.2,1909.3 1525.6,1908.8 1525.9,1908.2 1526.3,1906.1 1526.7,1906.2 1527,1905.4 1527.4,1905 1527.8,1904.1 1528.1,1902.6 1528.5,1902.1 1528.9,1903 1529.2,1903.8 1529.6,1903.4 1530,1904.1 1530.3,1905.5 1530.7,1905.9 1531.1,1905.9 1531.4,1907.4 1531.8,1909.6 1532.2,1910.2 1532.5,1910.1 1532.9,1911.3 1533.2,1912.3 1533.6,1912.7 1534,1912.9 1534.3,1913.9 1534.7,1915.4 1535.1,1915.5 1535.4,1915.5 1535.8,1916.3 1536.2,1917.9 1536.5,1918.4 1536.9,1918 1537.3,1919.3 1537.6,1919.5 1538.4,1920.6 1539.2,1921.6 1540,1921.8 1540.8,1921.4 1541.6,1921.1 1542.4,1922.2 1543.2,1922.2 1544,1922.9 1544.8,1924.1 1545.6,1923.3 1546.4,1923.6 1547.2,1922.9 1548,1923.2 1548.8,1923.1 1549.6,1922.7 1550.4,1924.1 1551.2,1925 1552,1924.7 1552.8,1925 1553.6,1924.2 1554.4,1924.4 1555.2,1924 1556,1924.5 1556.8,1924 1557.6,1925.2 1558.4,1925 1559.2,1924.2 1560,1925 1560.8,1925.9 1562.8,1926 1564.7,1925.4 1566.7,1925.5 1568.6,1926.1 1570.5,1926.1 1572.5,1926.1 1574.4,1925.3 1576.4,1925.4 1578.3,1924.6 1580.3,1924.7 1582.2,1926.2 1584.1,1925.3 1586.1,1926 1588,1926.7 1590,1925.9 1591.9,1925.4 1593.8,1925.3 1595.8,1926 1597.7,1926.1 1599.7,1925.9 1601.6,1925.9 1603.6,1926.2 1605.5,1926 1607.4,1925.2 1609.4,1925.1 1611.3,1926 1613.3,1927.2 1615.2,1926.6 1617.2,1927 1619.1,1926.6 1621,1926.6 1623,1926.2 1624.9,1926.3 1626.9,1926 1628.8,1926.5 1630.8,1925.9 1632.7,1927 1634.6,1926.1 1636.6,1925.7 1638.5,1927.3 1640.5,1926.4 1642.4,1926.8 1644.4,1926.8 1646.3,1926.4 1648.2,1925.9 1650.2,1925.8 1652.1,1927.1 1654.1,1927.5 1656,1927.9 1657.9,1927.2 1659.9,1926.8 1661.8,1927 1663.8,1927.6 1665.7,1927.5 1667.7,1927.4 1669.6,1926.8 1671.5,1928.1 1673.5,1927.2 1675.4,1927.4 1677.4,1927 1679.3,1927.3 1681.3,1927.9 1683.2,1927.2 1685.1,1926.7 1687.1,1926.4 1689,1927.4 1691,1928 1692.9,1927.4 1694.9,1927.5 1696.8,1927.7 1698.7,1927.2 1700.7,1927 1702.6,1927.2 1704.6,1928.3 1706.5,1927.7 1708.4,1928.3 1709.2,1927.2 1710,1926.7 1710.8,1927.7 1711.6,1927.1 1712.4,1926 1713.2,1926.7 1714,1926.6 1714.8,1926.2 1715.6,1926.1 1716.4,1926.6 1717.2,1926.2 1718,1926.1 1718.8,1927 1719.6,1926.2 1720.4,1926.6 1721.2,1925.1 1722,1925.2 1722.8,1925.3 1723.6,1926.7 1724.4,1926.3 1725.2,1926.8 1726,1924.9 1726.8,1923.6 1727.6,1923.9 1728.4,1921.7 1729.2,1922.4 1730,1922.1 1730.8,1923.4 1731.6,1922.6 1732.4,1920.8 1733.2,1920 1733.6,1919.8 1734,1919.2 1734.3,1918.2 1734.7,1916.4 1735.1,1916.7 1735.4,1916.1 1735.8,1914.6 1736.2,1913.6 1736.5,1912.9 1736.9,1912.4 1737.3,1911.7 1737.6,1911.2 1738,1911.5 1738.4,1909 1738.7,1908.2 1739.1,1906.4 1739.5,1905 1739.8,1904.1 1740.2,1902.4 1740.6,1901.1 1740.9,1900.6 1741.3,1900 1741.7,1900.8 1742,1899.5 1742.4,1899.8 1742.7,1899.6 1743.1,1900.6 1743.5,1901.4 1743.8,1902.6 1744.2,1903.5 1744.6,1904.2 1744.9,1903.9 1745.3,1906 1745.7,1908.5 1746,1909.8 1746.4,1910.1 1746.8,1910.5 1747.1,1910.8 1747.5,1912.4 1747.9,1914.4 1748.2,1914.4 1748.6,1915.6 1749,1916.3 1749.3,1917.7 1749.7,1916.2 1750.1,1918.8 1750.4,1919.2 1750.8,1919.3 1751.2,1919.3 1751.5,1920.8 1752.3,1920.9 1753.1,1923.1 1753.9,1922.6 1754.7,1923.2 1755.5,1923.9 1756.3,1924.6 1757.1,1924.1 1757.9,1924.9 1758.7,1925.6 1759.5,1925.3 1760.3,1925.1 1761.1,1925.4 1761.9,1926.4 1762.7,1926.7 1763.5,1926.1 1764.3,1926.7 1765.1,1927.5 1765.9,1926.4 1766.7,1925.8 1767.5,1926.5 1768.3,1926 1769.1,1926.8 1769.9,1926.4 1770.7,1926.9 1771.5,1927.5 1772.3,1928.7 1773.1,1928.4 1773.9,1928.2 1774.7,1928 1775.5,1928.4 1776.3,1928.3 1777.1,1928 1778.9,1927.7"/>
<polyline fill="none" stroke="#ff0000" stroke-width="7.6" stroke-linejoin="round" stroke-linecap="butt" points="179.3,1964.1 181.2,1964 183.2,1963.3 185.1,1963.8 187.1,1962.9 189,1962 191,1963.2 192.9,1964.3 194.8,1963.6 196.8,1964.1 198.7,1963.3 200.7,1963.8 202.6,1962.6 204.6,1962.8 206.5,1962.3 208.4,1963 210.4,1963.7 212.3,1965.2 214.3,1963.5 216.2,1963.4 218.1,1964.2 220.1,1963.1 222,1962.4 224,1962.3 225.9,1961.4 227.9,1963.5 229.8,1962.1 231.7,1963 233.7,1963.5 235.6,1963.7 237.6,1963.9 239.5,1962.9 241.5,1962.9 243.4,1962.8 245.3,1962.1 247.3,1962.3 249.2,1962.7 251.2,1963.3 253.1,1963.1 255.1,1964 257,1962.9 258.9,1964 260.9,1963.8 262.8,1964.4 264.8,1964.1 266.7,1964.6 268.6,1964.6 270.6,1963.5 272.5,1962.9 274.5,1963.3 276.4,1963.9 278.4,1963.9 280.3,1964.3 282.2,1962.9 284.2,1961.9 286.1,1963.8 288.1,1964.1 290,1963.6 292,1963.1 293.9,1963 295.8,1962.8 297.8,1961.8 299.7,1961.1 301.7,1962.1 303.6,1962 305.6,1961.1 307.5,1961.8 309.4,1962.2 311.4,1962.5 313.3,1962.6 315.3,1962.1 317.2,1960.9 319.2,1960.6 321.1,1961.9 323,1962.3 325,1962 326.9,1962.8 328.9,1961 330.8,1960.9 332.7,1959.2 334.7,1959.6 336.6,1959.2 338.6,1959.3 340.5,1957.4 342.5,1957.4 343.3,1957.9 344.1,1957.5 344.9,1956.3 345.7,1955.9 346.5,1954.6 347.3,1954.6 348.1,1954.4 348.9,1954.4 349.7,1954.8 350.5,1953.4 351.3,1952.6 352.1,1952 352.9,1951.2 353.7,1951.4 354.5,1951 355.3,1951.3 356.1,1950.6 356.9,1948.8 357.7,1947.2 358.5,1946.8 359.3,1945.1 360.1,1942.4 360.9,1942 361.7,1939.3 362.5,1937.6 363.3,1934.2 364.1,1931.7 364.9,1927.5 365.7,1924.2 366.5,1918.6 366.8,1917.3 367.2,1914.2 367.6,1912.1 367.9,1909.9 368.3,1906 368.6,1902.1 369,1897.7 369.4,1893.4 369.7,1889.1 370.1,1883.5 370.5,1879.9 370.8,1875.6 371.2,1870.5 371.6,1865.3 371.9,1859.9 372.3,1854.3 372.7,1849.3 373,1842.8 373.4,1839 373.8,1835.2 374.1,1832 374.5,1828.5 374.9,1826.7 375.2,1825.2 375.6,1825.7 376,1828.3 376.3,1830.3 376.7,1832.7 377.1,1835.7 377.4,1839.5 377.8,1844.1 378.2,1848.5 378.5,1853.8 378.9,1858.9 379.3,1864.6 379.6,1870.2 380,1875.1 380.3,1879.9 380.7,1885 381.1,1888.2 381.4,1892.8 381.8,1897.3 382.2,1899.8 382.5,1903.3 382.9,1907.7 383.3,1910.7 383.6,1914 384,1915.2 384.4,1916.3 384.7,1918.4 385.5,1922.8 386.3,1927 387.1,1929.5 387.9,1933.7 388.7,1936.5 389.5,1938 390.3,1937.4 391.1,1939.2 391.9,1941 392.7,1941.5 393.5,1942.6 394.3,1942.4 395.1,1942.7 395.9,1943.5 396.7,1944.1 397.5,1944.3 398.3,1946 399.1,1946.2 399.9,1946.5 400.7,1945.6 401.5,1945.3 402.3,1945.9 403.1,1945.4 403.9,1946.9 404.7,1946.8 405.5,1946.6 406.3,1947.6 407.1,1948.5 407.9,1948.1 408.7,1948 409.5,1947.1 410.3,1947.3 412.3,1947.7 414.2,1948.6 416.2,1948.2 418.1,1948.3 420,1948.1 422,1948.2 423.9,1947.5 425.9,1947.9 427.8,1948.6 429.8,1948.5 431.7,1948.9 433.6,1948 435.6,1948.4 437.5,1948.5 439.5,1947.6 441.4,1948.9 443.3,1948.7 445.3,1950.5 446.1,1949.5 446.9,1949.5 447.7,1949.6 448.5,1950.4 449.3,1951.1 450.1,1950.8 450.9,1951.9 451.7,1950.9 452.5,1951 453.3,1951.4 454.1,1951.3 454.9,1952 455.7,1951.5 456.5,1951.8 457.3,1951.9 458.1,1950.7 458.9,1952.2 459.7,1950.3 460.5,1951 461.3,1951.3 462.1,1951 462.9,1950.7 463.7,1950.3 464.5,1950 465.3,1949.5 466.1,1949.2 466.9,1949 467.7,1947.4 468.5,1947.5 469.3,1946.6 470.1,1944.5 470.5,1942.5 470.8,1942.6 471.2,1942.4 471.5,1941.7 471.9,1940.1 472.3,1938.1 472.6,1938.2 473,1937.2 473.4,1936.2 473.7,1933.9 474.1,1933.6 474.5,1932.2 474.8,1929.2 475.2,1927.4 475.6,1926.4 475.9,1925.6 476.3,1924.9 476.7,1923.3 477,1921.8 477.4,1919.8 477.8,1920 478.1,1920.1 478.5,1919.2 478.9,1919.3 479.2,1920 479.6,1920.9 480,1921.7 480.3,1920.8 480.7,1923.1 481.1,1925.2 481.4,1926.2 481.8,1928.6 482.1,1931 482.5,1931.2 482.9,1933 483.2,1935.9 483.6,1936.8 484,1937 484.3,1939.2 484.7,1940.3 485.1,1942.1 485.4,1943 485.8,1944.4 486.2,1945.5 486.5,1947 486.9,1946.3 487.3,1946.5 487.6,1947 488,1949.2 488.8,1950 489.6,1951.2 490.4,1953.4 491.2,1955 492,1955.6 492.8,1955.8 493.6,1956.1 494.4,1957.4 495.2,1956.6 496,1955.7 496.8,1957 497.6,1956.9 498.4,1957.9 499.2,1958.1 500,1959.2 500.8,1959.8 501.6,1959.2 502.4,1959.6 503.2,1960 504,1960 504.8,1960.8 505.6,1962.9 506.4,1962.9 507.2,1963 508,1962.5 508.8,1962.6 509.6,1961.3 510.4,1961.8 511.2,1962.1 512,1961.2 512.8,1961 513.6,1961.6 514.4,1962.4 515.2,1962.9 516,1961.5 516.8,1960.8 517.6,1961.3 518.4,1961.9 519.2,1961 520,1960.7 520.8,1961.9 521.6,1961.3 522.4,1961.9 523.2,1962.8 524,1963.5 524.8,1962 525.6,1963 526.4,1962.2 527.2,1962.2 528,1961.1 528.8,1959.8 529.2,1959.4 529.5,1959.8 529.9,1959.4 530.3,1959.9 530.6,1960.1 531,1959.8 531.3,1958.5 531.7,1958.8 532.1,1957.9 532.4,1957.5 532.8,1957.6 533.2,1958.6 533.5,1957.4 533.9,1957.7 534.3,1957 534.6,1957.9 535,1957.4 535.4,1957.8 535.7,1958.8 536.1,1958.5 536.5,1958.4 536.8,1959.2 537.2,1959.9 537.6,1960.8 537.9,1961.2 538.3,1963.1 538.7,1962.6 539,1961.9 539.8,1962.4 540.6,1963 541.4,1961.7 542.2,1962.6 543,1962.6 543.8,1963.4 544.6,1963.4 545.4,1964 546.2,1963.8 547,1963 547.8,1963.5 548.6,1963.9 549.4,1963.4 550.2,1963.9 551,1964.6 551.8,1963.8 552.6,1963 553.4,1962.9 554.2,1963.3 556.2,1963.5 558.1,1963.8 560.1,1965.1 562,1964.9 563.9,1964.7 565.9,1965.4 567.8,1965.2 569.8,1964.4 571.7,1963.8 573.6,1963.9 575.6,1963.5 577.5,1964.1 579.5,1964.6 581.4,1964.2 583.4,1963.7 585.3,1963.9 587.2,1963.4 588,1963.3 588.8,1962.8 589.6,1964.2 590.4,1964 591.2,1965.5 592,1963.6 592.8,1963.5 593.6,1963.4 594.4,1963.8 595.2,1964.2 596,1965.2 596.8,1964.7 597.6,1965.4 598.4,1963.6 599.2,1962.8 600,1962.9 600.8,1963.4 601.6,1962.1 602,1962.6 602.4,1963.2 602.7,1963.4 603.1,1964.3 603.5,1963.1 603.8,1962.1 604.2,1963.2 604.6,1960.5 604.9,1959.8 605.3,1960.2 605.7,1961.2 606,1959.7 606.4,1960.6 606.8,1959.1 607.1,1960.5 607.5,1960.2 607.9,1959.1 608.2,1959.3 608.6,1960.3 609,1959.6 609.3,1960 609.7,1960.5 610,1961.1 610.4,1961.7 610.8,1962.2 611.1,1962 611.5,1962.8 611.9,1962.6 612.2,1962.9 612.6,1962.7 613.4,1963.4 614.2,1963.6 615,1963.5 615.8,1965.7 616.6,1965.2 617.4,1964.4 618.2,1964.5 619,1964.6 619.8,1966 620.6,1965.4 621.4,1965.6 622.2,1965.2 623,1966.1 623.8,1966.7 624.6,1966 625.4,1965.5 626.2,1965.3 627,1964.5 627.8,1966.2 629.7,1966 631.7,1964.7 633.6,1964.9 635.6,1964.1 637.5,1963.9 639.5,1964.1 641.4,1965.1 643.3,1964.7 645.3,1965.6 647.2,1964.2 649.2,1963.9 651.1,1963.5 653.1,1963.7 655,1963.9 656.9,1964.6 658.9,1964.4 660.8,1964.6 662.8,1964.3 664.7,1965.2 666.7,1965.2 668.6,1965.3 670.5,1964.5 672.5,1964.4 674.4,1963.4 676.4,1964.6 678.3,1965.4 680.2,1965.5 682.2,1966 684.1,1964.1 686.1,1964.8 688,1965 690,1965.1 691.9,1964.3 693.8,1964.8 695.8,1964.8 697.7,1964.6 699.7,1963.5 701.6,1963.7 703.6,1963 705.5,1964.1 707.4,1964.2 709.4,1964.5 711.3,1965.2 713.3,1965.7 715.2,1964.9 717.2,1964 719.1,1963.6 721,1963.6 723,1964.7 724.9,1965 726.9,1964.8 728.8,1965.4 730.8,1964.2 732.7,1964.6 734.6,1963.7 736.6,1964 738.5,1964 740.5,1963.2 742.4,1962.9 744.3,1963.9 746.3,1962.5 748.2,1963.1 750.2,1963.2 752.1,1962.5 754.1,1963.6 756,1963.7 757.9,1963.1 759.9,1961.9 761.8,1961.4 763.8,1962.1 765.7,1962.5 767.7,1962.4 769.6,1961.5 771.5,1961 772.3,1962.4 773.1,1961.1 773.9,1961.7 774.7,1961.7 775.5,1960.4 776.3,1959.5 777.1,1959.9 777.9,1959.6 778.7,1960.2 779.5,1960.2 780.3,1959.7 781.1,1959.3 781.9,1959.5 782.7,1959.1 783.5,1958.2 784.3,1957.8 785.1,1956.5 785.9,1956.8 786.7,1956.5 787.5,1956.2 788.3,1956.4 789.1,1956.2 789.9,1956.7 790.7,1954.4 791.5,1953.1 792.3,1952.1 793.1,1951.9 793.9,1950.5 794.7,1949.9 795.5,1949.3 796.3,1948.1 797.1,1943.4 797.9,1941 798.3,1940.3 798.7,1938.9 799,1937.7 799.4,1936.7 799.8,1936.3 800.1,1933.3 800.5,1931.7 800.9,1930.1 801.2,1927.2 801.6,1926.1 802,1922.5 802.3,1920.2 802.7,1917.6 803.1,1915.3 803.4,1913 803.8,1909.2 804.1,1905.6 804.5,1903.6 804.9,1902.3 805.2,1898.9 805.6,1896.3 806,1894.8 806.3,1893.5 806.7,1892.3 807.1,1892 807.4,1890.5 807.8,1889.6 808.2,1891.6 808.5,1891.8 808.9,1894.3 809.3,1895.8 809.6,1898.1 810,1901.2 810.4,1903.8 810.7,1906.8 811.1,1909.4 811.5,1911.1 811.8,1913.5 812.2,1916.1 812.6,1918.3 812.9,1921.1 813.3,1923.1 813.7,1926 814,1927.8 814.4,1930.8 814.8,1932 815.1,1933.2 815.5,1934.8 815.8,1936.5 816.2,1937.3 816.6,1939.8 816.9,1940.7 817.3,1943.1 818.1,1944.4 818.9,1946.8 819.7,1948.5 820.5,1950.3 821.3,1951 822.1,1951.6 822.9,1953.3 823.7,1954.9 824.5,1953.7 825.3,1955 826.1,1954.8 826.9,1955.6 827.7,1956.9 828.5,1956.5 829.3,1957.8 830.1,1957.4 830.9,1958 831.7,1958.8 832.5,1958.7 833.3,1959.1 834.1,1959 834.9,1959.4 835.7,1960.4 836.5,1960.9 837.3,1959.9 838.1,1959.6 838.9,1960.6 839.7,1962.1 840.5,1960.4 841.3,1959.7 842.1,1960.8 842.9,1960.7 843.7,1960.6 844.5,1961.2 846.4,1961.4 848.4,1961.7 850.3,1962 852.3,1960.3 854.2,1961.3 856.2,1961.6 858.1,1960.4 860,1961.4 862,1962.1 863.9,1962.7 865.9,1962.6 867.8,1962.3 869.8,1962.3 871.7,1963 873.6,1961.5 875.6,1962.5 877.5,1962.8 879.5,1962.4 881.4,1961.5 883.4,1962.4 885.3,1962.6 887.2,1961.5 889.2,1961.5 891.1,1961.2 893.1,1961.9 895,1961.5 896.9,1962.9 898.9,1962.4 900.8,1961.7 902.8,1962.6 904.7,1961.8 906.7,1962.6 908.6,1962.5 910.5,1964 912.5,1962.9 914.4,1962.8 916.4,1962.2 918.3,1961.8 920.3,1961.2 922.2,1961.4 924.1,1963.3 926.1,1962.5 928,1964 930,1963.5 931.9,1962.9 933.9,1962.7 935.8,1963.4 937.7,1962.9 939.7,1963.3 941.6,1964.7 943.6,1962.9 945.5,1962.3 947.5,1962.6 949.4,1961.9 951.3,1961.9 953.3,1961.8 955.2,1963.2 957.2,1963.1 959.1,1962.8 961,1962.1 963,1961.2 964.9,1961.8 966.9,1960.7 968.8,1960.5 970.8,1961.3 972.7,1960.3 973.5,1960.1 974.3,1960.9 975.1,1961.2 975.9,1961.4 976.7,1960.1 977.5,1960.3 978.3,1960.5 979.1,1960 979.9,1960.3 980.7,1959 981.5,1959.4 982.3,1958.4 983.1,1959.1 983.9,1958.9 984.7,1958.7 985.5,1957.9 986.3,1957.5 987.1,1957.8 987.9,1956.2 988.7,1956.1 989.5,1957.5 990.3,1956.9 991.1,1954.9 991.9,1955.9 992.7,1955.1 993.5,1953.8 994.3,1953.3 995.1,1953.6 995.9,1953 996.7,1951.9 997.5,1949.7 998.3,1949.2 999.1,1947.7 999.9,1944.6 1000.7,1943.9 1001.1,1943.6 1001.4,1942.3 1001.8,1942.4 1002.2,1940.8 1002.5,1939.5 1002.9,1937.9 1003.3,1936.5 1003.6,1933.9 1004,1932 1004.4,1930.4 1004.7,1928.9 1005.1,1927.8 1005.4,1926.5 1005.8,1923.8 1006.2,1922.7 1006.5,1920 1006.9,1918.5 1007.3,1917 1007.6,1916 1008,1913.9 1008.4,1910.8 1008.7,1910.6 1009.1,1909.4 1009.5,1908.6 1009.8,1909.2 1010.2,1909.6 1010.6,1908.5 1010.9,1909.5 1011.3,1910.8 1011.7,1912.8 1012,1912.7 1012.4,1915.2 1012.8,1916.8 1013.1,1919 1013.5,1920.4 1013.9,1922.5 1014.2,1925 1014.6,1926.6 1015,1928.9 1015.3,1929.7 1015.7,1930.5 1016.1,1932.2 1016.4,1934.4 1016.8,1936.4 1017.1,1937.6 1017.5,1940.6 1017.9,1941.6 1018.2,1942.9 1018.6,1944.4 1019,1943.2 1019.3,1944.1 1019.7,1945.4 1020.1,1945.5 1020.9,1947.2 1021.7,1949.4 1022.5,1951 1023.3,1951.6 1024.1,1952.4 1024.9,1953.8 1025.7,1953.8 1026.5,1954.4 1027.3,1956.4 1028.1,1957.3 1028.9,1955.5 1029.7,1956.2 1030.5,1955.6 1031.3,1957 1032.1,1957.4 1032.9,1957.5 1033.7,1959 1034.5,1958.8 1035.3,1958.6 1036.1,1958.3 1036.9,1958.2 1037.7,1958.1 1038.5,1958.3 1039.3,1959 1040.1,1958.5 1040.9,1959.8 1041.7,1958.5 1042.5,1959.5 1043.3,1959.4 1044.1,1959.7 1044.9,1960.3 1045.7,1960.3 1046.5,1960.5 1047.3,1960.6 1048.1,1958.9 1048.9,1959.5 1049.7,1960 1050.5,1959 1051.3,1961.3 1052.1,1959.9 1052.9,1961.1 1053.7,1960.9 1054.5,1961.1 1055.3,1960.9 1056.1,1960.6 1056.9,1961.3 1057.7,1960.6 1058.5,1960.3 1059.3,1961.5 1060.1,1962 1060.9,1963.1 1061.7,1960.6 1062.5,1960.1 1063.3,1959.6 1063.6,1959.8 1064,1959.2 1064.4,1959.2 1064.7,1959.1 1065.1,1958.9 1065.5,1959.2 1065.8,1959.5 1066.2,1958.4 1066.6,1958.5 1066.9,1958.9 1067.3,1958.7 1067.6,1958.6 1068,1958.9 1068.4,1958 1068.7,1957.1 1069.1,1957.5 1069.5,1958.3 1069.8,1957.1 1070.2,1957.5 1070.6,1956.1 1070.9,1956 1071.3,1956.9 1071.7,1956.5 1072,1956 1072.4,1957.2 1072.8,1957 1073.1,1956 1073.5,1954.5 1073.9,1955.8 1074.2,1955.9 1074.6,1956.2 1075,1957.8 1075.3,1956.9 1075.7,1955.8 1076.1,1956.8 1076.4,1957.6 1076.8,1958.9 1077.2,1959.1 1077.5,1959.5 1077.9,1960.3 1078.3,1960.7 1078.6,1959.9 1079,1957.4 1079.3,1958.3 1079.7,1958.1 1080.1,1959 1080.4,1958.9 1080.8,1958.9 1081.2,1958.7 1081.5,1959.6 1081.9,1958.8 1082.3,1959.5 1082.6,1960.7 1083,1959.9 1083.4,1960.1 1084.2,1961.4 1085,1961.5 1085.8,1961.8 1086.6,1961.6 1087.4,1961.2 1088.2,1960.8 1089,1960.3 1089.8,1961.4 1090.6,1960.6 1091.4,1961.3 1092.2,1961.8 1093,1961.8 1093.8,1960.9 1094.6,1961.4 1095.4,1963.3 1096.2,1963 1097,1962 1097.8,1961.8 1098.6,1962.9 1099.4,1961.1 1100.2,1961.7 1101,1961.1 1101.8,1961.9 1102.6,1962.2 1103.4,1962.1 1104.2,1962 1105,1962.7 1105.8,1962.7 1106.6,1962.1 1107.4,1962 1108.2,1963.1 1109,1962.4 1109.8,1961.7 1110.6,1962.7 1111.4,1961.6 1113.3,1961.5 1115.2,1961.8 1117.2,1962.9 1119.1,1962.1 1121.1,1962.9 1123,1961.4 1125,1960.9 1126.9,1960.9 1128.8,1960.8 1130.8,1963 1132.7,1962.8 1134.7,1963.6 1136.6,1962.6 1138.6,1961.4 1140.5,1962.6 1142.4,1963.7 1144.4,1963.5 1146.3,1962.6 1148.3,1962.1 1150.2,1962.7 1152.2,1961.9 1154.1,1962.5 1156,1962 1158,1963 1159.9,1963.5 1161.9,1963.5 1163.8,1963.5 1165.8,1962.7 1167.7,1962.7 1169.6,1964.8 1171.6,1963.3 1173.5,1962.3 1175.5,1961.8 1177.4,1962 1179.3,1963.1 1181.3,1962.5 1183.2,1962.7 1185.2,1963.1 1187.1,1963.4 1189.1,1962.1 1191,1962.1 1192.9,1961.3 1194.9,1962.9 1196.8,1964.1 1198.8,1962.3 1200.7,1961.8 1202.7,1963.3 1204.6,1962.6 1206.5,1962.1 1208.5,1962.7 1210.4,1961.9 1212.4,1961.9 1214.3,1962.6 1216.3,1962.6 1218.2,1963.7 1220.1,1962.9 1222.1,1962 1224,1961.9 1226,1961.4 1227.9,1961.5 1229.8,1962 1231.8,1962.1 1233.7,1961.9 1235.7,1961.4 1237.6,1962.2 1239.6,1962.5 1241.5,1962.5 1243.4,1962.1 1245.4,1962.1 1247.3,1961.6 1249.3,1961.4 1251.2,1963 1253.2,1962.6 1255.1,1962.2 1257,1962.1 1259,1962.2 1260.9,1962.9 1262.9,1963.5 1264.8,1963 1266.8,1962.6 1268.7,1963.1 1269.5,1962.6 1270.3,1962.9 1271.1,1962.7 1271.9,1962.3 1272.7,1962 1273.5,1961.4 1274.3,1960.4 1275.1,1961.6 1275.9,1962 1276.7,1963.6 1277.5,1963.5 1278.3,1963.3 1279.1,1963.3 1279.9,1963 1280.7,1961.8 1281.5,1959.5 1282.3,1960.7 1283.1,1961.5 1283.9,1962.5 1284.7,1961.8 1285.5,1961 1286.3,1962.2 1287.1,1961.4 1287.9,1962.7 1288.7,1963.4 1289.5,1962.2 1290.3,1962.5 1291.1,1961.5 1291.9,1961.2 1292.7,1960.3 1293.5,1960.8 1294.3,1960.8 1295.1,1960 1295.9,1960.2 1296.7,1960.7 1297.5,1960.2 1298.3,1959.5 1299.1,1958.2 1299.5,1958.6 1299.8,1958 1300.2,1958.1 1300.6,1957.9 1300.9,1957.8 1301.3,1958.2 1301.6,1957.7 1302,1957.4 1302.4,1957.8 1302.7,1958.1 1303.1,1958.3 1303.5,1956.7 1303.8,1956.7 1304.2,1957.2 1304.6,1958.2 1304.9,1958.3 1305.3,1956.6 1305.7,1956 1306,1955.8 1306.4,1955.2 1306.8,1954 1307.1,1954.9 1307.5,1954.7 1307.9,1954.9 1308.2,1954.9 1308.6,1954 1309,1952.8 1309.3,1953.6 1309.7,1954 1310.1,1953.3 1310.4,1954.8 1310.8,1955 1311.2,1955.1 1311.5,1954.9 1311.9,1955 1312.3,1954.5 1312.6,1954.6 1313,1955.2 1313.3,1955.4 1313.7,1955.1 1314.1,1956.2 1314.4,1956.5 1314.8,1957.1 1315.2,1959.8 1315.5,1959.3 1315.9,1958.5 1316.3,1959.3 1316.6,1959 1317,1959.9 1317.4,1958.3 1317.7,1959.4 1318.1,1958.6 1318.5,1959.4 1318.8,1960 1319.2,1960.8 1319.6,1960.2 1319.9,1959.8 1320.7,1959.7 1321.5,1958.9 1322.3,1960.3 1323.1,1960.7 1323.9,1961.6 1324.7,1961.6 1325.5,1960.8 1326.3,1959.9 1327.1,1960 1327.9,1960.9 1328.7,1961.1 1329.5,1961.9 1330.3,1960.6 1331.1,1960.9 1331.9,1960.8 1332.7,1961.5 1333.5,1960.9 1334.3,1961 1335.1,1961.8 1335.9,1962.1 1336.7,1962.4 1337.5,1962.9 1338.3,1963.5 1339.1,1963.4 1339.9,1963.8 1340.7,1963.8 1341.5,1963.4 1342.3,1963.8 1343.1,1963.9 1343.9,1962.7 1344.7,1962.1 1345.5,1963.3 1346.3,1964.2 1347.1,1963.2 1347.9,1963.1 1348.7,1962.5 1349.5,1962.8 1351.5,1963.1 1353.4,1962.9 1355.3,1962.5 1357.3,1963.6 1359.2,1963.2 1361.2,1963 1363.1,1963.5 1365.1,1963.1 1367,1963.3 1368.9,1962.9 1370.9,1962.7 1372.8,1963.4 1374.8,1963.7 1376.7,1962.6 1378.7,1962.5 1380.6,1964.1 1382.5,1963.7 1384.5,1962.1 1386.4,1962.2 1388.4,1963.2 1390.3,1963.1 1392.3,1962.4 1394.2,1963.3 1396.1,1963.1 1398.1,1961.8 1400,1961 1402,1962.6 1403.9,1961.7 1405.9,1962.5 1407.8,1963.1 1409.7,1962.9 1411.7,1963.3 1413.6,1964.4 1415.6,1962.8 1417.5,1962.7 1419.4,1962.2 1421.4,1962.3 1423.3,1963.8 1425.3,1963.6 1427.2,1962.8 1429.2,1963 1431.1,1962.5 1433,1963.3 1433.8,1964.5 1434.6,1963.6 1435.4,1962.6 1436.2,1961.8 1437,1962.5 1437.8,1962.3 1438.6,1962.9 1439.4,1962.8 1440.2,1963.2 1441,1963.2 1441.8,1963 1442.6,1963.2 1443.4,1961.7 1444.2,1961.8 1445,1963.8 1445.8,1963.8 1446.6,1961.3 1447.4,1961 1448.2,1961.2 1449,1962.1 1449.8,1962.2 1450.6,1961.7 1451.4,1961.7 1452.2,1961.1 1453,1960.9 1453.8,1960.9 1454.6,1961.2 1455.4,1960.9 1456.2,1961.5 1457,1960.4 1457.8,1959.5 1458.6,1960.2 1459.4,1960.2 1460.2,1959.9 1461,1960.3 1461.8,1958.8 1462.6,1958.2 1463.4,1957.4 1464.2,1957.4 1464.6,1956.9 1465,1956.8 1465.3,1956.9 1465.7,1955.9 1466.1,1956.8 1466.4,1956.7 1466.8,1955.5 1467.2,1955.4 1467.5,1954.1 1467.9,1953.6 1468.3,1953.5 1468.6,1952 1469,1951.7 1469.4,1951.4 1469.7,1949.1 1470.1,1949 1470.5,1949.6 1470.8,1949.1 1471.2,1949.1 1471.5,1949.6 1471.9,1947.9 1472.3,1947.7 1472.6,1946.6 1473,1945.3 1473.4,1944.7 1473.7,1944.9 1474.1,1943.9 1474.5,1945.3 1474.8,1945.8 1475.2,1945.3 1475.6,1945.4 1475.9,1945.6 1476.3,1945.3 1476.7,1945.5 1477,1945.7 1477.4,1947.3 1477.8,1947.8 1478.1,1947.6 1478.5,1947.1 1478.9,1949.2 1479.2,1949 1479.6,1950.3 1480,1950.9 1480.3,1950.6 1480.7,1951.3 1481.1,1952.6 1481.4,1952.3 1481.8,1953.8 1482.2,1953.7 1482.5,1952.8 1482.9,1954.2 1483.2,1954.9 1483.6,1955.4 1484,1957.1 1484.3,1957.7 1484.7,1957.2 1485.1,1957.2 1485.4,1957.3 1485.8,1957.4 1486.2,1958.3 1486.5,1958.1 1487.3,1958.5 1488.1,1958 1488.9,1957.4 1489.7,1959.5 1490.5,1959.3 1491.3,1958.2 1492.1,1959 1492.9,1959.2 1493.7,1958.8 1494.5,1960.1 1495.3,1959.6 1496.1,1959.2 1496.9,1960.9 1497.7,1959.6 1498.5,1959.9 1499.3,1961 1500.1,1962.2 1500.9,1961 1501.7,1960.4 1502.5,1961.2 1503.3,1961.6 1504.1,1961.8 1504.9,1961.8 1505.7,1962.1 1506.5,1961.2 1507.3,1960.9 1508.1,1961.6 1508.9,1960.4 1509.7,1960.7 1510.5,1960.4 1511.3,1960.9 1512.1,1961.4 1512.9,1961.4 1513.7,1961.6 1514.5,1960.2 1515.3,1960.3 1516.1,1960.5 1516.9,1959.9 1517.7,1958.8 1518.1,1959.5 1518.5,1957.8 1518.8,1958.6 1519.2,1959.7 1519.6,1958 1519.9,1957.6 1520.3,1958.6 1520.7,1958.7 1521,1957.3 1521.4,1957.9 1521.8,1958.5 1522.1,1958.5 1522.5,1958 1522.8,1957.6 1523.2,1957.7 1523.6,1957.2 1523.9,1956 1524.3,1955.8 1524.7,1955.7 1525,1954.8 1525.4,1955.3 1525.8,1954.5 1526.1,1953.5 1526.5,1952.4 1526.9,1953.2 1527.2,1952 1527.6,1953 1528,1953 1528.3,1953.3 1528.7,1954.2 1529.1,1952.7 1529.4,1953.1 1529.8,1953.1 1530.2,1953.6 1530.5,1953.8 1530.9,1954 1531.3,1953.7 1531.6,1953.5 1532,1954.9 1532.4,1954.7 1532.7,1956.1 1533.1,1955.9 1533.5,1956.3 1533.8,1956.5 1534.2,1956.1 1534.5,1957.5 1534.9,1957.3 1535.3,1957 1535.6,1957.2 1536,1956.9 1536.4,1958.4 1536.7,1958.7 1537.1,1959.6 1537.5,1959.2 1537.8,1959 1538.2,1958.7 1538.6,1959.6 1538.9,1959.2 1539.3,1960.5 1539.7,1960.7 1540,1959.8 1540.4,1960.2 1541.2,1960.4 1542,1960.5 1542.8,1959.4 1543.6,1961.3 1544.4,1961.5 1545.2,1961 1546,1960.8 1546.8,1961.8 1547.6,1962.5 1548.4,1961.8 1549.2,1962.5 1550,1961.9 1550.8,1962 1551.6,1962.4 1552.4,1962.6 1553.2,1962.6 1554,1962.7 1554.8,1963.1 1555.6,1962.4 1556.4,1962 1557.2,1962.2 1558,1963.5 1558.8,1962.4 1559.6,1963.1 1560.4,1963.3 1561.2,1962.7 1562,1962.7 1562.8,1963.1 1563.6,1960.8 1564.4,1962 1565.2,1962.5 1566,1963.7 1566.8,1962.5 1567.6,1962.8 1568.4,1962.8 1569.2,1962.1 1570,1963 1570.8,1962.2 1571.6,1962.2 1572.4,1963 1574.3,1963 1576.3,1963.5 1578.2,1962.8 1580.2,1962.7 1582.1,1963.1 1584,1962.2 1586,1963.1 1587.9,1963.5 1589.9,1964.4 1591.8,1963.1 1593.8,1963.6 1595.7,1963.9 1597.6,1963.4 1599.6,1964.2 1601.5,1964.1 1603.5,1963.9 1605.4,1964.7 1607.4,1964.5 1609.3,1962.7 1611.2,1963.5 1613.2,1963.6 1615.1,1963.8 1617.1,1964.3 1619,1965.1 1621,1965.5 1622.9,1964.2 1624.8,1964.5 1626.8,1964.7 1628.7,1963.3 1630.7,1962.7 1632.6,1963.5 1634.5,1964.1 1636.5,1963 1638.4,1963.2 1640.4,1963.4 1642.3,1965 1644.3,1964.1 1646.2,1964.6 1648.1,1965.5 1650.1,1965.3 1652,1965.6 1654,1964.4 1655.9,1964.2 1657.9,1963 1659.8,1963.8 1661.7,1964.7 1663.7,1965.5 1665.6,1965.7 1667.6,1965 1669.5,1964.2 1671.5,1965.2 1673.4,1964.4 1675.3,1965.5 1677.3,1964.8 1679.2,1964.7 1681.2,1965 1683.1,1966 1685,1966 1687,1965.2 1688.9,1964.7 1690.9,1965.7 1692.8,1965.3 1694.8,1964.9 1696.7,1965.2 1697.5,1964.4 1698.3,1964 1699.1,1962.7 1699.9,1962.8 1700.7,1963.3 1701.5,1963.3 1702.3,1963.8 1703.1,1965.5 1703.9,1966 1704.7,1965.1 1705.5,1965.2 1706.3,1964.1 1707.1,1963.6 1707.9,1963.6 1708.7,1963.9 1709.5,1963.5 1710.3,1964 1711.1,1964.5 1711.9,1963.4 1712.7,1963.6 1713.5,1963.9 1714.3,1963.9 1715.1,1964.2 1715.9,1963 1716.7,1963.9 1717.5,1964 1718.3,1964.5 1719.1,1963.8 1719.9,1963.4 1720.7,1961.6 1721.5,1962.4 1722.3,1962.5 1723.1,1962.9 1723.9,1962.7 1724.7,1962 1725.5,1961 1726.3,1962 1727.1,1962.1 1727.9,1961.2 1728.7,1960.6 1729.5,1959.7 1730.3,1959.9 1730.7,1960.3 1731,1959.3 1731.4,1958.6 1731.8,1957.4 1732.1,1958.2 1732.5,1959.6 1732.9,1959.1 1733.2,1958.3 1733.6,1959.2 1734,1957.2 1734.3,1955.4 1734.7,1955.1 1735,1954.4 1735.4,1955.1 1735.8,1955.3 1736.1,1953.6 1736.5,1953 1736.9,1952.8 1737.2,1952.8 1737.6,1952.9 1738,1952.5 1738.3,1951.8 1738.7,1949.5 1739.1,1949.4 1739.4,1948.7 1739.8,1949 1740.2,1948 1740.5,1947.9 1740.9,1947 1741.3,1947.9 1741.6,1947.8 1742,1947.4 1742.4,1948 1742.7,1946.4 1743.1,1947.2 1743.5,1947.1 1743.8,1949.4 1744.2,1948.8 1744.6,1948 1744.9,1948.8 1745.3,1949.6 1745.7,1950.4 1746,1951.5 1746.4,1951.8 1746.7,1951.4 1747.1,1952.2 1747.5,1953.3 1747.8,1953.3 1748.2,1952.9 1748.6,1953.4 1748.9,1954.9 1749.3,1956.2 1749.7,1955.6 1750,1956.4 1750.4,1956.5 1750.8,1957.4 1751.1,1957.6 1751.5,1957.8 1751.9,1958.4 1752.2,1959.2 1752.6,1960.8 1753,1959.7 1753.3,1959.4 1753.7,1959.9 1754.1,1960 1754.4,1960.1 1754.8,1960.3 1755.6,1960.3 1756.4,1961.4 1757.2,1961.1 1758,1962.3 1758.8,1963 1759.6,1962.4 1760.4,1964.5 1761.2,1964 1762,1963 1762.8,1963.2 1763.6,1963.6 1764.4,1964.2 1765.2,1963 1766,1962.7 1766.8,1964 1767.6,1962.9 1768.4,1964 1769.2,1964.1 1770,1963.8 1770.8,1964.9 1771.6,1964.2 1772.4,1965 1773.2,1965.3 1774,1963.9 1774.8,1964.6 1775.6,1965.3 1776.4,1965.3 1777.2,1964.6 1778,1964.3 1778.8,1965 1778.9,1964.4"/>
<polyline fill="none" stroke="#000000" stroke-width="7.6" stroke-linejoin="round" stroke-linecap="butt" points="179.3,2211.4 181.2,2210.3 183.2,2211.2 185.1,2212.4 187.1,2211.6 189,2211.2 191,2211.9 192.9,2211.4 194.8,2211.6 196.8,2210.8 198.7,2210.7 200.7,2211.2 202.6,2210.9 204.6,2210.1 206.5,2210.3 208.4,2211.5 210.4,2211.3 212.3,2209.1 214.3,2210.3 216.2,2211.1 218.1,2210.4 220.1,2211.4 222,2211.5 224,2210.4 225.9,2211.3 227.9,2210.2 229.8,2209.9 231.7,2210 233.7,2210.1 235.6,2210.8 237.6,2210.6 239.5,2210.7 241.5,2210.9 243.4,2209.8 245.3,2210.1 247.3,2210.4 249.2,2210.9 251.2,2211.3 253.1,2211.1 255.1,2211.6 257,2211.9 258.9,2211.6 260.9,2212.3 262.8,2211.7 264.8,2210.1 266.7,2210.6 268.6,2211.2 270.6,2210.8 272.5,2211.7 274.5,2210.3 276.4,2210.7 278.4,2211.3 280.3,2211.1 282.2,2209.1 284.2,2209.4 286.1,2209.9 288.1,2209.6 290,2209 292,2208.8 293.9,2209.1 295.8,2208.4 297.8,2210 299.7,2210.5 301.7,2209.5 303.6,2209 305.6,2208.9 307.5,2209.1 309.4,2208.1 311.4,2208.3 313.3,2208.1 315.3,2207 317.2,2206.7 319.2,2206.7 321.1,2206.3 323,2206.5 325,2206.1 326.9,2206.1 328.9,2204.7 330.8,2204.8 332.7,2204.8 334.7,2203.1 336.6,2202.1 338.6,2201.3 340.5,2200 342.5,2198.7 344.4,2197.2 346.3,2195.8 347.1,2195.9 347.9,2195.2 348.7,2195.6 349.5,2194.1 350.3,2193.2 351.1,2191 351.9,2190.3 352.7,2188.8 353.5,2187.9 354.3,2186.4 355.1,2184 355.9,2183.3 356.7,2181.8 357.5,2179.7 358.3,2177.3 359.1,2173.9 359.9,2171 360.7,2168.3 361.5,2165.9 362.3,2161.4 363.1,2156.2 363.9,2149.2 364.7,2142.6 365.5,2133.7 366.3,2123.1 367.1,2111.1 367.9,2096.3 368.3,2088.2 368.7,2079.9 369,2069.8 369.4,2060.7 369.8,2051 370.1,2037.9 370.5,2024.3 370.9,2012.2 371.2,1997.8 371.6,1982.7 372,1969.5 372.3,1954 372.7,1938.9 373.1,1924.8 373.4,1909.8 373.8,1896.9 374.2,1885.9 374.5,1878.6 374.9,1871.9 375.3,1870 375.6,1871.1 376,1874.7 376.3,1881.4 376.7,1890.5 377.1,1902 377.4,1916.6 377.8,1930.6 378.2,1944.6 378.5,1959.8 378.9,1974.6 379.3,1989.6 379.6,2003.2 380,2017.2 380.4,2029.3 380.7,2041.9 381.1,2053 381.5,2063.4 381.8,2073.1 382.2,2083 382.6,2091.4 382.9,2097.8 383.3,2104.4 383.7,2110.5 384.5,2123.1 385.3,2132.7 386.1,2141.6 386.9,2147.8 387.7,2152.5 388.5,2157.2 389.3,2163 390.1,2166.1 390.9,2167 391.7,2169 392.5,2172.4 393.3,2175.8 394.1,2176.9 394.9,2178.9 395.7,2180.5 396.5,2181.2 397.3,2181.9 398.1,2183.7 398.9,2185.9 399.7,2186.6 400.5,2187.8 401.3,2189.2 402.1,2188.5 402.9,2189.4 403.7,2189.3 404.5,2191 405.3,2190.8 406.1,2192.3 408,2193 409.9,2194.1 411.9,2194.4 413.8,2193.5 415.8,2195.5 417.7,2196.2 419.7,2195.9 421.6,2197.4 423.5,2197.2 425.5,2196.8 427.4,2198 429.4,2197.8 431.3,2197.7 433.2,2198.8 435.2,2198.4 437.1,2199.6 439.1,2199.3 441,2198.5 443,2199.1 444.9,2199.3 446.8,2199.5 448.8,2198.7 449.6,2198.6 450.4,2198.9 451.2,2198.7 452,2198.8 452.8,2197.9 453.6,2198 454.4,2197.7 455.2,2197 456,2197.2 456.8,2196.2 457.6,2195.9 458.4,2196.8 459.2,2194.6 460,2196 460.8,2195.1 461.6,2195.2 462.4,2194.3 463.2,2194 464,2193.3 464.8,2192.2 465.6,2191.4 466.4,2189.4 467.2,2187.1 468,2185.4 468.8,2183.3 469.6,2180.5 470.4,2177.1 471.2,2171.6 471.5,2170 471.9,2168.5 472.3,2166.4 472.6,2163 473,2158.3 473.4,2155.1 473.7,2151.8 474.1,2147.5 474.5,2144.1 474.8,2139 475.2,2133.8 475.6,2129.9 475.9,2125.5 476.3,2122.4 476.7,2117.5 477,2116.3 477.4,2114.4 477.8,2110.8 478.1,2108.6 478.5,2106.9 478.9,2107.3 479.2,2109.5 479.6,2110.5 480,2112.6 480.3,2116.3 480.7,2119.3 481.1,2124.2 481.4,2127.9 481.8,2133 482.1,2138.1 482.5,2143.1 482.9,2146.9 483.2,2151.1 483.6,2155.5 484,2158.1 484.3,2162.8 484.7,2164.3 485.1,2167.2 485.4,2170 485.8,2173.3 486.2,2175.2 486.5,2176.3 486.9,2178.1 487.7,2182.4 488.5,2185.2 489.3,2187.5 490.1,2190.7 490.9,2193 491.7,2194.5 492.5,2196.8 493.3,2196.5 494.1,2197.8 494.9,2197.8 495.7,2198.7 496.5,2198.3 497.3,2199.7 498.1,2201.1 498.9,2201.1 499.7,2200.7 500.5,2200.8 501.3,2202.3 502.1,2202 502.9,2201.8 503.7,2203.1 504.5,2203.7 505.3,2204.4 506.1,2204 506.9,2205.7 507.7,2206 508.5,2206 509.3,2205.6 511.2,2205.2 513.2,2206.6 514,2206.8 514.8,2207.4 515.6,2207.9 516.4,2207.3 517.2,2207.7 518,2208.1 518.8,2208.1 519.6,2208 520.4,2207.6 521.2,2208.4 522,2208.3 522.8,2208.1 523.6,2207.5 524.4,2208 525.2,2207.3 526,2206.9 526.8,2206.2 527.6,2205.9 528.4,2204.9 528.7,2204.8 529.1,2205.6 529.5,2205.6 529.8,2204.6 530.2,2205.2 530.6,2203.1 530.9,2203 531.3,2203.3 531.7,2202.8 532,2202.6 532.4,2201.9 532.8,2201.4 533.1,2201.2 533.5,2201 533.9,2200.5 534.2,2200.2 534.6,2202 535,2201.3 535.3,2203 535.7,2202.8 536.1,2203.1 536.4,2202.8 536.8,2203.5 537.2,2203.7 537.5,2204.8 537.9,2206.1 538.3,2207.2 538.6,2208.2 539,2207.7 539.3,2207.4 540.1,2208.1 540.9,2208.7 541.7,2208.9 542.5,2209 543.3,2209.7 544.1,2210.2 544.9,2209.9 545.7,2209.2 546.5,2209.3 547.3,2210 548.1,2209.6 548.9,2209.6 549.7,2210.1 550.5,2210.3 551.3,2210.4 552.1,2210.4 552.9,2209.5 553.7,2208.6 554.5,2208.8 556.5,2208.6 558.4,2208.9 560.4,2209.1 562.3,2207.8 564.3,2209.2 566.2,2210.2 568.1,2210.5 570.1,2208.9 572,2208.1 574,2208.5 575.9,2208.9 577.9,2209.8 579.8,2210.3 581.7,2210 583.7,2209.7 585.6,2209.9 587.6,2209.5 588.4,2209.8 589.2,2210 590,2210.4 590.8,2210.1 591.6,2210 592.4,2209.4 593.2,2209.7 594,2210.2 594.8,2210.5 595.6,2211.1 596.4,2209.7 597.2,2208.4 598,2209 598.8,2209.3 599.6,2207.3 600.4,2207.8 601.2,2208.4 602,2207.3 602.3,2208.1 602.7,2207.3 603.1,2207.3 603.4,2207.4 603.8,2207.2 604.2,2207 604.5,2206 604.9,2205.2 605.3,2204.4 605.6,2203.8 606,2204.8 606.3,2203.3 606.7,2204 607.1,2203 607.4,2202.1 607.8,2204.2 608.2,2204.7 608.5,2203.8 608.9,2204.7 609.3,2205.2 609.6,2205.4 610,2206.8 610.4,2207.7 610.7,2207.4 611.1,2207.2 611.5,2207.6 611.8,2207.7 612.2,2207.5 612.6,2208.1 612.9,2208.9 613.7,2209.1 614.5,2209.7 615.3,2209.3 616.1,2209.9 616.9,2209.8 617.7,2210.1 618.5,2211 619.3,2210.3 620.1,2211 620.9,2211.1 621.7,2210.3 622.5,2210.7 623.3,2210 624.1,2210.9 624.9,2209.5 625.7,2209.2 626.5,2209.2 627.3,2210.2 628.1,2208.4 630.1,2208.7 632,2209.1 634,2208.7 635.9,2209.3 637.8,2209.6 639.8,2209.7 641.7,2210 643.7,2209.3 645.6,2210.3 647.5,2210.4 649.5,2210.1 651.4,2209.9 653.4,2210.5 655.3,2211.7 657.3,2211.5 659.2,2211.7 661.1,2210.7 663.1,2209.9 665,2210.6 667,2210.5 668.9,2210.7 670.9,2210.3 672.8,2210.2 674.7,2210.1 676.7,2210.6 678.6,2209.3 680.6,2209 682.5,2209.5 684.5,2210.3 686.4,2211 688.3,2210.4 690.3,2210.2 692.2,2209.7 694.2,2209.3 696.1,2210 698.1,2209.9 700,2210.9 701.9,2210.3 703.9,2210.5 705.8,2208.8 707.8,2209.6 709.7,2209.3 711.6,2208.2 713.6,2208.6 715.5,2210.2 717.5,2209 719.4,2209.7 721.4,2210.2 723.3,2209.7 725.2,2209.1 727.2,2209.5 729.1,2209 731.1,2210.1 733,2210.1 735,2208.8 736.9,2210.3 738.8,2209.7 740.8,2209.8 742.7,2209.6 744.7,2208.4 746.6,2208.6 748.6,2208.4 750.5,2208.3 752.4,2206.5 754.4,2208 756.3,2208 758.3,2208 760.2,2207.4 762.1,2205.9 764.1,2205.8 766,2206.8 768,2206.6 769.9,2204.7 771.9,2205.4 773.8,2204.5 775.7,2204.6 776.5,2204.4 777.3,2203.8 778.1,2203.8 778.9,2202.8 779.7,2202.9 780.5,2202.6 781.3,2201.9 782.1,2201.7 782.9,2201.2 783.7,2200.3 784.5,2200.4 785.3,2199.5 786.1,2198.7 786.9,2200.3 787.7,2198.3 788.5,2197.6 789.3,2196.2 790.1,2195.4 790.9,2193.8 791.7,2193 792.5,2191.7 793.3,2190.6 794.1,2188.8 794.9,2186.9 795.7,2183.9 796.5,2180.9 797.3,2178.2 798.1,2173 798.9,2167.2 799.7,2160.5 800.1,2158.6 800.5,2154.7 800.8,2150.9 801.2,2148.7 801.6,2144 801.9,2138.2 802.3,2133.1 802.7,2129.5 803,2123.1 803.4,2117.7 803.8,2112.3 804.1,2105.9 804.5,2099.2 804.9,2093.6 805.2,2089.2 805.6,2082.7 806,2078.3 806.3,2074.2 806.7,2071.1 807.1,2068.8 807.4,2066.7 807.8,2068.1 808.1,2069.8 808.5,2071.3 808.9,2074.8 809.2,2079.5 809.6,2085.8 810,2092.5 810.3,2096.8 810.7,2102.8 811.1,2109 811.4,2113.4 811.8,2119.3 812.2,2127.2 812.5,2133.5 812.9,2137 813.3,2141.3 813.6,2145.3 814,2150.1 814.4,2153.9 814.7,2156.4 815.1,2160.1 815.5,2163.7 815.8,2166 816.2,2167.3 817,2172.8 817.8,2178.4 818.6,2180.8 819.4,2183.6 820.2,2186.5 821,2188.2 821.8,2190.3 822.6,2191.6 823.4,2192 824.2,2193.7 825,2194.9 825.8,2194.7 826.6,2196.3 827.4,2197.1 828.2,2199.3 829,2199.8 829.8,2199.9 830.6,2200.8 831.4,2201.6 832.2,2200.7 833,2202.1 833.8,2201.9 834.6,2202.1 835.4,2202.8 836.2,2203.2 837,2204.3 837.8,2203 838.6,2204.1 839.4,2203.7 840.2,2203.6 842.1,2204 844.1,2204.8 846,2204.7 848,2204.9 849.9,2205.7 851.8,2206.4 853.8,2205.9 855.7,2206.6 857.7,2208.1 859.6,2207.4 861.6,2206.7 863.5,2206.1 865.4,2206.7 867.4,2206.8 869.3,2205.5 871.3,2207.3 873.2,2208.1 875.1,2208.1 877.1,2207.5 879,2207.3 881,2206.9 882.9,2207.2 884.9,2207.9 886.8,2207.7 888.7,2208 890.7,2207.6 892.6,2208.1 894.6,2208.5 896.5,2207.7 898.5,2208 900.4,2207.7 902.3,2207 904.3,2208.1 906.2,2207.4 908.2,2207.5 910.1,2208 912.1,2209 914,2207.9 915.9,2207.7 917.9,2207.4 919.8,2206.6 921.8,2207.8 923.7,2209.2 925.7,2207.3 927.6,2207.9 929.5,2208.1 931.5,2208.8 933.4,2208.6 935.4,2208.4 937.3,2207.6 939.2,2207.3 941.2,2207.8 943.1,2206.7 945.1,2206.9 947,2207 949,2206.4 950.9,2207.4 952.8,2206.3 954.8,2207.5 956.7,2207.5 958.7,2206.9 960.6,2208 962.6,2206.1 964.5,2205.7 966.4,2206.7 968.4,2205.8 970.3,2205.5 972.3,2205.1 974.2,2205 976.2,2204.9 978.1,2203.8 978.9,2203.8 979.7,2204.4 980.5,2203.7 981.3,2203.6 982.1,2203.2 982.9,2203.8 983.7,2203 984.5,2202.7 985.3,2202.6 986.1,2202.3 986.9,2201.9 987.7,2201.1 988.5,2201.1 989.3,2199.4 990.1,2198.2 990.9,2198.3 991.7,2196.9 992.5,2196.6 993.3,2197.7 994.1,2196.4 994.9,2195.3 995.7,2194.6 996.5,2193.7 997.3,2191.7 998.1,2189.8 998.9,2186.8 999.7,2184.6 1000.5,2182.1 1001.3,2177.6 1001.7,2175.1 1002,2172.9 1002.4,2171.6 1002.8,2169.5 1003.1,2167.9 1003.5,2164.8 1003.8,2161.5 1004.2,2157.2 1004.6,2154.1 1004.9,2149.3 1005.3,2145.3 1005.7,2141.2 1006,2137.2 1006.4,2133.1 1006.8,2130.1 1007.1,2125.8 1007.5,2122 1007.9,2118.5 1008.2,2115 1008.6,2113.2 1009,2110.9 1009.3,2108.4 1009.7,2107.7 1010.1,2107.6 1010.4,2107.6 1010.8,2109.5 1011.2,2112.1 1011.5,2113.3 1011.9,2116.8 1012.3,2121.7 1012.6,2126.1 1013,2129 1013.4,2133.2 1013.7,2136.5 1014.1,2141.1 1014.5,2144.7 1014.8,2149 1015.2,2151.7 1015.5,2156.4 1015.9,2159.7 1016.3,2161.7 1016.6,2166.9 1017,2168.2 1017.4,2170.2 1017.7,2172.7 1018.1,2175 1018.5,2177.5 1018.8,2179.6 1019.6,2182.7 1020.4,2184.4 1021.2,2186.5 1022,2189.4 1022.8,2190.8 1023.6,2191.7 1024.4,2193.8 1025.2,2194.8 1026,2196.6 1026.8,2197.3 1027.6,2197.8 1028.4,2199.8 1029.2,2200.3 1030,2199.3 1030.8,2200.3 1031.6,2200 1032.4,2202.1 1033.2,2201.2 1034,2201.7 1034.8,2202.8 1035.6,2203.2 1036.4,2202.1 1037.2,2203 1038,2202.3 1038.8,2202.2 1039.6,2202.6 1040.4,2202.8 1041.2,2203.7 1042,2205 1042.8,2205.3 1043.6,2204.5 1044.4,2204.9 1045.2,2205.5 1046,2205.9 1046.8,2206.6 1047.6,2205.5 1048.4,2204.6 1049.2,2204.7 1050,2204.9 1050.8,2206.8 1051.6,2205.4 1052.4,2205.4 1053.2,2205.4 1054,2204.3 1054.8,2203.9 1055.6,2204.7 1056.4,2204.5 1057.2,2204 1058,2203.8 1058.8,2203.1 1059.6,2203.7 1060.4,2203.7 1061.2,2204.1 1062,2203.7 1062.8,2203.4 1063.6,2204.9 1064.4,2204.1 1064.8,2201.7 1065.2,2202.5 1065.5,2201.4 1065.9,2201.8 1066.3,2201.7 1066.6,2201.4 1067,2201.3 1067.4,2201.4 1067.7,2200.9 1068.1,2198.9 1068.4,2199.8 1068.8,2198.6 1069.2,2198.5 1069.5,2199.9 1069.9,2198.1 1070.3,2196.8 1070.6,2196.8 1071,2196.4 1071.4,2196.2 1071.7,2196.2 1072.1,2195.7 1072.5,2195.5 1072.8,2195.9 1073.2,2195.9 1073.6,2196.5 1073.9,2195 1074.3,2195.5 1074.7,2195.7 1075,2197.1 1075.4,2196.6 1075.8,2196.9 1076.1,2196.6 1076.5,2199.4 1076.9,2200.4 1077.2,2199.9 1077.6,2199.5 1078,2200.8 1078.3,2200.9 1078.7,2201.7 1079.1,2202.6 1079.4,2202.8 1079.8,2203.2 1080.1,2203.5 1080.5,2202.8 1080.9,2202.5 1081.2,2203.5 1081.6,2203.8 1082,2204.2 1082.3,2204.3 1083.1,2205.8 1083.9,2205.5 1084.7,2205.6 1085.5,2206.3 1086.3,2207 1087.1,2206.6 1087.9,2206.9 1088.7,2206.5 1089.5,2206.2 1090.3,2207.3 1091.1,2207.7 1091.9,2207.3 1092.7,2207.2 1093.5,2207.1 1094.3,2206.3 1095.1,2207.2 1095.9,2207.3 1096.7,2206 1097.5,2207.7 1098.3,2207.1 1099.1,2207.1 1099.9,2207.8 1100.7,2207.4 1101.5,2207.8 1102.3,2207.2 1103.1,2208.3 1103.9,2207 1104.7,2207.1 1105.5,2207.1 1106.3,2207.4 1107.1,2207.6 1109.1,2208.5 1109.9,2208.1 1110.7,2208.3 1111.5,2207.7 1112.3,2207.9 1113.1,2208.5 1113.9,2208.5 1114.7,2208.5 1115.5,2208.9 1116.3,2207.6 1117.1,2206.9 1117.9,2207.3 1118.7,2208.1 1119.5,2208.3 1120.3,2208.3 1121.1,2208.5 1121.9,2208.6 1122.7,2208.6 1123.5,2208 1123.8,2207.2 1124.2,2207.5 1124.6,2207 1124.9,2207.3 1125.3,2206.7 1125.7,2206 1126,2206.5 1126.4,2205.1 1126.8,2205.6 1127.1,2204.1 1127.5,2205 1127.9,2205.8 1128.2,2204.1 1128.6,2204.1 1129,2204.2 1129.3,2204.4 1129.7,2206.2 1130.1,2205.7 1130.4,2206.1 1130.8,2206.9 1131.2,2206.4 1131.5,2206.5 1131.9,2206.8 1132.3,2207.2 1132.6,2207.1 1133,2206.9 1133.3,2206.7 1133.7,2206.9 1134.1,2207.1 1134.4,2206.8 1135.2,2207.3 1136,2207.3 1136.8,2207.5 1137.6,2207.6 1138.4,2208.1 1139.2,2208.6 1140,2207.9 1140.8,2208.3 1141.6,2206.6 1142.4,2207.4 1143.2,2207.5 1144,2206.6 1144.8,2206.8 1145.6,2207.2 1146.4,2208.1 1147.2,2209 1148,2208.8 1148.8,2208.4 1149.6,2208.6 1151.6,2208.6 1153.5,2208.5 1155.5,2207.8 1157.4,2208 1159.4,2208.4 1161.3,2207.6 1163.2,2208.6 1165.2,2208.9 1167.1,2209 1169.1,2208.7 1171,2208.4 1172.9,2208.5 1174.9,2208.1 1176.8,2208.8 1178.8,2208.2 1180.7,2209.6 1182.7,2209 1184.6,2208.5 1186.5,2209.4 1188.5,2210 1190.4,2209.1 1192.4,2208.2 1194.3,2208.6 1196.3,2208.4 1198.2,2209.1 1200.1,2209.3 1202.1,2208.5 1204,2209.5 1206,2208.8 1207.9,2208.1 1209.9,2208.1 1211.8,2208.4 1213.7,2208.6 1215.7,2209.4 1217.6,2209.7 1219.6,2209.7 1221.5,2209.6 1223.5,2210.2 1225.4,2208.5 1227.3,2207.6 1229.3,2208.1 1231.2,2208.5 1233.2,2206.6 1235.1,2206.9 1237,2208.3 1239,2208.8 1240.9,2209.1 1242.9,2208.4 1244.8,2207.6 1246.8,2208.3 1248.7,2208.5 1250.6,2209.4 1252.6,2208.6 1254.5,2208.7 1256.5,2207.9 1258.4,2208.5 1260.4,2209.3 1262.3,2209.5 1264.2,2209.1 1266.2,2209 1268.1,2208.8 1270.1,2208.8 1272,2208.9 1274,2208.5 1274.8,2209 1275.6,2209 1276.4,2208.4 1277.2,2208.3 1278,2208.3 1278.8,2208.3 1279.6,2208 1280.4,2208.8 1281.2,2207.4 1281.9,2208 1282.7,2207.9 1283.5,2207.4 1284.3,2208.1 1285.1,2207.4 1285.9,2206.5 1286.7,2207.2 1287.5,2207.6 1288.3,2207.5 1289.1,2207.7 1289.9,2207.3 1290.7,2206.5 1291.5,2206.9 1292.3,2206.5 1293.1,2206.6 1293.9,2207.3 1294.7,2206.6 1295.5,2205.7 1296.3,2205 1297.1,2205.3 1297.9,2205.2 1298.7,2205 1299.5,2205.5 1300.3,2204.7 1300.7,2203.8 1301.1,2204.6 1301.4,2203.2 1301.8,2204 1302.2,2202.8 1302.5,2201.9 1302.9,2200.5 1303.3,2201.3 1303.6,2200.8 1304,2200.4 1304.4,2199.8 1304.7,2198.5 1305.1,2198.8 1305.5,2197.8 1305.8,2196.6 1306.2,2196.4 1306.6,2195.8 1306.9,2196.9 1307.3,2195 1307.7,2195.3 1308,2194 1308.4,2193.7 1308.8,2193.5 1309.1,2192 1309.5,2191.9 1309.9,2192.2 1310.2,2193.3 1310.6,2193.3 1310.9,2194.7 1311.3,2194.8 1311.7,2195.1 1312,2195.6 1312.4,2197.8 1312.8,2197.8 1313.1,2199.9 1313.5,2199.6 1313.9,2199.3 1314.2,2199.9 1314.6,2201.4 1315,2200.2 1315.3,2201.1 1315.7,2202.1 1316.1,2202.5 1316.4,2203.8 1316.8,2204.1 1317.2,2203.8 1317.5,2204.8 1317.9,2204.5 1318.3,2204.7 1318.6,2204.7 1319.4,2205.1 1320.2,2206.1 1321,2206.3 1321.8,2206.9 1322.6,2207.3 1323.4,2207.2 1324.2,2207.1 1325,2208.2 1325.8,2207.2 1326.6,2207.4 1327.4,2206.9 1328.2,2206.4 1329,2206.6 1329.8,2207.5 1330.6,2207.9 1331.4,2207.7 1332.2,2208 1333,2208.1 1333.8,2208.5 1334.6,2208.4 1335.4,2208.1 1336.2,2208 1337,2208.1 1337.8,2208 1338.6,2208.3 1339.4,2208.7 1340.2,2208.4 1341,2209.5 1341.8,2209.7 1342.6,2209.7 1343.4,2207.9 1344.2,2208.6 1345,2208.6 1347,2208.6 1348.9,2208.7 1350.8,2208.8 1352.8,2208.7 1354.7,2208.1 1356.7,2208.8 1358.6,2208.4 1360.6,2209 1362.5,2208.5 1364.4,2209.6 1366.4,2209.1 1368.3,2208.1 1370.3,2208.5 1372.2,2207.9 1374.2,2209.9 1376.1,2209 1378,2208.6 1380,2208.8 1381.9,2209.3 1383.9,2209.7 1385.8,2209.5 1387.8,2209.5 1389.7,2209.9 1391.6,2211.2 1393.6,2210.4 1395.5,2209.9 1397.5,2210.6 1399.4,2209.7 1401.3,2210.1 1403.3,2209.6 1405.2,2209.1 1407.2,2209.3 1409.1,2208.5 1411.1,2208.8 1413,2208.5 1414.9,2208.4 1416.9,2208 1418.8,2208.9 1420.8,2209.1 1422.7,2208 1424.7,2208.4 1426.6,2207.9 1428.5,2207.7 1430.5,2208.4 1432.4,2209.2 1434.4,2207.9 1436.3,2209.6 1438.3,2209.5 1439.1,2208.3 1439.9,2207.1 1440.7,2207 1441.5,2208 1442.3,2209.2 1443.1,2209.7 1443.9,2208.4 1444.7,2207.8 1445.5,2208.2 1446.3,2209.2 1447.1,2208.4 1447.9,2208.5 1448.7,2208.8 1449.5,2208.5 1450.3,2207.9 1451.1,2208 1451.9,2207.9 1452.7,2208.2 1453.4,2206.7 1454.2,2208.6 1455,2208.6 1455.8,2207.3 1456.6,2205.8 1457.4,2206.9 1458.2,2206.7 1459,2205.9 1459.8,2205.1 1460.6,2204.6 1461.4,2204.9 1462.2,2204.4 1463,2204.7 1463.8,2203.5 1464.6,2202.9 1465.4,2201.8 1465.8,2201 1466.2,2200.2 1466.5,2199.4 1466.9,2199.4 1467.3,2200.9 1467.6,2199.6 1468,2197.7 1468.4,2196.8 1468.7,2196 1469.1,2194.6 1469.5,2194.9 1469.8,2192.2 1470.2,2191.5 1470.6,2191.2 1470.9,2190.9 1471.3,2190.2 1471.7,2188.9 1472,2188.8 1472.4,2188.7 1472.8,2187.9 1473.1,2185.7 1473.5,2184.5 1473.9,2184.8 1474.2,2183.7 1474.6,2184.8 1475,2185.8 1475.3,2184.4 1475.7,2184.4 1476.1,2183 1476.4,2183.6 1476.8,2185.3 1477.1,2186.1 1477.5,2186.7 1477.9,2188.9 1478.2,2188.5 1478.6,2189.5 1479,2190.4 1479.3,2191.2 1479.7,2192.1 1480.1,2193.4 1480.4,2194.6 1480.8,2196 1481.2,2196.1 1481.5,2196.6 1481.9,2196.7 1482.3,2197 1482.6,2198.4 1483,2197.7 1483.4,2200.1 1483.7,2200.7 1484.1,2200.9 1484.5,2201.4 1484.8,2201.5 1485.2,2202.6 1486,2203 1486.8,2203.2 1487.6,2203.6 1488.4,2204 1489.2,2203.4 1490,2203.6 1490.8,2204.8 1491.6,2204.3 1492.4,2205.4 1493.2,2205.2 1494,2205.9 1494.8,2206.2 1495.6,2207.7 1496.4,2207 1497.2,2207.5 1498,2206.5 1498.8,2207 1499.6,2208.2 1500.4,2206.8 1501.2,2207 1502,2207.5 1502.8,2206.9 1503.6,2206.5 1504.4,2207.5 1505.2,2206.4 1506,2206.6 1506.8,2206.5 1507.6,2205.9 1508.4,2205.8 1509.2,2207.2 1510,2206.4 1510.8,2206.8 1511.6,2206.7 1512.4,2206.1 1513.2,2205.9 1514,2206 1514.8,2205.1 1515.6,2205.4 1516.4,2206.4 1517.2,2206.5 1518,2205 1518.8,2205.3 1519.6,2204.7 1519.9,2204.4 1520.3,2204.1 1520.7,2202.7 1521,2202.1 1521.4,2202.5 1521.8,2201 1522.1,2200.6 1522.5,2199.9 1522.9,2199.7 1523.2,2199.1 1523.6,2199.6 1524,2198.5 1524.3,2198.8 1524.7,2197.3 1525.1,2196.7 1525.4,2196.3 1525.8,2196 1526.2,2195.6 1526.5,2194.9 1526.9,2194.4 1527.3,2193.5 1527.6,2192.6 1528,2192.1 1528.4,2191.3 1528.7,2191.8 1529.1,2191.8 1529.5,2192.3 1529.8,2193.2 1530.2,2193.6 1530.6,2194.6 1530.9,2193.8 1531.3,2194.2 1531.6,2194.8 1532,2196.4 1532.4,2196.8 1532.7,2197.4 1533.1,2198 1533.5,2198.5 1533.8,2198.6 1534.2,2200 1534.6,2202 1534.9,2200.7 1535.3,2200.3 1535.7,2200.7 1536,2202.2 1536.4,2201.4 1536.8,2201.3 1537.1,2201.5 1537.5,2202.7 1537.9,2203.5 1538.2,2203.8 1538.6,2204.2 1539,2204.9 1539.3,2205.3 1540.1,2203.7 1540.9,2204.9 1541.7,2205.2 1542.5,2203.7 1543.3,2205 1544.1,2206 1544.9,2206.5 1545.7,2207 1546.5,2208.1 1547.3,2208 1548.1,2207.1 1548.9,2207.1 1549.7,2209.5 1550.5,2208.5 1551.3,2207.9 1552.1,2208.3 1552.9,2208.6 1553.7,2208.4 1554.5,2208.7 1555.3,2209 1556.1,2207.7 1556.9,2208.2 1557.7,2209.2 1558.5,2208.3 1559.3,2208.3 1560.1,2209.7 1560.9,2208.4 1561.7,2208.7 1562.5,2209 1563.3,2208.8 1564.1,2208.5 1564.9,2208.5 1565.7,2208.1 1566.5,2209.3 1567.3,2208.9 1569.3,2209 1571.2,2208.3 1573.1,2209.8 1575.1,2210.3 1577,2209.9 1579,2210.7 1580.9,2210.6 1582.9,2210 1584.8,2210.7 1586.7,2210.7 1588.7,2210.1 1590.6,2209.7 1592.6,2210.4 1594.5,2210.2 1596.5,2210.1 1598.4,2210.6 1600.3,2209.8 1602.3,2210.2 1604.2,2210.5 1606.2,2211.4 1608.1,2209.4 1610.1,2209.9 1612,2210 1613.9,2208.4 1615.9,2207.6 1617.8,2209.7 1619.8,2209.7 1621.7,2209.7 1623.6,2208.7 1625.6,2209.7 1627.5,2209.9 1629.5,2210.1 1631.4,2211.5 1633.4,2211 1635.3,2210.9 1637.2,2210.7 1639.2,2211.1 1641.1,2210.3 1643.1,2209.9 1645,2210.3 1647,2209.8 1648.9,2210.1 1650.8,2210.4 1652.8,2210 1654.7,2209.2 1656.7,2210 1658.6,2211.1 1660.6,2210.6 1662.5,2210.8 1664.4,2210.3 1666.4,2211.8 1668.3,2211.7 1670.3,2210.6 1672.2,2210.8 1674.1,2210.8 1676.1,2209 1678,2210.7 1680,2211.2 1681.9,2210.7 1683.9,2209.2 1685.8,2210.1 1687.7,2211.3 1689.7,2210.3 1691.6,2211.3 1693.6,2212 1695.5,2210.7 1697.5,2210.8 1699.4,2210.4 1701.3,2210.6 1702.1,2209.4 1702.9,2209.3 1703.7,2209.7 1704.5,2210.3 1705.3,2211.2 1706.1,2210.7 1706.9,2211.2 1707.7,2210.9 1708.5,2210.8 1709.3,2211.3 1710.1,2211.7 1710.9,2210.8 1711.7,2211.2 1712.5,2210.4 1713.3,2209.4 1714.1,2209.9 1714.9,2209.7 1715.7,2209.7 1716.5,2210.9 1717.3,2210.7 1718.1,2209.6 1718.9,2210 1719.7,2210.3 1720.5,2210.3 1721.3,2210.2 1722.1,2209.2 1722.9,2208.6 1723.7,2208.2 1724.5,2208.7 1725.3,2208.3 1726.1,2209 1726.9,2209.3 1727.7,2209 1728.5,2206.6 1729.3,2206.8 1730.1,2205.9 1730.9,2206.6 1731.7,2205.9 1732.1,2205.6 1732.5,2205.6 1732.8,2205.4 1733.2,2204.4 1733.6,2203.8 1733.9,2203.9 1734.3,2202.7 1734.7,2202.5 1735,2201.9 1735.4,2202.3 1735.8,2202.7 1736.1,2200.7 1736.5,2200.9 1736.9,2199.8 1737.2,2199 1737.6,2198.2 1738,2198.2 1738.3,2197.4 1738.7,2196.8 1739,2195.7 1739.4,2194.6 1739.8,2193.5 1740.1,2193 1740.5,2193.2 1740.9,2193.6 1741.2,2192.5 1741.6,2192.3 1742,2191.8 1742.3,2192.6 1742.7,2192.7 1743.1,2193.5 1743.4,2193.1 1743.8,2193.7 1744.2,2195.8 1744.5,2195.6 1744.9,2196.5 1745.3,2196.1 1745.6,2197.3 1746,2198.1 1746.4,2199.3 1746.7,2199 1747.1,2199.1 1747.5,2199.8 1747.8,2200.5 1748.2,2201.2 1748.6,2201.2 1748.9,2202.8 1749.3,2204.2 1749.7,2203.8 1750,2204.1 1750.4,2204.3 1750.7,2204.3 1751.1,2203.8 1751.5,2204.3 1751.8,2204.9 1752.2,2207.2 1752.6,2206.2 1752.9,2205.2 1753.3,2205.3 1754.1,2206.6 1754.9,2207.6 1755.7,2206.8 1756.5,2208.6 1757.3,2208.3 1758.1,2208.7 1758.9,2209.4 1759.7,2207.6 1760.5,2208 1761.3,2209.7 1762.1,2209.1 1762.9,2210.3 1763.7,2209.1 1764.5,2208.9 1765.3,2210.4 1766.1,2209.5 1766.9,2209.9 1767.7,2209.9 1768.5,2211.2 1769.3,2211.2 1770.1,2211.1 1770.9,2211.1 1771.7,2210.7 1772.5,2211.1 1773.3,2211.5 1774.1,2211.6 1774.9,2211.5 1775.7,2211.3 1776.5,2211.4 1777.3,2210.5 1778.1,2210 1778.9,2211.6 1778.9,2210.8"/>
<polyline fill="none" stroke="#000000" stroke-width="7.6" stroke-linejoin="round" stroke-linecap="butt" points="179.3,2540.6 181.2,2540.4 183.2,2541.3 185.1,2540.7 187.1,2541.6 189,2541.7 191,2540.3 192.9,2540.9 194.8,2540.4 196.8,2539.5 198.7,2539.8 200.7,2540.8 202.6,2540.9 204.6,2539.5 206.5,2540.1 208.4,2539.6 210.4,2539.1 212.3,2539.7 214.3,2540.2 216.2,2539 218.1,2538.7 220.1,2537.8 222,2539.4 224,2538.8 225.9,2539.1 227.9,2539.8 229.8,2539.5 231.7,2541.1 233.7,2539.2 235.6,2541.1 237.6,2539.9 239.5,2540 241.5,2540.4 243.4,2539.4 245.3,2540.1 247.3,2540 249.2,2539 251.2,2539.6 253.1,2539.2 255.1,2538.9 257,2539 258.9,2539.5 260.9,2540 262.8,2539.3 264.8,2539 266.7,2539.3 268.6,2538.1 270.6,2537.6 272.5,2537.8 274.5,2538.6 276.4,2538.7 278.4,2537.6 280.3,2538 282.2,2538.9 284.2,2538.2 286.1,2538.1 288.1,2539 290,2538.9 292,2536.8 293.9,2536.5 295.8,2537.9 297.8,2536.7 299.7,2535.6 301.7,2534.8 303.6,2536.2 305.6,2537.1 307.5,2535.9 309.4,2534.6 311.4,2534.5 313.3,2535.7 315.3,2535.2 316.1,2535.7 316.9,2535.8 317.7,2533.6 318.5,2534.1 319.3,2535.5 320.1,2534.9 320.9,2534.5 321.7,2534.2 322.5,2534.8 323.3,2534.2 324.1,2533.3 324.9,2533.8 325.7,2532.7 326.5,2533.8 327.3,2532.9 328.1,2531.5 328.9,2531.6 329.7,2531.7 330.5,2531.3 331.3,2530.4 332.1,2530.2 332.9,2529.1 333.7,2530.4 334.5,2528.8 335.3,2528 336.1,2528.2 336.9,2527.8 337.7,2527 338.5,2526.8 339.3,2527 340.1,2526.4 340.9,2525.9 341.7,2525.6 342.5,2523.8 343.3,2524.2 344.1,2522.8 344.9,2522.6 345.7,2521.9 346.5,2521.9 347.3,2520.6 348.1,2519.4 348.9,2517.6 349.7,2516.9 350.5,2516.5 351.3,2516 352.1,2513.7 352.9,2511.7 353.7,2509.9 354.5,2508.9 355.3,2506.8 356.1,2504.2 356.9,2501.9 357.7,2498.4 358.5,2495.6 359.3,2492.9 359.6,2492.7 360,2490 360.4,2487.8 360.7,2486.3 361.1,2485.2 361.4,2483.7 361.8,2481.9 362.2,2480.1 362.5,2478.5 362.9,2474.7 363.3,2472.6 363.6,2471.1 364,2468.5 364.4,2466.3 364.7,2463.3 365.1,2461.6 365.5,2458.4 365.8,2455.6 366.2,2451.8 366.6,2448.8 366.9,2445.2 367.3,2442.9 367.7,2438.9 368,2436.1 368.4,2433.2 368.8,2430.2 369.1,2427.6 369.5,2424.6 369.9,2421.3 370.2,2417.4 370.6,2415.1 371,2412.1 371.3,2407.7 371.7,2405.6 372.1,2403.2 372.4,2399.1 372.8,2397.9 373.1,2395.7 373.5,2393.6 373.9,2392.5 374.2,2390.4 374.6,2390.4 375,2391.3 375.3,2389.7 375.7,2390.1 376.1,2390.6 376.4,2391.1 376.8,2392.3 377.2,2393.7 377.5,2394.8 377.9,2397.1 378.3,2399 378.6,2400.8 379,2403 379.4,2405.5 379.7,2409.2 380.1,2412.4 380.5,2415.4 380.8,2419.4 381.2,2422.3 381.6,2425.3 381.9,2426.5 382.3,2431.1 382.7,2434.9 383,2438.5 383.4,2441.8 383.8,2444 384.1,2446.6 384.5,2449 384.8,2452 385.2,2455.5 385.6,2458.3 385.9,2460.7 386.3,2462.8 386.7,2465.4 387,2467.8 387.4,2468.7 387.8,2471.8 388.1,2473.9 388.5,2476.2 388.9,2477.2 389.2,2479.5 389.6,2480.7 390,2482.2 390.3,2483.4 390.7,2486.1 391.1,2487.3 391.4,2488.3 391.8,2491 392.2,2491.4 393,2494.2 393.8,2495.9 394.6,2498.6 395.4,2500.8 396.2,2502.3 397,2504 397.8,2505.4 398.6,2506 399.4,2507.8 400.2,2509.8 401,2509.5 401.8,2509.9 402.6,2511.5 403.4,2511.5 404.2,2513.1 405,2514.2 405.8,2514.2 406.6,2514.3 407.4,2514.5 408.2,2515 409,2515 409.8,2515.9 410.6,2517.2 411.4,2517.2 412.2,2517.5 413,2516.8 413.8,2516.5 414.6,2517.1 415.4,2517.3 416.2,2519.3 417,2520.1 417.8,2520 418.6,2519.4 419.4,2520.4 420.2,2520 421,2519.7 421.8,2519.8 422.6,2519.3 423.4,2519.8 424.2,2520.6 425,2520.8 425.8,2520.3 426.6,2520.9 427.4,2521.3 428.2,2522.2 429,2520 429.8,2521.1 430.6,2521.5 431.4,2521.2 432.2,2521.4 433,2521.7 433.8,2522.5 434.6,2522.4 435.4,2522.2 436.2,2521.7 436.9,2521.2 437.7,2520.9 438.5,2521.6 439.3,2522 440.1,2522.2 440.9,2522.8 441.7,2521.8 442.5,2523.4 443.3,2523.2 444.1,2522.9 444.9,2523.1 445.7,2522.7 446.5,2523.4 447.3,2522.1 448.1,2521.8 448.9,2521.8 449.7,2520.8 450.5,2522.7 451.3,2524 452.1,2523.2 452.9,2522.1 453.7,2521.7 454.5,2521.3 455.3,2521.9 456.1,2522.5 456.9,2522.1 457.7,2521.1 458.5,2520.1 459.3,2519 460.1,2519.3 460.9,2519.2 461.7,2519.2 462.5,2518.4 462.9,2517.3 463.3,2517.8 463.6,2516.6 464,2517.3 464.4,2516.8 464.7,2517.8 465.1,2515.8 465.5,2514.4 465.8,2512.9 466.2,2513.2 466.6,2512.5 466.9,2512.2 467.3,2511.6 467.7,2510.1 468,2510.4 468.4,2510.4 468.8,2509.4 469.1,2508 469.5,2507.3 469.9,2507 470.2,2506.7 470.6,2505.4 471,2505 471.3,2503.3 471.7,2502.4 472,2500.6 472.4,2500.5 472.8,2500.6 473.1,2499.2 473.5,2498.3 473.9,2497.5 474.2,2497.3 474.6,2497.2 475,2495.5 475.3,2494.7 475.7,2493.9 476.1,2493.3 476.4,2492.5 476.8,2492.6 477.2,2491.9 477.5,2491.4 477.9,2491 478.3,2490.3 478.6,2489.6 479,2490.6 479.4,2492.9 479.7,2492.5 480.1,2491.6 480.5,2491.9 480.8,2492.7 481.2,2493.9 481.6,2494.7 481.9,2495.4 482.3,2495.9 482.7,2497.4 483,2498.1 483.4,2498.8 483.7,2500.2 484.1,2501.4 484.5,2501.9 484.8,2502.3 485.2,2504.8 485.6,2505.3 485.9,2505.3 486.3,2506.1 486.7,2508.2 487,2509.2 487.4,2508.9 487.8,2510.2 488.1,2511.4 488.5,2512.2 488.9,2513.6 489.2,2515.6 489.6,2514.8 490,2516.2 490.3,2516.3 490.7,2517 491.1,2519.9 491.4,2520.4 491.8,2521.2 492.2,2520.9 492.5,2521.5 492.9,2522.8 493.3,2522.7 493.6,2523 494,2524.4 494.4,2525.5 494.7,2523.4 495.1,2525.1 495.4,2525.9 496.2,2526.9 497,2526.6 497.8,2526.4 498.6,2528.3 499.4,2529.9 500.2,2529.5 501,2530.2 501.8,2530.8 502.6,2531.1 503.4,2531.9 504.2,2532.4 505,2532.4 505.8,2533.1 506.6,2533.3 507.4,2532.8 508.2,2533.7 509,2533.5 509.8,2534.5 510.6,2534.8 511.4,2534.9 512.2,2535.2 513,2535.2 513.8,2535.1 514.6,2535.3 515.4,2535.7 516.2,2536.6 517,2535.8 517.8,2536.3 518.6,2535 519.4,2535.4 520.2,2536.2 521,2534.7 521.8,2536.6 522.6,2536.8 523.4,2538 524.2,2538.9 525,2537.5 525.8,2536.7 526.6,2536.2 527.4,2537.7 528.2,2535 528.6,2534.7 529,2535.3 529.3,2534.3 529.7,2534.1 530.1,2533 530.4,2532.1 530.8,2532.6 531.2,2530.9 531.5,2531.1 531.9,2530.7 532.3,2529.4 532.6,2526.7 533,2527.3 533.4,2527.4 533.7,2528.1 534.1,2528.1 534.5,2530 534.8,2528.9 535.2,2530.8 535.6,2530.3 535.9,2531.6 536.3,2531.6 536.7,2531.5 537,2533.4 537.4,2533.7 537.7,2534.6 538.1,2536.2 538.5,2536.8 538.8,2537.5 539.2,2537.5 540,2537 540.8,2538.4 541.6,2538.7 542.4,2538.8 543.2,2538.7 544,2538.6 544.8,2538.4 545.6,2538.8 546.4,2538.8 547.2,2539.3 548,2539.8 548.8,2539.5 549.6,2538.8 550.4,2538.7 551.2,2538.7 552,2538.7 552.8,2539 553.6,2538.8 554.4,2539.2 556.3,2538.7 558.3,2538.5 560.2,2539.1 562.2,2539.4 564.1,2538.6 566.1,2538.5 568,2539 569.9,2538.9 571.9,2539.4 573.8,2541.1 575.8,2540.5 577.7,2540.9 579.7,2541.2 581.6,2541 583.5,2540 585.5,2541.1 587.4,2541.9 588.2,2541 589,2541.3 589.8,2539.4 590.6,2540.2 591.4,2540.3 592.2,2539.9 593,2538.8 593.8,2540.3 594.6,2540.5 595.4,2540.9 596.2,2540.5 597,2540.8 597.8,2540.1 598.6,2539.9 599.4,2540.5 600.2,2539.6 601,2540.2 601.8,2540.6 602.2,2539.9 602.6,2539.9 602.9,2539.9 603.3,2540.4 603.7,2539.7 604,2539.9 604.4,2539.9 604.7,2538.9 605.1,2537.4 605.5,2536.8 605.8,2536.9 606.2,2536.6 606.6,2537.2 606.9,2536.7 607.3,2536 607.7,2536.8 608,2536.7 608.4,2536.5 608.8,2536.8 609.1,2536.7 609.5,2537.1 609.9,2538.2 610.2,2538.9 610.6,2538.5 611,2538.4 611.3,2539.1 611.7,2539.7 612.1,2539.1 612.4,2539.1 612.8,2540.1 613.6,2538.7 614.4,2539.6 615.2,2539.2 616,2541.1 616.8,2541.3 617.6,2542.2 618.4,2541.7 619.2,2541.9 620,2541.2 620.8,2540.1 621.6,2540.1 622.4,2540.8 623.2,2541.1 624,2541.8 624.8,2541.4 625.6,2540.5 626.4,2540.3 627.2,2540.7 628,2540.3 629.9,2541.7 631.9,2541.8 633.8,2542.3 635.8,2541.8 637.7,2541.8 639.6,2542.2 641.6,2542.1 643.5,2541.9 645.5,2541 647.4,2541.4 649.4,2541.3 651.3,2540.6 653.2,2541 655.2,2541.5 657.1,2542.3 659.1,2542.3 661,2540.7 663,2541.7 664.9,2542.3 666.8,2542.4 668.8,2541.3 670.7,2542.2 672.7,2542.6 674.6,2540.9 676.5,2540.4 678.5,2540.2 680.4,2540 682.4,2540.2 684.3,2541.2 686.3,2541.9 688.2,2541.4 690.1,2542.1 692.1,2541.1 694,2541.2 696,2541.6 697.9,2541.2 699.9,2541.1 701.8,2541.6 703.7,2540.7 705.7,2539.5 707.6,2540.7 709.6,2539.9 711.5,2540.8 713.5,2540.1 715.4,2539 717.3,2540.5 719.3,2540.5 721.2,2540 723.2,2539.3 725.1,2539 727,2539.9 729,2538.7 730.9,2539.8 732.9,2538.3 734.8,2538.3 736.8,2538.3 738.7,2538.2 740.6,2538 742.6,2538.5 743.4,2538.1 744.2,2537.8 745,2538.5 745.8,2538.6 746.6,2538.6 747.4,2538.4 748.2,2538.5 749,2537.2 749.8,2537.1 750.6,2537.1 751.4,2536.5 752.2,2536.8 753,2538.6 753.8,2539 754.6,2538.5 755.4,2538.3 756.2,2538.2 757,2537.3 757.8,2537.9 758.6,2538 759.4,2537.5 760.2,2537.3 761,2537.4 761.8,2538.1 762.6,2537.3 763.4,2535.9 764.2,2535.6 765,2535.2 765.8,2535.1 766.6,2535.1 767.4,2535.3 768.2,2534.8 769,2534.9 769.8,2534.7 770.6,2533.5 771.4,2533.7 772.2,2534.6 773,2533.7 773.8,2533.5 774.6,2533.7 775.4,2533.6 776.2,2532.2 777,2532.5 777.8,2531.7 778.6,2531.2 779.4,2532.6 780.2,2531.4 781,2531.5 781.8,2530 782.6,2529.9 783.4,2528.6 784.2,2529 785,2527.8 785.8,2527.1 786.6,2526.2 787.4,2524.5 788.2,2523.5 789,2522 789.8,2521.3 790.6,2520.9 790.9,2519.8 791.3,2518.4 791.7,2518 792,2517.3 792.4,2517.1 792.8,2515.2 793.1,2514.8 793.5,2513.8 793.9,2512.5 794.2,2511.6 794.6,2510.8 795,2509.4 795.3,2508.6 795.7,2508.2 796.1,2506 796.4,2505.7 796.8,2505.6 797.2,2504.7 797.5,2504.1 797.9,2503.1 798.3,2500.4 798.6,2499.3 799,2497 799.4,2495.4 799.7,2495 800.1,2493 800.4,2491.6 800.8,2490.8 801.2,2490 801.5,2488.1 801.9,2486.4 802.3,2484.6 802.6,2483.3 803,2483.1 803.4,2480.6 803.7,2479.1 804.1,2479.6 804.5,2478.5 804.8,2477 805.2,2475.6 805.6,2474.6 805.9,2474.2 806.3,2474.5 806.7,2474.7 807,2475.7 807.4,2474.1 807.8,2473.4 808.1,2472.9 808.5,2474.3 808.9,2474.7 809.2,2475.9 809.6,2476.5 810,2477.4 810.3,2477.7 810.7,2478.2 811.1,2479.5 811.4,2481 811.8,2482.4 812.1,2482 812.5,2484.3 812.9,2485.9 813.2,2486.4 813.6,2489.9 814,2491 814.3,2491.4 814.7,2493.1 815.1,2494.1 815.4,2495.4 815.8,2497.2 816.2,2499.2 816.5,2499.6 816.9,2500.2 817.3,2501.8 817.6,2502.4 818,2504.3 818.4,2504 818.7,2505.8 819.1,2508.1 819.5,2509.3 819.8,2510.4 820.2,2509.7 820.6,2511.7 820.9,2513.3 821.3,2514.6 821.7,2513.7 822,2514.7 822.4,2515.9 822.8,2516.7 823.1,2516.6 823.5,2517.2 823.8,2518.6 824.2,2519.9 824.6,2519.5 824.9,2520.2 825.7,2522 826.5,2522.6 827.3,2523.1 828.1,2524.9 828.9,2525.9 829.7,2526.1 830.5,2526 831.3,2527 832.1,2527.1 832.9,2527.4 833.7,2528.2 834.5,2529.4 835.3,2528.8 836.1,2530.7 836.9,2531.2 837.7,2530.5 838.5,2530.7 839.3,2531.8 840.1,2531.8 840.9,2532.5 841.7,2532.3 842.5,2531.9 843.3,2533 844.1,2531.3 844.9,2533.1 845.7,2534.2 846.5,2535 847.3,2535.9 848.1,2536.2 848.9,2535.6 849.7,2535.4 850.5,2535.3 851.3,2534.8 852.1,2535.9 852.9,2536.3 853.7,2535 854.5,2536.1 855.3,2535.6 856.1,2535.7 856.9,2537.5 857.7,2537 858.5,2536.8 859.3,2535.8 860.1,2536.8 860.9,2536.5 861.7,2535.9 862.5,2536.2 863.3,2535.5 864.1,2535.2 864.9,2536.5 865.7,2536.3 866.5,2537.7 867.3,2536.2 868.1,2535.5 868.9,2537 869.7,2537.3 870.5,2537.1 871.3,2536.8 872.1,2537.6 872.9,2537.8 874.9,2537.7 876.8,2538.7 878.8,2539.5 880.7,2537.9 882.6,2538.5 884.6,2538.4 886.5,2537.6 888.5,2537.7 890.4,2537.5 892.4,2539.1 894.3,2538.9 896.2,2539 898.2,2539.1 900.1,2537.8 902.1,2537.6 904,2538.4 906,2538.8 907.9,2538.1 909.8,2536.8 911.8,2538.3 913.7,2538.1 915.7,2537.1 917.6,2536.9 919.5,2536.9 921.5,2537.3 923.4,2539.2 925.4,2538.4 927.3,2537.4 929.3,2537.8 931.2,2537.3 933.1,2536.5 935.1,2537.2 937,2537.6 939,2536.7 940.9,2537.3 942.9,2537 943.7,2538.4 944.5,2537.1 945.3,2536.9 946.1,2536.1 946.9,2536.7 947.7,2536.9 948.5,2536.2 949.3,2536.4 950.1,2537 950.9,2536 951.7,2537.1 952.5,2536.6 953.3,2537 954.1,2536.2 954.9,2536 955.7,2535.9 956.5,2536.9 957.3,2537 958.1,2534.8 958.9,2535 959.7,2535.8 960.5,2535.7 961.3,2535.8 962.1,2535.2 962.9,2534.9 963.7,2534.9 964.5,2535.3 965.3,2534.4 966.1,2534.4 966.9,2534.9 967.7,2534.9 968.5,2533.3 969.3,2533.4 970.1,2534.8 970.9,2535.2 971.7,2534.2 972.5,2533.9 973.3,2533.2 974,2533.7 974.8,2533.6 975.6,2532.2 976.4,2530.9 977.2,2531.3 978,2531.2 978.8,2530.3 979.6,2531.7 980.4,2532 981.2,2531.9 982,2530.6 982.8,2530 983.6,2530.9 984.4,2530.2 985.2,2530.7 986,2529.7 986.8,2528.9 987.6,2528.4 988.4,2526.4 989.2,2525.2 990,2525.1 990.8,2524.8 991.6,2523.5 992.4,2523.5 992.8,2521.6 993.2,2522.6 993.5,2521.8 993.9,2521.8 994.3,2521.7 994.6,2520.5 995,2519.6 995.4,2517.1 995.7,2516.9 996.1,2516.9 996.5,2517 996.8,2517 997.2,2515.5 997.6,2514.6 997.9,2513 998.3,2512.7 998.7,2512.4 999,2510.9 999.4,2510.1 999.8,2509.1 1000.1,2507.5 1000.5,2506.7 1000.9,2506.7 1001.2,2505.9 1001.6,2504.8 1002,2503.7 1002.3,2502.3 1002.7,2500.8 1003,2500.3 1003.4,2499.6 1003.8,2498.3 1004.1,2496.9 1004.5,2496 1004.9,2495.7 1005.2,2495.4 1005.6,2494.1 1006,2492.9 1006.3,2491.7 1006.7,2491.4 1007.1,2490.3 1007.4,2489.5 1007.8,2488.5 1008.2,2489.1 1008.5,2488.9 1008.9,2487.2 1009.3,2486.5 1009.6,2487.7 1010,2487.7 1010.4,2487.2 1010.7,2487.1 1011.1,2488.2 1011.5,2488.3 1011.8,2488.8 1012.2,2488.9 1012.6,2489.7 1012.9,2491.1 1013.3,2491.3 1013.7,2492.7 1014,2493.3 1014.4,2493.8 1014.7,2494.1 1015.1,2494.5 1015.5,2495.6 1015.8,2496.6 1016.2,2497.7 1016.6,2500.6 1016.9,2500.8 1017.3,2502.9 1017.7,2503.2 1018,2503.6 1018.4,2504.6 1018.8,2506.4 1019.1,2506.6 1019.5,2507.7 1019.9,2508.1 1020.2,2509.4 1020.6,2510.4 1021,2511 1021.3,2513 1021.7,2513.5 1022.1,2514 1022.4,2513.6 1022.8,2515.3 1023.2,2516.3 1023.5,2515.2 1023.9,2515.7 1024.3,2516.5 1024.6,2517.9 1025,2518.9 1025.4,2518.7 1025.7,2519.9 1026.1,2520.9 1026.4,2521.2 1026.8,2521.9 1027.2,2522.2 1027.5,2523 1027.9,2523.8 1028.3,2524 1029.1,2525.1 1029.9,2525.7 1030.7,2526.1 1031.5,2526.2 1032.3,2525.6 1033.1,2526.1 1033.9,2527.3 1034.7,2528.8 1035.5,2530.2 1036.3,2530.3 1037.1,2531.7 1037.9,2531.3 1038.7,2531.2 1039.5,2531.1 1040.3,2531.1 1041.1,2532.4 1041.9,2532.2 1042.7,2531.8 1043.5,2532.2 1044.3,2532.1 1045.1,2533 1045.9,2533.8 1046.7,2533.3 1047.5,2533.8 1048.3,2533.6 1049.1,2533.1 1049.9,2534.8 1050.7,2534.5 1051.5,2533.8 1052.3,2534.6 1053.1,2534.3 1053.9,2535 1054.7,2533.7 1055.5,2533.9 1055.8,2535.2 1056.2,2535 1056.6,2535 1056.9,2534.2 1057.3,2533.9 1057.7,2534 1058,2534.1 1058.4,2534.7 1058.8,2534.5 1059.1,2533.8 1059.5,2534 1059.9,2534.3 1060.2,2534.4 1060.6,2534 1061,2534.2 1061.3,2534.7 1061.7,2535.2 1062.1,2534.6 1062.4,2533.5 1062.8,2534.8 1063.1,2534.7 1063.5,2533.9 1063.9,2534.2 1064.2,2534.4 1064.6,2534.3 1065,2532.6 1065.3,2533.8 1065.7,2534.2 1066.1,2533 1066.4,2533.6 1066.8,2534.3 1067.2,2533.6 1067.5,2534.2 1067.9,2532.7 1068.3,2533.3 1068.6,2534.1 1069,2533.7 1069.4,2534.3 1069.7,2535 1070.1,2533.4 1070.5,2533.2 1070.8,2533.8 1071.2,2534.7 1071.6,2535.5 1071.9,2535.3 1072.3,2535.2 1072.7,2535.6 1073,2532.7 1073.4,2534.3 1073.8,2534.7 1074.1,2534.1 1074.5,2535.1 1074.8,2535.6 1075.2,2535.8 1075.6,2534.5 1075.9,2535.6 1076.3,2536 1076.7,2535.1 1077,2534.5 1077.4,2535 1077.8,2534.9 1078.1,2534.9 1078.5,2534.4 1078.9,2535.3 1079.2,2534.7 1079.6,2536 1080,2534.5 1080.3,2533.8 1080.7,2533.9 1081.1,2534.2 1081.4,2534.3 1081.8,2535.1 1082.2,2535.8 1082.5,2535.3 1082.9,2536.5 1083.3,2536.7 1083.6,2536.4 1084,2537.2 1084.4,2537 1084.7,2535.4 1085.1,2535.9 1085.5,2535.7 1085.8,2536.5 1086.2,2536.6 1086.5,2537.4 1086.9,2536.9 1087.3,2536.6 1087.6,2537 1088,2537.8 1088.4,2537 1088.7,2538.1 1089.1,2536.9 1089.5,2536.2 1089.8,2536.6 1090.2,2536 1090.6,2535.6 1090.9,2535.1 1091.3,2535.8 1091.7,2537 1092.5,2536.8 1093.3,2536.4 1094.1,2536.6 1094.9,2537.6 1095.7,2537.3 1096.5,2537.3 1097.3,2537.5 1098.1,2536.5 1098.9,2536.7 1099.7,2536.4 1100.5,2536.8 1101.3,2537.3 1102.1,2537.2 1102.9,2537.2 1103.7,2536.9 1104.5,2537.4 1105.3,2539.3 1106.1,2538.4 1106.9,2538.4 1107.7,2538.5 1108.5,2538.4 1109.3,2538.4 1110.1,2538.6 1110.9,2538.3 1111.7,2538.3 1112.5,2537.6 1113.3,2537.6 1114.1,2538 1114.9,2538 1115.7,2537.7 1116.5,2536.9 1117.3,2538.8 1118.1,2538.7 1118.9,2537.5 1119.7,2537.2 1120.5,2537.7 1121.3,2538.1 1122.1,2537.8 1122.9,2537.7 1123.7,2537.4 1124.5,2538.9 1125.3,2538.5 1126.1,2538.9 1126.9,2538.4 1127.7,2538.1 1128.5,2538.2 1129.3,2538.7 1130.1,2537.5 1130.9,2537 1131.7,2537.7 1132.5,2536.3 1133.3,2537.8 1134.1,2538.8 1134.9,2539.7 1135.7,2538 1136.5,2538.5 1137.3,2538.2 1138.1,2538.9 1138.9,2539.3 1139.7,2537.5 1140.5,2538.7 1141.3,2539 1142.1,2539 1144,2538.8 1145.9,2539.4 1147.9,2538.5 1149.8,2538.7 1151.8,2537.2 1153.7,2537.4 1155.7,2537.1 1157.6,2537.9 1159.5,2539.2 1161.5,2538.7 1163.4,2539.9 1165.4,2539.8 1167.3,2538.9 1169.2,2539 1171.2,2538.8 1173.1,2538.8 1175.1,2537.5 1177,2537.8 1179,2537.8 1180.9,2538.4 1182.8,2538.8 1184.8,2538.4 1186.7,2538.8 1188.7,2539.3 1190.6,2539.2 1192.6,2537.9 1194.5,2538 1196.4,2538.6 1198.4,2538.8 1200.3,2538.6 1202.3,2538.4 1204.2,2539.4 1206.2,2538.9 1208.1,2538.7 1210,2538.4 1212,2539.7 1213.9,2540.1 1215.9,2539.7 1217.8,2538.7 1219.7,2538.8 1221.7,2538.6 1223.6,2539.1 1225.6,2539.4 1227.5,2538.4 1229.5,2538.5 1231.4,2538.3 1233.3,2537.8 1235.3,2538.1 1237.2,2540 1238,2539.2 1238.8,2539.4 1239.6,2539.3 1240.4,2539.9 1241.2,2538.9 1242,2539.7 1242.8,2539.6 1243.6,2539.7 1244.4,2539.4 1245.2,2538.8 1246,2539 1246.8,2538.4 1247.6,2538.6 1248.4,2538.4 1249.2,2537.5 1250,2538.8 1250.8,2538.5 1251.6,2537.5 1252.4,2537.3 1253.2,2538.3 1254,2539.5 1254.8,2538.2 1255.6,2538.2 1256.4,2540.4 1257.2,2539.1 1258,2538.6 1258.8,2538.8 1259.6,2538.3 1260.4,2539.6 1261.2,2538.9 1262,2538.1 1262.8,2538.4 1263.6,2538.2 1264.4,2539 1265.2,2539 1266,2538.5 1266.8,2538.2 1267.6,2538.4 1268.4,2538.9 1269.2,2540 1270,2538.7 1270.8,2538.3 1271.6,2538.2 1272.4,2538.3 1273.2,2537.3 1274,2537.6 1274.8,2538.1 1275.6,2539 1276.4,2539.3 1277.2,2539 1278,2538.6 1278.8,2537.9 1279.6,2538.6 1280.4,2539.1 1281.2,2539.5 1282,2538.5 1282.8,2538.4 1283.6,2537.6 1284.4,2538.1 1285.2,2536.9 1286,2536 1286.8,2536.8 1287.6,2536.4 1288.4,2536.5 1289.2,2538.6 1290,2538.6 1290.4,2538.4 1290.7,2536.9 1291.1,2537.4 1291.5,2538.8 1291.8,2538 1292.2,2537.7 1292.6,2536.2 1292.9,2535.2 1293.3,2536.4 1293.7,2537 1294,2535.7 1294.4,2537 1294.8,2538 1295.1,2537.2 1295.5,2538.6 1295.9,2537.2 1296.2,2535.3 1296.6,2536.6 1297,2536.8 1297.3,2536.5 1297.7,2536.1 1298.1,2535.2 1298.4,2536.5 1298.8,2537 1299.2,2537.1 1299.5,2536.4 1299.9,2535.5 1300.3,2535.3 1300.6,2534.6 1301,2534.2 1301.4,2535 1301.7,2534.4 1302.1,2534.9 1302.4,2535.9 1302.8,2536.3 1303.2,2534.6 1303.5,2534.8 1303.9,2534.3 1304.3,2535 1304.6,2536.7 1305,2535.3 1305.4,2533.9 1305.7,2533.5 1306.1,2533.3 1306.5,2534.1 1306.8,2535.3 1307.2,2535.5 1307.6,2534.6 1307.9,2533.3 1308.3,2534.5 1308.7,2534.5 1309,2535 1309.4,2534.1 1309.8,2533.6 1310.1,2534.6 1310.5,2534.2 1310.9,2534.3 1311.2,2535 1311.6,2534.5 1312,2533.8 1312.3,2533.8 1312.7,2532.7 1313.1,2534.9 1313.4,2534 1313.8,2534.5 1314.1,2535.1 1314.5,2534.6 1314.9,2535.3 1315.2,2535.4 1315.6,2535.3 1316,2535.8 1316.3,2536.1 1316.7,2536.1 1317.1,2537.1 1317.4,2536.5 1317.8,2536.6 1318.2,2536 1318.5,2536.3 1318.9,2535.2 1319.3,2535.1 1319.6,2535.3 1320,2535 1320.4,2535.7 1320.7,2535.1 1321.1,2534 1321.5,2534.8 1321.8,2535.2 1322.2,2536.6 1322.6,2538.1 1322.9,2537.5 1323.3,2536.7 1323.7,2537.1 1324,2536.3 1324.4,2537.6 1324.8,2536.5 1325.1,2536.3 1325.5,2535.9 1325.8,2537.4 1326.2,2538.9 1326.6,2537.4 1326.9,2536.7 1327.3,2537 1327.7,2538.2 1328,2538.3 1328.4,2537 1328.8,2538.1 1329.6,2536.8 1330.4,2537.5 1331.2,2535.7 1332,2536.4 1332.8,2537.4 1333.6,2537 1334.4,2537.9 1335.2,2538 1336,2538.8 1336.8,2538.6 1337.6,2538.8 1338.4,2537.4 1339.2,2538.2 1340,2537.5 1340.8,2538.6 1341.6,2537.9 1342.4,2538.3 1343.2,2539 1344,2538.6 1344.8,2538.3 1345.6,2539.2 1346.4,2540.2 1347.2,2539.7 1348,2539.8 1348.8,2539.6 1349.6,2538.2 1350.4,2539.3 1351.2,2538.4 1352,2538.7 1352.8,2537.6 1353.6,2538.2 1354.4,2538.4 1355.2,2540.5 1356,2539.9 1356.8,2539.1 1357.6,2538.6 1358.4,2538.7 1359.2,2538.5 1360,2537.7 1360.8,2538.5 1361.6,2538.5 1362.4,2539.7 1363.2,2539.8 1364,2540 1364.8,2540.2 1365.6,2538.4 1366.4,2537.4 1367.2,2538 1368,2539.5 1368.8,2537.8 1369.6,2538.3 1370.4,2537.6 1371.2,2539.3 1372,2539.8 1372.8,2539.7 1373.6,2539.1 1374.4,2537.7 1375.2,2538.1 1376,2538.2 1376.8,2538.4 1377.6,2538.1 1378.4,2537.8 1379.2,2538.7 1380,2538.6 1380.8,2538.7 1381.6,2539.4 1382.4,2538.7 1384.3,2537.9 1386.2,2537.2 1388.2,2538.5 1390.1,2539.2 1392.1,2538.8 1394,2539.5 1396,2539.1 1397.9,2538.7 1399.8,2538.8 1400.6,2538.5 1401.4,2537.8 1402.2,2536.9 1403,2537.9 1403.8,2538.4 1404.6,2538.9 1405.4,2538.9 1406.2,2539.6 1407,2538.3 1407.8,2538.5 1408.6,2539 1409.4,2538.9 1410.2,2539.1 1411,2539.2 1411.8,2538.9 1412.6,2539 1413.4,2538.8 1414.2,2537 1415,2538.8 1415.8,2538.6 1416.6,2538.2 1417.4,2538.2 1418.2,2538.3 1419,2539.3 1419.8,2539.1 1420.6,2539.3 1421.4,2538.8 1422.2,2538.5 1423,2538.1 1423.8,2537.4 1424.6,2538.7 1425.4,2539.3 1426.2,2538.7 1427,2538.1 1427.8,2537.2 1428.6,2537.5 1429.4,2537.2 1430.2,2539.4 1431,2537.9 1431.8,2538 1432.6,2538 1433.4,2538.7 1434.2,2538.3 1435,2537.9 1435.8,2538.1 1436.6,2537 1437.4,2537.4 1438.2,2537.5 1439,2537.8 1439.8,2537.9 1440.6,2539.1 1441.4,2537.8 1442.2,2536.7 1443,2537.6 1443.8,2537.2 1444.6,2537 1445.4,2537 1446.2,2536.6 1447,2536.1 1447.8,2537.2 1448.6,2536.5 1449.4,2535 1450.2,2534.9 1451,2534.5 1451.8,2534.8 1452.6,2535.2 1453.4,2535.3 1454.2,2536.1 1455,2535.8 1455.4,2535.5 1455.8,2535.9 1456.1,2535.3 1456.5,2534.2 1456.9,2533.9 1457.2,2535.2 1457.6,2534.5 1458,2533.1 1458.3,2532.7 1458.7,2533.6 1459,2534.8 1459.4,2534.7 1459.8,2535.2 1460.1,2534.5 1460.5,2533.6 1460.9,2532.7 1461.2,2532.1 1461.6,2532.5 1462,2532.1 1462.3,2530.7 1462.7,2530.1 1463.1,2530.5 1463.4,2531 1463.8,2531.1 1464.2,2532.8 1464.5,2532.7 1464.9,2530.5 1465.3,2530.1 1465.6,2531.5 1466,2530.2 1466.4,2530 1466.7,2529.1 1467.1,2529.3 1467.5,2530.1 1467.8,2530.3 1468.2,2529.5 1468.6,2528.2 1468.9,2527.6 1469.3,2526.9 1469.7,2527 1470,2526.7 1470.4,2526.2 1470.7,2527.8 1471.1,2527.6 1471.5,2528.4 1471.8,2528 1472.2,2527.6 1472.6,2525.7 1472.9,2525.7 1473.3,2525.1 1473.7,2525 1474,2525.1 1474.4,2525.5 1474.8,2525.9 1475.1,2525.9 1475.5,2525.3 1475.9,2525.1 1476.2,2524.7 1476.6,2524.3 1477,2525.3 1477.3,2525.3 1477.7,2525.4 1478.1,2527.4 1478.4,2527.7 1478.8,2527.1 1479.2,2526.9 1479.5,2526.1 1479.9,2526.5 1480.3,2526.9 1480.6,2526.2 1481,2528.4 1481.4,2528.6 1481.7,2528.4 1482.1,2528.6 1482.4,2528.3 1482.8,2527.8 1483.2,2528.9 1483.5,2529.4 1483.9,2530.1 1484.3,2529.7 1484.6,2528.9 1485,2528.6 1485.4,2529.4 1485.7,2529.4 1486.1,2530.3 1486.5,2530.9 1486.8,2531.4 1487.2,2532.4 1487.6,2532.8 1487.9,2533.5 1488.3,2532.2 1488.7,2532.8 1489,2533.6 1489.4,2533.6 1489.8,2533.2 1490.1,2532.4 1490.5,2533.5 1490.9,2533.4 1491.2,2533.8 1491.6,2534.2 1492,2533.4 1492.3,2534.1 1492.7,2534.8 1493.1,2534.2 1493.4,2534.8 1493.8,2535 1494.1,2535.1 1494.5,2534.2 1494.9,2535.4 1495.2,2535.4 1495.6,2535.6 1496.4,2535.6 1497.2,2535.1 1498,2534.4 1498.8,2535.2 1499.6,2535.4 1500.4,2535 1501.2,2535.3 1502,2534.2 1502.8,2534.9 1503.6,2535.1 1504.4,2534.7 1505.2,2534.7 1506,2535.7 1506.8,2535.1 1507.6,2534.8 1508.4,2534.3 1508.8,2533.9 1509.1,2535.8 1509.5,2536 1509.9,2535.9 1510.2,2536.8 1510.6,2536.4 1511,2535.2 1511.3,2535.2 1511.7,2535.2 1512.1,2535.3 1512.4,2535.3 1512.8,2534.3 1513.2,2534.5 1513.5,2534.5 1513.9,2534.4 1514.3,2534.3 1514.6,2533.8 1515,2533.5 1515.4,2533.8 1515.7,2534.2 1516.1,2535.3 1516.5,2535.1 1516.8,2535 1517.2,2535.1 1517.5,2536.1 1517.9,2535.6 1518.3,2534.5 1518.6,2533.9 1519,2533 1519.4,2532.4 1519.7,2532.5 1520.1,2533 1520.5,2534.1 1520.8,2534.6 1521.2,2534 1521.6,2532.7 1521.9,2532.5 1522.3,2532.2 1522.7,2532.1 1523,2532.1 1523.4,2532.8 1523.8,2532.3 1524.1,2530.9 1524.5,2530.6 1524.9,2530.2 1525.2,2530.4 1525.6,2530.1 1526,2529.5 1526.3,2530.1 1526.7,2531.2 1527.1,2531 1527.4,2530.9 1527.8,2531.2 1528.2,2531.9 1528.5,2532.9 1528.9,2531.5 1529.2,2531.2 1529.6,2530.5 1530,2531.5 1530.3,2532.1 1530.7,2532.2 1531.1,2532.1 1531.4,2531.9 1531.8,2532.7 1532.2,2532.3 1532.5,2532 1532.9,2532.7 1533.3,2531.6 1533.6,2531.9 1534,2532.8 1534.4,2531.9 1534.7,2532.5 1535.1,2532.6 1535.5,2532.1 1535.8,2531.1 1536.2,2531.7 1536.6,2532.1 1536.9,2533 1537.3,2534.2 1537.7,2534.6 1538,2533.9 1538.4,2534.7 1538.8,2534.6 1539.1,2535.1 1539.5,2535.2 1539.9,2534.3 1540.2,2534.1 1540.6,2535.2 1540.9,2534.8 1541.3,2534.7 1541.7,2535.4 1542,2535.9 1542.4,2535.4 1542.8,2535.3 1543.1,2535.2 1543.5,2536.1 1543.9,2535.7 1544.2,2535.7 1544.6,2536.6 1545,2535.8 1545.3,2535.9 1545.7,2536.2 1546.1,2535.4 1546.4,2536.2 1546.8,2537.1 1547.2,2537.1 1547.5,2537.7 1547.9,2538.1 1548.3,2537.3 1548.6,2537.2 1549,2537.3 1549.4,2537.3 1549.7,2538.2 1550.5,2537.5 1551.3,2537.4 1552.1,2538.3 1552.9,2538.7 1553.7,2538.5 1554.5,2537.9 1555.3,2539.1 1556.1,2538 1556.9,2537.3 1557.7,2537.4 1558.5,2537.7 1559.3,2539.6 1560.1,2539 1560.9,2539 1561.7,2538.4 1562.5,2538.4 1563.3,2537.7 1564.1,2538.5 1564.9,2539.1 1565.7,2538.6 1566.5,2537.5 1567.3,2538 1568.1,2538.2 1568.9,2539.3 1569.7,2539.1 1570.5,2538.9 1571.3,2538.9 1572.1,2537.8 1572.9,2538.8 1573.7,2538.1 1574.5,2538.9 1575.3,2539 1576.1,2539 1576.9,2540.6 1577.7,2540.6 1578.5,2539.3 1579.3,2538.1 1580.1,2539.2 1580.9,2539.4 1581.7,2539.3 1582.5,2539.1 1583.3,2539.9 1584.1,2539.7 1584.9,2538.9 1585.7,2538.2 1586.5,2540.4 1587.3,2540.2 1588.1,2539.8 1588.9,2539.1 1589.7,2539.3 1590.5,2539.8 1591.3,2539.7 1592.1,2539.6 1592.9,2540.5 1593.7,2539.9 1594.5,2539.2 1595.3,2538.4 1596.1,2537.6 1596.9,2537.4 1597.7,2538.6 1598.5,2539.7 1599.3,2539 1600.1,2538.6 1600.9,2538.8 1601.7,2538.5 1602.5,2538.8 1603.3,2539.3 1604.1,2539.8 1604.9,2539.7 1605.7,2539.7 1606.5,2538.9 1608.5,2539.7 1610.4,2539.4 1612.3,2540.1 1614.3,2540 1616.2,2540.9 1618.2,2541.7 1620.1,2540.2 1622,2539.9 1624,2540 1625.9,2540.5 1627.9,2539.5 1629.8,2540.1 1631.8,2540.2 1633.7,2540.2 1635.6,2540.3 1637.6,2541.1 1639.5,2539.5 1641.5,2538.9 1643.4,2539 1645.4,2539.4 1647.3,2538.7 1649.2,2538.5 1651.2,2539.7 1653.1,2539 1655.1,2540.7 1657,2540.4 1659,2540.3 1659.8,2540.6 1660.6,2539.8 1661.4,2540.3 1662.2,2540 1663,2540.5 1663.8,2539.4 1664.6,2539.3 1665.4,2538.5 1666.2,2539.3 1667,2539.7 1667.8,2540.2 1668.6,2540.8 1669.4,2540.8 1670.2,2540.4 1670.9,2540.5 1671.7,2540 1672.5,2540.6 1673.3,2540.8 1674.1,2540.7 1674.9,2539.3 1675.7,2540.3 1676.5,2538.8 1677.3,2539.2 1678.1,2538.6 1678.9,2539.8 1679.7,2539.6 1680.5,2540.2 1681.3,2540.1 1682.1,2541.6 1682.9,2541.3 1683.7,2541.3 1684.5,2541.1 1685.3,2540.2 1686.1,2540.6 1686.9,2539.6 1687.7,2539.4 1688.5,2539.5 1689.3,2540.1 1690.1,2539.5 1690.9,2539.8 1691.7,2540.6 1692.5,2540.5 1693.3,2540.2 1694.1,2540.7 1694.9,2540.6 1695.7,2540.2 1696.5,2541.6 1697.3,2541 1698.1,2539.8 1698.9,2540.2 1699.7,2540.9 1700.5,2540.2 1701.3,2538.9 1702.1,2539.1 1702.9,2538.7 1703.7,2539.4 1704.5,2539.1 1705.3,2539.5 1706.1,2538.9 1706.9,2539.3 1707.7,2540.3 1708.5,2539.8 1709.3,2539.6 1710.1,2539.2 1710.9,2539.2 1711.7,2538.9 1712.5,2539.5 1713.3,2539.5 1714.1,2538.5 1714.9,2539.2 1715.7,2539.2 1716.5,2538.6 1717.3,2538.9 1718.1,2539.5 1718.9,2538.8 1719.7,2538 1720.5,2538.3 1720.9,2539 1721.3,2538.6 1721.6,2538.5 1722,2538.5 1722.4,2538 1722.7,2538.3 1723.1,2537.5 1723.5,2537.7 1723.8,2536.4 1724.2,2537.1 1724.6,2538.2 1724.9,2537.6 1725.3,2537.2 1725.7,2536.9 1726,2537.6 1726.4,2537.5 1726.8,2537 1727.1,2536.4 1727.5,2536.8 1727.8,2535.7 1728.2,2535.5 1728.6,2537.1 1728.9,2536.5 1729.3,2535.7 1729.7,2535.7 1730,2535.6 1730.4,2536.2 1730.8,2536.3 1731.1,2536 1731.5,2535.3 1731.9,2534.8 1732.2,2535.2 1732.6,2534.9 1733,2534.6 1733.3,2534 1733.7,2534.2 1734.1,2535.3 1734.4,2534.8 1734.8,2534.7 1735.2,2533.3 1735.5,2534 1735.9,2535.7 1736.3,2533.7 1736.6,2532.9 1737,2533.4 1737.4,2533.1 1737.7,2533.3 1738.1,2532.7 1738.5,2533.7 1738.8,2532.9 1739.2,2532.7 1739.5,2532.6 1739.9,2532.8 1740.3,2533.1 1740.6,2533.1 1741,2532.5 1741.4,2531.8 1741.7,2532.6 1742.1,2533.3 1742.5,2532.4 1742.8,2533.8 1743.2,2532.4 1743.6,2533.1 1743.9,2534.5 1744.3,2533.3 1744.7,2532.4 1745,2533.1 1745.4,2534.3 1745.8,2533.4 1746.1,2533.5 1746.5,2534.2 1746.9,2534.1 1747.2,2533.9 1747.6,2534.1 1748,2534.6 1748.3,2532.8 1748.7,2533.6 1749.1,2534.3 1749.4,2535.7 1749.8,2535.8 1750.2,2535.8 1750.5,2535.8 1750.9,2535.1 1751.2,2535 1751.6,2535.1 1752,2535 1752.3,2535.8 1752.7,2536.4 1753.1,2536.7 1753.4,2536.9 1753.8,2537.8 1754.2,2537 1754.5,2536.3 1754.9,2537.4 1755.3,2537.5 1755.6,2536.5 1756,2535.3 1756.4,2536.6 1756.7,2536.8 1757.1,2537.2 1757.5,2538 1757.8,2537.8 1758.2,2536.4 1758.6,2536.9 1758.9,2536.8 1759.3,2537.2 1759.7,2537.3 1760,2537.1 1760.4,2536.2 1760.8,2538.2 1761.1,2537.5 1761.5,2538.3 1761.9,2537.1 1762.2,2538 1762.6,2537.6 1762.9,2538.6 1763.3,2538 1763.7,2538.8 1764,2537.7 1764.4,2539.2 1765.2,2539 1766,2538.1 1766.8,2538.2 1767.6,2539 1768.4,2539.1 1769.2,2539 1770,2538.5 1770.8,2538.4 1771.6,2538.5 1772.4,2538.8 1773.2,2540.1 1774,2539.9 1774.8,2539.7 1775.6,2540 1776.4,2539.7 1777.2,2540 1778,2540 1778.8,2540 1778.9,2540"/>
<polyline fill="none" stroke="#ff0000" stroke-width="7.6" stroke-linejoin="round" stroke-linecap="butt" points="179.3,2491.4 181.2,2491.3 183.2,2490.9 185.1,2491.7 187.1,2490.5 189,2490.1 191,2489.7 192.9,2490 194.8,2490.1 196.8,2491.8 198.7,2491.3 200.7,2491.9 202.6,2491.5 204.6,2492.1 206.5,2490 208.4,2491.4 210.4,2490.5 212.3,2489.3 214.3,2490.5 216.2,2490.7 218.1,2489.8 220.1,2490 222,2489.6 224,2491.2 225.9,2491.3 227.9,2490.5 229.8,2491.1 231.7,2491.5 233.7,2490.8 235.6,2490.6 237.6,2490.6 239.5,2491.8 241.5,2490.7 243.4,2490.3 245.3,2490.7 247.3,2489.5 249.2,2489.6 251.2,2490.4 253.1,2490.6 255.1,2490.7 257,2491 258.9,2491.1 260.9,2490.9 262.8,2491.3 264.8,2490.9 266.7,2490.4 268.6,2490.7 270.6,2491.1 272.5,2489.6 274.5,2488.1 276.4,2490.1 278.4,2490.1 280.3,2490.1 282.2,2491 284.2,2490.8 286.1,2490.8 288.1,2490.7 290,2490.6 292,2489.2 293.9,2489 295.8,2489.1 297.8,2488.4 299.7,2489.1 301.7,2490.5 303.6,2490.2 305.6,2489.9 307.5,2488.6 309.4,2488.8 311.4,2489.3 313.3,2488.6 315.3,2488.3 317.2,2488.5 319.2,2488.5 321.1,2487.8 323,2489 325,2488.9 326.9,2488.4 328.9,2488.3 329.7,2487.4 330.5,2486.9 331.3,2485.6 332.1,2485.3 332.9,2485.4 333.7,2485.4 334.5,2485.9 335.3,2487.1 336.1,2488.2 336.9,2487.2 337.7,2486.6 338.5,2486.6 339.3,2486 340.1,2485.9 340.9,2486.1 341.7,2485 342.5,2484.4 343.3,2484.1 344.1,2484.3 344.9,2483.8 345.7,2481.9 346.5,2483 347.3,2483.4 348.1,2483.9 348.9,2482.2 349.7,2483.6 350.5,2482.6 351.3,2482.1 352.1,2481.2 352.9,2480.3 353.7,2479.4 354.5,2478.7 355.3,2477.8 356.1,2476.6 356.9,2476.9 357.7,2474.8 358.5,2473.1 359.3,2472.6 360.1,2470.6 360.9,2470.1 361.7,2469.3 362.5,2466.8 363.3,2464.9 363.6,2463.3 364,2462.6 364.4,2460.8 364.7,2459.8 365.1,2458.5 365.4,2457.7 365.8,2456.7 366.2,2455.1 366.5,2453.5 366.9,2451.8 367.3,2449.9 367.6,2448.3 368,2446.3 368.4,2444.4 368.7,2441.6 369.1,2439.5 369.5,2437.3 369.8,2436.4 370.2,2434.2 370.6,2431.3 370.9,2428.6 371.3,2426 371.7,2424.6 372,2423.2 372.4,2421.4 372.8,2419.5 373.1,2418.7 373.5,2415.4 373.9,2415.8 374.2,2414.4 374.6,2413.5 375,2412.6 375.3,2412.1 375.7,2412.8 376.1,2412.4 376.4,2413 376.8,2413.4 377.1,2415.8 377.5,2416.8 377.9,2419.1 378.2,2420.5 378.6,2422.5 379,2424 379.3,2425.9 379.7,2427.5 380.1,2428.8 380.4,2431.5 380.8,2433.4 381.2,2435.9 381.5,2437.2 381.9,2438.1 382.3,2440.5 382.6,2442.1 383,2444.3 383.4,2445.4 383.7,2446.5 384.1,2449.3 384.5,2450.2 384.8,2452.1 385.2,2452 385.6,2454 385.9,2454.8 386.3,2456.2 386.7,2456.9 387,2458 387.4,2460.2 387.8,2461.2 388.1,2462.6 388.5,2462.8 389.3,2463.6 390.1,2465.8 390.9,2467.2 391.7,2467.6 392.5,2468.6 393.3,2470.3 394.1,2470.4 394.9,2470.7 395.7,2471 396.5,2472.4 397.3,2471.4 398.1,2473.8 398.9,2473 399.7,2472.7 400.5,2472.4 401.3,2473.2 402.1,2472.4 402.9,2473.2 403.7,2473.2 404.5,2473 405.3,2473.4 406.1,2473.3 406.9,2474.6 407.7,2474.6 408.5,2475.1 409.3,2475 410.1,2476.3 410.9,2475.5 411.7,2474.4 412.5,2475 413.3,2475.2 414.1,2474.6 414.9,2474.7 415.7,2474.5 416.5,2475.1 417.3,2474.1 418.1,2473.3 418.9,2473.5 419.7,2474 420.5,2474.7 421.3,2474.6 422.1,2474.5 422.9,2474.3 423.7,2475.5 425.6,2476 427.6,2475.7 429.5,2475.9 431.4,2476.2 432.2,2475.2 433,2476.5 433.8,2476.3 434.6,2475.9 435.4,2475.4 436.2,2476.4 437,2477.1 437.8,2477.9 438.6,2476.8 439.4,2476.4 440.2,2475.7 441,2475.3 441.8,2475.2 442.6,2476.2 443.4,2477.2 444.2,2476 445,2476.5 445.8,2475.7 446.6,2476.3 447.4,2476.3 448.2,2476.5 449,2476.8 449.8,2478.5 450.6,2478.2 451.4,2478.8 452.2,2478 453,2478.1 453.8,2477.9 454.6,2478.1 455.4,2478.2 456.2,2477.9 457,2478.5 457.8,2478.2 458.6,2477.9 459.4,2478.9 460.2,2479.2 461,2478.6 461.8,2477.1 462.6,2476.9 463.4,2477 464.2,2477.1 465,2475.6 465.8,2475.9 466.2,2475.4 466.6,2474.5 466.9,2475 467.3,2474.4 467.7,2474.6 468,2475.2 468.4,2474 468.8,2473.8 469.1,2473.7 469.5,2473.6 469.9,2472.7 470.2,2471 470.6,2470.5 471,2469.5 471.3,2469.7 471.7,2469.1 472,2469.8 472.4,2469.2 472.8,2469.4 473.1,2467.7 473.5,2466 473.9,2465.2 474.2,2465.5 474.6,2464.6 475,2464.2 475.3,2463.2 475.7,2463.7 476.1,2462.7 476.4,2462.7 476.8,2462 477.2,2461.7 477.5,2461.5 477.9,2462.3 478.3,2462.6 478.6,2461.8 479,2462.1 479.4,2460.3 479.7,2461.4 480.1,2461 480.5,2461.7 480.8,2462.7 481.2,2464.6 481.6,2464.3 481.9,2464.4 482.3,2464.9 482.7,2466 483,2468 483.4,2468 483.7,2467.8 484.1,2467.9 484.5,2469.1 484.8,2470.5 485.2,2471.3 485.6,2470.7 485.9,2473.2 486.3,2475.3 486.7,2475.4 487,2475.3 487.4,2475.1 487.8,2475.3 488.1,2475 488.5,2475.2 488.9,2478.3 489.2,2477.3 489.6,2477.9 490,2478.7 490.3,2480.1 490.7,2480.7 491.1,2480.2 491.4,2480.4 491.8,2480.8 492.6,2482 493.4,2483.2 494.2,2482.8 495,2482.6 495.8,2483.4 496.6,2483.6 497.4,2484.4 498.2,2485.9 499,2485.6 499.8,2484.8 500.6,2486.3 501.4,2487.5 502.2,2486.5 503,2486.8 503.8,2487.2 504.6,2486.8 505.4,2486.4 506.2,2486.8 507,2487.6 507.8,2487.4 508.6,2487.6 509.4,2487.8 510.2,2488 511,2487.5 511.8,2488.3 512.6,2487.8 513.4,2487.5 514.2,2487.9 515,2488.7 515.8,2489.4 516.6,2488.2 517.4,2488.7 518.2,2487.7 519,2489.1 519.8,2489.4 520.6,2488.9 521.4,2489 522.2,2488.1 523,2487.4 523.8,2487.4 524.6,2488.5 525.4,2488.8 526.2,2488.9 527,2489.1 527.8,2489.4 528.6,2489.4 528.9,2488.8 529.3,2488.9 529.7,2488 530,2488 530.4,2486.4 530.8,2487.1 531.1,2486.1 531.5,2485.5 531.9,2484.1 532.2,2484.9 532.6,2484.8 533,2484 533.3,2484.1 533.7,2485.1 534.1,2484.4 534.4,2484.5 534.8,2485.7 535.2,2485.8 535.5,2484.8 535.9,2484.4 536.3,2486.2 536.6,2486.5 537,2487.9 537.4,2488.7 537.7,2488.9 538.1,2488.5 538.5,2488.5 538.8,2489.2 539.2,2489.5 540,2488.9 540.8,2487.9 541.6,2488.2 542.4,2488.6 543.2,2488.6 544,2489.8 544.8,2490.3 545.6,2489.2 546.4,2489.5 547.2,2489.1 548,2488.5 548.8,2490.1 549.6,2489.5 550.4,2490.3 551.2,2490.1 552,2489.9 552.8,2490.5 553.6,2490 554.4,2489.4 556.3,2490.7 558.3,2490.5 560.2,2489.8 562.2,2489.3 564.1,2490 566,2490.6 568,2491 569.9,2491.8 571.9,2491.3 573.8,2491.6 575.7,2490.5 577.7,2490.9 579.6,2491.8 581.6,2490.7 583.5,2490.4 585.5,2489.3 587.4,2489.7 588.2,2490.2 589,2490.1 589.8,2490.3 590.6,2490.1 591.4,2489.9 592.2,2490.3 593,2490.6 593.8,2491.6 594.6,2490.9 595.4,2490.7 596.2,2489.5 597,2489.8 597.8,2490.1 598.6,2489.6 599.4,2489.9 600.2,2489.5 601,2489.5 601.8,2488.9 602.2,2489.6 602.5,2488.9 602.9,2488.8 603.3,2488.3 603.6,2488.9 604,2488.8 604.4,2487.5 604.7,2487.6 605.1,2487.4 605.5,2486.8 605.8,2485.5 606.2,2485.1 606.6,2484.2 606.9,2484 607.3,2484.9 607.7,2485.4 608,2485.6 608.4,2486.8 608.7,2486 609.1,2486.4 609.5,2487.4 609.8,2487.9 610.2,2488.1 610.6,2488.6 610.9,2488.5 611.3,2488.7 611.7,2489.1 612,2488 612.4,2488.5 612.8,2488.6 613.6,2488.9 614.4,2489.4 615.2,2489.1 616,2488.9 616.8,2489.8 617.6,2489.9 618.4,2489.5 619.2,2490.6 620,2490.7 620.8,2490.7 621.6,2490.3 622.4,2489.2 623.2,2489.4 624,2488.5 624.8,2490 625.6,2489.6 626.4,2490.2 627.2,2491 628,2491 629.9,2490.6 631.8,2490.7 633.8,2490.7 635.7,2490.4 637.7,2490.1 639.6,2491.2 641.6,2492.1 643.5,2491.1 645.4,2490 647.4,2490.1 649.3,2490.5 651.3,2490.3 653.2,2491 655.2,2490.7 657.1,2490.8 659,2490.1 661,2491.3 662.9,2491.6 664.9,2490.8 666.8,2489.9 668.8,2490.2 670.7,2489.4 672.6,2489.8 674.6,2489.7 676.5,2489.7 678.5,2490.7 680.4,2491.1 682.4,2490.9 684.3,2490.4 686.2,2490.5 688.2,2490.4 690.1,2491.2 692.1,2490.9 694,2491.6 695.9,2491.2 697.9,2490.1 699.8,2489.7 701.8,2490.7 703.7,2490.5 705.7,2491.5 707.6,2491.7 709.5,2491 711.5,2490.6 713.4,2490.1 715.4,2490.3 717.3,2491.1 719.3,2491.7 721.2,2491.1 723.1,2492.3 725.1,2491.2 727,2489.1 729,2490 730.9,2489.6 732.9,2489.2 734.8,2489.3 736.7,2490.1 738.7,2489 740.6,2490.3 742.6,2489.4 744.5,2489.7 746.4,2489.4 748.4,2489.7 750.3,2489 752.3,2489.3 754.2,2488.5 756.2,2488.1 758.1,2488 758.9,2488.6 759.7,2488.6 760.5,2488.7 761.3,2489.1 762.1,2488.5 762.9,2488.9 763.7,2488.9 764.5,2488.5 765.3,2487.6 766.1,2487.4 766.9,2488 767.7,2487.8 768.5,2488 769.3,2488.3 770.1,2487.1 770.9,2488.4 771.7,2488.4 772.5,2487.5 773.3,2488.3 774.1,2486.8 774.9,2486.8 775.7,2487.5 776.5,2488.3 777.3,2488.5 778.1,2486.5 778.9,2486.2 779.7,2486.2 780.5,2486.4 781.3,2485.2 782.1,2485.7 782.9,2483.8 783.7,2483.8 784.5,2485 785.3,2483.6 786.1,2482.8 786.9,2483.6 787.7,2483.9 788.5,2482.5 789.3,2481.9 790.1,2480.7 790.9,2480.6 791.7,2479.8 792.5,2479.2 793.3,2478.2 794.1,2476.9 794.5,2475.2 794.8,2475.4 795.2,2474.9 795.6,2474 795.9,2474 796.3,2472.5 796.7,2472.2 797,2471.1 797.4,2470.1 797.8,2470.5 798.1,2469.6 798.5,2468.9 798.8,2467.7 799.2,2465.5 799.6,2464.9 799.9,2463.9 800.3,2463.8 800.7,2460.6 801,2460.1 801.4,2459.6 801.8,2458.8 802.1,2455.9 802.5,2455.4 802.9,2454.2 803.2,2451.9 803.6,2452.1 804,2450.8 804.3,2450.4 804.7,2449.7 805.1,2447.8 805.4,2446.3 805.8,2445.9 806.2,2446 806.5,2445.5 806.9,2444.9 807.3,2445.4 807.6,2446.2 808,2445.3 808.4,2444.9 808.7,2445.9 809.1,2445.7 809.5,2446.2 809.8,2446.9 810.2,2448.7 810.5,2450.8 810.9,2452.1 811.3,2452.8 811.6,2453.4 812,2454 812.4,2455.2 812.7,2456.6 813.1,2458.3 813.5,2459.7 813.8,2460.7 814.2,2462.4 814.6,2461.9 814.9,2463.7 815.3,2464.4 815.7,2466 816,2467.3 816.4,2468.2 816.8,2469.1 817.1,2469.2 817.5,2469.4 817.9,2470.7 818.2,2473.1 818.6,2474.1 819,2475.3 819.3,2474.9 819.7,2474.9 820.1,2474.5 820.4,2475.6 820.8,2476.5 821.2,2477.2 822,2477.9 822.8,2478.8 823.6,2479.9 824.4,2480.5 825.1,2481.3 825.9,2482.5 826.7,2481.9 827.5,2481.8 828.3,2482.8 829.1,2483.1 829.9,2484.5 830.7,2484.3 831.5,2483.8 832.3,2485 833.1,2484.8 833.9,2485.5 834.7,2486.1 835.5,2486.7 836.3,2486.6 837.1,2486.7 837.9,2485.8 838.7,2486.5 839.5,2485.8 840.3,2486.7 841.1,2486.5 841.9,2486.5 842.7,2487.5 843.5,2486.7 844.3,2486.7 845.1,2487.2 845.9,2486.9 846.7,2486.4 847.5,2487.2 848.3,2487 849.1,2486.4 849.9,2486.4 850.7,2488.2 851.5,2487.8 852.3,2487.9 853.1,2487.9 853.9,2488.1 854.7,2488.3 855.5,2487.8 856.3,2488.1 857.1,2488.1 857.9,2489.1 858.7,2488.2 860.7,2487.9 862.6,2488.5 864.6,2488.7 866.5,2489 868.5,2488.7 870.4,2489.6 872.3,2488.7 874.3,2489.5 876.2,2489.9 878.2,2490.2 880.1,2490.1 882,2490.1 884,2489.3 885.9,2489.8 887.9,2489.4 889.8,2489.3 891.8,2488.3 893.7,2488.3 895.6,2488.9 897.6,2488.7 899.5,2488.4 901.5,2489.4 903.4,2488.9 905.4,2489.2 907.3,2489.5 909.2,2490.6 911.2,2489.7 913.1,2490.1 915.1,2489.9 917,2489.7 919,2489.7 920.9,2490.1 922.8,2490.2 924.8,2488.9 926.7,2489.9 928.7,2489.6 930.6,2489.4 932.6,2488.3 934.5,2488 936.4,2487.5 938.4,2488 940.3,2488.3 942.3,2487.3 944.2,2487.8 946.1,2488.7 948.1,2487.9 950,2487.7 952,2487.8 953.9,2488.7 955.9,2488.6 957.8,2488.4 958.6,2487.8 959.4,2486 960.2,2486 961,2486.5 961.8,2487.8 962.6,2488.3 963.4,2487 964.2,2486.5 965,2487.8 965.8,2487 966.6,2487 967.4,2487.2 968.2,2486.6 969,2486.7 969.8,2488.1 970.6,2487.8 971.4,2486.9 972.2,2486.2 973,2487.3 973.8,2487.3 974.6,2487.7 975.4,2487.9 976.2,2486.4 977,2486.5 977.8,2485.3 978.6,2485.7 979.4,2485.8 980.2,2484.9 981,2485.3 981.8,2485.1 982.6,2484.8 983.4,2484.1 984.2,2483.7 985,2484.1 985.8,2483.6 986.6,2484 987.4,2484 988.2,2483.7 989,2483.9 989.8,2483.5 990.6,2482.4 991.4,2482 992.2,2481.4 993,2481 993.8,2481 994.6,2480.3 995.4,2479.3 996.2,2478.4 996.6,2476.9 996.9,2478.2 997.3,2478 997.7,2478.6 998,2475.9 998.4,2476 998.8,2475.9 999.1,2474.4 999.5,2473.7 999.8,2474.1 1000.2,2471.8 1000.6,2471.2 1000.9,2470.9 1001.3,2470.5 1001.7,2468.8 1002,2467.5 1002.4,2466.9 1002.8,2466 1003.1,2466.2 1003.5,2465.3 1003.9,2463.8 1004.2,2464.1 1004.6,2462.5 1005,2463 1005.3,2461.4 1005.7,2460.1 1006.1,2459.4 1006.4,2458 1006.8,2455.7 1007.2,2454 1007.5,2454.1 1007.9,2455.4 1008.3,2455.7 1008.6,2454 1009,2452.9 1009.4,2453.2 1009.7,2452.8 1010.1,2453.2 1010.5,2453.8 1010.8,2453.7 1011.2,2455 1011.5,2453.9 1011.9,2454.2 1012.3,2455.5 1012.6,2455.7 1013,2456.5 1013.4,2458.2 1013.7,2458.6 1014.1,2458.6 1014.5,2460.8 1014.8,2461.9 1015.2,2461.9 1015.6,2462.7 1015.9,2463.1 1016.3,2464.2 1016.7,2465.9 1017,2466.6 1017.4,2467.3 1017.8,2467.4 1018.1,2468.9 1018.5,2471.2 1018.9,2470.8 1019.2,2471.1 1019.6,2472.2 1020,2473.6 1020.3,2474 1020.7,2473.8 1021.1,2474.5 1021.4,2475.3 1021.8,2475.5 1022.2,2475.6 1022.5,2477.3 1022.9,2477.3 1023.2,2477.3 1023.6,2477.8 1024,2477.5 1024.3,2478.8 1025.1,2479.1 1025.9,2480.9 1026.7,2480.5 1027.5,2481.4 1028.3,2481.9 1029.1,2482.2 1029.9,2483.1 1030.7,2482.5 1031.5,2482.2 1032.3,2484.3 1033.1,2483.6 1033.9,2484.1 1034.7,2485.2 1035.5,2484.6 1036.3,2484 1037.1,2485.1 1037.9,2484.9 1038.7,2484.3 1039.5,2484.4 1040.3,2485 1041.1,2485.9 1041.9,2486.8 1042.7,2487.4 1043.5,2485.9 1044.3,2486.1 1045.1,2486 1045.9,2486.1 1046.7,2486.3 1047.5,2487.6 1048.3,2486.7 1049.1,2486.4 1049.9,2487.5 1050.7,2487.3 1051.5,2486.4 1052.3,2487 1053.1,2487.5 1053.9,2486.8 1054.7,2487.7 1055.5,2487.7 1056.3,2488.5 1057.1,2487.3 1057.9,2487 1058.7,2487.6 1059.5,2487.7 1059.9,2487.9 1060.3,2488.9 1060.6,2489.6 1061,2488.3 1061.4,2487.5 1061.7,2486.7 1062.1,2485.5 1062.5,2485 1062.8,2487 1063.2,2488.1 1063.6,2487 1063.9,2487.4 1064.3,2486.8 1064.7,2486.1 1065,2486.2 1065.4,2486.5 1065.8,2486.4 1066.1,2487 1066.5,2488.1 1066.8,2486.3 1067.2,2486.6 1067.6,2485.7 1067.9,2486.4 1068.3,2487.7 1068.7,2486.7 1069,2486.3 1069.4,2486.3 1069.8,2485.9 1070.1,2485.7 1070.5,2485.6 1070.9,2485.5 1071.2,2485.9 1071.6,2485.4 1072,2485.7 1072.3,2486.1 1072.7,2486 1073.1,2485.3 1073.4,2485 1073.8,2486 1074.2,2486.6 1074.5,2485.7 1074.9,2485.3 1075.3,2485.5 1075.6,2485.9 1076,2484.7 1076.4,2485.5 1076.7,2485.7 1077.1,2487.3 1077.5,2486.7 1077.8,2487.2 1078.2,2486.8 1078.5,2487.3 1078.9,2488.7 1079.3,2487.5 1079.6,2486.5 1080,2487.3 1080.4,2487.5 1080.7,2486.3 1081.1,2486 1081.5,2485.7 1081.8,2487.5 1082.2,2487.1 1082.6,2487.8 1082.9,2487.7 1083.3,2487.5 1083.7,2487.3 1084,2487.7 1084.4,2488.8 1084.8,2489.2 1085.1,2488.2 1085.5,2487 1085.9,2486.7 1086.2,2487.2 1086.6,2488.5 1087,2488.9 1087.3,2488.7 1088.1,2488.2 1088.9,2487.8 1089.7,2489.5 1090.5,2489.4 1091.3,2488.6 1092.1,2488.7 1092.9,2488.7 1093.7,2488.9 1094.5,2488.5 1095.3,2489.7 1096.1,2488.5 1096.9,2487.9 1097.7,2489 1098.5,2489 1099.3,2488.1 1100.1,2487.4 1100.9,2487.5 1101.7,2487.8 1102.5,2488.3 1103.3,2487.2 1104.1,2489.1 1104.9,2489.3 1105.7,2489.7 1106.5,2489.9 1107.3,2490.1 1108.1,2489.4 1108.9,2490.4 1109.7,2489.4 1110.5,2489.2 1111.3,2488.9 1112.1,2489.5 1112.9,2489.2 1113.7,2488.2 1114.5,2487.3 1115.3,2488.1 1116.1,2489.8 1116.9,2489.3 1117.7,2489.2 1118.5,2488.1 1119.3,2488.1 1120.1,2489.2 1120.9,2490.1 1121.7,2487.7 1122.5,2488.2 1123.3,2488.1 1124.1,2489.7 1124.9,2488.7 1125.7,2488.2 1126.5,2487.8 1128.5,2488.4 1130.4,2488.7 1132.3,2487.3 1134.3,2488 1136.2,2489.1 1138.2,2489.9 1140.1,2489.7 1142.1,2488 1144,2487.5 1145.9,2487.2 1147.9,2487.8 1149.8,2489.2 1151.8,2489.4 1153.7,2490.1 1155.7,2488.3 1157.6,2487.8 1159.5,2488.1 1161.5,2488.8 1163.4,2488.7 1165.4,2489 1167.3,2489.3 1169.2,2489.1 1171.2,2490.1 1173.1,2489.2 1175.1,2488.5 1177,2488.4 1179,2488.4 1180.9,2489 1182.8,2489.2 1184.8,2489.3 1186.7,2488.8 1188.7,2489.4 1190.6,2488.7 1192.6,2488.5 1194.5,2488.7 1196.4,2488.9 1198.4,2488.7 1200.3,2489.2 1202.3,2489.3 1204.2,2490.3 1206.2,2489.1 1208.1,2488.3 1210,2488.7 1212,2488.2 1213.9,2488.9 1215.9,2489.7 1217.8,2488.8 1219.7,2488.6 1221.7,2489.4 1223.6,2489 1225.6,2489.1 1227.5,2489.8 1229.5,2489 1231.4,2489.4 1233.3,2489.2 1235.3,2487.7 1237.2,2488.7 1239.2,2490.2 1241.1,2489.5 1243.1,2488.6 1245,2489.3 1246.9,2488.5 1248.9,2488 1250.8,2489.4 1252.8,2490.5 1253.6,2489.6 1254.4,2489.7 1255.2,2488.9 1256,2489.4 1256.8,2489.9 1257.6,2489.7 1258.4,2489.3 1259.2,2489.2 1260,2489.6 1260.8,2490.3 1261.6,2489.5 1262.4,2489.1 1263.2,2488.5 1264,2489 1264.8,2489.2 1265.6,2489.7 1266.4,2489.7 1267.2,2489.8 1268,2488.8 1268.8,2488.5 1269.6,2488.6 1270.4,2489.1 1271.2,2489 1272,2489.2 1272.8,2489.7 1273.6,2488.6 1274.4,2489.4 1275.2,2488.8 1276,2488.2 1276.8,2488.7 1277.6,2488.2 1278.4,2487.6 1279.2,2487 1280,2487.8 1280.8,2489.6 1281.6,2488.6 1282.4,2489.2 1283.2,2488.7 1284,2488.6 1284.8,2488.3 1285.6,2489.4 1286.4,2489.4 1287.2,2489.2 1288,2488.8 1288.8,2488.8 1289.6,2489.8 1290.4,2489.8 1291.2,2489.4 1292,2487.6 1292.8,2488.1 1293.6,2488 1294.4,2487.4 1294.7,2486.8 1295.1,2486.7 1295.5,2488.1 1295.8,2486.9 1296.2,2487.1 1296.6,2486.4 1296.9,2486.8 1297.3,2487.3 1297.6,2487.9 1298,2487.8 1298.4,2487.2 1298.7,2485.9 1299.1,2486 1299.5,2487.3 1299.8,2488.5 1300.2,2487.5 1300.6,2486.4 1300.9,2487.1 1301.3,2487.8 1301.7,2486.9 1302,2486.3 1302.4,2485.5 1302.8,2486 1303.1,2487.4 1303.5,2485.5 1303.9,2485.2 1304.2,2484.8 1304.6,2484.1 1305,2484.7 1305.3,2485.3 1305.7,2485.2 1306.1,2485.9 1306.4,2485.2 1306.8,2485 1307.2,2485.2 1307.5,2483.9 1307.9,2484.3 1308.3,2484 1308.6,2484.7 1309,2485.4 1309.3,2483.9 1309.7,2483.6 1310.1,2483.9 1310.4,2483.9 1310.8,2484.9 1311.2,2484.3 1311.5,2484.7 1311.9,2484 1312.3,2482.8 1312.6,2484.1 1313,2484.6 1313.4,2485 1313.7,2485.3 1314.1,2484.9 1314.5,2485.4 1314.8,2484.7 1315.2,2485.5 1315.6,2486.7 1315.9,2487.1 1316.3,2487.3 1316.7,2486.4 1317,2485.7 1317.4,2487 1317.8,2486.4 1318.1,2486.6 1318.5,2486.3 1318.9,2486.1 1319.2,2486.2 1319.6,2487.2 1320,2487 1320.3,2487.3 1320.7,2487.2 1321,2486.1 1321.4,2485.9 1321.8,2487.7 1322.1,2488.4 1322.5,2486.9 1322.9,2488 1323.2,2487.5 1323.6,2487 1324,2487.2 1324.3,2487.5 1325.1,2488.6 1325.9,2488.4 1326.7,2488 1327.5,2487.7 1328.3,2487.9 1329.1,2487.8 1329.9,2488.6 1330.7,2488.2 1331.5,2489 1332.3,2488.5 1333.1,2488 1333.9,2489.2 1334.7,2489.3 1335.5,2490.2 1336.3,2488.6 1337.1,2488.8 1337.9,2488.2 1338.7,2489.6 1339.5,2489.3 1340.3,2488.7 1341.1,2488.7 1341.9,2489.6 1342.7,2488.7 1343.5,2488.5 1344.3,2488.8 1345.1,2488.2 1345.9,2488.9 1346.7,2488.6 1347.5,2489.3 1348.3,2489.3 1349.1,2489.6 1349.9,2489.9 1350.7,2490 1351.5,2489.9 1352.3,2489.8 1353.1,2490.5 1353.9,2489.8 1354.7,2489.9 1355.5,2489.6 1356.3,2489.1 1357.1,2488 1357.9,2489.2 1358.7,2489.4 1359.5,2488.3 1360.3,2488.7 1361.1,2488.6 1361.9,2488.5 1362.7,2489.6 1363.5,2488.4 1364.3,2487.6 1365.1,2488.4 1365.9,2489.5 1367.9,2487.8 1369.8,2489.8 1371.8,2490 1373.7,2489.3 1375.6,2488.7 1377.6,2488.8 1379.5,2489.3 1381.5,2489 1383.4,2488.9 1385.4,2488.9 1387.3,2488.6 1389.2,2488.4 1391.2,2489.3 1393.1,2488.6 1395.1,2489.2 1397,2488.1 1398.9,2488.8 1400.9,2488.1 1402.8,2488 1404.8,2488.5 1406.7,2488.2 1408.7,2489.1 1410.6,2489.4 1412.5,2489.6 1414.5,2490.2 1416.4,2488.3 1417.2,2489.6 1418,2489.8 1418.8,2489.6 1419.6,2488.4 1420.4,2488.8 1421.2,2489.1 1422,2489.2 1422.8,2489.4 1423.6,2488 1424.4,2488.2 1425.2,2487.7 1426,2487.6 1426.8,2486.7 1427.6,2487.5 1428.4,2486.9 1429.2,2487.4 1430,2487.2 1430.8,2488.6 1431.6,2487.9 1432.4,2487.2 1433.2,2487.5 1434,2488.4 1434.8,2488.1 1435.6,2487.8 1436.4,2488.1 1437.2,2488.4 1438,2488.6 1438.8,2487.9 1439.6,2489.4 1440.4,2489.7 1441.2,2489.1 1442,2489.6 1442.8,2488.7 1443.6,2488.3 1444.4,2487.5 1445.2,2485.9 1446,2486.5 1446.8,2486.2 1447.6,2488.1 1448.4,2487.1 1449.2,2486.4 1450,2486.1 1450.8,2487.2 1451.6,2487 1452.4,2487.5 1453.2,2486.7 1454,2485.8 1454.8,2486.5 1455.6,2487.3 1456.4,2486.8 1457.2,2486.1 1458,2486.6 1458.8,2486.7 1459.6,2485.7 1460,2485.6 1460.4,2485.3 1460.7,2485.4 1461.1,2483.7 1461.4,2483.3 1461.8,2483.5 1462.2,2483.7 1462.5,2483.8 1462.9,2483.6 1463.3,2482.6 1463.6,2483.3 1464,2483.5 1464.4,2482.7 1464.7,2483.4 1465.1,2483.5 1465.5,2482.2 1465.8,2482.9 1466.2,2482.1 1466.6,2480.6 1466.9,2481.3 1467.3,2481.9 1467.7,2482.6 1468,2481.9 1468.4,2481.4 1468.8,2481 1469.1,2480.8 1469.5,2479.6 1469.9,2478.7 1470.2,2478.2 1470.6,2479.4 1471,2478.9 1471.3,2478.8 1471.7,2478.5 1472.1,2478.4 1472.4,2477.9 1472.8,2477.3 1473.1,2477 1473.5,2477.5 1473.9,2477.4 1474.2,2476.9 1474.6,2476.6 1475,2476.2 1475.3,2476.7 1475.7,2477 1476.1,2475.9 1476.4,2476.2 1476.8,2476.9 1477.2,2476.7 1477.5,2477.2 1477.9,2476.9 1478.3,2477.5 1478.6,2478.2 1479,2477.6 1479.4,2477.7 1479.7,2478.3 1480.1,2478.8 1480.5,2479.4 1480.8,2481 1481.2,2481.4 1481.6,2480.9 1481.9,2479.6 1482.3,2480.7 1482.7,2480 1483,2480.8 1483.4,2480.4 1483.8,2481.8 1484.1,2481.4 1484.5,2482.4 1484.8,2482.6 1485.2,2482.3 1485.6,2481.2 1485.9,2482.8 1486.3,2483.5 1486.7,2484.5 1487,2485.1 1487.4,2485 1487.8,2484.9 1488.1,2484.1 1488.5,2484.5 1488.9,2484.7 1489.2,2484.4 1489.6,2484.7 1490,2485 1490.3,2485.1 1490.7,2485.1 1491.1,2485 1491.9,2485.3 1492.7,2485.7 1493.5,2485.1 1494.3,2485 1495.1,2486.2 1495.9,2485.7 1496.7,2485.6 1497.5,2486.1 1498.3,2485.3 1499.1,2485.1 1499.9,2485.4 1500.7,2486.5 1501.5,2486.6 1502.3,2487.7 1503.1,2487.3 1503.9,2487.5 1504.7,2486.6 1505.5,2486 1506.3,2486.2 1507.1,2486.6 1507.9,2485.9 1508.7,2486.6 1509.5,2486.8 1510.3,2485.9 1511.1,2485 1511.9,2485.6 1512.7,2486.1 1513.5,2486.8 1513.8,2486.8 1514.2,2485.7 1514.6,2486 1514.9,2485.1 1515.3,2485.1 1515.7,2485.6 1516,2485.3 1516.4,2485.2 1516.7,2485.9 1517.1,2486.3 1517.5,2486.3 1517.8,2486.8 1518.2,2485.6 1518.6,2485.1 1518.9,2484.5 1519.3,2484.5 1519.7,2484.6 1520,2483.5 1520.4,2483.4 1520.8,2483.8 1521.1,2484 1521.5,2483.4 1521.9,2483.4 1522.2,2483.2 1522.6,2482.4 1523,2483.7 1523.3,2484.4 1523.7,2483.3 1524.1,2482.6 1524.4,2483.6 1524.8,2484.2 1525.2,2483.6 1525.5,2483 1525.9,2483.4 1526.3,2483.9 1526.6,2483.8 1527,2483.3 1527.4,2482.7 1527.7,2482.6 1528.1,2481.3 1528.4,2481.3 1528.8,2482.7 1529.2,2481.8 1529.5,2482 1529.9,2481.9 1530.3,2482.6 1530.6,2481.8 1531,2482.6 1531.4,2482.1 1531.7,2483.5 1532.1,2484.5 1532.5,2483.5 1532.8,2484 1533.2,2483.1 1533.6,2483.7 1533.9,2483.3 1534.3,2485 1534.7,2484.2 1535,2484.6 1535.4,2484.3 1535.8,2484.3 1536.1,2485 1536.5,2485.2 1536.9,2484.5 1537.2,2484.2 1537.6,2483.9 1538,2484.7 1538.3,2483.7 1538.7,2484.7 1539.1,2484.7 1539.4,2485.8 1539.8,2485.8 1540.1,2485.1 1540.5,2486.6 1540.9,2486.4 1541.2,2487.3 1541.6,2486.4 1542,2486.3 1542.3,2486 1542.7,2486.3 1543.1,2487.5 1543.4,2487.1 1543.8,2486.6 1544.2,2487.8 1544.5,2487.6 1544.9,2487.7 1545.3,2488.7 1546.1,2487.9 1546.9,2487.5 1547.7,2487 1548.5,2487.9 1549.3,2488.7 1550.1,2487.5 1550.9,2486.7 1551.7,2488 1552.5,2488.7 1553.3,2488.9 1554.1,2488.8 1554.9,2488.5 1555.7,2487.7 1556.5,2487.6 1557.3,2487.8 1558.1,2488 1558.9,2488 1559.7,2489.2 1560.5,2488 1561.3,2488.6 1562.1,2488.6 1562.9,2488 1563.7,2488.5 1564.5,2488.7 1565.3,2489.1 1566.1,2489.6 1566.9,2489.5 1567.7,2489.2 1568.5,2488.8 1569.3,2488.3 1570.1,2488.1 1570.9,2487.9 1571.7,2488.1 1572.5,2488.9 1573.3,2488.6 1574.1,2489.2 1574.9,2489.5 1575.7,2489.2 1576.5,2489.6 1577.3,2488.8 1578.1,2487.8 1578.9,2488.3 1579.7,2487.4 1580.5,2488.9 1581.3,2489.1 1582.1,2489.7 1582.9,2489 1583.7,2488.8 1584.5,2487.9 1585.3,2489.3 1586.1,2488.7 1586.9,2488.9 1587.7,2488.5 1588.5,2488.1 1589.3,2488.7 1591.2,2488.6 1593.1,2489.4 1595.1,2489.4 1597,2488 1599,2489.1 1600.9,2489.6 1602.9,2489.6 1604.8,2489.2 1606.7,2489 1608.7,2488.7 1610.6,2489.5 1612.6,2490 1614.5,2489.3 1616.4,2490.4 1618.4,2489.6 1620.3,2490.3 1622.3,2490.2 1624.2,2491.2 1626.2,2490.1 1628.1,2491.4 1630,2490.5 1632,2491 1633.9,2490 1635.9,2490.5 1637.8,2491.5 1639.8,2490.5 1641.7,2489.7 1643.6,2489.7 1645.6,2488.7 1647.5,2488.3 1649.5,2488.9 1651.4,2489.2 1653.4,2489.9 1655.3,2488.9 1657.2,2490.7 1659.2,2490.2 1661.1,2489.6 1663.1,2489.8 1665,2489.3 1667,2489.2 1668.9,2490.2 1670.8,2489.8 1672.8,2489.8 1674.7,2490.4 1676.7,2489.9 1678.6,2490.2 1679.4,2489.4 1680.2,2489.8 1681,2489.7 1681.8,2491.6 1682.6,2490.1 1683.4,2490.3 1684.2,2489 1685,2488.2 1685.8,2488.6 1686.6,2488.8 1687.4,2490 1688.2,2489.6 1689,2489.5 1689.8,2489.2 1690.6,2489.7 1691.4,2490.1 1692.2,2490.6 1693,2490.3 1693.8,2490.4 1694.6,2489.6 1695.4,2490.2 1696.2,2489.9 1697,2490 1697.8,2489.6 1698.6,2490.1 1699.4,2490.9 1700.2,2490.6 1701,2489.9 1701.8,2490.2 1702.6,2488.2 1703.4,2489.5 1704.2,2489.9 1705,2489.1 1705.8,2490.2 1706.6,2490.9 1707.4,2491.1 1708.2,2489.9 1709,2489.9 1709.8,2488.8 1710.6,2488.7 1711.4,2490 1712.2,2489.4 1713,2489.3 1713.8,2489.2 1714.6,2489.1 1715.4,2488.8 1716.2,2487 1717,2488.5 1717.8,2488.6 1718.6,2487.8 1719.4,2489.7 1720.2,2489.1 1721,2489.2 1721.8,2488.7 1722.6,2487.6 1723.4,2488.5 1724.2,2488.4 1725,2488.1 1725.4,2487.3 1725.7,2487.6 1726.1,2487.5 1726.5,2487.5 1726.8,2486.8 1727.2,2486.5 1727.6,2487.5 1727.9,2486.8 1728.3,2487.6 1728.6,2487.1 1729,2485.5 1729.4,2485.4 1729.7,2484.2 1730.1,2484.8 1730.5,2486.7 1730.8,2486.3 1731.2,2485.4 1731.6,2485.7 1731.9,2486.6 1732.3,2485.8 1732.7,2485.3 1733,2484.5 1733.4,2484.6 1733.8,2483.1 1734.1,2484 1734.5,2483.5 1734.9,2484.5 1735.2,2486.1 1735.6,2484.1 1736,2484 1736.3,2483.1 1736.7,2484.2 1737.1,2483.5 1737.4,2484.1 1737.8,2483.7 1738.2,2482.7 1738.5,2482.1 1738.9,2481.9 1739.3,2482.2 1739.6,2480 1740,2480.5 1740.3,2480.5 1740.7,2481.1 1741.1,2480.6 1741.4,2481 1741.8,2481.1 1742.2,2481.2 1742.5,2480.4 1742.9,2480.4 1743.3,2480.6 1743.6,2480.8 1744,2480.1 1744.4,2480.5 1744.7,2481.1 1745.1,2482 1745.5,2482.2 1745.8,2482.3 1746.2,2481.5 1746.6,2482.9 1746.9,2483.4 1747.3,2483.4 1747.7,2484.2 1748,2483.7 1748.4,2482.4 1748.8,2483.3 1749.1,2482.9 1749.5,2483.3 1749.9,2483.2 1750.2,2484.9 1750.6,2485 1751,2484.4 1751.3,2483.8 1751.7,2485.1 1752,2484.4 1752.4,2484.3 1752.8,2486.2 1753.1,2486.8 1753.5,2486.9 1753.9,2484.7 1754.2,2486.2 1754.6,2487.1 1755,2485.8 1755.3,2485.1 1755.7,2486.9 1756.1,2487.5 1756.4,2489.7 1756.8,2488.8 1757.2,2489 1757.5,2488.3 1757.9,2488.6 1758.3,2488.9 1758.6,2488.6 1759,2488.6 1759.4,2488.3 1759.7,2488.6 1760.5,2488.5 1761.3,2487.6 1762.1,2487.7 1762.9,2488.1 1763.7,2489.2 1764.5,2489.2 1765.3,2489.2 1766.1,2489.2 1766.9,2489.8 1767.7,2490.9 1768.5,2489.4 1769.3,2488.4 1770.1,2489.4 1770.9,2488.6 1771.7,2489.2 1772.5,2489 1773.3,2489.2 1774.1,2489.9 1774.9,2491.3 1775.7,2490.1 1776.5,2489.6 1777.3,2490 1778.1,2490.9 1778.9,2489.2"/>
<polyline fill="none" stroke="#0000ff" stroke-width="7.6" stroke-linejoin="round" stroke-linecap="butt" points="179.3,2465.3 181.2,2466 183.2,2465.7 185.1,2466.2 187.1,2466.5 189,2466.5 191,2466 192.9,2466.9 194.8,2465.8 196.8,2467.1 198.7,2466.7 200.7,2466.1 202.6,2466.2 204.6,2465.2 206.5,2465.3 208.4,2465.9 210.4,2466 212.3,2466 214.3,2465.5 216.2,2466.2 218.1,2466.5 220.1,2466.6 222,2466.6 224,2464.5 225.9,2464.9 227.9,2465.9 229.8,2465.9 231.7,2466.2 233.7,2466.4 235.6,2465.1 237.6,2464.7 239.5,2465.7 241.5,2465.3 243.4,2465.3 245.3,2466 247.3,2466.2 249.2,2467.3 251.2,2466.6 253.1,2464.7 255.1,2465.6 257,2465 258.9,2465.3 260.9,2464.6 262.8,2465.7 264.8,2466 266.7,2464.7 268.6,2465 270.6,2466.4 272.5,2465.7 274.5,2466.3 276.4,2465 278.4,2465.6 280.3,2464.7 282.2,2464.5 284.2,2464.5 286.1,2465.3 288.1,2465.8 290,2466.1 292,2466.4 293.9,2465 295.8,2463.9 297.8,2463.9 299.7,2464.8 301.7,2464 303.6,2464.9 305.6,2465.4 307.5,2465.6 309.4,2464.7 311.4,2465.3 313.3,2464.9 315.3,2464.3 317.2,2463.1 319.2,2462.4 321.1,2463.4 323,2463.7 325,2464.6 326.9,2465.1 328.9,2463.8 330.8,2462.5 332.7,2461.3 334.7,2461 336.6,2460.8 338.6,2460.8 340.5,2461 342.5,2460.1 344.4,2459.2 346.3,2459.1 348.3,2458 350.2,2457 351,2455.4 351.8,2454.8 352.6,2455 353.4,2453.9 354.2,2454.9 355,2452.7 355.8,2452.4 356.6,2452 357.4,2451.6 358.2,2449.8 359,2448.1 359.8,2447.4 360.6,2445.2 361.4,2443.5 362.2,2441.7 363,2439.3 363.8,2436.3 364.6,2434 365.4,2429.4 366.2,2424.3 367,2419 367.8,2411.4 368.6,2402.6 369,2398.2 369.4,2392.3 369.7,2387.3 370.1,2379.8 370.5,2373 370.8,2365.8 371.2,2356.8 371.5,2347.3 371.9,2338.8 372.3,2328.2 372.6,2319.1 373,2308.5 373.4,2298.8 373.7,2290.5 374.1,2282.1 374.5,2274.9 374.8,2270.3 375.2,2267.8 375.6,2267.2 375.9,2269.5 376.3,2273.6 376.7,2281.1 377,2289.1 377.4,2299.1 377.8,2307.8 378.1,2319 378.5,2328.2 378.9,2339 379.2,2349 379.6,2357.8 380,2365.5 380.3,2371.2 380.7,2378.5 381.1,2386 381.4,2392.1 381.8,2397 382.2,2401.6 382.5,2405.8 383.3,2413.6 384.1,2419.7 384.9,2424.8 385.7,2428.7 386.5,2431.4 387.3,2433.9 388.1,2436.7 388.9,2438.9 389.7,2440.3 390.5,2442.5 391.3,2443.4 392.1,2444.6 392.9,2443.5 393.7,2444.6 394.5,2446.7 395.3,2446.7 396.1,2448.6 396.9,2448.1 397.7,2448.1 398.5,2448.8 399.3,2450.5 400.1,2449.2 400.9,2449.9 401.7,2450.6 403.7,2451.8 405.6,2451.6 407.5,2451.3 409.5,2450.4 411.4,2451.1 413.4,2451.8 415.3,2452.1 417.3,2451.6 419.2,2452.3 421.1,2451.6 423.1,2452.3 425,2453.4 427,2453 428.9,2452.3 430.8,2452.9 432.8,2453.4 434.7,2453 436.7,2453.3 438.6,2453.7 440.6,2453.9 442.5,2454 444.4,2454.7 446.4,2454.8 448.3,2455.1 450.3,2455 452.2,2454.4 454.2,2454.7 455,2453.5 455.8,2453.4 456.6,2454.2 457.4,2454.6 458.2,2453.8 459,2453.6 459.8,2454.4 460.6,2454.2 461.4,2453.4 462.2,2453.7 463,2454 463.8,2453 464.6,2452.8 465.4,2451.8 466.2,2452 467,2451.4 467.8,2450.4 468.6,2449.6 469.4,2448 470.2,2446 471,2444.3 471.8,2441.2 472.1,2439.3 472.5,2437.1 472.8,2436.3 473.2,2434.4 473.6,2431.9 473.9,2429.8 474.3,2428.1 474.7,2424.7 475,2421.8 475.4,2417.5 475.8,2414.5 476.1,2412.3 476.5,2409.1 476.9,2406.3 477.2,2404.1 477.6,2402 478,2400.3 478.3,2398.5 478.7,2397.7 479.1,2399.8 479.4,2401.3 479.8,2402 480.2,2404.3 480.5,2406.8 480.9,2409.1 481.3,2412.9 481.6,2416.7 482,2420.6 482.4,2423.4 482.7,2426.4 483.1,2429.7 483.5,2432.2 483.8,2436 484.2,2437.9 484.5,2440.1 484.9,2441.7 485.3,2441.5 485.6,2444.1 486,2444.2 486.8,2447 487.6,2449.2 488.4,2452.1 489.2,2454 490,2454.9 490.8,2455.4 491.6,2456.8 492.4,2456.4 493.2,2457.1 494,2457.8 494.8,2458 495.6,2458.2 496.4,2459.7 497.2,2458.6 498,2459.5 498.8,2459.7 499.6,2459.6 500.4,2460.6 501.2,2461.2 502,2461.8 502.8,2462.5 503.6,2463.4 504.4,2463.3 505.2,2463.2 507.1,2462.2 509.1,2462.8 511,2463.6 513,2463.8 513.8,2464.6 514.6,2464.8 515.4,2464.3 516.2,2464.6 517,2464.6 517.8,2463.9 518.6,2463.9 519.4,2464.8 520.2,2464 521,2464.7 521.8,2464 522.6,2464 523.4,2464.8 524.2,2464 525,2462.5 525.8,2464.4 526.6,2464 527.4,2463.5 528.2,2462.7 528.5,2464.8 528.9,2462.9 529.3,2463 529.6,2462.3 530,2460.9 530.4,2460.9 530.7,2460.9 531.1,2460.7 531.5,2461.2 531.8,2460.8 532.2,2460.5 532.6,2459.7 532.9,2459.6 533.3,2459.2 533.7,2459.9 534,2459.2 534.4,2458.9 534.8,2459.8 535.1,2459.8 535.5,2460.4 535.9,2461.3 536.2,2460.9 536.6,2462.8 536.9,2463.2 537.3,2463.7 537.7,2463.2 538,2463.1 538.4,2464.5 538.8,2465.2 539.1,2464.8 539.9,2465 540.7,2464.6 541.5,2464.7 542.3,2464.2 543.1,2465 543.9,2465.4 544.7,2465 545.5,2466.2 546.3,2466.3 547.1,2466.6 547.9,2467.1 548.7,2466.7 549.5,2466.3 550.3,2466.4 551.1,2465.1 551.9,2465.2 552.7,2467.6 553.5,2467.3 554.3,2466.9 556.3,2465.7 558.2,2466.4 560.2,2466.6 562.1,2467.3 564,2467.5 566,2466.3 567.9,2465.7 569.9,2464.7 571.8,2466.5 573.8,2466.7 575.7,2466 577.6,2466.3 579.6,2467.7 581.5,2467.2 583.5,2466.5 585.4,2466.4 587.4,2465.7 588.2,2466 589,2465.8 589.8,2466 590.6,2466.9 591.4,2467.1 592.2,2466.9 593,2467 593.8,2466.8 594.6,2467.3 595.4,2467.2 596.2,2466.6 597,2466.8 597.8,2466 598.6,2465.9 599.4,2464.6 600.2,2465.3 601,2464.9 601.8,2464.6 602.1,2464.9 602.5,2464.9 602.9,2464.9 603.2,2463.6 603.6,2463.3 603.9,2463.3 604.3,2462.6 604.7,2463.5 605,2463.3 605.4,2461.5 605.8,2461.3 606.1,2461.1 606.5,2461.2 606.9,2460.8 607.2,2459.2 607.6,2458.7 608,2459 608.3,2459.6 608.7,2461 609.1,2463.1 609.4,2462.2 609.8,2462.4 610.2,2463.3 610.5,2463.9 610.9,2464.1 611.3,2465.7 611.6,2466 612,2464.9 612.4,2465.8 612.7,2466.2 613.5,2465.2 614.3,2466.1 615.1,2466.2 615.9,2466.4 616.7,2465.5 617.5,2467.6 618.3,2467.2 619.1,2467.7 619.9,2464.9 620.7,2466.1 621.5,2466.2 622.3,2466.3 623.1,2466.5 623.9,2467.1 624.7,2467.9 625.5,2466.8 626.3,2468.1 627.1,2468.7 627.9,2467.2 629.9,2466.7 631.8,2466.7 633.7,2467.5 635.7,2467.6 637.6,2467.4 639.6,2466.2 641.5,2466.2 643.5,2467.3 645.4,2466.4 647.3,2466 649.3,2466.2 651.2,2466.6 653.2,2467.8 655.1,2468 657.1,2468 659,2467.2 660.9,2467.1 662.9,2467.7 664.8,2467.7 666.8,2466.3 668.7,2466.3 670.7,2465.9 672.6,2465.3 674.5,2465.9 676.5,2466.4 678.4,2466.8 680.4,2466.4 682.3,2466.8 684.2,2466.7 686.2,2465.7 688.1,2465.5 690.1,2466.6 692,2466.6 694,2466.8 695.9,2467.6 697.8,2467.1 699.8,2466.6 701.7,2466.7 703.7,2467.3 705.6,2466.7 707.6,2466.5 709.5,2467.4 711.4,2466.9 713.4,2466.5 715.3,2467 717.3,2466.9 719.2,2466.1 721.2,2465.8 723.1,2466.1 725,2465.6 727,2465.5 728.9,2465.7 730.9,2465.7 732.8,2466.1 734.7,2465.7 736.7,2464.8 738.6,2465.8 740.6,2465.1 742.5,2464.3 744.5,2465.1 746.4,2466.1 748.3,2466.1 750.3,2464.9 752.2,2464.8 754.2,2464.8 756.1,2464.3 758.1,2464.2 760,2465.7 761.9,2464.5 763.9,2464.9 765.8,2464.3 767.8,2463.6 769.7,2463.5 771.7,2463.2 773.6,2462.8 775.5,2463.2 777.5,2461.2 779.4,2461 781.4,2461.1 782.2,2460.8 783,2460.3 783.8,2460 784.6,2460.2 785.4,2460.4 786.2,2461.2 787,2460.9 787.8,2458.9 788.6,2458.1 789.4,2456.6 790.2,2457 791,2455 791.8,2456.4 792.6,2455.5 793.4,2454.4 794.2,2453.1 795,2452 795.8,2450 796.6,2448.8 797.4,2446.2 798.2,2442.4 799,2438.4 799.8,2435.9 800.6,2431 800.9,2428.4 801.3,2425.8 801.7,2423.8 802,2418.7 802.4,2415.4 802.8,2411.3 803.1,2407.9 803.5,2402.7 803.9,2398.1 804.2,2392.1 804.6,2387.4 804.9,2382.5 805.3,2377.6 805.7,2373.3 806,2368.7 806.4,2364.3 806.8,2361.7 807.1,2359.7 807.5,2359 807.9,2359.3 808.2,2361.5 808.6,2364.4 809,2366.9 809.3,2372.2 809.7,2377.1 810.1,2384.2 810.4,2388.1 810.8,2392.1 811.2,2397.9 811.5,2402.8 811.9,2406.9 812.3,2412.3 812.6,2415.8 813,2420.1 813.4,2423.5 813.7,2427.5 814.1,2428.9 814.5,2431.3 814.8,2434.6 815.2,2437 816,2440.3 816.8,2442.4 817.6,2444.9 818.4,2447.6 819.2,2449.8 820,2451.4 820.8,2452.5 821.6,2453.9 822.4,2455.3 823.2,2456.1 824,2458 824.8,2458.5 825.6,2459.1 826.4,2459.3 827.2,2457.7 828,2459.2 828.8,2459.8 829.6,2459.7 830.4,2459.6 831.2,2460.1 832,2458.9 832.8,2459.5 833.6,2460.6 834.4,2462.5 835.2,2462.4 837.1,2462.8 839.1,2463.6 841,2463.9 843,2462.9 844.9,2463.9 846.8,2464.4 848.8,2463.7 850.7,2463.1 852.7,2462.1 854.6,2463.3 856.5,2463.3 858.5,2465 860.4,2464 862.4,2464.2 864.3,2465.3 866.3,2463.1 868.2,2463.5 870.1,2464 872.1,2463.9 874,2464.1 876,2463.6 877.9,2464.4 879.9,2463.5 881.8,2464.3 883.7,2463.9 885.7,2464.4 887.6,2464.6 889.6,2464.6 891.5,2463.8 893.5,2464.2 895.4,2464 897.3,2463.6 899.3,2463.5 901.2,2462.8 903.2,2464.9 905.1,2465 907,2465 909,2464.3 910.9,2464 912.9,2464.5 914.8,2464.8 916.8,2465 918.7,2465.3 920.6,2465.1 922.6,2463.9 924.5,2463.6 926.5,2465.1 928.4,2464.5 930.4,2463.7 932.3,2464.3 934.2,2464.4 936.2,2464.7 938.1,2465.2 940.1,2464.4 942,2464.7 944,2463.8 945.9,2462.6 947.8,2464.3 949.8,2464.1 951.7,2464.2 953.7,2464.6 955.6,2465.6 957.6,2465.2 959.5,2464.6 961.4,2463.9 963.4,2463.2 965.3,2462.7 967.3,2462.6 969.2,2462.7 971.1,2462.6 973.1,2462.5 975,2462.2 977,2463.4 978.9,2462.6 980.9,2460.9 982.8,2461 983.6,2461.5 984.4,2460.4 985.2,2460.8 986,2460.2 986.8,2459.6 987.6,2458.7 988.4,2458.2 989.2,2458 990,2457.8 990.8,2458.9 991.6,2457.5 992.4,2457.1 993.2,2457.1 994,2456.8 994.8,2454.6 995.6,2453.6 996.4,2453.4 997.2,2452.8 998,2451.5 998.8,2449.8 999.6,2447.5 1000.4,2446.9 1001.2,2444.6 1002,2442.1 1002.8,2438.3 1003.2,2435.4 1003.5,2434.6 1003.9,2432.3 1004.3,2429.5 1004.6,2426.6 1005,2424.3 1005.4,2421.3 1005.7,2418.2 1006.1,2414.4 1006.5,2411.7 1006.8,2407.8 1007.2,2404.1 1007.6,2400.5 1007.9,2396.9 1008.3,2393.5 1008.6,2391 1009,2389.7 1009.4,2387.7 1009.7,2387.6 1010.1,2387.4 1010.5,2387.4 1010.8,2388.1 1011.2,2390.2 1011.6,2392.7 1011.9,2394.9 1012.3,2399.8 1012.7,2403.8 1013,2407.4 1013.4,2410.5 1013.8,2413.7 1014.1,2417.5 1014.5,2421.2 1014.9,2424.6 1015.2,2429.1 1015.6,2430.4 1016,2432.7 1016.3,2433.8 1016.7,2436.4 1017.1,2437.8 1017.4,2440.6 1017.8,2441.7 1018.6,2445.3 1019.4,2446.9 1020.2,2448.2 1021,2450.4 1021.8,2452.5 1022.6,2453.2 1023.4,2453.9 1024.2,2452.9 1025,2453.4 1025.8,2454.5 1026.6,2455.5 1027.4,2456.4 1028.2,2456.9 1029,2457.3 1029.8,2458.9 1030.6,2457.7 1031.4,2460.4 1032.2,2459.1 1033,2461.3 1033.8,2460.7 1034.6,2461.2 1035.4,2461.6 1036.2,2461.9 1037,2462.1 1037.8,2461.4 1038.6,2460.8 1039.4,2462.2 1041.3,2461.9 1043.3,2461.1 1045.2,2462.3 1046,2461.7 1046.8,2463 1047.6,2462.8 1048.4,2461.7 1049.2,2460.8 1050,2461.3 1050.8,2460.6 1051.6,2460.6 1052.4,2459.8 1053.2,2460.9 1054,2461.9 1054.8,2462.6 1055.6,2463.4 1056.4,2461.2 1057.2,2460.7 1058,2461.3 1058.8,2461.8 1059.6,2461 1060.4,2460.1 1061.2,2459.8 1062,2460.7 1062.8,2460.8 1063.6,2460.4 1064.4,2460.4 1065.2,2459.7 1066,2459 1066.4,2458.6 1066.7,2459.1 1067.1,2458.7 1067.5,2457.7 1067.8,2457.5 1068.2,2457.5 1068.6,2457 1068.9,2456.8 1069.3,2457.6 1069.7,2455.6 1070,2455.6 1070.4,2455 1070.8,2453.7 1071.1,2452.6 1071.5,2452.4 1071.9,2451.4 1072.2,2452.1 1072.6,2452.6 1073,2452.1 1073.3,2452.7 1073.7,2453.4 1074,2452.1 1074.4,2452.6 1074.8,2454 1075.1,2454.3 1075.5,2455.7 1075.9,2455.6 1076.2,2455.1 1076.6,2455.8 1077,2456.6 1077.3,2457.3 1077.7,2457.1 1078.1,2457.9 1078.4,2458.8 1078.8,2458.5 1079.2,2458.6 1079.5,2459.8 1079.9,2459.4 1080.3,2460.6 1080.6,2461.9 1081,2460.1 1081.8,2460.1 1082.6,2461.4 1083.4,2462.3 1084.2,2461.9 1085,2461.4 1085.8,2461.8 1086.6,2461.5 1087.4,2463.3 1088.2,2461.8 1089,2463.7 1089.8,2462.1 1090.6,2463.1 1091.4,2463.7 1092.2,2463.6 1093,2461.9 1093.8,2463.8 1094.6,2462.8 1095.4,2463.2 1096.2,2463.3 1097,2462.7 1097.8,2463.2 1098.6,2463.8 1099.4,2463.8 1100.2,2463.3 1101,2463.2 1101.8,2463.9 1102.6,2462.4 1104.5,2464.3 1106.5,2464.6 1108.4,2463.1 1110.4,2463.4 1112.3,2463.9 1114.2,2462.7 1116.2,2462.8 1118.1,2464.2 1120.1,2463.7 1122,2463.3 1124,2463.3 1125.9,2463.8 1127.8,2464.1 1129.8,2463.3 1131.7,2463 1133.7,2463.9 1135.6,2463.7 1137.6,2463.7 1139.5,2464.5 1141.4,2463.9 1143.4,2463.9 1145.3,2463.7 1147.3,2462.7 1149.2,2463.8 1151.1,2464.2 1153.1,2463.6 1155,2464.2 1157,2464.7 1158.9,2465.9 1160.9,2464.7 1162.8,2464 1164.7,2463.6 1166.7,2464.2 1168.6,2463.8 1170.6,2463.2 1172.5,2464.3 1174.5,2464.5 1176.4,2463.7 1178.3,2464.2 1180.3,2464.9 1182.2,2463.8 1184.2,2465.5 1186.1,2463.2 1188.1,2464.6 1190,2464.7 1191.9,2464.5 1193.9,2464.8 1195.8,2465.5 1197.8,2463.9 1199.7,2465.4 1201.7,2463.7 1203.6,2464.1 1205.5,2465.6 1207.5,2465.5 1209.4,2462.9 1211.4,2463.2 1213.3,2462.9 1215.2,2462.5 1217.2,2464.6 1219.1,2464 1221.1,2464.2 1223,2465.2 1225,2463.3 1226.9,2463.8 1228.8,2463.4 1230.8,2463.4 1232.7,2463.7 1234.7,2463.8 1236.6,2464.7 1238.6,2463.8 1240.5,2464.9 1242.4,2463.6 1244.4,2463.9 1246.3,2462.7 1248.3,2462.9 1250.2,2462.9 1252.2,2462.7 1254.1,2463.1 1256,2464.2 1258,2464.4 1259.9,2464.6 1261.9,2464.3 1263.8,2464.5 1265.7,2465.6 1267.7,2464.8 1269.6,2465.2 1271.6,2464.7 1273.5,2464.4 1275.5,2464.5 1277.4,2464.3 1279.3,2462.9 1280.1,2463.8 1280.9,2463.5 1281.7,2464.5 1282.5,2464.3 1283.3,2465 1284.1,2464 1284.9,2462.2 1285.7,2463.7 1286.5,2464.3 1287.3,2464.3 1288.1,2465.7 1288.9,2465.4 1289.7,2465 1290.5,2463.3 1291.3,2463.7 1292.1,2462.8 1292.9,2462.6 1293.7,2462.9 1294.5,2462.9 1295.3,2463.5 1296.1,2463 1296.9,2462.2 1297.7,2462.7 1298.5,2462.2 1299.3,2461.7 1300.1,2462 1300.9,2460.8 1301.3,2460.2 1301.7,2460.6 1302,2460.8 1302.4,2460.5 1302.8,2459.4 1303.1,2458.3 1303.5,2458 1303.9,2456.9 1304.2,2457.8 1304.6,2457.1 1305,2455.7 1305.3,2454.5 1305.7,2454.9 1306.1,2454 1306.4,2453 1306.8,2452.8 1307.2,2452.7 1307.5,2451.7 1307.9,2452.5 1308.3,2451.2 1308.6,2451.3 1309,2451.1 1309.3,2450.7 1309.7,2450.6 1310.1,2450.7 1310.4,2451.2 1310.8,2451.8 1311.2,2452.2 1311.5,2452.5 1311.9,2454.2 1312.3,2455.2 1312.6,2455.7 1313,2456 1313.4,2457.4 1313.7,2458 1314.1,2459.1 1314.5,2459.3 1314.8,2459.7 1315.2,2459.2 1315.6,2459.1 1315.9,2460 1316.3,2459.2 1316.7,2459 1317,2459.6 1317.4,2460.8 1318.2,2461.3 1319,2461.2 1319.8,2461.7 1320.6,2463 1321.4,2463.1 1322.2,2462.9 1323,2463.4 1323.8,2464 1324.6,2463.3 1325.4,2463.1 1326.2,2464.3 1327,2463.6 1327.8,2463.7 1328.6,2462.5 1329.4,2462.6 1330.2,2462.3 1331,2462.7 1331.8,2461.6 1332.6,2463.1 1333.4,2462.3 1334.2,2460.7 1335,2462.4 1335.8,2463.4 1336.6,2464.4 1337.4,2464.2 1338.2,2465.9 1339,2463.7 1339.8,2464.1 1341.7,2465.3 1343.7,2464.5 1345.6,2466.1 1347.6,2465.9 1349.5,2465.8 1351.4,2464.2 1353.4,2464.1 1355.3,2464.4 1357.3,2464.4 1359.2,2464.6 1361.2,2464.1 1363.1,2464.2 1365,2464.2 1367,2464.4 1368.9,2464.7 1370.9,2464.1 1372.8,2462.9 1374.7,2463.8 1376.7,2464.1 1378.6,2463.6 1380.6,2465 1382.5,2463.9 1384.5,2464.3 1386.4,2464.8 1388.3,2464.4 1390.3,2464.5 1392.2,2464.6 1394.2,2464.1 1396.1,2463.1 1398.1,2463.2 1400,2464.5 1401.9,2463.7 1403.9,2465.7 1405.8,2464.6 1407.8,2464.3 1409.7,2464.4 1411.7,2466.1 1413.6,2463.6 1415.5,2464 1417.5,2462.8 1419.4,2464.3 1421.4,2464.4 1423.3,2463.7 1425.3,2464.1 1427.2,2464.1 1429.1,2463.8 1431.1,2464.2 1433,2463.9 1435,2463.2 1436.9,2463.1 1438.8,2464.4 1440.8,2464.9 1442.7,2464.2 1444.7,2463.4 1445.5,2463.7 1446.3,2464.5 1447.1,2463.8 1447.9,2463.8 1448.7,2463.5 1449.5,2464 1450.3,2463.5 1451.1,2462.3 1451.9,2462.5 1452.7,2462.9 1453.5,2462.9 1454.3,2463.3 1455.1,2463.7 1455.9,2463.4 1456.7,2463.3 1457.5,2461.3 1458.3,2460.7 1459.1,2459 1459.9,2459.9 1460.7,2460.1 1461.5,2459.4 1462.3,2460.1 1463.1,2460.2 1463.9,2460.7 1464.7,2459.5 1465.5,2458.8 1466.3,2457.1 1467.1,2455.7 1467.4,2456.2 1467.8,2455.7 1468.2,2454.9 1468.5,2453.5 1468.9,2453.1 1469.3,2452.7 1469.6,2450.3 1470,2449.6 1470.4,2448.8 1470.7,2447.9 1471.1,2445.7 1471.5,2446.2 1471.8,2444.7 1472.2,2444.8 1472.6,2443.3 1472.9,2442.1 1473.3,2441.1 1473.7,2439.6 1474,2439.8 1474.4,2438.8 1474.7,2437.7 1475.1,2437.6 1475.5,2437.7 1475.8,2439.7 1476.2,2439.4 1476.6,2439.9 1476.9,2440.6 1477.3,2442.3 1477.7,2443.5 1478,2444.7 1478.4,2445.8 1478.8,2447.4 1479.1,2448.2 1479.5,2448.9 1479.9,2449.4 1480.2,2451.8 1480.6,2451.7 1481,2452.1 1481.3,2453.8 1481.7,2454 1482.1,2454.5 1482.4,2455.7 1482.8,2456.5 1483.2,2456.7 1483.5,2457 1483.9,2457.4 1484.7,2458.1 1485.5,2458.1 1486.3,2458.9 1487.1,2459.1 1487.9,2459.7 1488.7,2459.7 1489.5,2460.4 1490.3,2461.4 1491.1,2460.2 1491.9,2461.3 1492.7,2462.1 1493.5,2461.2 1494.3,2462.1 1495.1,2462.1 1495.9,2461.7 1496.7,2461.7 1497.5,2461.5 1498.3,2462.4 1499.1,2462.6 1499.9,2462.7 1500.7,2461.7 1501.5,2461.1 1502.3,2461.8 1503.1,2462.6 1503.9,2462.4 1504.7,2462.7 1505.5,2462.7 1506.3,2462.5 1507.1,2462.2 1507.9,2461.5 1508.7,2461.9 1509.5,2461.3 1510.3,2462.4 1511.1,2462 1511.9,2461.9 1512.7,2461.2 1513.5,2461.3 1514.3,2462 1515.1,2461.9 1515.9,2459 1516.7,2460.5 1517.5,2458.8 1518.3,2459.8 1519.1,2459 1519.9,2458.1 1520.7,2458.2 1521,2458.7 1521.4,2459.5 1521.8,2458.8 1522.1,2458.1 1522.5,2457 1522.9,2455.7 1523.2,2455.2 1523.6,2454.5 1524,2453.8 1524.3,2454 1524.7,2453.6 1525.1,2453.2 1525.4,2452.4 1525.8,2452.1 1526.2,2451.3 1526.5,2449.9 1526.9,2449.3 1527.3,2448.5 1527.6,2447.9 1528,2446.9 1528.4,2446.3 1528.7,2446.3 1529.1,2445.2 1529.5,2446.3 1529.8,2446 1530.2,2447.3 1530.6,2448.9 1530.9,2449.3 1531.3,2450.2 1531.6,2451.3 1532,2451.3 1532.4,2451.9 1532.7,2452.8 1533.1,2454 1533.5,2454.2 1533.8,2453.4 1534.2,2454.6 1534.6,2456.3 1534.9,2458.1 1535.3,2458.6 1535.7,2457.3 1536,2457.1 1536.4,2458.8 1536.8,2460.2 1537.1,2460.8 1537.5,2459.3 1537.9,2460.3 1538.7,2461.3 1539.5,2461.1 1540.3,2461.3 1541.1,2462 1541.9,2461.7 1542.7,2462.7 1543.5,2461.4 1544.3,2460.9 1545.1,2463.2 1545.9,2463.7 1546.7,2462.9 1547.5,2462.6 1548.3,2463 1549.1,2463.8 1549.9,2464 1550.7,2463.5 1551.5,2462.8 1552.3,2463.8 1553.1,2463.8 1553.9,2463.5 1554.7,2462.7 1555.5,2461.7 1556.3,2463 1557.1,2464.2 1557.9,2462.4 1558.7,2462.1 1559.5,2463 1560.3,2464.1 1561.1,2463.4 1561.9,2464.7 1563.8,2464 1565.7,2464.1 1567.7,2463.2 1569.6,2463.6 1571.6,2464 1573.5,2464.6 1575.5,2464.1 1577.4,2464.4 1579.3,2463.8 1581.3,2465 1583.2,2466.4 1585.2,2465.4 1587.1,2464.4 1589.1,2464.3 1591,2464.1 1592.9,2465.1 1594.9,2465 1596.8,2464.2 1598.8,2464.9 1600.7,2465.2 1602.6,2466.3 1604.6,2465.5 1606.5,2464.9 1608.5,2465.4 1610.4,2464.8 1612.4,2464.8 1614.3,2464.4 1616.2,2466.2 1618.2,2464.9 1620.1,2465.5 1622.1,2465.3 1624,2464.4 1626,2464 1627.9,2463.5 1629.8,2463.2 1631.8,2463.1 1633.7,2465 1635.7,2466.2 1637.6,2464 1639.6,2465.5 1641.5,2465.1 1643.4,2466.3 1645.4,2466.5 1647.3,2464.8 1649.3,2464.5 1651.2,2464.9 1653.1,2465.4 1655.1,2465.6 1657,2465.6 1659,2465.5 1660.9,2465.3 1662.9,2465.4 1664.8,2466 1666.7,2465.7 1668.7,2464.5 1670.6,2464.2 1672.6,2464.8 1674.5,2465.6 1676.5,2464.3 1678.4,2464.6 1680.3,2464.9 1682.3,2464.4 1684.2,2464.6 1686.2,2464.9 1688.1,2465.2 1690.1,2464.6 1692,2465 1693.9,2465.4 1695.9,2465.4 1697.8,2465.9 1699.8,2465.5 1701.7,2465.4 1703.7,2466.3 1705.6,2465.5 1707.5,2465.3 1708.3,2465.6 1709.1,2466.5 1709.9,2465.4 1710.7,2464.8 1711.5,2466.1 1712.3,2466.3 1713.1,2466.2 1713.9,2464.9 1714.7,2465.6 1715.5,2464.6 1716.3,2464.5 1717.1,2465.3 1717.9,2465.6 1718.7,2466.3 1719.5,2465.1 1720.3,2464.7 1721.1,2464.6 1721.9,2464 1722.7,2463.8 1723.5,2463.2 1724.3,2463.5 1725.1,2463 1725.9,2462.3 1726.7,2462.4 1727.5,2461.7 1728.3,2462.7 1729.1,2462.1 1729.9,2461.2 1730.7,2460.7 1731.5,2460.5 1732.3,2458.8 1733.1,2458.2 1733.5,2457.7 1733.9,2458.2 1734.2,2457.4 1734.6,2458 1735,2456.5 1735.3,2455.6 1735.7,2455.9 1736.1,2454.9 1736.4,2456 1736.8,2452.3 1737.2,2451.3 1737.5,2451.3 1737.9,2449.7 1738.2,2448.6 1738.6,2448.7 1739,2447 1739.3,2447.1 1739.7,2445.5 1740.1,2445.6 1740.4,2444.1 1740.8,2443.2 1741.2,2443 1741.5,2443 1741.9,2442.7 1742.3,2443.6 1742.6,2444.2 1743,2444.8 1743.4,2444.3 1743.7,2444.2 1744.1,2444.9 1744.5,2445.6 1744.8,2448 1745.2,2449.8 1745.6,2450 1745.9,2449.7 1746.3,2450.4 1746.7,2451.2 1747,2453.1 1747.4,2453.7 1747.8,2454.2 1748.1,2455 1748.5,2455 1748.9,2456.2 1749.2,2456.7 1749.6,2456.4 1749.9,2457.9 1750.3,2458.2 1750.7,2458.6 1751,2459.7 1751.4,2460.9 1751.8,2460.9 1752.6,2462.3 1753.4,2462.7 1754.2,2463.3 1755,2463.5 1755.8,2462.3 1756.6,2463.2 1757.4,2463.2 1758.2,2463.3 1759,2463.4 1759.8,2464.5 1760.6,2464.3 1761.4,2463.9 1762.2,2463.9 1763,2463 1763.8,2463.6 1764.6,2465 1765.4,2465 1766.2,2466.2 1767,2465.1 1767.8,2465.1 1768.6,2466.1 1769.4,2465.6 1770.2,2466.5 1771,2465.2 1771.8,2466.2 1772.6,2465.8 1773.4,2466.8 1774.2,2466.8 1775,2466.4 1775.8,2466.4 1776.6,2467.3 1777.4,2466.4 1778.9,2466"/>
<polyline fill="none" stroke="#0000ff" stroke-width="7.6" stroke-linejoin="round" stroke-linecap="butt" points="179.3,2704.7 181.2,2705 183.2,2705.6 185.1,2704.3 187.1,2703.2 189,2704.7 191,2705.2 192.9,2705.4 194.8,2704.9 196.8,2705.5 198.7,2706 200.7,2704.4 202.6,2705.1 204.6,2705.2 206.5,2705.2 208.4,2705.5 210.4,2705.7 212.3,2706.3 214.3,2705.4 216.2,2703.6 218.1,2704 220.1,2704.7 222,2704 224,2704.3 225.9,2703.5 227.9,2703.9 229.8,2703.3 231.7,2703.6 233.7,2704.4 235.6,2704.5 237.6,2704.9 239.5,2704.5 241.5,2704.8 243.4,2705.7 245.3,2704.8 247.3,2705.6 249.2,2704.5 251.2,2703.4 253.1,2703.4 255.1,2704.3 257,2704.3 258.9,2704.2 260.9,2704 262.8,2703.3 264.8,2703.1 266.7,2703 268.6,2702.7 270.6,2703.3 272.5,2702.7 274.5,2703.6 276.4,2704.6 278.4,2703.9 280.3,2704.7 282.2,2704.6 284.2,2702.5 286.1,2702.8 288.1,2703.2 290,2703.2 292,2702.5 293.9,2702.5 295.8,2701.9 297.8,2700.2 299.7,2701.1 301.7,2701.3 303.6,2702.2 305.6,2702.4 307.5,2702.3 309.4,2701.5 311.4,2700.9 312.2,2700.6 313,2700.6 313.8,2699.4 314.6,2699.7 315.4,2700.2 316.2,2700.5 317,2699.8 317.8,2699.6 318.6,2700 319.4,2700.5 320.2,2699.2 321,2698.2 321.8,2699.2 322.6,2698.9 323.4,2698.4 324.2,2698.5 325,2698.5 325.8,2698.7 326.6,2698.3 327.4,2698.8 328.2,2697.3 329,2697.6 329.8,2696.8 330.6,2695.8 331.4,2697.1 332.2,2696.7 333,2697.7 333.8,2696.9 334.6,2695.7 335.4,2695 336.2,2694.2 337,2694.1 337.8,2694.1 338.6,2695.3 339.4,2695.2 340.2,2694.1 341,2693.3 341.8,2692.5 342.6,2692.5 343.4,2691.1 344.2,2690.6 345,2689.1 345.8,2688.4 346.6,2688.9 347.4,2688.6 348.2,2688.9 349,2687.3 349.8,2686 350.6,2685.7 351.4,2684.8 352.2,2683.2 353,2681.2 353.8,2680.4 354.6,2679 355.4,2677.3 356.2,2675.7 357,2673.4 357.8,2670.9 358.6,2669.4 358.9,2668.1 359.3,2665.9 359.7,2665.7 360,2664.6 360.4,2662.9 360.8,2662.7 361.1,2660.9 361.5,2659.8 361.9,2657.9 362.2,2656.5 362.6,2655.5 363,2654.9 363.3,2653.4 363.7,2650.5 364.1,2649.5 364.4,2647.7 364.8,2646 365.2,2644 365.5,2641.8 365.9,2640.4 366.2,2637.6 366.6,2636.6 367,2633.4 367.3,2631.1 367.7,2627.5 368.1,2625.8 368.4,2622.9 368.8,2619.6 369.2,2618.8 369.5,2615.9 369.9,2613.1 370.3,2610.7 370.6,2608.6 371,2606.8 371.4,2605.7 371.7,2604.2 372.1,2602.7 372.5,2600.8 372.8,2598.6 373.2,2597.2 373.6,2596.9 373.9,2595.7 374.3,2595.6 374.7,2594.7 375,2594.8 375.4,2595.3 375.8,2595 376.1,2595.4 376.5,2594.7 376.9,2595 377.2,2596.2 377.6,2597.6 377.9,2599.2 378.3,2600.2 378.7,2600.9 379,2603.1 379.4,2604 379.8,2606.4 380.1,2609.2 380.5,2610.8 380.9,2614.5 381.2,2615.9 381.6,2617.2 382,2617.9 382.3,2620.3 382.7,2623.5 383.1,2625.4 383.4,2627.4 383.8,2630 384.2,2632.5 384.5,2634 384.9,2637.1 385.3,2638 385.6,2639.9 386,2641.6 386.4,2642.5 386.7,2644.7 387.1,2647.2 387.5,2648.6 387.8,2649.2 388.2,2651.4 388.6,2653.4 388.9,2654.9 389.3,2655.5 389.6,2657.4 390,2658.6 390.4,2659.5 390.7,2659.8 391.1,2660.5 391.5,2661.1 391.8,2662.1 392.2,2664.1 392.6,2664.2 392.9,2665.7 393.7,2666.7 394.5,2668.6 395.3,2671.2 396.1,2673.2 396.9,2673.9 397.7,2673.7 398.5,2673.4 399.3,2675.3 400.1,2675.8 400.9,2676.7 401.7,2678.8 402.5,2678.4 403.3,2678.4 404.1,2679.9 404.9,2679.6 405.7,2679.1 406.5,2681.2 407.3,2680.4 408.1,2680.7 408.9,2680.8 409.7,2681.7 410.5,2681.7 411.3,2683.1 412.1,2682.7 412.9,2683.6 413.7,2682.9 414.5,2682.3 415.3,2683 416.1,2683.9 416.9,2684.6 417.7,2682.9 418.5,2683.5 419.3,2682.5 420.1,2684.1 420.9,2684.5 421.7,2684.4 422.5,2683.7 423.3,2683.8 424.1,2684.1 424.9,2682.9 425.7,2683.5 426.5,2685.1 427.3,2684.8 428.1,2685.9 428.9,2684.9 429.7,2685.9 430.5,2685 431.3,2685.9 432.1,2685.8 432.9,2686.1 433.7,2685.7 434.5,2686.1 435.3,2687.1 436.1,2687.2 436.9,2686.3 437.7,2685.6 438.5,2685 439.3,2686.6 440.1,2687.8 440.9,2688.3 441.7,2688.4 442.5,2687.5 443.3,2688 444.1,2688.4 444.9,2688.6 445.7,2688.3 446.5,2689 447.3,2687.6 448.1,2688.1 448.9,2688.7 449.7,2688.1 450.5,2688.4 451.3,2688.1 452.1,2689.3 452.9,2688.9 453.7,2688.5 454.5,2688.5 455.3,2688.7 456.1,2688.5 456.9,2688.2 457.7,2688 458.5,2688 459.3,2687.5 460.1,2687 460.9,2686.7 461.7,2686.1 462.1,2686.1 462.5,2687.1 462.8,2687.3 463.2,2687.5 463.5,2685.2 463.9,2685.1 464.3,2684.9 464.6,2685 465,2685.6 465.4,2685 465.7,2685 466.1,2684.5 466.5,2684.5 466.8,2683.9 467.2,2683.5 467.6,2682.2 467.9,2683.4 468.3,2681.8 468.7,2681.3 469,2679.6 469.4,2680.9 469.8,2679.6 470.1,2678.9 470.5,2679.4 470.9,2678.9 471.2,2678.9 471.6,2678.6 472,2678.1 472.3,2677.1 472.7,2676.4 473.1,2675.5 473.4,2675.4 473.8,2675.4 474.2,2675.9 474.5,2675.2 474.9,2674.9 475.2,2673.9 475.6,2673 476,2674.1 476.3,2673.2 476.7,2673.6 477.1,2672.7 477.4,2673 477.8,2672.4 478.2,2672.7 478.5,2673.5 478.9,2673.3 479.3,2673 479.6,2672.6 480,2673.2 480.4,2674 480.7,2672.7 481.1,2673 481.5,2674.8 481.8,2674.3 482.2,2674.8 482.6,2675.7 482.9,2676.3 483.3,2676.5 483.7,2676.6 484,2677.1 484.4,2677.3 484.8,2678.9 485.1,2680.2 485.5,2681.5 485.9,2681.4 486.2,2682.8 486.6,2684.3 486.9,2683.4 487.3,2684.1 487.7,2684.5 488,2683.9 488.4,2684 488.8,2685 489.1,2685.9 489.5,2686.4 489.9,2688.3 490.2,2688.7 490.6,2688.6 491,2688.7 491.3,2687.9 491.7,2688.9 492.1,2689.3 492.4,2689.7 492.8,2689.9 493.2,2690.8 493.5,2691.7 493.9,2691.1 494.3,2692.2 494.6,2691.7 495,2692.7 495.4,2693.1 495.7,2693.1 496.1,2693.6 496.5,2692.5 497.3,2693.6 498.1,2694.7 498.9,2696.1 499.7,2695.7 500.5,2697.5 501.3,2698.3 502.1,2698.4 502.9,2698 503.7,2698 504.5,2700.1 505.3,2701 506.1,2700.3 506.9,2700.2 507.7,2699.5 508.5,2700.6 509.3,2699.7 510.1,2699.6 510.9,2700.4 511.7,2701.1 512.5,2700.5 513.3,2699.1 514.1,2699.6 514.9,2700.2 515.7,2700.7 516.4,2700.8 517.2,2701.6 518,2702.2 518.8,2701.3 519.6,2702.5 520.4,2701.1 521.2,2701.8 522,2702.2 522.8,2701.6 523.6,2701 524.4,2701.9 525.2,2701.5 526,2700.9 526.8,2702 527.6,2700.6 528.4,2699.4 528.8,2699.2 529.2,2698.3 529.5,2698.6 529.9,2698 530.3,2699 530.6,2698.7 531,2698.1 531.4,2697.2 531.7,2696.2 532.1,2695.7 532.5,2695.1 532.8,2694.5 533.2,2695 533.6,2695.6 533.9,2696.2 534.3,2695.4 534.7,2696.3 535,2697.3 535.4,2696.8 535.8,2698.1 536.1,2698.4 536.5,2699.2 536.9,2698.6 537.2,2700 537.6,2700.4 538,2701.3 538.3,2699.9 538.7,2701.1 539.1,2701.3 539.8,2702.3 540.6,2702.3 541.4,2702 542.2,2701.8 543,2703.5 543.8,2704 544.6,2704 545.4,2702.8 546.2,2703 547,2703.6 547.8,2703.9 548.6,2703.3 549.4,2703.2 550.2,2702.9 551,2703.1 551.8,2703.9 552.6,2704.2 553.4,2703.4 554.2,2702.9 556.2,2703.2 558.1,2703.8 560.1,2703.2 562,2703.4 564,2704.6 565.9,2703.5 567.8,2703.7 569.8,2705 571.7,2705.6 573.7,2704.5 575.6,2704.6 577.6,2704.2 579.5,2703.1 581.4,2703.6 583.4,2704.5 585.3,2704.2 587.3,2704 588.1,2704.2 588.9,2703.9 589.7,2704.4 590.5,2703.5 591.3,2703.5 592.1,2704.5 592.9,2703.2 593.7,2702.9 594.5,2703.3 595.3,2704.3 596.1,2705.2 596.9,2703.9 597.7,2703.8 598.5,2703.8 599.3,2703.4 600.1,2703.6 600.9,2702 601.7,2702.2 602,2702.1 602.4,2701.3 602.8,2702.3 603.1,2702.3 603.5,2701.2 603.9,2700.7 604.2,2700.9 604.6,2699.8 605,2699.2 605.3,2699 605.7,2700.6 606.1,2699.1 606.4,2698.9 606.8,2698.5 607.1,2698.4 607.5,2698.9 607.9,2698.3 608.2,2699 608.6,2698.8 609,2699.2 609.3,2699.4 609.7,2700.6 610.1,2698.9 610.4,2700.4 610.8,2702.2 611.2,2701.7 611.5,2702.4 611.9,2703.9 612.3,2702.8 612.6,2702.6 613.4,2703.6 614.2,2702.4 615,2703.4 615.8,2703.5 616.6,2704.3 617.4,2702.8 618.2,2703.9 619,2704.6 619.8,2705.1 620.6,2705.8 621.4,2704.1 622.2,2705 623,2705.6 623.8,2704.7 624.6,2704.5 625.4,2704.7 626.2,2705.1 627,2705.5 627.8,2705.5 629.8,2705.5 631.7,2705.7 633.7,2706.1 635.6,2703.1 637.5,2703.7 639.5,2704.5 641.4,2704.5 643.4,2704.4 645.3,2704.5 647.3,2704.5 649.2,2703.5 651.1,2703.7 653.1,2704.2 655,2704 657,2703 658.9,2702.9 660.8,2702.6 662.8,2703.5 664.7,2703.3 666.7,2703.6 668.6,2704 670.6,2703.8 672.5,2705.1 674.4,2705.1 676.4,2704.7 678.3,2704.6 680.3,2704.7 682.2,2704 684.2,2704.1 686.1,2705.3 688,2705.4 690,2704.3 691.9,2704 693.9,2702.9 695.8,2702.2 697.8,2703.7 699.7,2703.9 701.6,2704.1 703.6,2703.7 705.5,2704 707.5,2704.6 709.4,2705 711.3,2704.3 713.3,2703.7 715.2,2704.5 717.2,2703.7 719.1,2703.1 721.1,2703.8 723,2703.8 724.9,2703.3 726.9,2703.6 728.8,2704.4 730.8,2704.4 732.7,2703.3 734.7,2704 736.6,2703.9 738.5,2703.2 739.3,2704 740.1,2703 740.9,2703.3 741.7,2703.6 742.5,2703.9 743.3,2703.5 744.1,2703 744.9,2702.1 745.7,2701.8 746.5,2702.8 747.3,2702 748.1,2702.8 748.9,2703.5 749.7,2702.6 750.5,2702.8 751.3,2703 752.1,2701.5 752.9,2701.8 753.7,2702 754.5,2702.7 755.3,2702 756.1,2701.7 756.9,2701.8 757.7,2701.6 758.5,2702 759.3,2701.6 760.1,2702.3 760.9,2701.2 761.7,2700.6 762.5,2700.5 763.3,2700.8 764.1,2700.3 764.9,2701.7 765.7,2700.6 766.5,2700.4 767.3,2701.1 768.1,2699.4 768.9,2700.6 769.7,2699.5 770.5,2699.4 771.3,2699.1 772.1,2700.7 772.9,2700 773.7,2699.7 774.5,2697.5 775.3,2697 776.1,2697.6 776.9,2697.6 777.7,2696.9 778.5,2698.1 779.3,2697.2 780.1,2697 780.9,2697 781.7,2696.4 782.5,2695.6 783.3,2696.2 784.1,2694.2 784.9,2695.3 785.7,2692.9 786.5,2692.2 787.3,2691.5 788.1,2691.7 788.9,2690.2 789.7,2689.2 790.1,2688.5 790.5,2687.8 790.8,2688.4 791.2,2688.9 791.6,2686.8 791.9,2686.8 792.3,2685.4 792.7,2686 793,2684.6 793.4,2683.6 793.8,2682.4 794.1,2682.7 794.5,2682.8 794.8,2681.1 795.2,2680.6 795.6,2680.4 795.9,2680.1 796.3,2679.1 796.7,2678.3 797,2678.7 797.4,2677.6 797.8,2676.8 798.1,2674.4 798.5,2673.3 798.9,2671.7 799.2,2670 799.6,2668.3 800,2668.8 800.3,2669 800.7,2667.4 801.1,2667.4 801.4,2665.7 801.8,2665 802.2,2664.6 802.5,2663.6 802.9,2662.3 803.3,2662 803.6,2661.2 804,2660.7 804.4,2659.7 804.7,2659.6 805.1,2657.8 805.5,2656.7 805.8,2656.6 806.2,2656.1 806.5,2656.7 806.9,2656.9 807.3,2657.1 807.6,2656.6 808,2656.5 808.4,2656.9 808.7,2656 809.1,2656.4 809.5,2656.3 809.8,2656.7 810.2,2657.3 810.6,2658 810.9,2659.2 811.3,2661.2 811.7,2661.1 812,2663 812.4,2664 812.8,2663.5 813.1,2665.7 813.5,2665.3 813.9,2667.5 814.2,2666.9 814.6,2668.1 815,2668.5 815.3,2670.1 815.7,2672.2 816.1,2673.1 816.4,2672.8 816.8,2675.1 817.2,2675.7 817.5,2676.6 817.9,2677.4 818.2,2678.1 818.6,2677.6 819,2678.8 819.3,2679.9 819.7,2681.9 820.1,2683.5 820.4,2683.4 820.8,2683.3 821.2,2683.6 821.5,2683.9 821.9,2684.8 822.3,2684.3 822.6,2685 823,2685.9 823.4,2685.8 823.7,2687.1 824.1,2687.9 824.5,2688.5 824.8,2689.6 825.2,2689.4 825.6,2689.4 825.9,2689.6 826.7,2690.3 827.5,2692 828.3,2693.8 829.1,2694 829.9,2694.1 830.7,2695.6 831.5,2694.9 832.3,2695.7 833.1,2696 833.9,2695.5 834.7,2696.6 835.5,2696.2 836.3,2697.3 837.1,2698 837.9,2699.1 838.7,2699.2 839.5,2699.3 840.3,2698.8 841.1,2699.2 841.9,2698.7 842.7,2699.9 843.5,2699.1 844.3,2700.2 845.1,2700.8 845.9,2701.4 846.7,2700.9 847.5,2700.1 848.3,2699.6 849.1,2699.4 849.9,2700.1 850.7,2700.6 851.5,2701 852.3,2700.7 853.1,2701.8 853.9,2701.7 854.7,2702.4 855.5,2701.4 856.3,2701.8 857.1,2701.6 857.9,2701.4 858.7,2700.7 859.5,2700.8 860.3,2700.9 861.1,2700.7 861.9,2701 862.7,2702.3 863.5,2702.9 864.3,2701.9 865.1,2701.9 865.9,2702.7 866.7,2701.8 867.5,2702 868.3,2701.7 869.1,2703.2 869.9,2703.1 870.7,2703.3 871.5,2702.7 872.3,2703.1 873.1,2703 873.9,2703 874.7,2701.8 875.5,2702.7 876.3,2704 877.1,2702.8 879.1,2702.7 881,2702.9 882.9,2701.8 884.9,2702.6 886.8,2703.8 888.8,2703.3 890.7,2702.9 892.7,2702.4 894.6,2704.4 896.5,2704.5 898.5,2704.1 900.4,2704 902.4,2703.2 904.3,2703.5 906.2,2703.7 908.2,2703.6 910.1,2702.7 912.1,2702.2 914,2703 916,2702.9 917.9,2702.1 919.8,2702.8 921.8,2704.4 923.7,2703.5 925.7,2702.4 927.6,2702.6 929.6,2703.7 931.5,2703.1 933.4,2703.2 935.4,2703.8 937.3,2703.6 939.3,2701.7 940.1,2702.8 940.9,2703.4 941.7,2702.7 942.5,2702.8 943.3,2702.3 944.1,2702.4 944.9,2702.6 945.7,2703 946.5,2703 947.3,2703 948.1,2703.3 948.9,2702 949.7,2703.7 950.5,2702.4 951.3,2701.7 952.1,2702.7 952.9,2703.3 953.7,2703.6 954.5,2701.4 955.3,2701 956.1,2702.6 956.9,2701.7 957.7,2702.1 958.5,2701.1 959.3,2702.1 960.1,2702 960.9,2702 961.7,2702.4 962.5,2701.4 963.3,2700.5 964.1,2701 964.9,2700.3 965.7,2701.1 966.5,2700.6 967.3,2701.6 968.1,2701.8 968.9,2701.6 969.7,2700.8 970.5,2701.1 971.3,2701.1 972.1,2701.2 972.9,2701.3 973.7,2701.5 974.5,2700.2 975.3,2702.2 976.1,2701.3 976.9,2699.8 977.7,2700.5 978.5,2700.5 979.3,2699 980.1,2699.3 980.9,2698.1 981.7,2697.9 982.5,2699.4 983.3,2698.6 984.1,2696.9 984.9,2697.6 985.7,2697.3 986.5,2697.7 987.3,2696.6 988.1,2695.7 988.9,2694.8 989.7,2694.7 990.5,2694.4 991.3,2693.6 991.6,2694.6 992,2692.6 992.4,2693.1 992.7,2692.8 993.1,2692 993.5,2690.3 993.8,2690.3 994.2,2690 994.5,2688.8 994.9,2689.3 995.3,2689.3 995.6,2688.6 996,2688.6 996.4,2688.6 996.7,2687.5 997.1,2687.4 997.5,2687.4 997.8,2685.9 998.2,2686 998.6,2686.4 998.9,2686.7 999.3,2685.5 999.7,2683.6 1000,2682.9 1000.4,2681.5 1000.8,2682.8 1001.1,2681.4 1001.5,2680.7 1001.9,2679.3 1002.2,2678.1 1002.6,2677.3 1003,2678.3 1003.3,2676.8 1003.7,2675.9 1004.1,2676 1004.4,2674.9 1004.8,2674.1 1005.2,2674.4 1005.5,2674 1005.9,2673.1 1006.2,2672.2 1006.6,2670.5 1007,2670.6 1007.3,2670.3 1007.7,2671.4 1008.1,2672.3 1008.4,2671.6 1008.8,2670.1 1009.2,2669.9 1009.5,2670.4 1009.9,2670.3 1010.3,2670.5 1010.6,2670.1 1011,2670.4 1011.4,2669.8 1011.7,2671 1012.1,2670.6 1012.5,2671.3 1012.8,2670.4 1013.2,2672.2 1013.6,2671.8 1013.9,2672.9 1014.3,2673.4 1014.7,2674 1015,2673.3 1015.4,2674.9 1015.8,2674.9 1016.1,2675.8 1016.5,2677.1 1016.9,2676.7 1017.2,2678.2 1017.6,2679.2 1017.9,2680.2 1018.3,2681.1 1018.7,2680.9 1019,2681.9 1019.4,2683.1 1019.8,2683.5 1020.1,2682.9 1020.5,2682.9 1020.9,2685 1021.2,2686.4 1021.6,2686.6 1022,2686.5 1022.3,2687.3 1022.7,2687.7 1023.1,2687.8 1023.4,2687.7 1023.8,2688.8 1024.2,2690.2 1024.5,2691.6 1024.9,2691.3 1025.3,2691.7 1025.6,2690.8 1026,2691 1026.4,2691 1026.7,2691.8 1027.1,2692.2 1027.5,2691.9 1027.8,2691.5 1028.2,2692 1028.6,2693.7 1028.9,2694.6 1029.3,2695.4 1030.1,2695.6 1030.9,2695 1031.7,2695.2 1032.5,2696.4 1033.3,2696.6 1034.1,2697.5 1034.9,2697.9 1035.7,2698.4 1036.5,2698.6 1037.3,2698.7 1038.1,2698.4 1038.9,2698.6 1039.7,2699.3 1040.5,2699.2 1041.3,2699.6 1042.1,2698.3 1042.9,2698.4 1043.7,2698.4 1044.5,2699.6 1045.3,2699.8 1046.1,2700.2 1046.9,2699.9 1047.7,2700.6 1048.5,2700.8 1049.3,2701.5 1050.1,2701.4 1050.9,2701.8 1051.7,2701 1052.5,2702.6 1053.3,2702.8 1054.1,2700.5 1054.4,2701.3 1054.8,2702.2 1055.2,2701.2 1055.5,2701.5 1055.9,2701 1056.3,2702.3 1056.6,2702.3 1057,2702.3 1057.4,2701 1057.7,2701.7 1058.1,2702.8 1058.5,2701.4 1058.8,2702.4 1059.2,2702.4 1059.6,2703.3 1059.9,2702.8 1060.3,2702.3 1060.7,2702.2 1061,2701.1 1061.4,2700.9 1061.8,2701.6 1062.1,2701.4 1062.5,2701.9 1062.9,2701.6 1063.2,2701.6 1063.6,2701.6 1063.9,2702.7 1064.3,2702.4 1064.7,2703.6 1065,2703.1 1065.4,2702.7 1065.8,2703.2 1066.1,2703.7 1066.5,2702.7 1066.9,2701.9 1067.2,2702.2 1067.6,2702.9 1068,2702.7 1068.3,2701.7 1068.7,2702.9 1069.1,2702.5 1069.4,2702.6 1069.8,2703.2 1070.2,2703.2 1070.5,2703.9 1070.9,2702 1071.3,2702.5 1071.6,2702.8 1072,2702.8 1072.4,2703.6 1072.7,2702.6 1073.1,2702.7 1073.5,2701.8 1073.8,2702.4 1074.2,2702.7 1074.6,2703.1 1074.9,2702.8 1075.3,2702.5 1075.6,2702.2 1076,2702.6 1076.4,2702.7 1076.7,2701.7 1077.1,2703.5 1077.5,2703.4 1077.8,2702.5 1078.2,2703.3 1078.6,2701.7 1078.9,2702.9 1079.3,2703 1079.7,2703.2 1080,2703.6 1080.4,2701.6 1080.8,2702.9 1081.1,2702.3 1081.5,2702.6 1081.9,2703.3 1082.2,2702.8 1082.6,2703.8 1083,2703 1083.3,2703.3 1083.7,2703.2 1084.1,2703.7 1084.4,2702.9 1084.8,2702.2 1085.2,2702.6 1085.5,2703 1085.9,2703.9 1086.3,2703 1086.6,2703.4 1087,2703.3 1087.3,2702.2 1087.7,2702.6 1088.1,2703.1 1088.4,2704 1088.8,2704.7 1089.2,2704.8 1089.5,2703.7 1089.9,2703.3 1090.3,2703.9 1090.6,2703.2 1091,2702.5 1091.4,2702.3 1091.7,2703.6 1092.1,2703.8 1092.5,2704.1 1093.3,2703.4 1094.1,2703.2 1094.9,2703.1 1095.7,2703.1 1096.5,2704.3 1097.3,2704.4 1098.1,2703.1 1098.9,2702.4 1099.7,2702.4 1100.5,2702.5 1101.3,2702.9 1102.1,2703.3 1102.9,2704.5 1103.7,2703.9 1104.5,2703.4 1105.3,2704 1106.1,2704.1 1106.9,2704.2 1107.7,2704.3 1108.5,2704.8 1109.3,2704.1 1110.1,2703.6 1110.9,2702.8 1111.7,2704 1112.5,2703.7 1113.3,2704.7 1114.1,2703.4 1114.9,2704.4 1115.7,2703.4 1116.5,2703.1 1117.3,2703.4 1118.1,2704 1118.9,2704.9 1119.7,2705 1120.5,2704.8 1121.3,2704.5 1122.1,2704.8 1122.9,2703.6 1123.7,2704.3 1124.5,2703.8 1125.3,2703.1 1126.1,2704.1 1126.9,2704.6 1127.7,2704.7 1128.5,2704.4 1129.3,2704.1 1130.1,2704 1130.9,2704 1131.7,2703.2 1132.5,2703.2 1133.3,2704.3 1134.1,2704.7 1134.9,2705.7 1135.7,2705.5 1136.5,2705.1 1137.3,2704.8 1138.1,2704.1 1138.9,2705.9 1139.7,2705.7 1140.5,2703.2 1141.3,2704.5 1142.1,2704.4 1142.9,2705.3 1143.7,2703.9 1144.5,2703.7 1145.3,2704 1146.1,2703 1148,2703.7 1149.9,2703.9 1151.9,2703.7 1153.8,2703.8 1155.8,2704 1157.7,2704 1159.6,2704.1 1161.6,2704.6 1163.5,2703.6 1165.5,2703.8 1167.4,2704.3 1169.4,2704 1171.3,2704.7 1173.2,2704.2 1175.2,2704.9 1177.1,2704.6 1179.1,2705 1181,2704.7 1183,2705.9 1184.9,2704.3 1186.8,2704.1 1188.8,2704.3 1190.7,2704.2 1192.7,2704.1 1194.6,2704.3 1196.6,2704.1 1198.5,2704.1 1200.4,2704.4 1202.4,2705.4 1204.3,2705 1206.3,2705.2 1208.2,2704.3 1210.2,2703 1212.1,2704.4 1214,2704.8 1216,2706.2 1217.9,2705.7 1219.9,2704.5 1221.8,2704.3 1223.7,2705.2 1225.7,2705.1 1227.6,2705.5 1229.6,2704.8 1231.5,2705.3 1233.5,2704.8 1234.3,2704.8 1235.1,2703.6 1235.9,2703.3 1236.7,2704.4 1237.5,2702.7 1238.3,2703.2 1239.1,2704 1239.9,2704.6 1240.7,2704.8 1241.5,2705.2 1242.3,2705.1 1243.1,2705 1243.9,2704.9 1244.7,2705 1245.5,2703.5 1246.3,2704.1 1247.1,2704.5 1247.9,2704 1248.7,2705 1249.5,2704.5 1250.3,2705.8 1251.1,2704 1251.9,2705.5 1252.7,2704.1 1253.5,2703.8 1254.3,2704.7 1255.1,2704.2 1255.9,2705.3 1256.7,2705.8 1257.5,2704 1258.3,2705.3 1259.1,2704.8 1259.9,2703.4 1260.7,2704 1261.5,2704.3 1262.3,2704.8 1263.1,2703.7 1263.9,2704 1264.7,2704 1265.5,2703.8 1266.3,2704.1 1267.1,2703.8 1267.9,2704.2 1268.7,2702.9 1269.5,2703 1270.3,2704 1271,2704.4 1271.8,2703.8 1272.6,2703.4 1273.4,2703.6 1274.2,2703 1275,2703.9 1275.8,2704.4 1276.6,2703.8 1277.4,2703.1 1278.2,2704 1279,2703.9 1279.8,2703.3 1280.6,2704.1 1281.4,2704 1282.2,2703.8 1283,2704.1 1283.8,2703.1 1284.6,2703.3 1285.4,2703.2 1286.2,2704.5 1287,2704.2 1287.8,2703.3 1288.6,2703.3 1289,2704.7 1289.4,2703.9 1289.7,2704.3 1290.1,2703 1290.5,2702.7 1290.8,2702.6 1291.2,2702.3 1291.6,2702.8 1291.9,2702.6 1292.3,2702.9 1292.7,2702.8 1293,2703.3 1293.4,2701.9 1293.8,2703.2 1294.1,2703.8 1294.5,2704 1294.9,2703.7 1295.2,2704 1295.6,2703.6 1296,2703.6 1296.3,2702.7 1296.7,2702.8 1297.1,2704 1297.4,2703.7 1297.8,2703.3 1298.2,2704.2 1298.5,2703.7 1298.9,2702.8 1299.2,2702 1299.6,2701.7 1300,2702.2 1300.3,2702.5 1300.7,2703.3 1301.1,2701.5 1301.4,2701 1301.8,2700.8 1302.2,2702.4 1302.5,2701.3 1302.9,2701.6 1303.3,2701.5 1303.6,2702.1 1304,2701.2 1304.4,2700.4 1304.7,2700.1 1305.1,2701.2 1305.5,2702.4 1305.8,2702.1 1306.2,2702.5 1306.6,2702.5 1306.9,2702.7 1307.3,2702.1 1307.7,2702.8 1308,2702.3 1308.4,2702.7 1308.8,2702.2 1309.1,2702.6 1309.5,2701.1 1309.9,2702.1 1310.2,2701.2 1310.6,2702.1 1310.9,2703.1 1311.3,2701.9 1311.7,2702.1 1312,2702.7 1312.4,2703 1312.8,2701.5 1313.1,2702.4 1313.5,2700.7 1313.9,2700.7 1314.2,2701 1314.6,2701.7 1315,2702.2 1315.3,2702.7 1315.7,2703.1 1316.1,2701.8 1316.4,2701.5 1316.8,2702.9 1317.2,2702.2 1317.5,2701.1 1317.9,2701.6 1318.3,2702.3 1318.6,2702 1319,2702.2 1319.4,2703 1319.7,2703.3 1320.1,2702.5 1320.5,2703.4 1320.8,2703.3 1321.2,2703.1 1321.6,2702.4 1321.9,2703 1322.3,2704 1322.6,2703.5 1323,2703.2 1323.4,2703.3 1323.7,2701.6 1324.1,2702.4 1324.5,2703.3 1324.8,2702.3 1325.2,2702 1325.6,2703.4 1325.9,2702.5 1326.3,2702.5 1326.7,2702.4 1327,2702 1327.4,2702.7 1327.8,2703 1328.1,2704.4 1328.5,2703.5 1328.9,2703.5 1329.2,2703.3 1329.6,2702.6 1330.4,2702.5 1331.2,2703.6 1332,2704.1 1332.8,2703.1 1333.6,2701.9 1334.4,2702.3 1335.2,2703.7 1336,2704.4 1336.8,2703.5 1337.6,2703.7 1338.4,2703.3 1339.2,2704.5 1340,2704.5 1340.8,2704 1341.6,2704.4 1342.4,2703.9 1343.2,2703.6 1344,2702.9 1344.8,2702.8 1345.6,2703.5 1346.4,2703.6 1347.2,2702.9 1348,2703.6 1348.8,2703.7 1349.6,2703 1350.4,2704 1351.2,2703.6 1352,2702.9 1352.8,2703.7 1353.6,2703.8 1354.4,2704.6 1355.2,2704 1356,2703.2 1356.8,2702.9 1357.6,2704 1358.4,2704.2 1359.2,2703.5 1360,2704.1 1360.8,2704.1 1361.6,2704 1362.4,2703.8 1363.2,2703.3 1364,2703.2 1364.8,2703.6 1365.6,2703.3 1366.4,2704.4 1367.2,2703.6 1368,2703.7 1368.8,2704.9 1369.6,2705.3 1370.4,2705.7 1371.2,2704.4 1372,2704 1372.8,2704.3 1373.6,2704.8 1374.4,2703.8 1375.2,2703.4 1376,2703.6 1376.8,2703.2 1377.6,2703.3 1378.4,2703.8 1379.2,2703.9 1380,2703.7 1380.8,2704.4 1381.6,2703.8 1382.4,2704.9 1383.2,2703.9 1384,2703.1 1384.8,2702.8 1385.6,2703.2 1386.4,2702.7 1388.3,2703.6 1390.3,2703.2 1392.2,2704.3 1394.2,2704 1396.1,2703.1 1396.9,2703.1 1397.7,2703.1 1398.5,2703.2 1399.3,2703.8 1400.1,2704.3 1400.9,2704 1401.7,2703.5 1402.5,2703.2 1403.3,2703.6 1404.1,2704.5 1404.9,2703.9 1405.7,2703.1 1406.5,2703.4 1407.3,2703.6 1408.1,2704.4 1408.9,2704.7 1409.7,2702.5 1410.5,2703.6 1411.3,2704 1412.1,2703.6 1412.9,2703.7 1413.7,2702.8 1414.5,2702.8 1415.3,2702.5 1416.1,2703.6 1416.9,2702.4 1417.7,2703.3 1418.5,2703.6 1419.3,2703.3 1420.1,2702.7 1420.9,2703 1421.7,2703.4 1422.5,2703 1423.3,2702.8 1424.1,2703.5 1424.9,2703.3 1425.7,2703 1426.5,2703.9 1427.3,2701.5 1428.1,2701.5 1428.9,2701.5 1429.7,2702.1 1430.5,2703.4 1431.3,2703.3 1432.1,2703.3 1432.9,2703.4 1433.7,2702.6 1434.5,2703.8 1435.3,2704.1 1436.1,2703 1436.9,2702.9 1437.7,2703.5 1438.5,2703.5 1439.3,2702.4 1440.1,2702.2 1440.9,2700.9 1441.7,2701.7 1442.5,2701.1 1443.3,2702.6 1444.1,2702.5 1444.9,2701.9 1445.7,2702.6 1446.5,2702 1447.3,2701.3 1448.1,2702 1448.9,2701.9 1449.7,2700.9 1450.5,2700.2 1451.3,2700.9 1452.1,2700.6 1452.9,2700.7 1453.7,2700.1 1454,2699.8 1454.4,2701.2 1454.8,2702.6 1455.1,2701.2 1455.5,2700.2 1455.9,2701.2 1456.2,2700.4 1456.6,2700.8 1457,2699.3 1457.3,2698.7 1457.7,2699 1458.1,2699 1458.4,2700 1458.8,2700.9 1459.2,2700.6 1459.5,2701.3 1459.9,2699.5 1460.3,2699.7 1460.6,2700 1461,2699.4 1461.4,2699.3 1461.7,2699.9 1462.1,2698.2 1462.5,2699.1 1462.8,2698.8 1463.2,2697.5 1463.6,2696.8 1463.9,2697.3 1464.3,2696.8 1464.6,2697 1465,2698.3 1465.4,2698.2 1465.7,2696.9 1466.1,2696.7 1466.5,2696.9 1466.8,2696.8 1467.2,2695.8 1467.6,2695.1 1467.9,2695.5 1468.3,2694.5 1468.7,2696.9 1469,2696.9 1469.4,2697.8 1469.8,2697.4 1470.1,2697.8 1470.5,2696.1 1470.9,2695.5 1471.2,2695.6 1471.6,2695.4 1472,2694.3 1472.3,2694.8 1472.7,2693.7 1473.1,2693.6 1473.4,2694.4 1473.8,2693.9 1474.2,2694.8 1474.5,2695.2 1474.9,2694 1475.3,2693.6 1475.6,2693.1 1476,2693.4 1476.3,2693.9 1476.7,2694.6 1477.1,2693.8 1477.4,2694.3 1477.8,2694.2 1478.2,2693.8 1478.5,2694.4 1478.9,2694.4 1479.3,2694.3 1479.6,2694.8 1480,2695.4 1480.4,2696.1 1480.7,2696.3 1481.1,2696 1481.5,2695.4 1481.8,2696.2 1482.2,2695.8 1482.6,2696.7 1482.9,2697.6 1483.3,2698.1 1483.7,2697.6 1484,2697.9 1484.4,2697.4 1484.8,2698.8 1485.1,2697.5 1485.5,2698.2 1485.9,2697.7 1486.2,2697.7 1486.6,2697.5 1487,2698.2 1487.3,2697.4 1487.7,2697.6 1488,2697.9 1488.4,2698.1 1488.8,2697.2 1489.1,2697.5 1489.5,2698.2 1489.9,2698.3 1490.2,2698.3 1490.6,2697.8 1491,2698.8 1491.3,2698.8 1491.7,2698.9 1492.1,2699 1492.4,2698.4 1492.8,2700.3 1493.2,2700.9 1493.5,2700.8 1493.9,2700.7 1494.3,2700.1 1494.6,2700.8 1495,2701.2 1495.4,2700.9 1495.7,2700.1 1496.1,2700.2 1496.5,2701.6 1497.3,2701.6 1498.1,2701.3 1498.9,2701 1499.7,2701.2 1500.5,2702.2 1501.3,2702.8 1502.1,2703.7 1502.9,2703 1503.7,2701.9 1504.5,2700.4 1505.3,2700.9 1506.1,2701.3 1506.9,2700.7 1507.7,2701.1 1508,2700.4 1508.4,2700.9 1508.8,2700.9 1509.1,2700.9 1509.5,2701.4 1509.8,2701 1510.2,2700.3 1510.6,2701.7 1510.9,2702 1511.3,2701.6 1511.7,2700.6 1512,2700.8 1512.4,2701.2 1512.8,2702.4 1513.1,2701.9 1513.5,2700.8 1513.9,2700.1 1514.2,2700.2 1514.6,2701.5 1515,2700.7 1515.3,2700.3 1515.7,2700.1 1516.1,2699.8 1516.4,2699.8 1516.8,2700.6 1517.2,2701.3 1517.5,2700.5 1517.9,2700.9 1518.3,2701.4 1518.6,2699.5 1519,2698.8 1519.4,2699.4 1519.7,2699.6 1520.1,2700.2 1520.5,2700.1 1520.8,2700.3 1521.2,2698.6 1521.5,2700.5 1521.9,2699.8 1522.3,2699.2 1522.6,2698.2 1523,2698.9 1523.4,2699.1 1523.7,2699.9 1524.1,2699.4 1524.5,2698.9 1524.8,2700 1525.2,2698.9 1525.6,2698.1 1525.9,2699.7 1526.3,2699.3 1526.7,2699.2 1527,2698.6 1527.4,2698.5 1527.8,2698.8 1528.1,2698.1 1528.5,2698.7 1528.9,2699.7 1529.2,2701.3 1529.6,2702.7 1530,2700.8 1530.3,2700.1 1530.7,2698.7 1531.1,2699.3 1531.4,2699.5 1531.8,2699 1532.2,2699.6 1532.5,2699.4 1532.9,2700.5 1533.2,2700.3 1533.6,2700.2 1534,2699.5 1534.3,2699.7 1534.7,2699.7 1535.1,2699.1 1535.4,2698.4 1535.8,2699.9 1536.2,2700.3 1536.5,2700.3 1536.9,2700.7 1537.3,2699.6 1537.6,2699.7 1538,2699.8 1538.4,2699.6 1538.7,2700.8 1539.1,2701 1539.5,2701.3 1539.8,2700.9 1540.2,2702 1540.6,2702.1 1540.9,2701.3 1541.3,2701.5 1541.7,2700.9 1542,2700.6 1542.4,2700.1 1542.8,2701.5 1543.1,2701 1543.5,2700.7 1543.9,2701.6 1544.2,2702.2 1544.6,2700.7 1544.9,2700.6 1545.3,2700.9 1545.7,2702.1 1546,2703 1546.4,2701.9 1546.8,2702.1 1547.1,2701.9 1547.5,2701.8 1547.9,2701.2 1548.2,2700.4 1548.6,2701.5 1549,2703 1549.3,2703 1549.7,2701.8 1550.1,2702.8 1550.4,2702.3 1550.8,2702.5 1551.6,2702.6 1552.4,2702.1 1553.2,2702 1554,2702.6 1554.8,2703.2 1555.6,2703.5 1556.4,2702.6 1557.2,2703 1558,2701.5 1558.8,2702.3 1559.6,2702.5 1560.4,2701.4 1561.2,2703.2 1562,2703.5 1562.8,2703.6 1563.6,2704.2 1564.4,2703.5 1565.2,2703.4 1566,2702.9 1566.8,2703.3 1567.6,2703.6 1568.4,2703.3 1569.2,2703 1570,2702.1 1570.8,2702.5 1571.6,2703 1572.4,2702.9 1573.2,2702.3 1574,2703.5 1574.8,2703.6 1575.6,2704.4 1576.4,2704.6 1577.2,2704.2 1578,2704 1578.8,2703.8 1579.6,2703.4 1580.4,2704.9 1581.2,2703.5 1582,2703.9 1582.8,2704.8 1583.6,2704.2 1584.4,2704.7 1585.2,2703.8 1586,2704.6 1586.8,2704.7 1587.6,2703.8 1588.4,2704.6 1589.2,2704.4 1590,2703.6 1590.8,2703.6 1591.6,2703.2 1592.4,2702.7 1593.2,2703.7 1594,2703.7 1594.8,2703.7 1595.6,2703.7 1596.4,2703.4 1597.2,2703.9 1598,2703.8 1598.8,2705.3 1599.6,2703.3 1600.4,2702 1601.2,2702.4 1602,2702.6 1602.8,2703.8 1603.6,2705 1604.4,2705.9 1605.2,2704.9 1606,2704.2 1606.8,2704.3 1607.6,2703 1608.4,2702.9 1609.2,2703.2 1610,2704.5 1610.8,2705 1612.7,2704.5 1614.7,2703.5 1616.6,2703.9 1618.6,2703.8 1620.5,2703.9 1622.4,2704.3 1624.4,2705.5 1626.3,2705.8 1628.3,2706.9 1630.2,2705.4 1632.1,2705.1 1634.1,2704.7 1636,2705.1 1638,2704.5 1639.9,2705.5 1641.9,2704.6 1643.8,2704.5 1645.7,2704.4 1647.7,2704.5 1649.6,2705.4 1651.6,2704.9 1653.5,2706.3 1655.5,2706.3 1656.3,2706 1657.1,2705.5 1657.9,2704.9 1658.7,2705.1 1659.5,2705.1 1660.3,2706.1 1661.1,2705.4 1661.9,2705.8 1662.7,2704.8 1663.5,2705.1 1664.3,2705.6 1665.1,2706.2 1665.9,2705.3 1666.7,2705.9 1667.5,2705.6 1668.3,2705.3 1669.1,2705.1 1669.9,2705.6 1670.7,2705.7 1671.5,2705.5 1672.3,2703.6 1673.1,2705.3 1673.9,2705.8 1674.7,2706.6 1675.5,2706.6 1676.3,2707.4 1677.1,2707.2 1677.9,2705.1 1678.7,2704.9 1679.5,2704.3 1680.3,2704 1681.1,2705 1681.8,2704.8 1682.6,2705.8 1683.4,2706.3 1684.2,2705.1 1685,2706.3 1685.8,2705.7 1686.6,2705.4 1687.4,2705.2 1688.2,2705.7 1689,2704.5 1689.8,2706.2 1690.6,2707.1 1691.4,2707.5 1692.2,2706.1 1693,2705.9 1693.8,2705.1 1694.6,2705.8 1695.4,2705.7 1696.2,2706.9 1697,2706.9 1697.8,2707.5 1698.6,2706.7 1699.4,2707.4 1700.2,2707.1 1701,2706.4 1701.8,2705.4 1702.6,2705.7 1703.4,2706.1 1704.2,2705.8 1705,2706.1 1705.8,2706.4 1706.6,2705.1 1707.4,2705.4 1708.2,2704.9 1709,2705.6 1709.8,2706.1 1710.6,2705.5 1711.4,2705.1 1712.2,2704.7 1713,2706.9 1713.8,2706.1 1714.6,2706.1 1715.4,2705.6 1716.2,2705.1 1717,2705.3 1717.8,2706.4 1718.6,2705.3 1719,2706.4 1719.4,2705.6 1719.7,2705.7 1720.1,2705.7 1720.5,2707.4 1720.8,2706 1721.2,2706.1 1721.6,2704.5 1721.9,2704.5 1722.3,2705.3 1722.7,2706.1 1723,2705.4 1723.4,2705.2 1723.8,2705.2 1724.1,2705.9 1724.5,2704.9 1724.9,2705.3 1725.2,2705.7 1725.6,2705.3 1726,2704.9 1726.3,2703 1726.7,2703 1727.1,2704 1727.4,2703.5 1727.8,2703.5 1728.1,2704.2 1728.5,2703.9 1728.9,2704.3 1729.2,2704.6 1729.6,2703.6 1730,2702.2 1730.3,2701.8 1730.7,2702.5 1731.1,2702.5 1731.4,2702.1 1731.8,2702.4 1732.2,2702.2 1732.5,2701.8 1732.9,2702.8 1733.3,2702.9 1733.6,2702.6 1734,2702.5 1734.4,2702.8 1734.7,2702.7 1735.1,2703.1 1735.5,2701.9 1735.8,2701.7 1736.2,2703 1736.6,2703 1736.9,2701.9 1737.3,2701.9 1737.7,2702 1738,2700.7 1738.4,2700.9 1738.8,2701.1 1739.1,2699.4 1739.5,2699.8 1739.8,2699.1 1740.2,2700.3 1740.6,2700.3 1740.9,2699.2 1741.3,2698.6 1741.7,2699.4 1742,2699.7 1742.4,2701 1742.8,2700.7 1743.1,2701.7 1743.5,2701.9 1743.9,2701.8 1744.2,2701.8 1744.6,2700.6 1745,2700.9 1745.3,2702 1745.7,2701.1 1746.1,2700.2 1746.4,2700.7 1746.8,2701.5 1747.2,2702 1747.5,2701.7 1747.9,2702.1 1748.3,2702.3 1748.6,2702.6 1749,2702.6 1749.4,2701.4 1749.7,2702.2 1750.1,2702.6 1750.4,2701.5 1750.8,2702.2 1751.2,2703.6 1751.5,2703.1 1751.9,2702.6 1752.3,2702.2 1752.6,2702 1753,2702.1 1753.4,2702.5 1753.7,2703.1 1754.1,2704.1 1754.5,2704.1 1754.8,2704 1755.2,2703.7 1755.6,2705.1 1755.9,2704.6 1756.3,2703.8 1756.7,2704.5 1757,2703.9 1757.4,2704.9 1757.8,2703.8 1758.1,2703.7 1758.5,2705 1758.9,2705.6 1759.2,2704.1 1759.6,2705.5 1760,2706.7 1760.3,2707 1760.7,2706.3 1761.1,2705.2 1761.4,2705.2 1761.8,2705.9 1762.1,2706.5 1762.5,2705.7 1762.9,2704.5 1763.2,2705.5 1763.6,2706.1 1764,2706.4 1764.3,2706.9 1764.7,2706.6 1765.1,2705.6 1765.4,2705.3 1765.8,2705 1766.6,2705 1767.4,2705.3 1768.2,2705.5 1769,2704.5 1769.8,2704.4 1770.6,2706 1771.4,2706.4 1772.2,2707.1 1773,2707.4 1773.8,2707 1774.6,2706.9 1775.4,2707.1 1776.2,2707.1 1777,2708.3 1777.8,2708.2 1778.6,2707.9 1778.9,2707.3"/>
<polyline fill="none" stroke="#ff0000" stroke-width="7.6" stroke-linejoin="round" stroke-linecap="butt" points="179.3,2732.7 181.2,2732.8 183.2,2732.2 185.1,2732.1 187.1,2732.5 189,2732.5 191,2734 192.9,2733.3 194.8,2733.2 196.8,2733.8 198.7,2733 200.7,2732.6 202.6,2733.1 204.6,2731.8 206.5,2732.3 208.4,2732.5 210.4,2732.6 212.3,2732.8 214.3,2733.3 216.2,2732.8 218.1,2732 220.1,2732.1 222,2732.2 224,2732.2 225.9,2731.8 227.9,2731.5 229.8,2733.2 231.7,2732.5 233.7,2732.5 235.6,2732.5 237.6,2732.5 239.5,2731.6 241.5,2731.9 243.4,2731.7 245.3,2732.8 247.3,2733.5 249.2,2733.2 251.2,2731.8 253.1,2733.7 255.1,2733.6 257,2733.1 258.9,2732.9 260.9,2732.5 262.8,2731.3 264.8,2730.3 266.7,2731.6 268.6,2731.8 270.6,2732.5 272.5,2732.3 274.5,2730.9 276.4,2731.3 278.4,2731.8 280.3,2732.1 282.2,2731.4 284.2,2731.5 286.1,2731.7 288.1,2731.2 290,2731.3 292,2732.8 293.9,2731.7 295.8,2731.2 297.8,2731.7 299.7,2731 301.7,2730.7 303.6,2730.8 305.6,2731 307.5,2729.9 309.4,2730.2 311.4,2729.7 313.3,2730.6 315.3,2729.4 317.2,2729.9 319.2,2730.6 321.1,2729.5 323,2731 325,2729.9 325.8,2729.4 326.6,2728.3 327.4,2728.9 328.2,2729.1 329,2729.3 329.8,2729.1 330.6,2729.6 331.4,2728.2 332.2,2727.2 333,2726.2 333.8,2726.2 334.6,2726.5 335.4,2726.8 336.2,2726.4 337,2726.4 337.8,2726.6 338.6,2726.1 339.4,2725.9 340.2,2725.8 341,2725 341.8,2725.5 342.6,2724.6 343.4,2725.3 344.2,2725.8 345,2724.9 345.8,2724.3 346.6,2723.7 347.4,2723.8 348.2,2723.1 349,2721.2 349.8,2720.8 350.6,2721 351.4,2720.7 352.2,2720.2 353,2718.7 353.8,2718.9 354.6,2718.3 355.4,2717.5 356.2,2716.1 357,2715.3 357.8,2713.3 358.6,2711.5 359.4,2709.7 360.2,2707.3 361,2706.8 361.8,2706.3 362.1,2705 362.5,2704.2 362.9,2704 363.2,2702.1 363.6,2701.1 364,2701.2 364.3,2697.8 364.7,2696.8 365.1,2695.4 365.4,2693.3 365.8,2692.3 366.2,2690 366.5,2687.5 366.9,2686.1 367.3,2685.1 367.6,2684.7 368,2680.7 368.3,2679.4 368.7,2677.5 369.1,2674.8 369.4,2674.2 369.8,2672 370.2,2669.5 370.5,2667.7 370.9,2664.4 371.3,2661.5 371.6,2659.6 372,2658.8 372.4,2656.1 372.7,2655.5 373.1,2653.2 373.5,2653.1 373.8,2651.1 374.2,2650.7 374.6,2649 374.9,2649.1 375.3,2648.8 375.7,2648.5 376,2647.2 376.4,2647.7 376.8,2649.2 377.1,2649.3 377.5,2650.4 377.9,2653.1 378.2,2655.2 378.6,2655.6 379,2656.2 379.3,2659.2 379.7,2661.3 380,2664.3 380.4,2665.6 380.8,2667.7 381.1,2669.7 381.5,2671.2 381.9,2672.9 382.2,2675.9 382.6,2677.9 383,2679.5 383.3,2680.7 383.7,2681.5 384.1,2683.8 384.4,2686.1 384.8,2687.9 385.2,2689.6 385.5,2691.4 385.9,2692.5 386.3,2694.5 386.6,2695.4 387,2696.8 387.4,2697.7 387.7,2697.3 388.1,2698 388.5,2699.6 388.8,2701.2 389.2,2701.7 390,2703.3 390.8,2705.8 391.6,2706.5 392.4,2708.2 393.2,2709 394,2710.2 394.8,2710.8 395.6,2711.2 396.4,2710.7 397.2,2711.3 398,2712.4 398.8,2712.7 399.6,2711.9 400.4,2712.6 401.2,2713.2 402,2714.1 402.8,2714 403.6,2713.1 404.4,2713.8 405.2,2713.3 406,2713.3 406.8,2713.6 407.6,2714.7 408.4,2716.2 409.2,2716.2 410,2715.3 410.8,2715.8 411.6,2716.2 412.4,2715.7 413.2,2716.7 414,2716.7 414.8,2715.3 415.6,2715.8 416.4,2716.2 417.2,2716.8 418,2715.8 418.8,2716.2 419.6,2716 420.4,2716.2 421.2,2716.6 422,2716.9 422.8,2717.6 423.6,2716.2 424.4,2716.1 425.2,2715.9 426,2715.2 426.8,2715.1 427.6,2715.9 428.4,2715.9 429.2,2716.4 430,2716.4 430.8,2716.5 431.6,2716.4 432.4,2715.8 433.2,2716.6 434,2718.6 434.8,2717.5 435.6,2716.8 436.4,2717.4 437.2,2718.9 438,2718.5 438.8,2718.7 439.6,2717.6 440.4,2718.2 441.2,2717.3 442,2718.3 442.8,2718.8 443.6,2717.8 444.4,2717.4 445.2,2718.3 446,2718.5 446.8,2719.6 447.6,2719.4 448.4,2718.5 449.2,2716.2 450,2716.7 450.8,2716.9 451.6,2717.6 452.4,2717.9 453.2,2718.8 454,2718.3 454.8,2717.3 455.6,2718.1 456.4,2717.4 457.2,2719.4 458,2719.5 458.8,2718.6 459.6,2717.9 460.4,2717.5 461.2,2718.7 462,2718.4 462.8,2718.5 463.6,2718.2 464.4,2717.5 465.2,2717.1 465.5,2717.4 465.9,2716.4 466.3,2716.3 466.6,2716.4 467,2716 467.4,2715 467.7,2714.2 468.1,2714.3 468.5,2713.9 468.8,2713.9 469.2,2712.8 469.6,2712.7 469.9,2712.1 470.3,2712.8 470.7,2711.6 471,2712.8 471.4,2711 471.8,2710.4 472.1,2709.7 472.5,2710 472.8,2709.4 473.2,2709 473.6,2709 473.9,2708.9 474.3,2708.6 474.7,2707.5 475,2707.6 475.4,2705.1 475.8,2705.7 476.1,2704.6 476.5,2702.8 476.9,2703.3 477.2,2703.1 477.6,2702.7 478,2704.5 478.3,2703.3 478.7,2704.4 479.1,2704.2 479.4,2704.8 479.8,2705 480.2,2705.3 480.5,2706.2 480.9,2706.2 481.3,2705.4 481.6,2705.5 482,2705.2 482.4,2706.7 482.7,2707.6 483.1,2706.7 483.5,2708.7 483.8,2708.9 484.2,2710.5 484.5,2710.5 484.9,2711.7 485.3,2712.4 485.6,2713.6 486,2714.5 486.4,2715.5 486.7,2714.6 487.1,2715.7 487.5,2716.1 487.8,2717.3 488.2,2718.1 488.6,2717.8 488.9,2717.9 489.3,2718.6 489.7,2719.9 490,2719.7 490.4,2718.4 490.8,2720.3 491.1,2719.9 491.5,2720.8 491.9,2719.7 492.2,2720.4 492.6,2720.6 493.4,2721.6 494.2,2723.9 495,2723.5 495.8,2724.2 496.6,2724.7 497.4,2725.1 498.2,2724.1 499,2724.5 499.8,2725.2 500.6,2725.2 501.4,2726.3 502.2,2726.6 503,2725.8 503.8,2728.2 504.6,2727.6 505.4,2727.2 506.2,2726.9 507,2728.7 507.8,2728.4 508.6,2728.1 509.4,2727.2 510.2,2727.3 511,2728 511.8,2728.2 512.6,2728.1 513.4,2727.3 514.2,2728.1 515,2728.9 515.8,2728.2 516.6,2728.5 517.4,2728 518.2,2728.7 519,2729.6 519.8,2729.4 520.6,2728 521.4,2728.4 522.2,2729.6 523,2729.5 523.8,2729.2 524.6,2729.8 525.4,2729 526.2,2728.8 527,2729.2 527.8,2728.8 528.6,2729.5 528.9,2728.5 529.3,2728.3 529.7,2729.1 530,2727.6 530.4,2727.3 530.8,2726.3 531.1,2726.8 531.5,2725.4 531.9,2724.4 532.2,2724.6 532.6,2723.7 533,2723.7 533.3,2722.9 533.7,2724.5 534.1,2724.2 534.4,2725.1 534.8,2723.8 535.2,2724.5 535.5,2724.5 535.9,2725.4 536.3,2726.7 536.6,2725.8 537,2726.2 537.4,2726.6 537.7,2727.3 538.1,2727.1 538.5,2728.3 538.8,2728.4 539.2,2728.6 540,2730 540.8,2730.5 541.6,2730 542.4,2730.2 543.2,2731.1 544,2730.7 544.8,2730.2 545.6,2729.8 546.4,2730.1 547.2,2730.2 548,2729.1 548.8,2729.9 549.6,2730.4 550.4,2730.1 551.2,2730.6 552,2731.1 552.8,2730 553.6,2730.1 554.4,2730.3 556.3,2729.2 558.3,2729.7 560.2,2730 562.2,2729.2 564.1,2730 566,2729.7 568,2730 569.9,2729.1 571.9,2729.2 573.8,2729.9 575.7,2730.5 577.7,2729.2 579.6,2729.8 581.6,2729.2 583.5,2730.7 585.5,2731.3 587.4,2730.4 588.2,2731.1 589,2730.8 589.8,2730.2 590.6,2730.1 591.4,2729.8 592.2,2730.8 593,2731.3 593.8,2729.7 594.6,2729.1 595.4,2729.1 596.2,2730 597,2731.2 597.8,2731.1 598.6,2730.8 599.4,2729.7 600.2,2729.6 601,2729.7 601.8,2730.2 602.2,2729 602.5,2728.6 602.9,2729.5 603.3,2729 603.6,2728.7 604,2728.2 604.4,2726.8 604.7,2727.7 605.1,2727.5 605.5,2726.7 605.8,2726.7 606.2,2725.9 606.6,2725.6 606.9,2725 607.3,2725.5 607.7,2726.7 608,2727.2 608.4,2726.7 608.7,2726.3 609.1,2726.2 609.5,2727.2 609.8,2728.5 610.2,2728.5 610.6,2728.1 610.9,2728.1 611.3,2729.1 611.7,2729.3 612,2729.4 612.4,2728.7 612.8,2728.5 613.6,2729.5 614.4,2730.1 615.2,2728.4 616,2730.7 616.8,2729.3 617.6,2730.1 618.4,2728.5 619.2,2729.2 620,2729.6 620.8,2731.2 621.6,2731.1 622.4,2731.8 623.2,2731.8 624,2731.9 624.8,2731.5 625.6,2730.1 626.4,2729.3 627.2,2729.8 628,2732 629.9,2730.3 631.8,2730.6 633.8,2730.6 635.7,2730 637.7,2730.6 639.6,2730.6 641.6,2730 643.5,2731.2 645.4,2731.1 647.4,2730.3 649.3,2729.7 651.3,2730.1 653.2,2730.8 655.2,2730.5 657.1,2729.2 659,2728.7 661,2728.9 662.9,2729 664.9,2731.1 666.8,2730.3 668.8,2731.4 670.7,2731 672.6,2730.7 674.6,2730 676.5,2729.4 678.5,2729.5 680.4,2728.8 682.4,2729.7 684.3,2731 686.2,2730.4 688.2,2729.7 690.1,2729.5 692.1,2729.3 694,2730.9 695.9,2729.9 697.9,2729.3 699.8,2731.8 701.8,2731.7 703.7,2730.8 705.7,2730.4 707.6,2730.8 709.5,2731.4 711.5,2730.6 713.4,2730 715.4,2730.9 717.3,2731.3 719.3,2730.3 721.2,2730.2 723.1,2729.5 725.1,2729.3 727,2729.2 729,2729 730.9,2729.1 732.9,2728.4 734.8,2729.5 736.7,2729.9 738.7,2729.9 740.6,2730.2 742.6,2731.7 744.5,2730.6 746.4,2729 748.4,2730.3 750.3,2729.9 752.3,2729.7 754.2,2729.8 755,2730.1 755.8,2729.5 756.6,2729.7 757.4,2729.4 758.2,2729.2 759,2728.8 759.8,2728.1 760.6,2727.2 761.4,2726.6 762.2,2727.3 763,2726.5 763.8,2726 764.6,2727.4 765.4,2727.4 766.2,2728.3 767,2728 767.8,2726.2 768.6,2726.4 769.4,2727.4 770.2,2727.4 771,2728 771.8,2727.9 772.6,2727 773.4,2726.5 774.2,2726.5 775,2727 775.8,2726.4 776.6,2727.8 777.4,2727.2 778.2,2726.4 779,2726.2 779.8,2725.8 780.6,2725.9 781.4,2725.6 782.2,2725.4 783,2725.4 783.8,2724.4 784.6,2723 785.4,2723.6 786.2,2723.4 787,2722.1 787.8,2723 788.6,2721.7 789.4,2720.8 790.2,2720.8 791,2719.8 791.8,2719.2 792.6,2717.7 793.4,2715.4 793.8,2714.8 794.1,2714.9 794.5,2714.9 794.9,2714.6 795.2,2714.7 795.6,2713.9 796,2712.7 796.3,2711.8 796.7,2711.2 797.1,2710.7 797.4,2710.2 797.8,2707.8 798.2,2708.1 798.5,2706.9 798.9,2706.1 799.3,2705.3 799.6,2704.5 800,2703.2 800.4,2702.7 800.7,2702 801.1,2700.9 801.5,2699.5 801.8,2697.3 802.2,2696.9 802.5,2695.5 802.9,2695 803.3,2694.6 803.6,2693.3 804,2692.8 804.4,2691.2 804.7,2690 805.1,2688.5 805.5,2688.1 805.8,2686.4 806.2,2686 806.6,2686.5 806.9,2687.7 807.3,2687 807.7,2687.4 808,2685.9 808.4,2687.2 808.8,2688.1 809.1,2687.5 809.5,2689 809.9,2689.8 810.2,2690.2 810.6,2691.1 811,2691.9 811.3,2693.8 811.7,2693.6 812.1,2694.3 812.4,2695.3 812.8,2695.8 813.2,2697.3 813.5,2699 813.9,2698.4 814.2,2699.6 814.6,2700.5 815,2703.1 815.3,2702.6 815.7,2704.5 816.1,2705.4 816.4,2705.5 816.8,2706.5 817.2,2708.1 817.5,2709.2 817.9,2711 818.3,2711.9 818.6,2712.7 819,2712.7 819.4,2712.5 819.7,2712.8 820.1,2712.8 820.5,2714.5 820.8,2715.8 821.2,2716.1 821.6,2716.7 821.9,2716.9 822.3,2717 823.1,2719.5 823.9,2720.1 824.7,2719.6 825.5,2720 826.3,2721.4 827.1,2722.5 827.9,2721.7 828.7,2722.4 829.5,2723.7 830.3,2724.2 831.1,2724.9 831.9,2724.9 832.7,2724.7 833.5,2724.8 834.3,2725.4 835.1,2725.7 835.9,2725.5 836.7,2725.5 837.5,2726 838.3,2726.6 839.1,2725.4 839.9,2727.5 840.7,2727.5 841.5,2726 842.3,2727.6 843.1,2726.7 843.9,2727.2 844.7,2727.7 845.5,2727.7 846.3,2727.4 847.1,2727.6 847.9,2728 848.7,2727.6 849.5,2728.2 850.3,2728.9 851.1,2728.3 851.9,2727.9 852.7,2728.3 853.5,2729.3 854.3,2728.7 855.1,2729.2 855.9,2728.8 856.7,2728.8 857.5,2728.8 858.3,2728 859.1,2727.7 859.9,2727.3 860.7,2728.3 861.5,2729.9 862.3,2728.8 864.2,2729.4 866.2,2728.9 868.1,2727.9 870.1,2729.6 872,2729.5 873.9,2729.5 875.9,2730.4 877.8,2730 879.8,2731.1 881.7,2729.9 883.6,2729.1 885.6,2729.7 887.5,2729.8 889.5,2730.2 891.4,2730 893.4,2730.1 895.3,2731.3 897.2,2729.8 899.2,2730.2 901.1,2730.1 903.1,2729.6 905,2730.1 907,2729.3 908.9,2729.2 910.8,2730 912.8,2729.2 914.7,2729.4 916.7,2730.8 918.6,2730.2 920.6,2729.8 922.5,2730.1 924.4,2730.2 926.4,2729.4 928.3,2728.2 930.3,2729.7 932.2,2730 934.2,2729.2 936.1,2729.7 938,2729.5 940,2729.3 941.9,2729.2 943.9,2730 945.8,2728.5 947.7,2728.6 949.7,2729 951.6,2728.7 953.6,2729.5 954.4,2728.7 955.2,2728.4 956,2728.5 956.8,2729.3 957.6,2729.5 958.4,2728.5 959.2,2728.4 960,2728.4 960.8,2729.1 961.6,2727.9 962.4,2727.4 963.2,2728.2 964,2728 964.8,2728.8 965.6,2728.7 966.4,2728.3 967.2,2728.2 968,2727.4 968.8,2728.3 969.6,2728.4 970.4,2728.1 971.2,2728.5 972,2728.1 972.8,2727.8 973.6,2726.2 974.4,2727.4 975.2,2726.7 976,2726.8 976.8,2727.4 977.6,2728 978.4,2727.9 979.2,2727.3 980,2726.4 980.8,2726.5 981.6,2724.8 982.4,2724.3 983.2,2726.1 984,2724.6 984.8,2724.7 985.6,2723.8 986.4,2723.2 987.2,2724.9 988,2724.7 988.8,2723.8 989.6,2723.7 990.4,2723.5 991.2,2723.7 992,2722.6 992.8,2722.6 993.6,2722.1 994.4,2722.2 995.2,2722.8 995.5,2722.7 995.9,2721.4 996.3,2720.3 996.6,2719.3 997,2718 997.4,2717.9 997.7,2717.6 998.1,2716.5 998.5,2716.6 998.8,2715 999.2,2712 999.6,2712.8 999.9,2712.8 1000.3,2712.1 1000.6,2712.2 1001,2711.4 1001.4,2710.5 1001.7,2710.5 1002.1,2708.9 1002.5,2707.6 1002.8,2708.3 1003.2,2708.4 1003.6,2706.2 1003.9,2705.5 1004.3,2704.4 1004.7,2703.2 1005,2702.2 1005.4,2702 1005.8,2702.2 1006.1,2701.6 1006.5,2700.3 1006.9,2699.5 1007.2,2700 1007.6,2698.4 1008,2697.8 1008.3,2697.4 1008.7,2696.2 1009.1,2696.9 1009.4,2697.4 1009.8,2696.3 1010.2,2695.3 1010.5,2696 1010.9,2696.6 1011.3,2697.5 1011.6,2698.2 1012,2698.4 1012.3,2698.8 1012.7,2700.1 1013.1,2700.3 1013.4,2700.2 1013.8,2700.7 1014.2,2701.5 1014.5,2701.5 1014.9,2702.8 1015.3,2703.3 1015.6,2704.3 1016,2707.1 1016.4,2706.5 1016.7,2707.5 1017.1,2709.3 1017.5,2710.1 1017.8,2710.2 1018.2,2709.8 1018.6,2711 1018.9,2712.1 1019.3,2712.2 1019.7,2713.6 1020,2713.8 1020.4,2715 1020.8,2714.4 1021.1,2713.8 1021.5,2715.7 1021.9,2716.2 1022.2,2717 1022.6,2717.6 1023,2718.3 1023.3,2718.9 1023.7,2718.5 1024,2718.9 1024.4,2720 1024.8,2719.8 1025.1,2719.7 1025.9,2721.7 1026.7,2721.8 1027.5,2721.9 1028.3,2722.7 1029.1,2723.3 1029.9,2723.5 1030.7,2724.8 1031.5,2724.5 1032.3,2724.1 1033.1,2724.6 1033.9,2725.4 1034.7,2725.6 1035.5,2724.7 1036.3,2725.7 1037.1,2726.5 1037.9,2726.5 1038.7,2728 1039.5,2728.5 1040.3,2727.4 1041.1,2726.6 1041.9,2726.5 1042.7,2726.3 1043.5,2727.5 1044.3,2727.2 1045.1,2727 1045.9,2728.1 1046.7,2728.1 1047.5,2727.3 1048.3,2728.1 1049.1,2727.4 1049.9,2728.4 1050.7,2727.6 1051.5,2728 1052.3,2729.2 1053.1,2729 1053.9,2727.6 1054.7,2727.2 1055.5,2727 1056.3,2726.3 1057.1,2726.8 1057.9,2727.8 1058.3,2727 1058.7,2726.6 1059,2726.9 1059.4,2728.1 1059.8,2727.3 1060.1,2726.8 1060.5,2727.7 1060.9,2728.4 1061.2,2727.6 1061.6,2728.4 1062,2728.1 1062.3,2728.9 1062.7,2728.6 1063.1,2728.7 1063.4,2728.5 1063.8,2728 1064.2,2727.8 1064.5,2727.1 1064.9,2727.7 1065.2,2727.1 1065.6,2727.4 1066,2728.3 1066.3,2727.5 1066.7,2727.5 1067.1,2727.7 1067.4,2726.9 1067.8,2727.5 1068.2,2728.8 1068.5,2728.2 1068.9,2728.3 1069.3,2726.8 1069.6,2728.1 1070,2727.9 1070.4,2727.4 1070.7,2727.8 1071.1,2728.5 1071.5,2728.6 1071.8,2728.1 1072.2,2727.6 1072.6,2727.7 1072.9,2728.6 1073.3,2727.7 1073.7,2727 1074,2727.8 1074.4,2727.2 1074.8,2728.7 1075.1,2729.2 1075.5,2728.6 1075.9,2727.8 1076.2,2728.2 1076.6,2727.1 1076.9,2727.4 1077.3,2728.5 1077.7,2727.8 1078,2728.5 1078.4,2727.2 1078.8,2728.6 1079.1,2728.6 1079.5,2727.6 1079.9,2728 1080.2,2728.3 1080.6,2728.3 1081,2727.8 1081.3,2727 1081.7,2727.2 1082.1,2728.2 1082.4,2729.6 1082.8,2728.6 1083.2,2728.1 1083.5,2727.6 1083.9,2727.6 1084.3,2727.8 1084.6,2728.3 1085,2730 1085.4,2728.9 1085.7,2729.3 1086.1,2729.9 1086.5,2729.4 1086.8,2730.2 1087.2,2729.8 1087.6,2730.1 1087.9,2729.1 1088.3,2728.4 1088.6,2728 1089.4,2728.1 1090.2,2729.1 1091,2729.3 1091.8,2729.7 1092.6,2730 1093.4,2730.7 1094.2,2729.9 1095,2730.1 1095.8,2729.1 1096.6,2728.8 1097.4,2729.8 1098.2,2727.8 1099,2729.2 1099.8,2728.7 1100.6,2728.8 1101.4,2729.2 1102.2,2728.5 1103,2730 1103.8,2728.4 1104.6,2728.3 1105.4,2728.8 1106.2,2729.2 1107,2729.3 1107.8,2728.7 1108.6,2728 1109.4,2729.5 1110.2,2729.2 1111,2729.6 1111.8,2729.8 1112.6,2730.6 1113.4,2731.1 1114.2,2729.6 1115,2730.1 1115.8,2730.7 1116.6,2731.5 1117.4,2730.1 1118.2,2729 1119,2730.2 1119.8,2730.2 1120.6,2730.1 1121.4,2728.9 1122.2,2729.9 1123,2730 1123.8,2730.5 1124.6,2729.5 1125.4,2730.4 1126.2,2730.5 1127,2730.7 1127.8,2730.6 1128.6,2729.7 1129.4,2729.6 1130.2,2730.4 1131,2730.4 1133,2729.5 1134.9,2728.7 1136.9,2729.1 1138.8,2728.3 1140.8,2729.4 1142.7,2729.8 1144.6,2730.3 1146.6,2731 1148.5,2729.7 1150.5,2730.1 1152.4,2729 1154.3,2728.5 1156.3,2728.7 1158.2,2728.4 1160.2,2729.8 1162.1,2729.7 1164.1,2729.9 1166,2729.9 1167.9,2730.4 1169.9,2729.7 1171.8,2729.5 1173.8,2729.1 1175.7,2730.1 1177.7,2731 1179.6,2730.7 1181.5,2730.8 1183.5,2730.7 1185.4,2730.6 1187.4,2730.7 1189.3,2731.7 1191.3,2731.7 1193.2,2730.2 1195.1,2730.2 1197.1,2729.8 1199,2731.8 1201,2731.4 1202.9,2731.5 1204.8,2730.3 1206.8,2731.3 1208.7,2730.7 1210.7,2730.7 1212.6,2731.4 1214.6,2731.5 1216.5,2730.6 1218.4,2730.7 1220.4,2730 1222.3,2730.1 1224.3,2730.5 1226.2,2730 1228.2,2730.3 1230.1,2729.6 1232,2730.2 1234,2731 1235.9,2730 1237.9,2730.8 1239.8,2730 1241.8,2730.5 1243.7,2729.5 1245.6,2729.8 1247.6,2730 1249.5,2730.2 1250.3,2730.7 1251.1,2729.7 1251.9,2729.5 1252.7,2730.9 1253.5,2730.8 1254.3,2731.5 1255.1,2730.5 1255.9,2730.7 1256.7,2730.9 1257.5,2730.4 1258.3,2730.8 1259.1,2731.1 1259.9,2731.4 1260.7,2731 1261.5,2730 1262.3,2731.6 1263.1,2730.3 1263.9,2730.3 1264.7,2730.4 1265.5,2730.2 1266.3,2730.5 1267.1,2729.8 1267.9,2729.1 1268.7,2730.7 1269.5,2729.8 1270.3,2730.2 1271.1,2729.9 1271.9,2729.8 1272.7,2730.6 1273.5,2731.3 1274.3,2730.8 1275.1,2731.2 1275.9,2730.5 1276.7,2730.3 1277.5,2731.3 1278.3,2730.8 1279.1,2730.6 1279.9,2730.3 1280.7,2729.9 1281.5,2731 1282.3,2730.6 1283.1,2729.2 1283.9,2729 1284.7,2729.7 1285.5,2728.6 1286.3,2728.8 1287.1,2730.1 1287.9,2731 1288.7,2731.7 1289.5,2730.9 1290.3,2731.4 1291.1,2730.9 1291.9,2731.5 1292.7,2731 1293.5,2730.7 1293.9,2729.7 1294.2,2729.7 1294.6,2731.5 1295,2731.2 1295.3,2729.7 1295.7,2730.3 1296.1,2730.5 1296.4,2730.2 1296.8,2730.7 1297.2,2730.3 1297.5,2729.5 1297.9,2730.5 1298.3,2730 1298.6,2730 1299,2731.1 1299.4,2729.7 1299.7,2731.2 1300.1,2730.7 1300.5,2730.6 1300.8,2731 1301.2,2730.1 1301.6,2730.1 1301.9,2730 1302.3,2730.1 1302.7,2730.3 1303,2730 1303.4,2730.7 1303.8,2729.7 1304.1,2729.1 1304.5,2729.1 1304.8,2728.6 1305.2,2729.7 1305.6,2730.3 1305.9,2730.8 1306.3,2730.6 1306.7,2729.4 1307,2729.8 1307.4,2729.5 1307.8,2728.5 1308.1,2727.6 1308.5,2727.1 1308.9,2728 1309.2,2728.6 1309.6,2727.9 1310,2728.7 1310.3,2729.3 1310.7,2730 1311.1,2728.8 1311.4,2729 1311.8,2728.8 1312.2,2728.8 1312.5,2728.2 1312.9,2728.9 1313.3,2728.1 1313.6,2729.1 1314,2728.7 1314.4,2728.3 1314.7,2728.3 1315.1,2729.5 1315.5,2729.1 1315.8,2729.8 1316.2,2729 1316.5,2729.1 1316.9,2730.6 1317.3,2729.4 1317.6,2728.8 1318,2729.5 1318.4,2729.8 1318.7,2730.3 1319.1,2729.8 1319.5,2729.8 1319.8,2730.2 1320.2,2729.4 1320.6,2728.8 1320.9,2729.6 1321.3,2729.9 1321.7,2729 1322,2729 1322.4,2730.1 1322.8,2729.6 1323.1,2729.6 1323.5,2730 1323.9,2730.6 1324.2,2730.1 1324.6,2730 1325,2730.3 1325.3,2729.6 1326.1,2729.5 1326.9,2730.1 1327.7,2730.8 1328.5,2731.1 1329.3,2730 1330.1,2731 1330.9,2730.2 1331.7,2730.1 1332.5,2730.1 1333.3,2730.5 1334.1,2729.7 1334.9,2730 1335.7,2730.3 1336.5,2730.1 1337.3,2729.2 1338.1,2729.1 1338.9,2729.7 1339.7,2730.5 1340.5,2730.8 1341.3,2730 1342.1,2729.4 1342.9,2730 1343.7,2730.9 1344.5,2730.3 1345.3,2731.5 1346.1,2731.7 1346.9,2730.6 1347.7,2730 1348.5,2730.8 1349.3,2730 1350.1,2731.4 1350.9,2730.3 1351.7,2730.1 1352.5,2729.9 1353.3,2729.4 1354.1,2730.5 1354.9,2730.9 1355.7,2730.9 1356.5,2731.7 1357.3,2731.3 1358.1,2731.2 1358.9,2730 1359.7,2729.3 1360.5,2729.2 1361.3,2729.3 1362.1,2730.4 1362.9,2731 1363.7,2731 1364.5,2730.3 1365.3,2731.4 1366.1,2730.6 1366.9,2729.9 1367.7,2730.5 1368.5,2730.6 1369.3,2730.2 1370.1,2729.9 1372.1,2729.9 1374,2729 1375.9,2730.3 1377.9,2730.9 1379.8,2730.4 1381.8,2729.4 1383.7,2729.7 1385.6,2728.9 1387.6,2730.3 1389.5,2730 1391.5,2729.5 1393.4,2729.4 1395.4,2729.6 1397.3,2729.9 1399.2,2730.4 1401.2,2729.3 1403.1,2729.6 1405.1,2729.5 1407,2729.8 1409,2730.6 1410.9,2730.4 1412.8,2730.5 1413.6,2730 1414.4,2730 1415.2,2730.1 1416,2730.5 1416.8,2729.8 1417.6,2730.6 1418.4,2729.5 1419.2,2731.4 1420,2730.8 1420.8,2731.3 1421.6,2730.3 1422.4,2730 1423.2,2730.2 1424,2730.7 1424.8,2729.2 1425.6,2730.1 1426.4,2730.2 1427.2,2730.5 1428,2729.9 1428.8,2729.7 1429.6,2730.6 1430.4,2731.7 1431.2,2728.7 1432,2728.8 1432.8,2728.9 1433.6,2728.6 1434.4,2730.1 1435.2,2730.2 1436,2730.4 1436.8,2730.1 1437.6,2729.6 1438.4,2728.3 1439.2,2730.1 1440,2730.4 1440.8,2730.3 1441.6,2730 1442.4,2730.5 1443.2,2730.6 1444,2729.6 1444.8,2730.7 1445.6,2729.3 1446.4,2728.1 1447.2,2728.6 1448,2729.2 1448.8,2729.8 1449.6,2728.3 1450.4,2728.2 1451.2,2729.5 1452,2729.4 1452.8,2728.8 1453.6,2728.9 1454.4,2728.5 1455.2,2729.3 1456,2729.1 1456.8,2728.9 1457.6,2728.5 1458.4,2728.2 1458.8,2729.1 1459.2,2727.9 1459.5,2727.2 1459.9,2728.4 1460.3,2727.8 1460.6,2727.9 1461,2728.1 1461.4,2727.4 1461.7,2726.2 1462.1,2726.2 1462.5,2726.1 1462.8,2726.9 1463.2,2727.9 1463.6,2727.6 1463.9,2727.1 1464.3,2724.9 1464.6,2726 1465,2725 1465.4,2725.4 1465.7,2724.3 1466.1,2724.9 1466.5,2726.2 1466.8,2725.3 1467.2,2725.2 1467.6,2725.2 1467.9,2724.2 1468.3,2724.8 1468.7,2723.3 1469,2723.6 1469.4,2723.4 1469.8,2722.4 1470.1,2723.5 1470.5,2721.8 1470.9,2721.7 1471.2,2721.9 1471.6,2722.4 1472,2723.8 1472.3,2723.3 1472.7,2722.8 1473.1,2721.8 1473.4,2722.6 1473.8,2721.6 1474.2,2721.8 1474.5,2721.4 1474.9,2721.9 1475.3,2721.5 1475.6,2721.2 1476,2721.5 1476.3,2720.6 1476.7,2722.9 1477.1,2722.5 1477.4,2722.5 1477.8,2723.6 1478.2,2723.4 1478.5,2722.1 1478.9,2722.2 1479.3,2722.2 1479.6,2722.5 1480,2723.1 1480.4,2723 1480.7,2722.7 1481.1,2724.4 1481.5,2724.6 1481.8,2725.1 1482.2,2725.9 1482.6,2724.9 1482.9,2725.4 1483.3,2724.9 1483.7,2725.9 1484,2725.8 1484.4,2725.3 1484.8,2726.5 1485.1,2726.5 1485.5,2726.3 1485.9,2726.2 1486.2,2726.5 1486.6,2725.5 1487,2726 1487.3,2726.9 1487.7,2727.3 1488,2726.6 1488.4,2726.7 1488.8,2725.9 1489.1,2727 1489.5,2727.2 1489.9,2727 1490.2,2727 1490.6,2727.5 1491,2728.7 1491.3,2727.9 1491.7,2727.1 1492.1,2727 1492.9,2728.6 1493.7,2729.2 1494.5,2728.3 1495.3,2728.1 1496.1,2727.4 1496.9,2728.1 1497.7,2728.1 1498.5,2729.4 1499.3,2729.2 1500.1,2729.7 1500.9,2729.2 1501.7,2731.3 1502.5,2730.4 1503.3,2729.7 1504.1,2729.6 1504.9,2730 1505.7,2728.5 1506.5,2728.2 1507.3,2728.4 1508.1,2729.4 1508.9,2730.1 1509.7,2729.2 1510.5,2729.4 1511.3,2730 1512.1,2730.1 1512.4,2730 1512.8,2727.1 1513.2,2727.4 1513.5,2728.2 1513.9,2728.3 1514.3,2728.8 1514.6,2727.5 1515,2728.6 1515.4,2728.1 1515.7,2728.6 1516.1,2728.2 1516.5,2728.3 1516.8,2728.7 1517.2,2729.4 1517.5,2728.7 1517.9,2727.9 1518.3,2727.1 1518.6,2727.7 1519,2727.9 1519.4,2727.3 1519.7,2727.6 1520.1,2727.7 1520.5,2726.6 1520.8,2727.4 1521.2,2727.3 1521.6,2727.2 1521.9,2726.7 1522.3,2726.8 1522.7,2726.7 1523,2725.2 1523.4,2726.7 1523.8,2726.8 1524.1,2726 1524.5,2726.1 1524.9,2726.8 1525.2,2726.6 1525.6,2726.5 1526,2725.9 1526.3,2726.2 1526.7,2726.5 1527.1,2726.8 1527.4,2727.1 1527.8,2726.2 1528.2,2726.6 1528.5,2726.2 1528.9,2725.4 1529.2,2725.5 1529.6,2725.4 1530,2725.7 1530.3,2725.8 1530.7,2726.1 1531.1,2725.7 1531.4,2726.1 1531.8,2726.9 1532.2,2726.5 1532.5,2726.3 1532.9,2726.8 1533.3,2726.1 1533.6,2726.4 1534,2726.3 1534.4,2727 1534.7,2726.5 1535.1,2727.5 1535.5,2726.6 1535.8,2727 1536.2,2727.7 1536.6,2728.3 1536.9,2729.1 1537.3,2727.4 1537.7,2727 1538,2727.1 1538.4,2727.6 1538.8,2727.4 1539.1,2729.1 1539.5,2727.6 1539.9,2727.1 1540.2,2727.5 1540.6,2727.4 1540.9,2727.3 1541.3,2727.9 1541.7,2728.2 1542,2727.5 1542.4,2728 1542.8,2728.6 1543.1,2728.3 1543.5,2728.7 1543.9,2728.1 1544.2,2728.2 1544.6,2728.3 1545,2728.7 1545.3,2729.5 1545.7,2729 1546.1,2730 1546.4,2731.1 1547.2,2728.9 1548,2729.1 1548.8,2729.8 1549.6,2728.6 1550.4,2729.4 1551.2,2730.4 1552,2729.1 1552.8,2729.9 1553.6,2730.3 1554.4,2729.3 1555.2,2728.9 1556,2729.6 1556.8,2729.2 1557.6,2729.8 1558.4,2730.5 1559.2,2730.2 1560,2730.6 1560.8,2729.4 1561.6,2729.7 1562.4,2728.9 1563.2,2729.6 1564,2729.4 1564.8,2730.3 1565.6,2730.2 1566.4,2729.9 1567.2,2729.6 1568,2729.1 1568.8,2729.2 1569.6,2729.3 1570.4,2729.4 1571.2,2729 1572,2729.5 1572.8,2729.5 1573.6,2729.2 1574.4,2730.3 1575.2,2730 1576,2729.7 1576.8,2729.2 1577.6,2730.9 1578.4,2730.7 1579.2,2731.5 1580,2730.8 1580.8,2730.1 1581.6,2729.9 1582.4,2729.7 1583.2,2730.5 1584,2731.5 1584.8,2731.2 1585.6,2730.5 1586.4,2729.4 1587.2,2730.7 1588,2730.9 1588.8,2731.3 1589.6,2731.3 1590.4,2732.1 1591.2,2731.2 1592,2731.1 1592.8,2730.1 1593.6,2730.1 1595.6,2729.8 1597.5,2731.1 1599.4,2732 1601.4,2731.7 1603.3,2730.7 1605.3,2730.6 1607.2,2730.5 1609.2,2730.1 1611.1,2730.9 1613,2730.4 1615,2731.6 1616.9,2731.3 1618.9,2730.9 1620.8,2730.7 1622.8,2731.1 1624.7,2731.8 1626.6,2731.5 1628.6,2731.7 1630.5,2731.6 1632.5,2732.2 1634.4,2730.7 1636.4,2730.4 1638.3,2732.3 1640.2,2732.4 1642.2,2731.7 1644.1,2731.3 1646.1,2730.4 1648,2730.9 1649.9,2729.4 1651.9,2730 1653.8,2730.1 1655.8,2731.5 1657.7,2732.2 1659.7,2732.4 1661.6,2731 1663.5,2732.6 1665.5,2733.1 1667.4,2733.5 1669.4,2732 1671.3,2730.2 1673.3,2730.9 1674.1,2731.9 1674.9,2731.9 1675.7,2730.9 1676.5,2731.1 1677.3,2732.1 1678.1,2731.9 1678.9,2731.9 1679.7,2731.7 1680.5,2731.2 1681.3,2731 1682.1,2730.8 1682.9,2731.8 1683.7,2731.5 1684.5,2732.9 1685.3,2732.7 1686.1,2733 1686.9,2732.7 1687.7,2732.5 1688.5,2731.5 1689.3,2731 1690.1,2731.8 1690.9,2731.3 1691.7,2732 1692.5,2730.6 1693.3,2731.6 1694.1,2731.8 1694.9,2730.6 1695.7,2731.7 1696.5,2731.1 1697.3,2730.9 1698.1,2731.2 1698.9,2730.8 1699.7,2731.8 1700.5,2731.8 1701.3,2731.4 1702.1,2731.5 1702.9,2732 1703.7,2731.9 1704.5,2732.3 1705.2,2731.8 1706,2731 1706.8,2732.5 1707.6,2732.1 1708.4,2733 1709.2,2731.6 1710,2730.9 1710.8,2731.6 1711.6,2730.8 1712.4,2731.4 1713.2,2731 1714,2732.3 1714.8,2733.6 1715.6,2732.7 1716.4,2730.8 1717.2,2730.9 1718,2731.2 1718.8,2730 1719.6,2730.6 1720.4,2730.9 1721.2,2730.4 1722,2729 1722.8,2729.1 1723.6,2729.9 1724,2729.2 1724.4,2728.8 1724.7,2728.9 1725.1,2730.5 1725.5,2731.1 1725.8,2730 1726.2,2729.6 1726.6,2729.4 1726.9,2728.9 1727.3,2728.3 1727.7,2728.3 1728,2727.9 1728.4,2728.3 1728.8,2728.4 1729.1,2728.1 1729.5,2729.2 1729.9,2729.7 1730.2,2729.5 1730.6,2728.4 1731,2729.4 1731.3,2728.6 1731.7,2727.8 1732.1,2728 1732.4,2728.1 1732.8,2726.6 1733.2,2726.2 1733.5,2725.9 1733.9,2726.7 1734.2,2727 1734.6,2726.6 1735,2727.4 1735.3,2726.6 1735.7,2725.9 1736.1,2725.4 1736.4,2724 1736.8,2724 1737.2,2723.9 1737.5,2723.3 1737.9,2724.6 1738.3,2724.6 1738.6,2725 1739,2724.8 1739.4,2723.2 1739.7,2724.2 1740.1,2724.2 1740.5,2725 1740.8,2723.4 1741.2,2724.2 1741.6,2723.2 1741.9,2724 1742.3,2725 1742.7,2725.3 1743,2724.4 1743.4,2723.6 1743.8,2724.8 1744.1,2724.8 1744.5,2724.4 1744.9,2724.9 1745.2,2726 1745.6,2725.2 1745.9,2725.2 1746.3,2725.7 1746.7,2725.8 1747,2725.2 1747.4,2726.4 1747.8,2726.5 1748.1,2725.3 1748.5,2725.5 1748.9,2725.5 1749.2,2726.4 1749.6,2725.9 1750,2727.8 1750.3,2727.9 1750.7,2727.9 1751.1,2726.5 1751.4,2727.2 1751.8,2727.4 1752.2,2727.4 1752.5,2727.7 1752.9,2728.4 1753.3,2728.2 1753.6,2728.2 1754,2728.5 1754.4,2727.6 1754.7,2728.3 1755.1,2728.1 1755.5,2730 1755.8,2729.8 1756.2,2729.4 1756.6,2728.5 1756.9,2728.3 1757.3,2729.3 1757.6,2730.1 1758,2731.1 1758.4,2729.8 1758.7,2730.4 1759.1,2730.7 1759.5,2730.6 1759.8,2730.7 1760.2,2730.7 1760.6,2731.8 1760.9,2731.3 1761.7,2730.7 1762.5,2730.5 1763.3,2731.3 1764.1,2731.4 1764.9,2731 1765.7,2731.9 1766.5,2731.3 1767.3,2731.2 1768.1,2731.6 1768.9,2731.5 1769.7,2731.8 1770.5,2732.1 1771.3,2731.5 1772.1,2731.2 1772.9,2732.2 1773.7,2732.4 1774.5,2732.6 1775.3,2732.1 1776.1,2731.1 1776.9,2731.9 1777.7,2732.4 1778.5,2731.9 1778.9,2731.6"/>
<polyline fill="none" stroke="#000000" stroke-width="7.6" stroke-linejoin="round" stroke-linecap="butt" points="179.3,2832.5 181.2,2832.5 183.2,2832.8 185.1,2833.2 187.1,2833.6 189,2834 191,2833.4 192.9,2832.6 194.8,2832 196.8,2833.6 198.7,2833.6 200.7,2832.8 202.6,2833.9 204.6,2834.6 206.5,2833.3 208.4,2834 210.4,2834.4 212.3,2832.9 214.3,2833.1 216.2,2833.3 218.1,2832.8 220.1,2831.8 222,2831.4 224,2832.5 225.9,2831 227.9,2831 229.8,2830.8 231.7,2831.4 233.7,2832.3 235.6,2831.7 237.6,2831.5 239.5,2832.8 241.5,2832.4 243.4,2831.4 245.3,2831.4 247.3,2831.6 249.2,2831.4 251.2,2831.9 253.1,2831.4 255.1,2831.9 257,2832.2 258.9,2832.5 260.9,2832.8 262.8,2832.7 264.8,2832.2 266.7,2832.2 268.6,2831.1 270.6,2831.8 272.5,2832.2 274.5,2833.1 276.4,2831.9 278.4,2832 280.3,2831.7 282.2,2831.2 284.2,2831.3 286.1,2830.1 288.1,2830.3 290,2832 292,2831 293.9,2831.4 295.8,2831.5 297.8,2829.8 299.7,2829.3 301.7,2829.3 303.6,2828.9 305.6,2829.8 307.5,2829.3 309.4,2828.7 311.4,2828.4 313.3,2827.5 315.3,2827.3 317.2,2826.7 319.2,2825.3 321.1,2827.4 323,2826.4 325,2826 325.8,2826.5 326.6,2825.7 327.4,2825.3 328.2,2825.7 329,2825.7 329.8,2826.1 330.6,2825.7 331.4,2824.5 332.2,2823.5 333,2823.6 333.8,2823.8 334.6,2823.5 335.4,2822.8 336.2,2821.8 337,2821.2 337.8,2821.8 338.6,2822.2 339.4,2821.3 340.2,2820.7 341,2819 341.8,2819.9 342.6,2819.2 343.4,2818.7 344.2,2818.4 345,2817.8 345.8,2815.9 346.6,2815.7 347.4,2815.2 348.2,2814.6 349,2814 349.8,2812.2 350.6,2812.2 351.4,2813 352.2,2810 353,2810 353.8,2808.2 354.6,2807.2 355.4,2805.2 356.2,2801.9 357,2799.4 357.8,2797.9 358.6,2795.9 359.4,2793.4 360.2,2790.4 361,2787.2 361.8,2782.9 362.1,2781.7 362.5,2780.2 362.9,2777.7 363.2,2775.2 363.6,2772.5 364,2769.4 364.3,2768.6 364.7,2765.9 365.1,2762.9 365.4,2761.1 365.8,2758.5 366.2,2755.2 366.5,2750.2 366.9,2746.9 367.3,2743.1 367.6,2739 368,2735 368.3,2731.7 368.7,2728.4 369.1,2725.1 369.4,2721.1 369.8,2716.3 370.2,2712.5 370.5,2709.3 370.9,2703 371.3,2699.7 371.6,2695.9 372,2692 372.4,2688.1 372.7,2685.2 373.1,2682.5 373.5,2679.4 373.8,2677.1 374.2,2672.8 374.6,2673.5 374.9,2673.4 375.3,2671.6 375.7,2672.3 376,2672.8 376.4,2673.8 376.8,2674.2 377.1,2676.1 377.5,2678.9 377.9,2682.1 378.2,2686.9 378.6,2689.8 379,2693.8 379.3,2698 379.7,2701.3 380,2705.1 380.4,2707.8 380.8,2712.1 381.1,2716.5 381.5,2720.4 381.9,2724.5 382.2,2727.7 382.6,2731.2 383,2734.8 383.3,2738.7 383.7,2743.3 384.1,2745.6 384.4,2748.8 384.8,2751.2 385.2,2753 385.5,2756.5 385.9,2759.4 386.3,2761.9 386.6,2765.3 387,2767.1 387.4,2770.5 387.7,2770.6 388.1,2772.8 388.5,2774.2 388.8,2775.1 389.2,2777.3 390,2781 390.8,2785.1 391.6,2788.2 392.4,2790.3 393.2,2792.6 394,2794.1 394.8,2795.6 395.6,2795.6 396.4,2798.8 397.2,2799 398,2798.9 398.8,2800.8 399.6,2801.6 400.4,2802.3 401.2,2804.3 402,2804.9 402.8,2805.1 403.6,2805.9 404.4,2806.4 405.2,2807.4 406,2807.6 406.8,2808.4 407.6,2806.7 408.4,2806.8 409.2,2807.3 410,2808.3 410.8,2808.3 411.6,2808.2 412.4,2807.3 413.2,2808.5 414,2809.9 414.8,2809.3 415.6,2810.3 416.4,2809.4 417.2,2810.2 418,2811 418.8,2809.5 419.6,2809.4 420.4,2810.7 421.2,2809.6 422,2810.2 422.8,2810.6 423.6,2810.3 424.4,2810.5 425.2,2810.9 426,2811 426.8,2811.2 427.6,2811.5 428.4,2810.8 429.2,2810.6 430,2811.2 430.8,2811.6 431.6,2812.1 432.4,2811.9 433.2,2811.7 434,2811.9 434.8,2812.3 435.6,2812.3 436.4,2811.5 437.2,2812.2 438,2812.7 438.8,2812.2 439.6,2813.6 440.4,2814.7 441.2,2814.2 442,2813.9 442.8,2814.8 443.6,2814.1 444.4,2813.8 445.2,2813.2 446,2814 446.8,2814 447.6,2813.6 448.4,2814.4 449.2,2814.1 450,2814 450.8,2812.5 451.6,2813 452.4,2812.7 453.2,2813.3 454,2813 454.8,2813.6 455.6,2813.2 456.4,2812.8 457.2,2813.6 458,2812.9 458.8,2812.8 459.6,2813.2 460.4,2813.9 461.2,2812.4 462,2812.2 462.8,2811.9 463.6,2811.6 464.4,2810 465.2,2810.5 465.5,2809.1 465.9,2807.9 466.3,2808.2 466.6,2808.5 467,2807.9 467.4,2807.2 467.7,2806.5 468.1,2807.7 468.5,2805.8 468.8,2805.4 469.2,2804.4 469.6,2802.4 469.9,2800.6 470.3,2801.5 470.7,2801.4 471,2800.3 471.4,2799.7 471.8,2799.8 472.1,2798.6 472.5,2797.5 472.8,2796.4 473.2,2796 473.6,2794.5 473.9,2791.6 474.3,2791.3 474.7,2790.6 475,2789.6 475.4,2789.2 475.8,2788.2 476.1,2787.7 476.5,2787.8 476.9,2787.5 477.2,2787.5 477.6,2787.4 478,2785.8 478.3,2785.8 478.7,2787.1 479.1,2787.5 479.4,2788.1 479.8,2788.4 480.2,2790 480.5,2789.2 480.9,2790.4 481.3,2790.8 481.6,2792 482,2792.2 482.4,2792.3 482.7,2793.1 483.1,2793.6 483.5,2795.1 483.8,2796.6 484.2,2797.9 484.5,2800.1 484.9,2799.7 485.3,2801 485.6,2801.8 486,2801.8 486.4,2803.5 486.7,2805.6 487.1,2806 487.5,2806 487.8,2808.3 488.2,2808.6 488.6,2809.6 488.9,2809.4 489.3,2810.7 489.7,2811 490,2812 490.4,2812.3 490.8,2813 491.1,2813 491.5,2814.4 491.9,2815.9 492.2,2815.3 492.6,2816.4 493.4,2817.4 494.2,2818.1 495,2819.2 495.8,2819.3 496.6,2819.4 497.4,2819.9 498.2,2821.5 499,2822.1 499.8,2823 500.6,2823.1 501.4,2823.9 502.2,2823.5 503,2822.9 503.8,2824.1 504.6,2824.1 505.4,2825.9 506.2,2826.2 507,2826 507.8,2825.3 508.6,2825.1 509.4,2825.7 510.2,2825.1 511,2826 511.8,2826.5 512.6,2828 513.4,2826.9 514.2,2825.6 515,2827.6 515.8,2827.9 516.6,2827.1 517.4,2828.8 518.2,2828.1 519,2828.4 519.8,2827.3 520.6,2826.9 521.4,2826.8 522.2,2827.1 523,2826.3 523.8,2827.2 524.6,2827.4 525.4,2827.1 526.2,2828.2 527,2827.5 527.8,2826.9 528.6,2825.5 528.9,2826 529.3,2824.9 529.7,2825.3 530,2825.9 530.4,2824 530.8,2823.9 531.1,2823.1 531.5,2822.7 531.9,2822.8 532.2,2821.5 532.6,2821.6 533,2821.4 533.3,2821.4 533.7,2821.1 534.1,2821.3 534.4,2822 534.8,2823.6 535.2,2823.7 535.5,2823.6 535.9,2824.4 536.3,2824.5 536.6,2824.8 537,2825.6 537.4,2825.9 537.7,2825.3 538.1,2826.1 538.5,2827 538.8,2828 539.2,2827.7 540,2828.5 540.8,2830 541.6,2829.3 542.4,2829.8 543.2,2829.3 544,2829.7 544.8,2830.6 545.6,2829.6 546.4,2829.7 547.2,2829.2 548,2829.5 548.8,2830.4 549.6,2830.9 550.4,2830.6 551.2,2831.5 552,2831.8 552.8,2830.2 553.6,2829.1 554.4,2829.2 556.3,2828.8 558.3,2830.2 560.2,2830 562.2,2829.7 564.1,2830.7 566,2831.4 568,2830.4 569.9,2829.3 571.9,2830.5 573.8,2830.1 575.7,2829.5 577.7,2829.3 579.6,2829.7 581.6,2830.4 583.5,2830.8 585.5,2830.4 587.4,2830.1 588.2,2830.1 589,2829.6 589.8,2830.9 590.6,2830.5 591.4,2831.9 592.2,2831.2 593,2830.4 593.8,2830.8 594.6,2830 595.4,2830.5 596.2,2830.7 597,2831.1 597.8,2830.3 598.6,2829.8 599.4,2829.4 600.2,2829.7 601,2828.6 601.8,2828.3 602.2,2828.1 602.5,2828.7 602.9,2829.2 603.3,2828.1 603.6,2828.1 604,2827.6 604.4,2828 604.7,2828.2 605.1,2825.8 605.5,2825 605.8,2825.5 606.2,2825.2 606.6,2827 606.9,2827.3 607.3,2826.7 607.7,2826.4 608,2825 608.4,2825.8 608.7,2826.1 609.1,2826.8 609.5,2827.8 609.8,2827.4 610.2,2827.8 610.6,2828.7 610.9,2829.2 611.3,2829.8 611.7,2830 612,2828.8 612.4,2828.9 612.8,2830 613.6,2829.6 614.4,2829 615.2,2828.8 616,2830.1 616.8,2829.5 617.6,2831.4 618.4,2830.8 619.2,2830.1 620,2829.6 620.8,2829.2 621.6,2829.8 622.4,2829.9 623.2,2830.4 624,2830.1 624.8,2830.6 625.6,2829.9 626.4,2830 627.2,2830.9 628,2830.5 629.9,2830.8 631.8,2830.1 633.8,2830.9 635.7,2830.8 637.7,2830.2 639.6,2830.9 641.6,2830.2 643.5,2830 645.4,2829.7 647.4,2828.8 649.3,2829.9 651.3,2830.1 653.2,2829.1 655.2,2829.1 657.1,2829.1 659,2831.1 661,2830.2 662.9,2829.6 664.9,2829.9 666.8,2829.9 668.8,2830.8 670.7,2830.5 672.6,2830.7 674.6,2830.5 676.5,2830 678.5,2830.4 680.4,2830.8 682.4,2828.9 684.3,2829.5 686.2,2829.3 688.2,2830.5 690.1,2830.8 692.1,2830.6 694,2829.9 695.9,2829.5 697.9,2829.1 699.8,2829.6 701.8,2829.3 703.7,2829.9 705.7,2830.8 707.6,2830.4 709.5,2829.4 711.5,2829.1 713.4,2828.3 715.4,2828.8 717.3,2829.2 719.3,2829.6 721.2,2828.9 723.1,2829.4 725.1,2828.9 727,2829.4 729,2827.6 730.9,2829.6 732.9,2829.4 734.8,2829.9 736.7,2830 738.7,2829.7 740.6,2829.7 742.6,2828.7 744.5,2828.7 746.4,2828.7 748.4,2829.3 750.3,2828.9 752.3,2829.4 754.2,2829 755,2828.5 755.8,2829.3 756.6,2827.5 757.4,2826.8 758.2,2826.9 759,2826.5 759.8,2827.9 760.6,2827.3 761.4,2827.1 762.2,2827.1 763,2826.8 763.8,2826.4 764.6,2827.1 765.4,2827.3 766.2,2827.4 767,2826.8 767.8,2826.6 768.6,2826.1 769.4,2826 770.2,2826.4 771,2826.7 771.8,2826.2 772.6,2826.3 773.4,2825.8 774.2,2825 775,2824.6 775.8,2824 776.6,2822.9 777.4,2823.2 778.2,2823.6 779,2823.7 779.8,2823.7 780.6,2822.8 781.4,2823.6 782.2,2823.1 783,2822.3 783.8,2821.3 784.6,2819.8 785.4,2819.6 786.2,2819.2 787,2819 787.8,2817.8 788.6,2817.8 789.4,2815.9 790.2,2814.1 791,2813.6 791.8,2812 792.6,2810.8 793.4,2809 793.8,2807.8 794.1,2805.8 794.5,2805.8 794.9,2805.2 795.2,2803.9 795.6,2803.8 796,2802.4 796.3,2801.5 796.7,2800.4 797.1,2798.1 797.4,2797.1 797.8,2796 798.2,2795.7 798.5,2796.1 798.9,2794.5 799.3,2794.2 799.6,2791.8 800,2789 800.4,2786.1 800.7,2784.7 801.1,2782.7 801.5,2781.4 801.8,2778.6 802.2,2778.1 802.5,2775.4 802.9,2774.1 803.3,2772.1 803.6,2770.7 804,2769.9 804.4,2768.5 804.7,2766.4 805.1,2765.3 805.5,2765.5 805.8,2764.6 806.2,2763.7 806.6,2762.4 806.9,2761.7 807.3,2762 807.7,2762.1 808,2762.9 808.4,2762.5 808.8,2763.4 809.1,2763.6 809.5,2766.2 809.9,2766.9 810.2,2768.6 810.6,2770.3 811,2770.4 811.3,2772.9 811.7,2774.7 812.1,2776 812.4,2777.6 812.8,2779.4 813.2,2780.2 813.5,2782.1 813.9,2784.6 814.2,2785.5 814.6,2787.5 815,2790 815.3,2791.2 815.7,2792 816.1,2793.4 816.4,2794.5 816.8,2796.2 817.2,2797 817.5,2798.9 817.9,2800.6 818.3,2800.4 818.6,2801 819,2802.8 819.4,2805.3 819.7,2805.7 820.1,2806.2 820.5,2807.7 820.8,2808.3 821.2,2809.6 821.6,2809.7 821.9,2810.4 822.3,2811.5 823.1,2811.5 823.9,2814.1 824.7,2815.1 825.5,2817 826.3,2817.5 827.1,2818.4 827.9,2817.4 828.7,2819.3 829.5,2819.9 830.3,2821.2 831.1,2822 831.9,2822.8 832.7,2821.5 833.5,2822.1 834.3,2823 835.1,2823.1 835.9,2823.8 836.7,2824.5 837.5,2824.9 838.3,2825.1 839.1,2824.6 839.9,2824.9 840.7,2824.7 841.5,2824.3 842.3,2826.5 843.1,2826.5 843.9,2826.5 844.7,2826.4 845.5,2827.3 846.3,2826.5 847.1,2827.3 847.9,2827.1 848.7,2827.1 849.5,2827.6 850.3,2827.1 851.1,2826.7 851.9,2826.8 852.7,2827.8 853.5,2828.4 854.3,2828.6 855.1,2828.3 855.9,2828.3 856.7,2828.5 857.5,2828.8 858.3,2829.8 859.1,2829.2 859.9,2829.2 860.7,2828.4 861.5,2829.1 862.3,2829.4 864.2,2828.3 866.2,2829.1 868.1,2829.9 870.1,2829.7 872,2828.5 873.9,2829.5 875.9,2829.6 877.8,2829.7 879.8,2829.5 881.7,2829.3 883.6,2829.9 885.6,2830.7 887.5,2830.7 889.5,2830.2 891.4,2830.7 893.4,2830.2 895.3,2831 897.2,2831.1 899.2,2829.8 901.1,2829.7 903.1,2830.5 905,2830.7 907,2830 908.9,2830.1 910.8,2831.3 912.8,2831.8 914.7,2830.4 916.7,2830.3 918.6,2830.3 920.6,2829.4 922.5,2829 924.4,2830.1 926.4,2831 928.3,2829.9 930.3,2830.6 932.2,2830.6 934.2,2830 936.1,2830.7 938,2831 940,2829.4 941.9,2829.6 943.9,2829.8 945.8,2830.4 947.7,2831.6 949.7,2831 951.6,2829.6 953.6,2830.2 954.4,2830.6 955.2,2829.5 956,2829.1 956.8,2830.2 957.6,2829.7 958.4,2829.5 959.2,2829.6 960,2828.1 960.8,2830.4 961.6,2830.3 962.4,2830.7 963.2,2830 964,2828.7 964.8,2828.2 965.6,2829.4 966.4,2829.4 967.2,2828.7 968,2829.3 968.8,2828.6 969.6,2828.2 970.4,2828.3 971.2,2828.7 972,2828.2 972.8,2828 973.6,2828.3 974.4,2828 975.2,2828 976,2827.2 976.8,2826.7 977.6,2826.2 978.4,2826.2 979.2,2824.6 980,2825.4 980.8,2825.7 981.6,2825.7 982.4,2825.7 983.2,2825.3 984,2824.8 984.8,2824.5 985.6,2824.5 986.4,2824.3 987.2,2823.5 988,2823.9 988.8,2821.8 989.6,2821.2 990.4,2821 991.2,2819.7 992,2820.9 992.8,2818.5 993.6,2817.6 994.4,2817.4 995.2,2817 995.5,2814.6 995.9,2814.7 996.3,2814.7 996.6,2812.9 997,2813.4 997.4,2813.1 997.7,2810.4 998.1,2809.7 998.5,2808.3 998.8,2808.8 999.2,2807.9 999.6,2806.4 999.9,2805.4 1000.3,2804.8 1000.6,2804.1 1001,2803 1001.4,2801.1 1001.7,2800.3 1002.1,2798.7 1002.5,2797.1 1002.8,2796.3 1003.2,2796.8 1003.6,2796.7 1003.9,2794.7 1004.3,2793.1 1004.7,2791.3 1005,2789.5 1005.4,2788.1 1005.8,2787.2 1006.1,2786.1 1006.5,2783.9 1006.9,2784.2 1007.2,2783.7 1007.6,2782.6 1008,2780.7 1008.3,2779.4 1008.7,2779.2 1009.1,2779.1 1009.4,2779.2 1009.8,2777.6 1010.2,2778.3 1010.5,2778.3 1010.9,2778.7 1011.3,2779.6 1011.6,2779.7 1012,2780.9 1012.3,2782.4 1012.7,2782.4 1013.1,2783.5 1013.4,2784.4 1013.8,2786.2 1014.2,2787 1014.5,2788.3 1014.9,2789.2 1015.3,2791.5 1015.6,2791.6 1016,2793.5 1016.4,2793.8 1016.7,2796.5 1017.1,2797.8 1017.5,2800.1 1017.8,2800.4 1018.2,2800.5 1018.6,2802.3 1018.9,2804 1019.3,2805.6 1019.7,2805.7 1020,2807.1 1020.4,2806.8 1020.8,2808.4 1021.1,2809.6 1021.5,2809.2 1021.9,2810.3 1022.2,2810.5 1022.6,2812.2 1023,2813.2 1023.3,2814.9 1023.7,2815.5 1024,2814.8 1024.4,2816 1024.8,2815.7 1025.1,2816.3 1025.9,2817.9 1026.7,2818.4 1027.5,2819.8 1028.3,2820.9 1029.1,2821.8 1029.9,2823.1 1030.7,2822.9 1031.5,2822.9 1032.3,2824.2 1033.1,2823.7 1033.9,2824.2 1034.7,2824.5 1035.5,2825.6 1036.3,2823.9 1037.1,2824.9 1037.9,2826.5 1038.7,2825.5 1039.5,2826.5 1040.3,2827.7 1041.1,2828.5 1041.9,2827.3 1042.7,2827.6 1043.5,2828.6 1044.3,2827.9 1045.1,2827.4 1045.9,2828.4 1046.7,2827 1047.5,2827.7 1048.3,2827.4 1049.1,2827 1049.9,2827.5 1050.7,2828.6 1051.5,2828.8 1052.3,2828.7 1053.1,2829 1053.9,2829.5 1054.7,2828.5 1055.5,2828.4 1056.3,2828.6 1057.1,2829.3 1057.9,2828.6 1058.3,2827.8 1058.7,2828.5 1059,2827.8 1059.4,2829 1059.8,2828.3 1060.1,2828.9 1060.5,2828.7 1060.9,2828 1061.2,2829 1061.6,2828.1 1062,2828.6 1062.3,2829.3 1062.7,2828.8 1063.1,2829 1063.4,2827.1 1063.8,2827.9 1064.2,2827.1 1064.5,2827 1064.9,2827.6 1065.2,2826.8 1065.6,2828.1 1066,2827.6 1066.3,2827.6 1066.7,2827 1067.1,2826.1 1067.4,2826.4 1067.8,2827.7 1068.2,2826.2 1068.5,2826.6 1068.9,2826.9 1069.3,2826.5 1069.6,2825.9 1070,2825.7 1070.4,2825.5 1070.7,2825.1 1071.1,2826.1 1071.5,2826.2 1071.8,2826.1 1072.2,2826 1072.6,2826.4 1072.9,2824.9 1073.3,2824.9 1073.7,2824.9 1074,2825.5 1074.4,2825.9 1074.8,2824.4 1075.1,2825 1075.5,2825.5 1075.9,2825.9 1076.2,2826.2 1076.6,2826.8 1076.9,2827.5 1077.3,2827.2 1077.7,2827.9 1078,2827.5 1078.4,2827.4 1078.8,2827.8 1079.1,2826.3 1079.5,2828.5 1079.9,2827.8 1080.2,2827.5 1080.6,2827.3 1081,2827.8 1081.3,2828.6 1081.7,2828.3 1082.1,2828.2 1082.4,2828.2 1082.8,2829 1083.2,2829.9 1083.5,2829.8 1083.9,2828.4 1084.3,2829.4 1084.6,2828.3 1085,2829 1085.4,2829.9 1085.7,2829.3 1086.1,2828.6 1086.5,2829.7 1086.8,2830.8 1087.2,2830.4 1087.6,2830 1087.9,2831.3 1088.3,2830.2 1088.6,2829.9 1089.4,2829.8 1090.2,2830.1 1091,2830.3 1091.8,2829.9 1092.6,2831 1093.4,2830.1 1094.2,2830.7 1095,2830.5 1095.8,2830.5 1096.6,2829.2 1097.4,2829.6 1098.2,2829.8 1099,2830.1 1099.8,2829.5 1100.6,2830.2 1101.4,2829.4 1102.2,2830.3 1103,2832 1103.8,2831.7 1104.6,2830.8 1105.4,2830.3 1106.2,2830 1107,2831.4 1107.8,2831.3 1108.6,2831.4 1109.4,2830.9 1110.2,2832 1111,2833.8 1111.8,2833.3 1112.6,2833.4 1113.4,2833.8 1114.2,2833.6 1115,2831.7 1115.8,2831.7 1116.6,2832.8 1117.4,2832.6 1118.2,2832.4 1119,2833.6 1119.8,2832.9 1120.6,2833 1121.4,2832.5 1122.2,2832.8 1123,2832.2 1123.8,2831.3 1124.6,2830.8 1125.4,2831 1126.2,2831.6 1127,2832.9 1127.8,2833.7 1128.6,2833.2 1129.4,2832.7 1130.2,2831.9 1131,2832.5 1133,2832.2 1134.9,2831.6 1136.9,2831.8 1138.8,2831.6 1140.8,2832.5 1142.7,2831.7 1144.6,2831.9 1146.6,2832.4 1148.5,2833 1150.5,2832.3 1152.4,2832.7 1154.3,2833.7 1156.3,2833.1 1158.2,2834 1160.2,2833.8 1162.1,2833 1164.1,2832.6 1166,2832.9 1167.9,2832.8 1169.9,2833.3 1171.8,2832.6 1173.8,2832.6 1175.7,2833 1177.7,2832.4 1179.6,2832.8 1181.5,2832.5 1183.5,2831.2 1185.4,2832.6 1187.4,2832.3 1189.3,2830.4 1191.3,2831 1193.2,2831.9 1195.1,2831.3 1197.1,2832.6 1199,2832 1201,2832.8 1202.9,2833.4 1204.8,2834.1 1206.8,2831.8 1208.7,2833.3 1210.7,2832.9 1212.6,2832.5 1214.6,2833.2 1216.5,2833.7 1218.4,2832.4 1220.4,2833.2 1222.3,2833.3 1224.3,2832.7 1226.2,2832.9 1228.2,2833.6 1230.1,2834.3 1232,2834.3 1234,2833.4 1235.9,2832.7 1237.9,2832.3 1239.8,2831.2 1241.8,2832.3 1243.7,2832.2 1245.6,2831.4 1247.6,2831.8 1249.5,2832.9 1250.3,2832.1 1251.1,2831.7 1251.9,2831.9 1252.7,2832.7 1253.5,2831.7 1254.3,2832 1255.1,2831.3 1255.9,2832.1 1256.7,2832.1 1257.5,2832.1 1258.3,2832.7 1259.1,2833.3 1259.9,2833.5 1260.7,2833.9 1261.5,2832.6 1262.3,2833.8 1263.1,2831.8 1263.9,2831.6 1264.7,2832.4 1265.5,2831.9 1266.3,2832 1267.1,2832.9 1267.9,2833.7 1268.7,2832.8 1269.5,2833.4 1270.3,2833.6 1271.1,2832.5 1271.9,2831.7 1272.7,2832.5 1273.5,2833 1274.3,2832.2 1275.1,2832.4 1275.9,2831.8 1276.7,2832.2 1277.5,2830.6 1278.3,2830.5 1279.1,2830.8 1279.9,2830.9 1280.7,2830.4 1281.5,2830.2 1282.3,2831.1 1283.1,2831.7 1283.9,2831.6 1284.7,2832.7 1285.5,2832.4 1286.3,2831.6 1287.1,2830.9 1287.9,2830.1 1288.7,2830.2 1289.5,2830.9 1290.3,2830.2 1291.1,2830 1291.9,2830.4 1292.7,2830.5 1293.5,2830.7 1293.9,2830.5 1294.2,2830.1 1294.6,2829.6 1295,2829.7 1295.3,2829.5 1295.7,2830.5 1296.1,2830.5 1296.4,2830.9 1296.8,2830.3 1297.2,2829.4 1297.5,2830.3 1297.9,2830.4 1298.3,2830.8 1298.6,2831.9 1299,2830.6 1299.4,2830.3 1299.7,2830.2 1300.1,2829.8 1300.5,2830.4 1300.8,2828.7 1301.2,2828.9 1301.6,2827.5 1301.9,2829.3 1302.3,2828.8 1302.7,2829.1 1303,2828.8 1303.4,2827.7 1303.8,2827.8 1304.1,2826.9 1304.5,2827.1 1304.8,2828.2 1305.2,2827.1 1305.6,2827.8 1305.9,2827.1 1306.3,2828 1306.7,2827 1307,2828 1307.4,2826.7 1307.8,2826.4 1308.1,2825.5 1308.5,2826.5 1308.9,2826.8 1309.2,2827.5 1309.6,2825.8 1310,2826.6 1310.3,2826.3 1310.7,2826.8 1311.1,2825.9 1311.4,2826.4 1311.8,2828 1312.2,2828.1 1312.5,2827.3 1312.9,2826.4 1313.3,2826.8 1313.6,2827.2 1314,2827.3 1314.4,2827 1314.7,2827.7 1315.1,2827.8 1315.5,2828 1315.8,2828 1316.2,2828.6 1316.5,2828.2 1316.9,2829.7 1317.3,2829.1 1317.6,2828.4 1318,2828.7 1318.4,2829.6 1318.7,2830.3 1319.1,2828.5 1319.5,2829.7 1319.8,2830.4 1320.2,2829.6 1320.6,2829.3 1320.9,2830 1321.3,2830.1 1321.7,2831.2 1322,2830.5 1322.4,2830.5 1322.8,2829.9 1323.1,2830.5 1323.5,2831.2 1323.9,2831.7 1324.2,2831.5 1324.6,2831.6 1325,2831.4 1325.3,2831.7 1326.1,2830.9 1326.9,2830.2 1327.7,2830 1328.5,2831 1329.3,2829.9 1330.1,2830.7 1330.9,2831.3 1331.7,2830.9 1332.5,2831.5 1333.3,2831.6 1334.1,2831.4 1334.9,2831.6 1335.7,2831 1336.5,2831 1337.3,2831.6 1338.1,2831.5 1338.9,2831.5 1339.7,2833.3 1340.5,2832.8 1341.3,2833.2 1342.1,2831.9 1342.9,2830.8 1343.7,2831.5 1344.5,2831.8 1345.3,2832.5 1346.1,2831.6 1346.9,2832.9 1347.7,2831.8 1348.5,2832 1349.3,2832 1350.1,2832.7 1350.9,2832.2 1351.7,2832.4 1352.5,2833.3 1353.3,2831.9 1354.1,2832.8 1354.9,2831.4 1355.7,2831.9 1356.5,2831.5 1357.3,2832.1 1358.1,2831.8 1358.9,2832 1359.7,2832.5 1360.5,2832.9 1361.3,2832.9 1362.1,2832 1362.9,2831.8 1363.7,2831.5 1364.5,2831.6 1365.3,2831.1 1366.1,2831.9 1366.9,2831.7 1367.7,2831.9 1368.5,2832.1 1369.3,2832.1 1370.1,2831.2 1372.1,2831.8 1374,2831.7 1375.9,2830.5 1377.9,2831.3 1379.8,2831.4 1381.8,2830.5 1383.7,2831 1385.6,2832 1387.6,2831.6 1389.5,2832.7 1391.5,2831.9 1393.4,2832.6 1395.4,2832.6 1397.3,2832.3 1399.2,2832.4 1401.2,2832.2 1403.1,2831.2 1405.1,2831.9 1407,2831.6 1409,2832.2 1410.9,2831 1412.8,2831.3 1413.6,2830.5 1414.4,2830.3 1415.2,2830.8 1416,2829.9 1416.8,2831.3 1417.6,2831.3 1418.4,2831.2 1419.2,2831.1 1420,2831.8 1420.8,2830.6 1421.6,2831.4 1422.4,2831 1423.2,2830.6 1424,2831.1 1424.8,2831.8 1425.6,2830.8 1426.4,2831 1427.2,2832.3 1428,2832.7 1428.8,2832.4 1429.6,2832.4 1430.4,2832.4 1431.2,2831.9 1432,2831.5 1432.8,2831.8 1433.6,2831.6 1434.4,2830.8 1435.2,2831.5 1436,2831.3 1436.8,2831.8 1437.6,2831.2 1438.4,2831.4 1439.2,2830.8 1440,2830.8 1440.8,2831.2 1441.6,2830.9 1442.4,2831 1443.2,2829.9 1444,2829.2 1444.8,2830.2 1445.6,2829.9 1446.4,2829.4 1447.2,2830.3 1448,2830 1448.8,2829.5 1449.6,2829.6 1450.4,2830.2 1451.2,2829.4 1452,2829.5 1452.8,2830 1453.6,2829.2 1454.4,2828.8 1455.2,2830 1456,2829.3 1456.8,2828.3 1457.6,2828.4 1458.4,2826.4 1458.8,2827.5 1459.2,2827 1459.5,2827.4 1459.9,2827.6 1460.3,2826.5 1460.6,2826.4 1461,2826.8 1461.4,2827 1461.7,2827.2 1462.1,2825.8 1462.5,2824.8 1462.8,2825.4 1463.2,2825.6 1463.6,2825.1 1463.9,2825.3 1464.3,2825.3 1464.6,2826.1 1465,2825.2 1465.4,2824.5 1465.7,2823.7 1466.1,2824.4 1466.5,2822.7 1466.8,2822.1 1467.2,2823.3 1467.6,2822.5 1467.9,2821.3 1468.3,2822.1 1468.7,2821.2 1469,2821.2 1469.4,2820.8 1469.8,2821.7 1470.1,2821.1 1470.5,2819 1470.9,2819 1471.2,2819 1471.6,2819.4 1472,2818.5 1472.3,2818.7 1472.7,2818.9 1473.1,2818.3 1473.4,2818.3 1473.8,2818.8 1474.2,2818.4 1474.5,2818.3 1474.9,2818.4 1475.3,2818.1 1475.6,2819 1476,2818.9 1476.3,2818.9 1476.7,2819.5 1477.1,2819.8 1477.4,2820.1 1477.8,2819.4 1478.2,2818.6 1478.5,2818.5 1478.9,2818.7 1479.3,2819.1 1479.6,2819 1480,2819.7 1480.4,2821.4 1480.7,2821.3 1481.1,2821.8 1481.5,2822.6 1481.8,2821.7 1482.2,2822.9 1482.6,2822.5 1482.9,2821 1483.3,2820.8 1483.7,2822.2 1484,2822.2 1484.4,2824.2 1484.8,2824.1 1485.1,2823.2 1485.5,2824.9 1485.9,2825.5 1486.2,2825.8 1486.6,2825.3 1487,2826 1487.3,2825.8 1487.7,2826.4 1488,2826.7 1488.4,2826 1488.8,2826.1 1489.1,2827.3 1489.5,2826.6 1489.9,2826.1 1490.2,2826.7 1490.6,2827 1491,2826.3 1491.3,2826.1 1491.7,2825.5 1492.1,2826.1 1492.9,2827.1 1493.7,2826.1 1494.5,2826.1 1495.3,2827 1496.1,2827.8 1496.9,2827.7 1497.7,2828.4 1498.5,2829.2 1499.3,2828.8 1500.1,2830 1500.9,2828.6 1501.7,2828.7 1502.5,2828.1 1503.3,2828.2 1504.1,2829 1504.9,2829.7 1505.7,2829.3 1506.5,2828.9 1507.3,2829 1508.1,2827.9 1508.9,2828.2 1509.7,2827.9 1510.5,2827.6 1511.3,2826.2 1512.1,2827.4 1512.4,2827.8 1512.8,2828.3 1513.2,2827.3 1513.5,2827.9 1513.9,2827.5 1514.3,2827.8 1514.6,2826.1 1515,2826 1515.4,2826.5 1515.7,2827.5 1516.1,2827.3 1516.5,2826.8 1516.8,2825.8 1517.2,2827 1517.5,2826.3 1517.9,2825.7 1518.3,2825.6 1518.6,2825.1 1519,2826.1 1519.4,2826.7 1519.7,2825.9 1520.1,2826 1520.5,2825.5 1520.8,2825.9 1521.2,2826.2 1521.6,2826.5 1521.9,2826.4 1522.3,2825.7 1522.7,2825 1523,2824.6 1523.4,2823.8 1523.8,2823.7 1524.1,2824.3 1524.5,2823.3 1524.9,2822.4 1525.2,2822.9 1525.6,2822.2 1526,2822.2 1526.3,2822.2 1526.7,2821.5 1527.1,2822 1527.4,2823 1527.8,2823.4 1528.2,2823.5 1528.5,2822.1 1528.9,2820.6 1529.2,2821.3 1529.6,2822.6 1530,2822.5 1530.3,2822.6 1530.7,2822.3 1531.1,2822.8 1531.4,2822.9 1531.8,2822.8 1532.2,2824.5 1532.5,2824.6 1532.9,2823.6 1533.3,2823.7 1533.6,2824.1 1534,2824.2 1534.4,2824 1534.7,2824.3 1535.1,2824.2 1535.5,2825.1 1535.8,2825.8 1536.2,2825.1 1536.6,2825.1 1536.9,2826.7 1537.3,2826 1537.7,2825.2 1538,2825.5 1538.4,2826.3 1538.8,2827.3 1539.1,2826.8 1539.5,2826.5 1539.9,2826.1 1540.2,2826.8 1540.6,2827.6 1540.9,2827.3 1541.3,2828.6 1541.7,2828.6 1542,2827.7 1542.4,2827.2 1542.8,2827.5 1543.1,2828.3 1543.5,2828.2 1543.9,2829.5 1544.2,2829.5 1544.6,2830.3 1545,2828.4 1545.3,2829.2 1545.7,2829.6 1546.1,2829.9 1546.4,2829.7 1547.2,2829.4 1548,2830 1548.8,2829.3 1549.6,2829.2 1550.4,2830 1551.2,2828.8 1552,2828.9 1552.8,2828.9 1553.6,2829.8 1554.4,2829.5 1555.2,2829.4 1556,2830.3 1556.8,2830.4 1557.6,2831 1558.4,2831 1559.2,2831.3 1560,2832.6 1560.8,2831.3 1561.6,2831.6 1562.4,2831.8 1563.2,2832.4 1564,2831.6 1564.8,2831.2 1565.6,2830.7 1566.4,2830.4 1567.2,2831.2 1568,2831.7 1568.8,2831.5 1569.6,2829.9 1570.4,2830.8 1571.2,2831 1572,2830.7 1572.8,2831.8 1573.6,2831.5 1574.4,2831.6 1575.2,2831.3 1576,2831.5 1576.8,2831.2 1577.6,2831.8 1578.4,2831.9 1579.2,2831.6 1580,2831.2 1580.8,2831.9 1581.6,2831.6 1582.4,2831.7 1583.2,2831.7 1584,2831.3 1584.8,2830.7 1585.6,2831.8 1586.4,2831.6 1587.2,2832.8 1588,2831.4 1588.8,2831.2 1589.6,2829.6 1590.4,2830.3 1591.2,2831.5 1592,2833 1592.8,2832.7 1593.6,2832 1595.6,2832.4 1597.5,2832.7 1599.4,2832.4 1601.4,2832.8 1603.3,2832.5 1605.3,2832.4 1607.2,2831 1609.2,2832.1 1611.1,2831.9 1613,2831.9 1615,2832.2 1616.9,2830.7 1618.9,2831.2 1620.8,2831.9 1622.8,2831.5 1624.7,2831.9 1626.6,2832.7 1628.6,2832.4 1630.5,2832.9 1632.5,2833.2 1634.4,2832.7 1636.4,2832.9 1638.3,2833 1640.2,2832.2 1642.2,2832 1644.1,2832.3 1646.1,2833.6 1648,2833.8 1649.9,2832.3 1651.9,2833.1 1653.8,2832.8 1655.8,2832.8 1657.7,2833.4 1659.7,2832.5 1661.6,2832.5 1663.5,2832.9 1665.5,2831.2 1667.4,2831.4 1669.4,2832.1 1671.3,2833 1673.3,2832.5 1674.1,2831.3 1674.9,2832.3 1675.7,2831.7 1676.5,2832.9 1677.3,2831.8 1678.1,2831.9 1678.9,2831.9 1679.7,2831 1680.5,2832.2 1681.3,2832.5 1682.1,2831.9 1682.9,2832.5 1683.7,2833.7 1684.5,2833.1 1685.3,2831.6 1686.1,2830.3 1686.9,2832.5 1687.7,2830.7 1688.5,2831.8 1689.3,2831.7 1690.1,2830.2 1690.9,2831.6 1691.7,2830.6 1692.5,2831.2 1693.3,2832.3 1694.1,2832.2 1694.9,2833.2 1695.7,2832.7 1696.5,2832.2 1697.3,2830.8 1698.1,2830.5 1698.9,2831 1699.7,2832.1 1700.5,2832.2 1701.3,2832.6 1702.1,2832.3 1702.9,2832.7 1703.7,2831.9 1704.5,2833.3 1705.2,2831.6 1706,2831.8 1706.8,2830.8 1707.6,2830.4 1708.4,2830.1 1709.2,2831 1710,2831.8 1710.8,2830.6 1711.6,2831.2 1712.4,2831.2 1713.2,2830.3 1714,2830 1714.8,2829.9 1715.6,2830.7 1716.4,2831.2 1717.2,2831.6 1718,2831.7 1718.8,2830.3 1719.6,2831 1720.4,2830.4 1721.2,2830.6 1722,2830.1 1722.8,2829.8 1723.6,2829.4 1724,2828.6 1724.4,2829 1724.7,2828.7 1725.1,2827.4 1725.5,2826.7 1725.8,2827.5 1726.2,2827.3 1726.6,2828.5 1726.9,2827.8 1727.3,2828.1 1727.7,2827.6 1728,2827.3 1728.4,2827.9 1728.8,2828.3 1729.1,2828.8 1729.5,2827.5 1729.9,2827.7 1730.2,2826.4 1730.6,2826 1731,2825.3 1731.3,2826.1 1731.7,2826.8 1732.1,2826.5 1732.4,2825 1732.8,2824.5 1733.2,2826 1733.5,2825.7 1733.9,2826.4 1734.2,2826.1 1734.6,2825.1 1735,2824.4 1735.3,2823.6 1735.7,2823.5 1736.1,2821.3 1736.4,2823 1736.8,2823.4 1737.2,2822.5 1737.5,2821.4 1737.9,2822.2 1738.3,2821.6 1738.6,2822.4 1739,2822 1739.4,2821.5 1739.7,2820.7 1740.1,2819.8 1740.5,2820.1 1740.8,2819.9 1741.2,2819.6 1741.6,2820 1741.9,2820.9 1742.3,2820.5 1742.7,2819.5 1743,2819 1743.4,2820 1743.8,2820.6 1744.1,2821.7 1744.5,2821.1 1744.9,2821 1745.2,2821.8 1745.6,2822.1 1745.9,2821.1 1746.3,2822.7 1746.7,2822.8 1747,2821.7 1747.4,2821.9 1747.8,2822.2 1748.1,2822.4 1748.5,2822.8 1748.9,2824 1749.2,2823.8 1749.6,2824.5 1750,2824.5 1750.3,2823.9 1750.7,2824.6 1751.1,2824 1751.4,2824.5 1751.8,2825.7 1752.2,2826.8 1752.5,2825.6 1752.9,2825.7 1753.3,2825.6 1753.6,2826.2 1754,2827.2 1754.4,2827.8 1754.7,2828.2 1755.1,2828.7 1755.5,2829.3 1755.8,2829.3 1756.2,2827 1756.6,2826.5 1756.9,2825.7 1757.3,2828.2 1757.6,2828.8 1758,2829.2 1758.4,2829.7 1758.7,2830.8 1759.1,2830.7 1759.5,2828.7 1759.8,2828.6 1760.2,2828.2 1760.6,2828.4 1760.9,2828.3 1761.7,2829.3 1762.5,2829.6 1763.3,2830.3 1764.1,2829.7 1764.9,2829.5 1765.7,2829.9 1766.5,2830.4 1767.3,2831.3 1768.1,2831 1768.9,2830.7 1769.7,2830.5 1770.5,2830.1 1771.3,2830.3 1772.1,2831.1 1772.9,2831.1 1773.7,2831.2 1774.5,2831.3 1775.3,2831.4 1776.1,2831.5 1776.9,2832 1777.7,2831.9 1778.5,2831.4 1778.9,2831.6"/>
<g filter="url(#bin)">
<text transform="translate(189.01 89.68) scale(1.0073 1)" font-family="'Liberation Sans', Arial, sans-serif" font-weight="normal" font-size="59.04">(a)</text>
<text transform="translate(189.79 1632.62) scale(1.0171 1)" font-family="'Liberation Sans', Arial, sans-serif" font-weight="normal" font-size="58.82">(b)</text>
<text transform="translate(1223.67 78.62) scale(0.9961 1)" font-family="'Liberation Sans', Arial, sans-serif" font-weight="normal" font-size="49.58">0.1M</text>
<text transform="translate(1481.96 78.20) scale(0.9900 1)" font-family="'Liberation Sans', Arial, sans-serif" font-weight="normal" font-size="49.56">1M</text>
<text transform="translate(1698.21 77.72) scale(1.0158 1)" font-family="'Liberation Sans', Arial, sans-serif" font-weight="normal" font-size="48.87">5M</text>
<text transform="translate(1220.66 1618.91) scale(0.9877 1)" font-family="'Liberation Sans', Arial, sans-serif" font-weight="normal" font-size="50.28">0.1M</text>
<text transform="translate(1479.44 1618.90) scale(0.9793 1)" font-family="'Liberation Sans', Arial, sans-serif" font-weight="normal" font-size="50.44">1M</text>
<text transform="translate(1697.04 1618.41) scale(0.9839 1)" font-family="'Liberation Sans', Arial, sans-serif" font-weight="normal" font-size="49.73">5M</text>
<text transform="translate(1592.69 201.40) scale(0.9050 1)" font-family="'Liberation Sans', Arial, sans-serif" font-weight="bold" font-size="50.99">180°C</text>
<text transform="translate(1595.91 809.92) scale(0.9382 1)" font-family="'Liberation Sans', Arial, sans-serif" font-weight="bold" font-size="48.87">150°C</text>
<text transform="translate(1595.87 1079.43) scale(0.9594 1)" font-family="'Liberation Sans', Arial, sans-serif" font-weight="bold" font-size="48.45">120°C</text>
<text transform="translate(1645.37 1787.21) scale(0.9322 1)" font-family="'Liberation Sans', Arial, sans-serif" font-weight="bold" font-size="49.86">180°C</text>
<text transform="translate(1645.37 2328.01) scale(0.9218 1)" font-family="'Liberation Sans', Arial, sans-serif" font-weight="bold" font-size="50.42">150°C</text>
<text transform="translate(1635.43 2632.81) scale(0.9448 1)" font-family="'Liberation Sans', Arial, sans-serif" font-weight="bold" font-size="49.86">120°C</text>
<text transform="translate(155.85 1384.52) scale(0.9200 1)" font-family="'Liberation Sans', Arial, sans-serif" font-weight="bold" font-size="49.43">20</text>
<text transform="translate(384.40 1384.44) scale(0.9200 1)" font-family="'Liberation Sans', Arial, sans-serif" font-weight="bold" font-size="49.43">30</text>
<text transform="translate(612.87 1384.52) scale(0.9200 1)" font-family="'Liberation Sans', Arial, sans-serif" font-weight="bold" font-size="49.43">40</text>
<text transform="translate(840.80 1384.52) scale(0.9200 1)" font-family="'Liberation Sans', Arial, sans-serif" font-weight="bold" font-size="49.43">50</text>
<text transform="translate(1068.95 1384.52) scale(0.9200 1)" font-family="'Liberation Sans', Arial, sans-serif" font-weight="bold" font-size="49.43">60</text>
<text transform="translate(1297.09 1384.52) scale(0.9200 1)" font-family="'Liberation Sans', Arial, sans-serif" font-weight="bold" font-size="49.43">70</text>
<text transform="translate(1525.63 1384.52) scale(0.9200 1)" font-family="'Liberation Sans', Arial, sans-serif" font-weight="bold" font-size="49.43">80</text>
<text transform="translate(1753.85 1384.52) scale(0.9200 1)" font-family="'Liberation Sans', Arial, sans-serif" font-weight="bold" font-size="49.43">90</text>
<text transform="translate(154.51 2927.22) scale(0.9200 1)" font-family="'Liberation Sans', Arial, sans-serif" font-weight="bold" font-size="48.73">20</text>
<text transform="translate(383.29 2927.15) scale(0.9200 1)" font-family="'Liberation Sans', Arial, sans-serif" font-weight="bold" font-size="48.73">30</text>
<text transform="translate(611.98 2927.22) scale(0.9200 1)" font-family="'Liberation Sans', Arial, sans-serif" font-weight="bold" font-size="48.73">40</text>
<text transform="translate(840.14 2927.22) scale(0.9200 1)" font-family="'Liberation Sans', Arial, sans-serif" font-weight="bold" font-size="48.73">50</text>
<text transform="translate(1068.52 2927.22) scale(0.9200 1)" font-family="'Liberation Sans', Arial, sans-serif" font-weight="bold" font-size="48.73">60</text>
<text transform="translate(1296.90 2927.22) scale(0.9200 1)" font-family="'Liberation Sans', Arial, sans-serif" font-weight="bold" font-size="48.73">70</text>
<text transform="translate(1525.66 2927.22) scale(0.9200 1)" font-family="'Liberation Sans', Arial, sans-serif" font-weight="bold" font-size="48.73">80</text>
<text transform="translate(1754.11 2927.22) scale(0.9200 1)" font-family="'Liberation Sans', Arial, sans-serif" font-weight="bold" font-size="48.73">90</text>
<text transform="translate(664.80 1609.15) scale(1.0431 1)" font-family="'Liberation Sans', Arial, sans-serif" font-weight="bold" font-size="48.58">●</text>
<text transform="translate(694.14 1611.26) scale(0.9520 1)" font-family="'Liberation Sans', Arial, sans-serif" font-weight="bold" font-size="45.20">CeO</text>
<text transform="translate(780.39 1628.20) scale(1.1075 1)" font-family="'Liberation Sans', Arial, sans-serif" font-weight="bold" font-size="23.63">2</text>
<text transform="translate(891.53 1619.63) scale(1.2385 1)" font-family="'Liberation Sans', Arial, sans-serif" font-weight="bold" font-size="45.69">*</text>
<text transform="translate(919.76 1611.26) scale(0.9372 1)" font-family="'Liberation Sans', Arial, sans-serif" font-weight="bold" font-size="45.20">CuO</text>
<text transform="translate(520.72 1903.80) scale(1.1211 1)" font-family="'Liberation Sans', Arial, sans-serif" font-weight="bold" font-size="53.48">*</text>
<text transform="translate(589.82 1903.80) scale(1.1211 1)" font-family="'Liberation Sans', Arial, sans-serif" font-weight="bold" font-size="53.48">*</text>
<text transform="translate(936.37 1497.10) scale(1.0830 1)" font-family="'Liberation Serif', 'Times New Roman', serif" font-weight="bold" font-size="57.85">2</text>
<text transform="translate(969.07 1497.36) scale(1.2798 1)" font-family="'Liberation Serif', 'Times New Roman', serif" font-weight="normal" font-size="55.29" stroke="#000" stroke-width="1.56" stroke-linejoin="round">ϑ</text>
<text transform="translate(1003.23 1486.24) scale(1.1479 1)" font-family="'Liberation Serif', 'Times New Roman', serif" font-weight="bold" font-size="46.83" stroke="#000" stroke-width="1.39" stroke-linejoin="round">°</text>
<text transform="translate(929.96 3047.10) scale(1.1027 1)" font-family="'Liberation Serif', 'Times New Roman', serif" font-weight="bold" font-size="63.58">2</text>
<text transform="translate(966.90 3047.22) scale(1.2849 1)" font-family="'Liberation Serif', 'Times New Roman', serif" font-weight="normal" font-size="59.27" stroke="#000" stroke-width="1.71" stroke-linejoin="round">ϑ</text>
<text transform="translate(1005.00 3036.43) scale(1.0185 1)" font-family="'Liberation Serif', 'Times New Roman', serif" font-weight="bold" font-size="53.43" stroke="#000" stroke-width="1.77" stroke-linejoin="round">°</text>
<text transform="translate(90.80 889.88) rotate(-90) scale(1.0117 1)" font-family="'Liberation Sans', Arial, sans-serif" font-weight="bold" font-size="58.79">Intensity (a.u)</text>
<text transform="translate(77.88 2432.79) rotate(-90) scale(1.0123 1)" font-family="'Liberation Sans', Arial, sans-serif" font-weight="bold" font-size="58.90">Intensity (a.u)</text>
<text transform="translate(389.71 135.87) rotate(-90) scale(1.0150 1)" font-family="'Liberation Serif', 'Times New Roman', serif" font-weight="bold" font-size="48.69">(111)</text>
<text transform="translate(494.66 296.97) rotate(-90) scale(1.0150 1)" font-family="'Liberation Serif', 'Times New Roman', serif" font-weight="bold" font-size="48.69">(200)</text>
<text transform="translate(824.96 240.72) rotate(-90) scale(1.0150 1)" font-family="'Liberation Serif', 'Times New Roman', serif" font-weight="bold" font-size="48.69">(220)</text>
<text transform="translate(1028.76 279.97) rotate(-90) scale(1.0150 1)" font-family="'Liberation Serif', 'Times New Roman', serif" font-weight="bold" font-size="48.69">(311)</text>
<text transform="translate(1094.46 354.37) rotate(-90) scale(1.0150 1)" font-family="'Liberation Serif', 'Times New Roman', serif" font-weight="bold" font-size="48.69">(222)</text>
<text transform="translate(1323.86 359.22) rotate(-90) scale(1.0150 1)" font-family="'Liberation Serif', 'Times New Roman', serif" font-weight="bold" font-size="48.69">(400)</text>
<text transform="translate(1490.11 338.72) rotate(-90) scale(1.0150 1)" font-family="'Liberation Serif', 'Times New Roman', serif" font-weight="bold" font-size="48.69">(331)</text>
<text transform="translate(1546.86 357.82) rotate(-90) scale(1.0150 1)" font-family="'Liberation Serif', 'Times New Roman', serif" font-weight="bold" font-size="48.69">(420)</text>
<text transform="translate(1757.91 347.92) rotate(-90) scale(1.0150 1)" font-family="'Liberation Serif', 'Times New Roman', serif" font-weight="bold" font-size="48.69">(422)</text>
<circle cx="375.7" cy="1632.9" r="11"/>
<circle cx="480.0" cy="1802.7" r="11"/>
<circle cx="811.8" cy="1755.6" r="11"/>
<circle cx="1017.1" cy="1788.7" r="11"/>
<circle cx="1073.7" cy="1874.4" r="11"/>
<circle cx="1309.9" cy="1871.6" r="11"/>
<circle cx="1477.0" cy="1853.7" r="11"/>
<circle cx="1533.8" cy="1874.5" r="11"/>
<circle cx="1747.7" cy="1868.6" r="11"/>
<line x1="1101.5" y1="61.4" x2="1211.3" y2="61.4" stroke="#000" stroke-width="6.5" stroke-linecap="round"/>
<line x1="1358.2" y1="61.1" x2="1468.5" y2="61.1" stroke="#f00" stroke-width="6.5" stroke-linecap="round"/>
<line x1="1575.8" y1="61.1" x2="1685.5" y2="61.1" stroke="#00f" stroke-width="6.5" stroke-linecap="round"/>
<line x1="1098.0" y1="1600.8" x2="1207.0" y2="1600.8" stroke="#000" stroke-width="8.0" stroke-linecap="round"/>
<line x1="1355.8" y1="1600.9" x2="1464.6" y2="1600.9" stroke="#f00" stroke-width="8.0" stroke-linecap="round"/>
<line x1="1574.0" y1="1600.9" x2="1682.6" y2="1600.9" stroke="#00f" stroke-width="8.0" stroke-linecap="round"/>
</g>
</svg>
</body></html>
